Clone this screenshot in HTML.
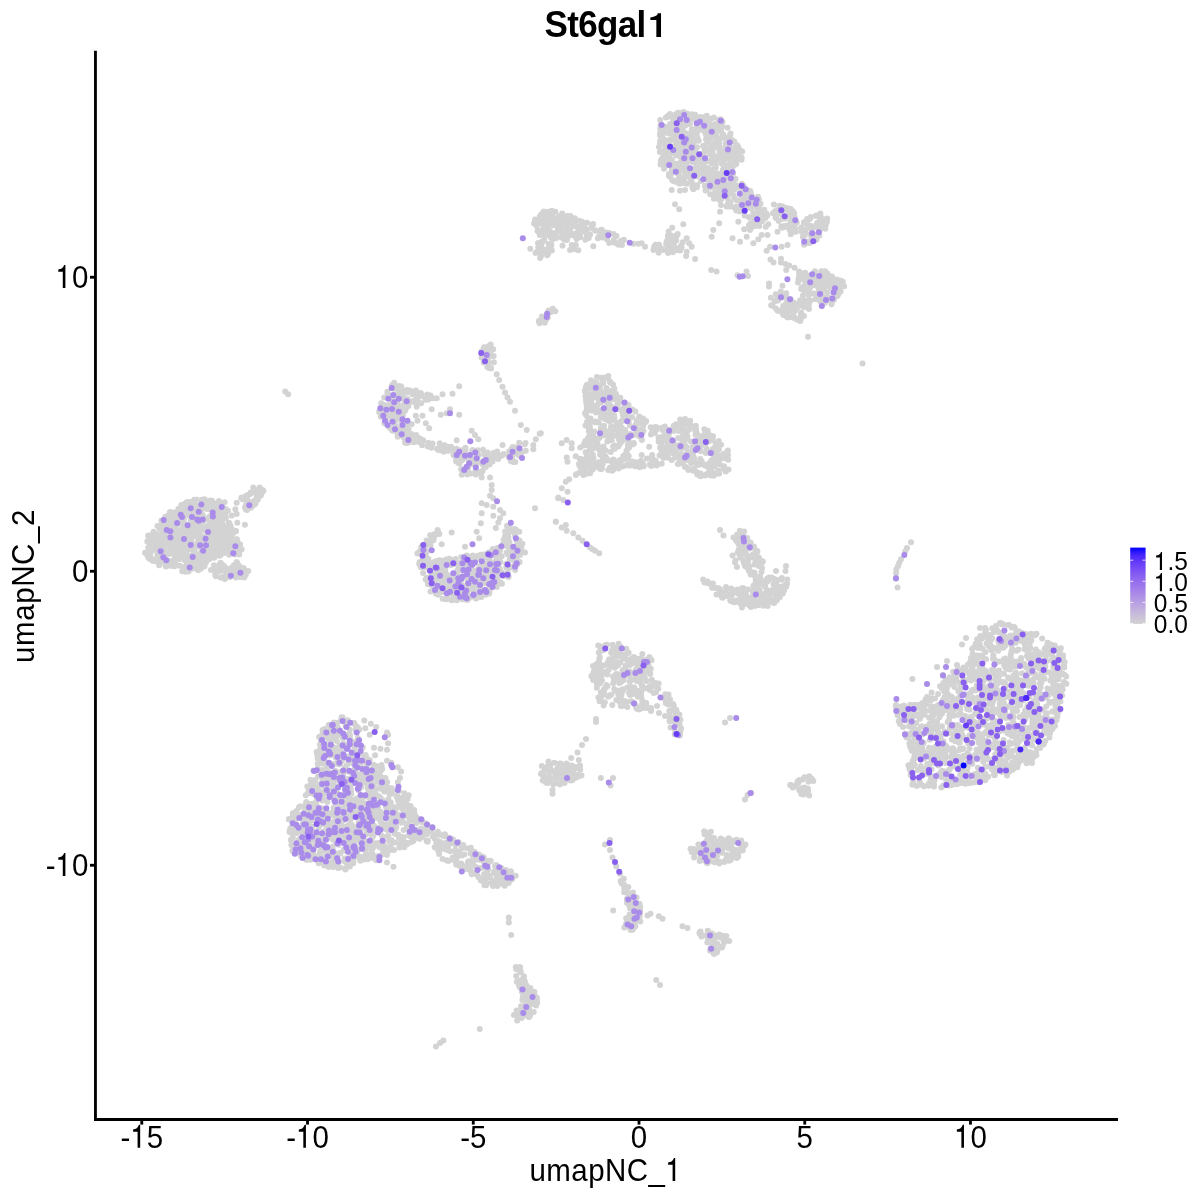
<!DOCTYPE html>
<html><head><meta charset="utf-8"><style>
html,body{margin:0;padding:0;background:#fff;width:1200px;height:1200px;overflow:hidden}
svg{display:block;will-change:transform}
.t{font-family:"Liberation Sans",sans-serif;font-size:29.5px;fill:#000}
.ti{font-family:"Liberation Sans",sans-serif;font-size:35px;font-weight:bold;fill:#000}
.lg{font-family:"Liberation Sans",sans-serif;font-size:24.5px;fill:#000}
</style></head><body>
<svg width="1200" height="1200" viewBox="0 0 1200 1200">
<rect width="1200" height="1200" fill="#fff"/>
<g transform="translate(604.50,37.00) scale(1,1.045)"><text id="t10" text-anchor="middle" class="ti" letter-spacing="-0.65">St6gal </text><path transform="translate(41.12,0) scale(0.017090,-0.017090)" d="M901 0H628V948H277V1097Q420 1120 503 1142Q620 1180 673 1232Q700 1280 708 1336H901Z"/></g>
<g fill="#D3D3D3"><circle cx="563.6" cy="217.4" r="3.0"/><circle cx="582.3" cy="227.6" r="3.0"/><circle cx="540.1" cy="234.3" r="3.0"/><circle cx="538.3" cy="230.8" r="3.0"/><circle cx="541.2" cy="214.6" r="3.0"/><circle cx="545.9" cy="220.9" r="3.0"/><circle cx="586.0" cy="229.0" r="3.0"/><circle cx="547.7" cy="215.9" r="3.0"/><circle cx="551.0" cy="237.8" r="3.0"/><circle cx="591.4" cy="227.9" r="3.0"/><circle cx="540.3" cy="220.0" r="3.0"/><circle cx="595.1" cy="230.5" r="3.0"/><circle cx="562.7" cy="238.0" r="3.0"/><circle cx="575.0" cy="224.5" r="3.0"/><circle cx="556.6" cy="237.4" r="3.0"/><circle cx="548.4" cy="233.4" r="3.0"/><circle cx="602.5" cy="237.4" r="3.0"/><circle cx="586.2" cy="231.9" r="3.0"/><circle cx="540.4" cy="243.4" r="3.0"/><circle cx="549.8" cy="215.9" r="3.0"/><circle cx="540.2" cy="246.6" r="3.0"/><circle cx="546.4" cy="222.0" r="3.0"/><circle cx="542.1" cy="231.5" r="3.0"/><circle cx="559.6" cy="229.9" r="3.0"/><circle cx="550.6" cy="221.3" r="3.0"/><circle cx="555.6" cy="233.2" r="3.0"/><circle cx="587.0" cy="222.7" r="3.0"/><circle cx="567.6" cy="237.0" r="3.0"/><circle cx="619.2" cy="242.9" r="3.0"/><circle cx="569.7" cy="229.2" r="3.0"/><circle cx="544.1" cy="240.3" r="3.0"/><circle cx="553.4" cy="218.0" r="3.0"/><circle cx="544.0" cy="227.5" r="3.0"/><circle cx="537.3" cy="251.6" r="3.0"/><circle cx="557.3" cy="226.7" r="3.0"/><circle cx="567.2" cy="216.1" r="3.0"/><circle cx="576.2" cy="233.2" r="3.0"/><circle cx="542.6" cy="215.2" r="3.0"/><circle cx="565.3" cy="222.8" r="3.0"/><circle cx="558.1" cy="227.6" r="3.0"/><circle cx="549.8" cy="246.7" r="3.0"/><circle cx="564.1" cy="220.9" r="3.0"/><circle cx="555.0" cy="234.7" r="3.0"/><circle cx="537.5" cy="223.5" r="3.0"/><circle cx="554.5" cy="221.0" r="3.0"/><circle cx="552.4" cy="220.0" r="3.0"/><circle cx="609.2" cy="232.9" r="3.0"/><circle cx="542.5" cy="241.5" r="3.0"/><circle cx="601.3" cy="232.9" r="3.0"/><circle cx="550.8" cy="247.6" r="3.0"/><circle cx="546.2" cy="217.5" r="3.0"/><circle cx="547.9" cy="249.3" r="3.0"/><circle cx="621.6" cy="241.3" r="3.0"/><circle cx="566.0" cy="236.2" r="3.0"/><circle cx="620.8" cy="241.0" r="3.0"/><circle cx="557.2" cy="224.2" r="3.0"/><circle cx="556.2" cy="238.0" r="3.0"/><circle cx="557.9" cy="230.1" r="3.0"/><circle cx="546.6" cy="253.3" r="3.0"/><circle cx="566.3" cy="231.9" r="3.0"/><circle cx="579.3" cy="235.4" r="3.0"/><circle cx="573.9" cy="219.0" r="3.0"/><circle cx="550.2" cy="232.7" r="3.0"/><circle cx="599.1" cy="236.6" r="3.0"/><circle cx="563.8" cy="234.8" r="3.0"/><circle cx="544.4" cy="236.8" r="3.0"/><circle cx="557.0" cy="223.4" r="3.0"/><circle cx="603.2" cy="234.3" r="3.0"/><circle cx="589.1" cy="234.2" r="3.0"/><circle cx="575.0" cy="235.5" r="3.0"/><circle cx="545.7" cy="231.2" r="3.0"/><circle cx="541.4" cy="221.7" r="3.0"/><circle cx="541.5" cy="241.9" r="3.0"/><circle cx="548.6" cy="244.1" r="3.0"/><circle cx="570.2" cy="233.3" r="3.0"/><circle cx="549.3" cy="230.7" r="3.0"/><circle cx="580.5" cy="226.3" r="3.0"/><circle cx="552.3" cy="225.4" r="3.0"/><circle cx="583.9" cy="231.1" r="3.0"/><circle cx="536.6" cy="226.0" r="3.0"/><circle cx="590.1" cy="234.5" r="3.0"/><circle cx="540.7" cy="256.8" r="3.0"/><circle cx="544.3" cy="222.9" r="3.0"/><circle cx="538.5" cy="247.1" r="3.0"/><circle cx="558.9" cy="216.4" r="3.0"/><circle cx="548.2" cy="253.7" r="3.0"/><circle cx="542.9" cy="213.0" r="3.0"/><circle cx="595.8" cy="230.4" r="3.0"/><circle cx="541.4" cy="254.6" r="3.0"/><circle cx="542.4" cy="250.7" r="3.0"/><circle cx="540.9" cy="251.0" r="3.0"/><circle cx="575.1" cy="226.3" r="3.0"/><circle cx="558.7" cy="216.4" r="3.0"/><circle cx="581.5" cy="221.6" r="3.0"/><circle cx="544.7" cy="217.9" r="3.0"/><circle cx="539.5" cy="219.9" r="3.0"/><circle cx="562.6" cy="224.7" r="3.0"/><circle cx="599.8" cy="236.3" r="3.0"/><circle cx="551.7" cy="232.7" r="3.0"/><circle cx="569.7" cy="234.2" r="3.0"/><circle cx="570.7" cy="226.7" r="3.0"/><circle cx="539.8" cy="216.5" r="3.0"/><circle cx="541.2" cy="245.3" r="3.0"/><circle cx="557.6" cy="218.0" r="3.0"/><circle cx="542.5" cy="250.0" r="3.0"/><circle cx="559.9" cy="221.8" r="3.0"/><circle cx="560.9" cy="232.0" r="3.0"/><circle cx="548.9" cy="231.4" r="3.0"/><circle cx="562.3" cy="227.2" r="3.0"/><circle cx="576.9" cy="234.0" r="3.0"/><circle cx="552.8" cy="234.1" r="3.0"/><circle cx="535.4" cy="222.8" r="3.0"/><circle cx="542.9" cy="229.2" r="3.0"/><circle cx="561.9" cy="221.3" r="3.0"/><circle cx="586.7" cy="235.3" r="3.0"/><circle cx="569.4" cy="225.7" r="3.0"/><circle cx="538.9" cy="249.7" r="3.0"/><circle cx="613.8" cy="239.9" r="3.0"/><circle cx="547.3" cy="235.0" r="3.0"/><circle cx="555.3" cy="211.8" r="3.0"/><circle cx="546.8" cy="227.3" r="3.0"/><circle cx="544.3" cy="249.8" r="3.0"/><circle cx="579.4" cy="235.6" r="3.0"/><circle cx="541.6" cy="222.9" r="3.0"/><circle cx="578.6" cy="228.4" r="3.0"/><circle cx="548.0" cy="222.3" r="3.0"/><circle cx="540.4" cy="223.0" r="3.0"/><circle cx="580.6" cy="232.2" r="3.0"/><circle cx="574.7" cy="223.0" r="3.0"/><circle cx="553.6" cy="237.8" r="3.0"/><circle cx="547.5" cy="235.1" r="3.0"/><circle cx="607.5" cy="234.3" r="3.0"/><circle cx="574.8" cy="224.6" r="3.0"/><circle cx="547.4" cy="226.6" r="3.0"/><circle cx="567.9" cy="228.9" r="3.0"/><circle cx="566.9" cy="230.5" r="3.0"/><circle cx="544.0" cy="249.7" r="3.0"/><circle cx="557.0" cy="222.9" r="3.0"/><circle cx="599.7" cy="231.6" r="3.0"/><circle cx="576.7" cy="226.5" r="3.0"/><circle cx="592.9" cy="224.5" r="3.0"/><circle cx="584.2" cy="228.9" r="3.0"/><circle cx="549.8" cy="218.0" r="3.0"/><circle cx="578.9" cy="220.7" r="3.0"/><circle cx="552.0" cy="214.6" r="3.0"/><circle cx="556.1" cy="222.5" r="3.0"/><circle cx="601.2" cy="229.8" r="3.0"/><circle cx="571.6" cy="235.1" r="3.0"/><circle cx="568.3" cy="226.3" r="3.0"/><circle cx="540.5" cy="223.4" r="3.0"/><circle cx="558.9" cy="222.1" r="3.0"/><circle cx="570.3" cy="231.4" r="3.0"/><circle cx="544.6" cy="217.6" r="3.0"/><circle cx="618.2" cy="244.4" r="3.0"/><circle cx="575.4" cy="236.3" r="3.0"/><circle cx="538.5" cy="247.2" r="3.0"/><circle cx="592.0" cy="224.7" r="3.0"/><circle cx="546.3" cy="222.2" r="3.0"/><circle cx="544.9" cy="213.7" r="3.0"/><circle cx="569.3" cy="220.9" r="3.0"/><circle cx="535.1" cy="219.5" r="3.0"/><circle cx="540.3" cy="216.2" r="3.0"/><circle cx="543.8" cy="211.4" r="3.0"/><circle cx="548.4" cy="211.8" r="3.0"/><circle cx="551.8" cy="210.8" r="3.0"/><circle cx="562.1" cy="213.6" r="3.0"/><circle cx="570.5" cy="216.0" r="3.0"/><circle cx="574.8" cy="218.2" r="3.0"/><circle cx="584.9" cy="222.9" r="3.0"/><circle cx="593.1" cy="223.9" r="3.0"/><circle cx="601.9" cy="229.9" r="3.0"/><circle cx="606.6" cy="232.5" r="3.0"/><circle cx="613.5" cy="234.0" r="3.0"/><circle cx="616.5" cy="235.9" r="3.0"/><circle cx="623.9" cy="239.7" r="3.0"/><circle cx="622.0" cy="245.0" r="3.0"/><circle cx="618.6" cy="244.5" r="3.0"/><circle cx="614.8" cy="242.8" r="3.0"/><circle cx="607.0" cy="239.6" r="3.0"/><circle cx="597.9" cy="238.3" r="3.0"/><circle cx="588.7" cy="238.1" r="3.0"/><circle cx="585.4" cy="239.8" r="3.0"/><circle cx="580.1" cy="237.2" r="3.0"/><circle cx="576.6" cy="239.0" r="3.0"/><circle cx="566.9" cy="240.0" r="3.0"/><circle cx="564.4" cy="239.8" r="3.0"/><circle cx="561.4" cy="237.2" r="3.0"/><circle cx="552.7" cy="239.2" r="3.0"/><circle cx="551.3" cy="244.7" r="3.0"/><circle cx="551.9" cy="250.6" r="3.0"/><circle cx="547.1" cy="255.2" r="3.0"/><circle cx="540.1" cy="257.9" r="3.0"/><circle cx="535.6" cy="253.0" r="3.0"/><circle cx="538.0" cy="242.9" r="3.0"/><circle cx="539.8" cy="234.9" r="3.0"/><circle cx="537.6" cy="231.1" r="3.0"/><circle cx="534.0" cy="223.5" r="3.0"/><circle cx="540.7" cy="321.0" r="3.0"/><circle cx="543.8" cy="320.7" r="3.0"/><circle cx="550.7" cy="312.2" r="3.0"/><circle cx="547.2" cy="313.5" r="3.0"/><circle cx="546.2" cy="319.6" r="3.0"/><circle cx="544.8" cy="318.2" r="3.0"/><circle cx="539.6" cy="321.6" r="3.0"/><circle cx="542.6" cy="317.3" r="3.0"/><circle cx="538.9" cy="320.9" r="3.0"/><circle cx="541.9" cy="316.4" r="3.0"/><circle cx="548.5" cy="310.6" r="3.0"/><circle cx="552.8" cy="308.7" r="3.0"/><circle cx="555.3" cy="311.3" r="3.0"/><circle cx="547.8" cy="317.5" r="3.0"/><circle cx="544.8" cy="322.7" r="3.0"/><circle cx="539.5" cy="323.2" r="3.0"/><circle cx="538.3" cy="231.3" r="3.0"/><circle cx="530.3" cy="248.7" r="3.0"/><circle cx="562.5" cy="245.8" r="3.0"/><circle cx="571.7" cy="245.0" r="3.0"/><circle cx="574.2" cy="249.2" r="3.0"/><circle cx="578.3" cy="250.3" r="3.0"/><circle cx="570.0" cy="250.0" r="3.0"/><circle cx="575.8" cy="245.0" r="3.0"/><circle cx="593.3" cy="246.3" r="3.0"/><circle cx="609.2" cy="243.0" r="3.0"/><circle cx="633.3" cy="243.7" r="3.0"/><circle cx="638.3" cy="243.7" r="3.0"/><circle cx="707.7" cy="142.6" r="3.0"/><circle cx="726.5" cy="137.7" r="3.0"/><circle cx="698.9" cy="128.9" r="3.0"/><circle cx="680.8" cy="142.0" r="3.0"/><circle cx="724.3" cy="188.0" r="3.0"/><circle cx="680.7" cy="113.8" r="3.0"/><circle cx="678.7" cy="148.7" r="3.0"/><circle cx="718.6" cy="119.8" r="3.0"/><circle cx="669.5" cy="158.3" r="3.0"/><circle cx="718.8" cy="186.5" r="3.0"/><circle cx="668.4" cy="131.5" r="3.0"/><circle cx="734.8" cy="160.0" r="3.0"/><circle cx="689.5" cy="148.1" r="3.0"/><circle cx="720.7" cy="153.9" r="3.0"/><circle cx="680.7" cy="113.2" r="3.0"/><circle cx="676.2" cy="114.2" r="3.0"/><circle cx="719.0" cy="186.7" r="3.0"/><circle cx="726.8" cy="155.5" r="3.0"/><circle cx="713.8" cy="129.4" r="3.0"/><circle cx="689.5" cy="172.9" r="3.0"/><circle cx="682.8" cy="159.4" r="3.0"/><circle cx="751.4" cy="208.5" r="3.0"/><circle cx="678.5" cy="137.8" r="3.0"/><circle cx="702.3" cy="172.5" r="3.0"/><circle cx="700.5" cy="126.8" r="3.0"/><circle cx="720.2" cy="200.2" r="3.0"/><circle cx="718.8" cy="185.1" r="3.0"/><circle cx="692.0" cy="161.2" r="3.0"/><circle cx="722.4" cy="161.8" r="3.0"/><circle cx="730.8" cy="164.3" r="3.0"/><circle cx="726.4" cy="169.2" r="3.0"/><circle cx="678.1" cy="167.3" r="3.0"/><circle cx="670.1" cy="127.4" r="3.0"/><circle cx="705.7" cy="123.1" r="3.0"/><circle cx="706.9" cy="171.6" r="3.0"/><circle cx="763.6" cy="218.6" r="3.0"/><circle cx="674.1" cy="170.7" r="3.0"/><circle cx="687.2" cy="171.1" r="3.0"/><circle cx="693.4" cy="116.8" r="3.0"/><circle cx="678.4" cy="131.2" r="3.0"/><circle cx="716.7" cy="186.2" r="3.0"/><circle cx="719.4" cy="179.7" r="3.0"/><circle cx="721.8" cy="154.2" r="3.0"/><circle cx="731.3" cy="148.7" r="3.0"/><circle cx="705.9" cy="171.9" r="3.0"/><circle cx="697.4" cy="124.8" r="3.0"/><circle cx="697.6" cy="138.5" r="3.0"/><circle cx="722.5" cy="180.7" r="3.0"/><circle cx="710.6" cy="128.1" r="3.0"/><circle cx="674.8" cy="123.6" r="3.0"/><circle cx="687.4" cy="113.8" r="3.0"/><circle cx="729.3" cy="177.6" r="3.0"/><circle cx="696.9" cy="187.3" r="3.0"/><circle cx="716.8" cy="159.5" r="3.0"/><circle cx="684.5" cy="119.3" r="3.0"/><circle cx="674.0" cy="135.6" r="3.0"/><circle cx="725.2" cy="171.2" r="3.0"/><circle cx="677.5" cy="148.3" r="3.0"/><circle cx="691.4" cy="118.1" r="3.0"/><circle cx="756.2" cy="203.2" r="3.0"/><circle cx="751.2" cy="198.8" r="3.0"/><circle cx="708.1" cy="138.7" r="3.0"/><circle cx="669.9" cy="139.4" r="3.0"/><circle cx="662.6" cy="151.4" r="3.0"/><circle cx="740.8" cy="193.0" r="3.0"/><circle cx="751.3" cy="194.9" r="3.0"/><circle cx="687.6" cy="176.6" r="3.0"/><circle cx="715.9" cy="143.2" r="3.0"/><circle cx="660.0" cy="142.7" r="3.0"/><circle cx="694.5" cy="140.2" r="3.0"/><circle cx="734.5" cy="189.6" r="3.0"/><circle cx="750.7" cy="193.3" r="3.0"/><circle cx="692.2" cy="137.1" r="3.0"/><circle cx="661.3" cy="124.9" r="3.0"/><circle cx="673.9" cy="115.8" r="3.0"/><circle cx="728.1" cy="193.2" r="3.0"/><circle cx="723.3" cy="154.6" r="3.0"/><circle cx="748.3" cy="207.4" r="3.0"/><circle cx="753.8" cy="218.4" r="3.0"/><circle cx="681.0" cy="125.5" r="3.0"/><circle cx="689.9" cy="124.1" r="3.0"/><circle cx="680.9" cy="149.5" r="3.0"/><circle cx="686.6" cy="145.2" r="3.0"/><circle cx="737.1" cy="155.1" r="3.0"/><circle cx="703.8" cy="163.1" r="3.0"/><circle cx="712.3" cy="169.4" r="3.0"/><circle cx="712.7" cy="152.7" r="3.0"/><circle cx="713.1" cy="125.2" r="3.0"/><circle cx="745.0" cy="193.3" r="3.0"/><circle cx="697.5" cy="159.0" r="3.0"/><circle cx="661.1" cy="136.4" r="3.0"/><circle cx="713.5" cy="156.4" r="3.0"/><circle cx="709.0" cy="174.1" r="3.0"/><circle cx="741.3" cy="199.7" r="3.0"/><circle cx="729.4" cy="152.9" r="3.0"/><circle cx="694.3" cy="130.5" r="3.0"/><circle cx="722.0" cy="127.1" r="3.0"/><circle cx="684.5" cy="134.7" r="3.0"/><circle cx="675.5" cy="141.2" r="3.0"/><circle cx="694.3" cy="173.0" r="3.0"/><circle cx="676.0" cy="150.5" r="3.0"/><circle cx="745.8" cy="197.4" r="3.0"/><circle cx="706.2" cy="135.2" r="3.0"/><circle cx="681.0" cy="157.5" r="3.0"/><circle cx="662.1" cy="158.7" r="3.0"/><circle cx="745.3" cy="192.8" r="3.0"/><circle cx="713.4" cy="185.8" r="3.0"/><circle cx="709.3" cy="128.9" r="3.0"/><circle cx="724.7" cy="159.4" r="3.0"/><circle cx="705.6" cy="179.0" r="3.0"/><circle cx="755.1" cy="202.2" r="3.0"/><circle cx="733.1" cy="186.8" r="3.0"/><circle cx="708.3" cy="148.8" r="3.0"/><circle cx="736.8" cy="185.4" r="3.0"/><circle cx="685.8" cy="161.6" r="3.0"/><circle cx="708.4" cy="184.5" r="3.0"/><circle cx="730.3" cy="202.6" r="3.0"/><circle cx="701.1" cy="169.2" r="3.0"/><circle cx="718.1" cy="131.1" r="3.0"/><circle cx="715.4" cy="124.2" r="3.0"/><circle cx="721.5" cy="175.2" r="3.0"/><circle cx="715.7" cy="160.0" r="3.0"/><circle cx="733.6" cy="158.0" r="3.0"/><circle cx="664.6" cy="144.3" r="3.0"/><circle cx="704.4" cy="161.2" r="3.0"/><circle cx="735.1" cy="153.3" r="3.0"/><circle cx="687.5" cy="138.5" r="3.0"/><circle cx="716.3" cy="137.9" r="3.0"/><circle cx="681.7" cy="127.5" r="3.0"/><circle cx="743.8" cy="206.3" r="3.0"/><circle cx="728.1" cy="166.8" r="3.0"/><circle cx="720.2" cy="138.7" r="3.0"/><circle cx="690.7" cy="176.0" r="3.0"/><circle cx="687.8" cy="156.1" r="3.0"/><circle cx="686.2" cy="161.9" r="3.0"/><circle cx="685.3" cy="147.5" r="3.0"/><circle cx="711.1" cy="162.1" r="3.0"/><circle cx="728.4" cy="188.9" r="3.0"/><circle cx="749.4" cy="217.4" r="3.0"/><circle cx="685.8" cy="124.3" r="3.0"/><circle cx="674.0" cy="139.6" r="3.0"/><circle cx="744.3" cy="189.9" r="3.0"/><circle cx="756.7" cy="203.8" r="3.0"/><circle cx="687.4" cy="139.6" r="3.0"/><circle cx="673.7" cy="169.6" r="3.0"/><circle cx="664.8" cy="166.6" r="3.0"/><circle cx="674.2" cy="169.4" r="3.0"/><circle cx="713.1" cy="175.0" r="3.0"/><circle cx="720.2" cy="189.6" r="3.0"/><circle cx="725.4" cy="191.6" r="3.0"/><circle cx="727.1" cy="151.7" r="3.0"/><circle cx="710.5" cy="173.4" r="3.0"/><circle cx="706.2" cy="161.4" r="3.0"/><circle cx="702.7" cy="170.9" r="3.0"/><circle cx="688.2" cy="171.2" r="3.0"/><circle cx="693.2" cy="147.2" r="3.0"/><circle cx="722.8" cy="186.0" r="3.0"/><circle cx="725.3" cy="188.7" r="3.0"/><circle cx="725.6" cy="183.9" r="3.0"/><circle cx="727.3" cy="193.2" r="3.0"/><circle cx="723.9" cy="191.4" r="3.0"/><circle cx="669.5" cy="133.5" r="3.0"/><circle cx="686.7" cy="147.5" r="3.0"/><circle cx="704.7" cy="149.4" r="3.0"/><circle cx="705.7" cy="186.8" r="3.0"/><circle cx="700.9" cy="181.1" r="3.0"/><circle cx="710.6" cy="160.3" r="3.0"/><circle cx="681.7" cy="130.1" r="3.0"/><circle cx="678.9" cy="118.3" r="3.0"/><circle cx="743.5" cy="195.2" r="3.0"/><circle cx="752.4" cy="197.0" r="3.0"/><circle cx="667.1" cy="148.5" r="3.0"/><circle cx="664.9" cy="155.1" r="3.0"/><circle cx="721.6" cy="163.3" r="3.0"/><circle cx="729.3" cy="185.4" r="3.0"/><circle cx="704.3" cy="157.2" r="3.0"/><circle cx="690.5" cy="119.5" r="3.0"/><circle cx="692.3" cy="162.1" r="3.0"/><circle cx="756.9" cy="206.0" r="3.0"/><circle cx="687.3" cy="161.4" r="3.0"/><circle cx="750.0" cy="206.5" r="3.0"/><circle cx="747.1" cy="191.8" r="3.0"/><circle cx="684.1" cy="182.8" r="3.0"/><circle cx="732.9" cy="166.4" r="3.0"/><circle cx="681.1" cy="142.0" r="3.0"/><circle cx="741.0" cy="204.2" r="3.0"/><circle cx="708.9" cy="122.7" r="3.0"/><circle cx="747.1" cy="201.9" r="3.0"/><circle cx="683.9" cy="179.6" r="3.0"/><circle cx="757.0" cy="215.0" r="3.0"/><circle cx="715.7" cy="167.7" r="3.0"/><circle cx="723.2" cy="134.4" r="3.0"/><circle cx="679.5" cy="133.4" r="3.0"/><circle cx="735.5" cy="154.5" r="3.0"/><circle cx="720.4" cy="159.1" r="3.0"/><circle cx="715.2" cy="129.8" r="3.0"/><circle cx="699.5" cy="124.8" r="3.0"/><circle cx="727.9" cy="203.7" r="3.0"/><circle cx="675.5" cy="181.7" r="3.0"/><circle cx="696.3" cy="172.7" r="3.0"/><circle cx="711.8" cy="178.2" r="3.0"/><circle cx="742.7" cy="207.3" r="3.0"/><circle cx="662.5" cy="135.8" r="3.0"/><circle cx="678.2" cy="122.2" r="3.0"/><circle cx="762.5" cy="217.9" r="3.0"/><circle cx="702.0" cy="126.4" r="3.0"/><circle cx="720.4" cy="186.7" r="3.0"/><circle cx="701.6" cy="164.4" r="3.0"/><circle cx="662.6" cy="142.1" r="3.0"/><circle cx="757.8" cy="209.5" r="3.0"/><circle cx="736.4" cy="187.4" r="3.0"/><circle cx="691.2" cy="181.0" r="3.0"/><circle cx="694.0" cy="142.3" r="3.0"/><circle cx="672.0" cy="168.3" r="3.0"/><circle cx="676.9" cy="140.1" r="3.0"/><circle cx="679.8" cy="116.7" r="3.0"/><circle cx="761.1" cy="212.9" r="3.0"/><circle cx="707.5" cy="123.7" r="3.0"/><circle cx="760.5" cy="210.1" r="3.0"/><circle cx="727.5" cy="164.9" r="3.0"/><circle cx="710.9" cy="185.3" r="3.0"/><circle cx="674.0" cy="138.2" r="3.0"/><circle cx="719.2" cy="129.3" r="3.0"/><circle cx="703.6" cy="130.5" r="3.0"/><circle cx="695.1" cy="131.9" r="3.0"/><circle cx="712.3" cy="149.3" r="3.0"/><circle cx="681.6" cy="167.8" r="3.0"/><circle cx="689.8" cy="142.4" r="3.0"/><circle cx="680.5" cy="154.7" r="3.0"/><circle cx="695.8" cy="128.7" r="3.0"/><circle cx="716.3" cy="134.0" r="3.0"/><circle cx="682.3" cy="178.7" r="3.0"/><circle cx="673.5" cy="133.4" r="3.0"/><circle cx="743.1" cy="194.9" r="3.0"/><circle cx="680.0" cy="121.7" r="3.0"/><circle cx="712.8" cy="144.2" r="3.0"/><circle cx="681.0" cy="183.4" r="3.0"/><circle cx="736.2" cy="206.5" r="3.0"/><circle cx="722.5" cy="135.9" r="3.0"/><circle cx="687.6" cy="134.1" r="3.0"/><circle cx="676.3" cy="155.5" r="3.0"/><circle cx="715.5" cy="164.1" r="3.0"/><circle cx="715.1" cy="126.5" r="3.0"/><circle cx="736.9" cy="207.1" r="3.0"/><circle cx="736.6" cy="156.7" r="3.0"/><circle cx="754.3" cy="223.0" r="3.0"/><circle cx="712.8" cy="172.0" r="3.0"/><circle cx="716.7" cy="174.7" r="3.0"/><circle cx="682.9" cy="133.6" r="3.0"/><circle cx="669.6" cy="141.5" r="3.0"/><circle cx="679.8" cy="114.5" r="3.0"/><circle cx="724.3" cy="179.3" r="3.0"/><circle cx="715.9" cy="193.9" r="3.0"/><circle cx="671.9" cy="169.7" r="3.0"/><circle cx="713.4" cy="144.9" r="3.0"/><circle cx="671.8" cy="159.5" r="3.0"/><circle cx="673.4" cy="181.1" r="3.0"/><circle cx="721.3" cy="199.0" r="3.0"/><circle cx="716.2" cy="158.3" r="3.0"/><circle cx="695.6" cy="140.3" r="3.0"/><circle cx="695.2" cy="163.0" r="3.0"/><circle cx="758.7" cy="206.9" r="3.0"/><circle cx="704.8" cy="185.8" r="3.0"/><circle cx="698.4" cy="174.0" r="3.0"/><circle cx="666.0" cy="162.7" r="3.0"/><circle cx="728.0" cy="206.2" r="3.0"/><circle cx="755.6" cy="215.0" r="3.0"/><circle cx="688.4" cy="175.3" r="3.0"/><circle cx="685.9" cy="172.8" r="3.0"/><circle cx="690.0" cy="147.9" r="3.0"/><circle cx="714.8" cy="143.6" r="3.0"/><circle cx="709.6" cy="174.3" r="3.0"/><circle cx="674.7" cy="126.9" r="3.0"/><circle cx="672.8" cy="146.5" r="3.0"/><circle cx="703.1" cy="145.9" r="3.0"/><circle cx="685.1" cy="122.7" r="3.0"/><circle cx="725.4" cy="178.5" r="3.0"/><circle cx="729.9" cy="135.8" r="3.0"/><circle cx="718.6" cy="183.5" r="3.0"/><circle cx="709.9" cy="148.5" r="3.0"/><circle cx="685.0" cy="138.2" r="3.0"/><circle cx="714.7" cy="156.9" r="3.0"/><circle cx="684.6" cy="177.0" r="3.0"/><circle cx="712.4" cy="145.5" r="3.0"/><circle cx="706.7" cy="119.7" r="3.0"/><circle cx="701.0" cy="163.5" r="3.0"/><circle cx="695.4" cy="153.3" r="3.0"/><circle cx="751.8" cy="207.6" r="3.0"/><circle cx="715.3" cy="198.1" r="3.0"/><circle cx="740.1" cy="200.5" r="3.0"/><circle cx="722.8" cy="170.2" r="3.0"/><circle cx="700.1" cy="164.9" r="3.0"/><circle cx="690.6" cy="157.8" r="3.0"/><circle cx="719.4" cy="157.0" r="3.0"/><circle cx="707.2" cy="133.8" r="3.0"/><circle cx="691.8" cy="129.3" r="3.0"/><circle cx="721.6" cy="179.9" r="3.0"/><circle cx="750.5" cy="223.6" r="3.0"/><circle cx="680.8" cy="161.9" r="3.0"/><circle cx="715.2" cy="191.9" r="3.0"/><circle cx="701.2" cy="153.9" r="3.0"/><circle cx="723.8" cy="153.2" r="3.0"/><circle cx="716.1" cy="124.0" r="3.0"/><circle cx="699.5" cy="158.9" r="3.0"/><circle cx="720.1" cy="179.0" r="3.0"/><circle cx="755.1" cy="224.2" r="3.0"/><circle cx="711.9" cy="163.5" r="3.0"/><circle cx="696.1" cy="173.9" r="3.0"/><circle cx="734.2" cy="207.5" r="3.0"/><circle cx="767.3" cy="215.4" r="3.0"/><circle cx="704.6" cy="130.6" r="3.0"/><circle cx="690.2" cy="171.8" r="3.0"/><circle cx="713.9" cy="134.3" r="3.0"/><circle cx="724.7" cy="153.4" r="3.0"/><circle cx="663.0" cy="160.2" r="3.0"/><circle cx="722.8" cy="189.9" r="3.0"/><circle cx="680.0" cy="170.2" r="3.0"/><circle cx="719.2" cy="143.3" r="3.0"/><circle cx="729.5" cy="174.1" r="3.0"/><circle cx="703.6" cy="126.6" r="3.0"/><circle cx="670.1" cy="124.1" r="3.0"/><circle cx="677.1" cy="173.0" r="3.0"/><circle cx="697.3" cy="132.1" r="3.0"/><circle cx="687.7" cy="124.0" r="3.0"/><circle cx="696.7" cy="164.6" r="3.0"/><circle cx="700.8" cy="118.8" r="3.0"/><circle cx="726.6" cy="141.4" r="3.0"/><circle cx="757.2" cy="207.0" r="3.0"/><circle cx="691.7" cy="182.3" r="3.0"/><circle cx="682.7" cy="148.3" r="3.0"/><circle cx="677.4" cy="154.0" r="3.0"/><circle cx="690.3" cy="177.5" r="3.0"/><circle cx="671.0" cy="174.3" r="3.0"/><circle cx="700.7" cy="159.2" r="3.0"/><circle cx="665.5" cy="126.8" r="3.0"/><circle cx="685.3" cy="134.6" r="3.0"/><circle cx="689.5" cy="140.0" r="3.0"/><circle cx="695.9" cy="130.6" r="3.0"/><circle cx="672.4" cy="163.8" r="3.0"/><circle cx="750.3" cy="205.7" r="3.0"/><circle cx="675.8" cy="153.4" r="3.0"/><circle cx="737.8" cy="156.2" r="3.0"/><circle cx="683.3" cy="164.9" r="3.0"/><circle cx="723.0" cy="155.1" r="3.0"/><circle cx="685.4" cy="183.0" r="3.0"/><circle cx="671.8" cy="171.9" r="3.0"/><circle cx="718.0" cy="143.8" r="3.0"/><circle cx="730.7" cy="178.3" r="3.0"/><circle cx="692.5" cy="157.7" r="3.0"/><circle cx="667.8" cy="133.0" r="3.0"/><circle cx="720.2" cy="154.4" r="3.0"/><circle cx="713.4" cy="146.9" r="3.0"/><circle cx="665.6" cy="148.6" r="3.0"/><circle cx="683.2" cy="127.1" r="3.0"/><circle cx="737.2" cy="145.2" r="3.0"/><circle cx="688.8" cy="115.9" r="3.0"/><circle cx="733.1" cy="189.4" r="3.0"/><circle cx="697.0" cy="160.3" r="3.0"/><circle cx="730.8" cy="193.5" r="3.0"/><circle cx="697.1" cy="185.3" r="3.0"/><circle cx="678.3" cy="125.8" r="3.0"/><circle cx="662.7" cy="131.3" r="3.0"/><circle cx="680.1" cy="147.6" r="3.0"/><circle cx="700.2" cy="117.0" r="3.0"/><circle cx="692.5" cy="186.4" r="3.0"/><circle cx="721.1" cy="195.5" r="3.0"/><circle cx="686.4" cy="162.9" r="3.0"/><circle cx="733.6" cy="152.9" r="3.0"/><circle cx="685.2" cy="125.4" r="3.0"/><circle cx="758.9" cy="199.3" r="3.0"/><circle cx="734.4" cy="198.1" r="3.0"/><circle cx="708.1" cy="118.8" r="3.0"/><circle cx="735.1" cy="162.1" r="3.0"/><circle cx="728.5" cy="175.5" r="3.0"/><circle cx="685.8" cy="119.4" r="3.0"/><circle cx="697.7" cy="160.2" r="3.0"/><circle cx="680.5" cy="148.5" r="3.0"/><circle cx="732.1" cy="140.1" r="3.0"/><circle cx="684.9" cy="172.2" r="3.0"/><circle cx="697.0" cy="147.2" r="3.0"/><circle cx="720.3" cy="151.1" r="3.0"/><circle cx="731.7" cy="181.8" r="3.0"/><circle cx="690.2" cy="154.3" r="3.0"/><circle cx="681.0" cy="119.5" r="3.0"/><circle cx="689.2" cy="135.3" r="3.0"/><circle cx="735.5" cy="164.4" r="3.0"/><circle cx="670.8" cy="150.1" r="3.0"/><circle cx="709.9" cy="154.5" r="3.0"/><circle cx="676.8" cy="120.8" r="3.0"/><circle cx="720.3" cy="125.1" r="3.0"/><circle cx="712.1" cy="162.8" r="3.0"/><circle cx="679.2" cy="175.4" r="3.0"/><circle cx="729.2" cy="185.2" r="3.0"/><circle cx="686.0" cy="141.0" r="3.0"/><circle cx="673.6" cy="115.7" r="3.0"/><circle cx="743.5" cy="209.8" r="3.0"/><circle cx="690.9" cy="134.0" r="3.0"/><circle cx="744.6" cy="208.7" r="3.0"/><circle cx="740.0" cy="150.3" r="3.0"/><circle cx="693.6" cy="155.2" r="3.0"/><circle cx="719.0" cy="155.3" r="3.0"/><circle cx="713.3" cy="130.7" r="3.0"/><circle cx="691.3" cy="179.8" r="3.0"/><circle cx="676.3" cy="163.8" r="3.0"/><circle cx="662.7" cy="163.4" r="3.0"/><circle cx="752.4" cy="203.7" r="3.0"/><circle cx="705.1" cy="145.3" r="3.0"/><circle cx="731.1" cy="172.1" r="3.0"/><circle cx="704.7" cy="151.7" r="3.0"/><circle cx="706.6" cy="189.7" r="3.0"/><circle cx="749.2" cy="217.2" r="3.0"/><circle cx="676.4" cy="146.8" r="3.0"/><circle cx="707.1" cy="177.8" r="3.0"/><circle cx="696.6" cy="135.1" r="3.0"/><circle cx="667.7" cy="150.0" r="3.0"/><circle cx="758.3" cy="212.7" r="3.0"/><circle cx="726.5" cy="206.5" r="3.0"/><circle cx="725.3" cy="146.9" r="3.0"/><circle cx="711.2" cy="187.5" r="3.0"/><circle cx="691.3" cy="152.3" r="3.0"/><circle cx="707.5" cy="122.4" r="3.0"/><circle cx="731.0" cy="155.6" r="3.0"/><circle cx="722.2" cy="160.7" r="3.0"/><circle cx="716.6" cy="177.9" r="3.0"/><circle cx="701.9" cy="125.7" r="3.0"/><circle cx="718.6" cy="125.5" r="3.0"/><circle cx="668.8" cy="174.0" r="3.0"/><circle cx="686.0" cy="169.2" r="3.0"/><circle cx="719.3" cy="138.7" r="3.0"/><circle cx="721.3" cy="125.6" r="3.0"/><circle cx="714.8" cy="180.7" r="3.0"/><circle cx="667.2" cy="159.8" r="3.0"/><circle cx="666.4" cy="163.4" r="3.0"/><circle cx="736.9" cy="200.2" r="3.0"/><circle cx="664.7" cy="139.9" r="3.0"/><circle cx="723.7" cy="137.2" r="3.0"/><circle cx="740.3" cy="152.0" r="3.0"/><circle cx="742.3" cy="191.3" r="3.0"/><circle cx="669.3" cy="176.1" r="3.0"/><circle cx="686.3" cy="134.9" r="3.0"/><circle cx="722.3" cy="125.7" r="3.0"/><circle cx="660.6" cy="125.3" r="3.0"/><circle cx="719.3" cy="146.1" r="3.0"/><circle cx="733.9" cy="156.6" r="3.0"/><circle cx="717.6" cy="192.4" r="3.0"/><circle cx="674.9" cy="170.6" r="3.0"/><circle cx="754.4" cy="205.2" r="3.0"/><circle cx="662.2" cy="133.6" r="3.0"/><circle cx="748.3" cy="191.2" r="3.0"/><circle cx="701.5" cy="167.6" r="3.0"/><circle cx="694.6" cy="137.6" r="3.0"/><circle cx="663.1" cy="132.2" r="3.0"/><circle cx="698.0" cy="166.7" r="3.0"/><circle cx="721.8" cy="157.4" r="3.0"/><circle cx="722.0" cy="151.2" r="3.0"/><circle cx="688.3" cy="144.2" r="3.0"/><circle cx="713.3" cy="142.9" r="3.0"/><circle cx="720.9" cy="173.7" r="3.0"/><circle cx="743.5" cy="185.8" r="3.0"/><circle cx="728.1" cy="154.5" r="3.0"/><circle cx="754.3" cy="221.2" r="3.0"/><circle cx="733.3" cy="147.7" r="3.0"/><circle cx="742.3" cy="198.2" r="3.0"/><circle cx="714.3" cy="186.1" r="3.0"/><circle cx="696.9" cy="176.3" r="3.0"/><circle cx="703.0" cy="119.5" r="3.0"/><circle cx="695.4" cy="149.9" r="3.0"/><circle cx="698.7" cy="140.7" r="3.0"/><circle cx="684.2" cy="153.0" r="3.0"/><circle cx="707.3" cy="178.4" r="3.0"/><circle cx="691.6" cy="132.1" r="3.0"/><circle cx="665.6" cy="147.4" r="3.0"/><circle cx="722.5" cy="121.8" r="3.0"/><circle cx="678.0" cy="179.7" r="3.0"/><circle cx="688.7" cy="142.3" r="3.0"/><circle cx="660.9" cy="131.6" r="3.0"/><circle cx="682.3" cy="158.8" r="3.0"/><circle cx="680.4" cy="182.3" r="3.0"/><circle cx="673.4" cy="134.3" r="3.0"/><circle cx="681.7" cy="150.3" r="3.0"/><circle cx="740.8" cy="187.7" r="3.0"/><circle cx="695.5" cy="119.2" r="3.0"/><circle cx="703.9" cy="117.8" r="3.0"/><circle cx="727.2" cy="151.2" r="3.0"/><circle cx="712.7" cy="181.8" r="3.0"/><circle cx="686.6" cy="166.2" r="3.0"/><circle cx="738.0" cy="150.6" r="3.0"/><circle cx="668.6" cy="130.6" r="3.0"/><circle cx="704.9" cy="174.9" r="3.0"/><circle cx="723.1" cy="176.8" r="3.0"/><circle cx="730.6" cy="182.2" r="3.0"/><circle cx="742.3" cy="202.4" r="3.0"/><circle cx="688.9" cy="173.1" r="3.0"/><circle cx="730.4" cy="202.2" r="3.0"/><circle cx="668.2" cy="115.7" r="3.0"/><circle cx="673.1" cy="119.5" r="3.0"/><circle cx="713.5" cy="176.8" r="3.0"/><circle cx="698.6" cy="129.8" r="3.0"/><circle cx="713.2" cy="186.2" r="3.0"/><circle cx="708.9" cy="150.0" r="3.0"/><circle cx="729.3" cy="159.0" r="3.0"/><circle cx="720.4" cy="160.0" r="3.0"/><circle cx="759.4" cy="222.0" r="3.0"/><circle cx="727.3" cy="138.5" r="3.0"/><circle cx="686.0" cy="142.9" r="3.0"/><circle cx="706.1" cy="139.3" r="3.0"/><circle cx="729.0" cy="147.1" r="3.0"/><circle cx="721.0" cy="130.7" r="3.0"/><circle cx="753.3" cy="213.2" r="3.0"/><circle cx="694.8" cy="168.7" r="3.0"/><circle cx="708.2" cy="179.6" r="3.0"/><circle cx="744.1" cy="212.5" r="3.0"/><circle cx="661.0" cy="125.4" r="3.0"/><circle cx="668.3" cy="151.8" r="3.0"/><circle cx="755.3" cy="226.0" r="3.0"/><circle cx="662.0" cy="139.7" r="3.0"/><circle cx="745.5" cy="192.4" r="3.0"/><circle cx="683.8" cy="162.4" r="3.0"/><circle cx="669.9" cy="114.8" r="3.0"/><circle cx="711.9" cy="128.2" r="3.0"/><circle cx="705.5" cy="133.2" r="3.0"/><circle cx="670.7" cy="153.5" r="3.0"/><circle cx="696.8" cy="137.4" r="3.0"/><circle cx="764.8" cy="214.8" r="3.0"/><circle cx="677.8" cy="143.2" r="3.0"/><circle cx="665.9" cy="117.5" r="3.0"/><circle cx="714.3" cy="159.8" r="3.0"/><circle cx="719.6" cy="154.5" r="3.0"/><circle cx="730.2" cy="175.5" r="3.0"/><circle cx="718.7" cy="192.5" r="3.0"/><circle cx="766.4" cy="213.7" r="3.0"/><circle cx="737.3" cy="158.8" r="3.0"/><circle cx="693.3" cy="161.1" r="3.0"/><circle cx="700.7" cy="160.0" r="3.0"/><circle cx="725.5" cy="156.2" r="3.0"/><circle cx="684.8" cy="135.5" r="3.0"/><circle cx="718.7" cy="149.1" r="3.0"/><circle cx="714.4" cy="181.1" r="3.0"/><circle cx="727.6" cy="198.6" r="3.0"/><circle cx="701.6" cy="173.5" r="3.0"/><circle cx="725.7" cy="190.9" r="3.0"/><circle cx="693.8" cy="185.3" r="3.0"/><circle cx="718.1" cy="138.4" r="3.0"/><circle cx="725.7" cy="143.2" r="3.0"/><circle cx="710.8" cy="138.1" r="3.0"/><circle cx="716.5" cy="173.2" r="3.0"/><circle cx="684.6" cy="132.5" r="3.0"/><circle cx="756.7" cy="213.0" r="3.0"/><circle cx="663.1" cy="156.7" r="3.0"/><circle cx="749.9" cy="207.2" r="3.0"/><circle cx="671.9" cy="130.3" r="3.0"/><circle cx="686.0" cy="124.4" r="3.0"/><circle cx="715.7" cy="164.9" r="3.0"/><circle cx="668.0" cy="158.3" r="3.0"/><circle cx="707.8" cy="167.9" r="3.0"/><circle cx="746.1" cy="200.4" r="3.0"/><circle cx="698.7" cy="172.8" r="3.0"/><circle cx="684.5" cy="155.4" r="3.0"/><circle cx="695.7" cy="156.6" r="3.0"/><circle cx="660.3" cy="135.8" r="3.0"/><circle cx="688.5" cy="150.0" r="3.0"/><circle cx="726.3" cy="155.5" r="3.0"/><circle cx="663.2" cy="163.8" r="3.0"/><circle cx="690.8" cy="159.8" r="3.0"/><circle cx="729.6" cy="206.4" r="3.0"/><circle cx="697.1" cy="157.1" r="3.0"/><circle cx="736.6" cy="155.6" r="3.0"/><circle cx="731.5" cy="150.7" r="3.0"/><circle cx="700.1" cy="173.4" r="3.0"/><circle cx="723.5" cy="166.1" r="3.0"/><circle cx="704.0" cy="167.4" r="3.0"/><circle cx="712.4" cy="171.8" r="3.0"/><circle cx="739.8" cy="159.0" r="3.0"/><circle cx="682.6" cy="121.4" r="3.0"/><circle cx="733.2" cy="194.9" r="3.0"/><circle cx="711.4" cy="118.8" r="3.0"/><circle cx="660.2" cy="119.9" r="3.0"/><circle cx="667.8" cy="116.7" r="3.0"/><circle cx="670.1" cy="114.1" r="3.0"/><circle cx="677.9" cy="112.8" r="3.0"/><circle cx="683.6" cy="112.1" r="3.0"/><circle cx="691.8" cy="114.3" r="3.0"/><circle cx="695.1" cy="114.7" r="3.0"/><circle cx="704.1" cy="117.1" r="3.0"/><circle cx="706.7" cy="115.7" r="3.0"/><circle cx="713.8" cy="117.6" r="3.0"/><circle cx="720.6" cy="119.2" r="3.0"/><circle cx="727.6" cy="127.7" r="3.0"/><circle cx="730.5" cy="133.5" r="3.0"/><circle cx="734.4" cy="141.7" r="3.0"/><circle cx="738.3" cy="147.2" r="3.0"/><circle cx="742.2" cy="151.5" r="3.0"/><circle cx="741.6" cy="157.5" r="3.0"/><circle cx="741.5" cy="159.7" r="3.0"/><circle cx="736.3" cy="163.7" r="3.0"/><circle cx="733.0" cy="173.8" r="3.0"/><circle cx="735.6" cy="179.1" r="3.0"/><circle cx="734.5" cy="184.4" r="3.0"/><circle cx="741.8" cy="183.8" r="3.0"/><circle cx="747.6" cy="190.7" r="3.0"/><circle cx="750.3" cy="191.0" r="3.0"/><circle cx="758.0" cy="196.8" r="3.0"/><circle cx="760.5" cy="203.7" r="3.0"/><circle cx="764.2" cy="209.8" r="3.0"/><circle cx="765.5" cy="218.1" r="3.0"/><circle cx="762.2" cy="221.2" r="3.0"/><circle cx="759.3" cy="226.1" r="3.0"/><circle cx="751.5" cy="227.6" r="3.0"/><circle cx="748.9" cy="225.5" r="3.0"/><circle cx="744.6" cy="215.4" r="3.0"/><circle cx="739.4" cy="211.2" r="3.0"/><circle cx="736.3" cy="210.4" r="3.0"/><circle cx="729.0" cy="205.7" r="3.0"/><circle cx="721.0" cy="204.9" r="3.0"/><circle cx="718.6" cy="199.2" r="3.0"/><circle cx="713.9" cy="198.7" r="3.0"/><circle cx="710.2" cy="194.2" r="3.0"/><circle cx="705.5" cy="190.5" r="3.0"/><circle cx="695.8" cy="187.0" r="3.0"/><circle cx="692.7" cy="187.3" r="3.0"/><circle cx="686.9" cy="183.8" r="3.0"/><circle cx="679.1" cy="183.5" r="3.0"/><circle cx="672.1" cy="179.9" r="3.0"/><circle cx="669.3" cy="176.3" r="3.0"/><circle cx="664.0" cy="168.8" r="3.0"/><circle cx="660.5" cy="164.4" r="3.0"/><circle cx="660.9" cy="160.5" r="3.0"/><circle cx="659.9" cy="151.9" r="3.0"/><circle cx="659.0" cy="147.0" r="3.0"/><circle cx="660.2" cy="140.9" r="3.0"/><circle cx="659.9" cy="133.9" r="3.0"/><circle cx="660.2" cy="128.8" r="3.0"/><circle cx="793.0" cy="228.3" r="3.0"/><circle cx="784.5" cy="209.0" r="3.0"/><circle cx="776.1" cy="218.2" r="3.0"/><circle cx="785.8" cy="208.1" r="3.0"/><circle cx="784.2" cy="209.4" r="3.0"/><circle cx="785.8" cy="218.5" r="3.0"/><circle cx="781.9" cy="210.3" r="3.0"/><circle cx="782.8" cy="210.4" r="3.0"/><circle cx="776.3" cy="211.4" r="3.0"/><circle cx="793.7" cy="218.4" r="3.0"/><circle cx="791.8" cy="220.2" r="3.0"/><circle cx="789.4" cy="211.1" r="3.0"/><circle cx="790.8" cy="209.1" r="3.0"/><circle cx="779.5" cy="205.8" r="3.0"/><circle cx="782.5" cy="218.8" r="3.0"/><circle cx="778.8" cy="220.9" r="3.0"/><circle cx="791.6" cy="224.0" r="3.0"/><circle cx="774.8" cy="211.6" r="3.0"/><circle cx="789.5" cy="226.7" r="3.0"/><circle cx="781.3" cy="226.6" r="3.0"/><circle cx="782.9" cy="215.9" r="3.0"/><circle cx="775.4" cy="211.5" r="3.0"/><circle cx="790.5" cy="223.1" r="3.0"/><circle cx="776.9" cy="214.2" r="3.0"/><circle cx="776.6" cy="210.3" r="3.0"/><circle cx="778.5" cy="213.8" r="3.0"/><circle cx="791.8" cy="217.8" r="3.0"/><circle cx="784.9" cy="225.8" r="3.0"/><circle cx="794.5" cy="225.0" r="3.0"/><circle cx="788.2" cy="210.3" r="3.0"/><circle cx="787.9" cy="227.6" r="3.0"/><circle cx="790.1" cy="214.3" r="3.0"/><circle cx="789.0" cy="224.9" r="3.0"/><circle cx="790.7" cy="227.2" r="3.0"/><circle cx="792.1" cy="220.7" r="3.0"/><circle cx="783.5" cy="227.0" r="3.0"/><circle cx="791.6" cy="228.2" r="3.0"/><circle cx="791.7" cy="211.7" r="3.0"/><circle cx="792.9" cy="211.2" r="3.0"/><circle cx="773.9" cy="204.5" r="3.0"/><circle cx="782.6" cy="206.5" r="3.0"/><circle cx="788.8" cy="208.5" r="3.0"/><circle cx="794.2" cy="213.3" r="3.0"/><circle cx="794.7" cy="216.9" r="3.0"/><circle cx="796.7" cy="222.5" r="3.0"/><circle cx="795.5" cy="228.9" r="3.0"/><circle cx="790.0" cy="230.5" r="3.0"/><circle cx="782.1" cy="227.7" r="3.0"/><circle cx="775.6" cy="217.6" r="3.0"/><circle cx="773.0" cy="213.3" r="3.0"/><circle cx="817.1" cy="223.2" r="3.0"/><circle cx="803.9" cy="222.5" r="3.0"/><circle cx="819.2" cy="227.8" r="3.0"/><circle cx="804.7" cy="235.2" r="3.0"/><circle cx="806.3" cy="222.5" r="3.0"/><circle cx="825.6" cy="225.3" r="3.0"/><circle cx="807.3" cy="241.6" r="3.0"/><circle cx="811.5" cy="229.6" r="3.0"/><circle cx="826.4" cy="220.0" r="3.0"/><circle cx="822.4" cy="219.2" r="3.0"/><circle cx="806.1" cy="243.3" r="3.0"/><circle cx="813.0" cy="239.1" r="3.0"/><circle cx="807.9" cy="225.0" r="3.0"/><circle cx="804.2" cy="231.2" r="3.0"/><circle cx="803.6" cy="233.4" r="3.0"/><circle cx="810.7" cy="234.6" r="3.0"/><circle cx="817.5" cy="225.8" r="3.0"/><circle cx="814.7" cy="235.0" r="3.0"/><circle cx="818.8" cy="231.4" r="3.0"/><circle cx="812.9" cy="237.3" r="3.0"/><circle cx="820.4" cy="215.2" r="3.0"/><circle cx="809.8" cy="218.4" r="3.0"/><circle cx="805.3" cy="232.3" r="3.0"/><circle cx="816.1" cy="215.6" r="3.0"/><circle cx="811.5" cy="237.2" r="3.0"/><circle cx="817.7" cy="222.8" r="3.0"/><circle cx="820.7" cy="223.1" r="3.0"/><circle cx="815.3" cy="227.1" r="3.0"/><circle cx="808.6" cy="219.2" r="3.0"/><circle cx="821.5" cy="224.9" r="3.0"/><circle cx="805.2" cy="230.1" r="3.0"/><circle cx="823.6" cy="219.2" r="3.0"/><circle cx="820.1" cy="219.4" r="3.0"/><circle cx="809.1" cy="226.0" r="3.0"/><circle cx="806.3" cy="223.7" r="3.0"/><circle cx="825.3" cy="220.3" r="3.0"/><circle cx="809.7" cy="227.7" r="3.0"/><circle cx="804.4" cy="222.2" r="3.0"/><circle cx="811.5" cy="226.1" r="3.0"/><circle cx="825.8" cy="222.4" r="3.0"/><circle cx="806.8" cy="242.2" r="3.0"/><circle cx="812.9" cy="240.0" r="3.0"/><circle cx="809.5" cy="218.9" r="3.0"/><circle cx="820.6" cy="228.7" r="3.0"/><circle cx="815.6" cy="234.8" r="3.0"/><circle cx="820.5" cy="222.7" r="3.0"/><circle cx="804.2" cy="222.8" r="3.0"/><circle cx="807.1" cy="218.9" r="3.0"/><circle cx="810.8" cy="217.0" r="3.0"/><circle cx="816.1" cy="216.1" r="3.0"/><circle cx="820.3" cy="213.5" r="3.0"/><circle cx="827.2" cy="218.5" r="3.0"/><circle cx="826.9" cy="221.8" r="3.0"/><circle cx="825.3" cy="228.8" r="3.0"/><circle cx="819.4" cy="235.6" r="3.0"/><circle cx="816.6" cy="239.6" r="3.0"/><circle cx="809.6" cy="243.0" r="3.0"/><circle cx="804.0" cy="244.7" r="3.0"/><circle cx="802.9" cy="237.0" r="3.0"/><circle cx="801.2" cy="227.5" r="3.0"/><circle cx="667.6" cy="248.7" r="3.0"/><circle cx="672.3" cy="241.6" r="3.0"/><circle cx="661.1" cy="248.5" r="3.0"/><circle cx="675.7" cy="248.3" r="3.0"/><circle cx="674.7" cy="239.6" r="3.0"/><circle cx="678.8" cy="249.9" r="3.0"/><circle cx="674.4" cy="247.9" r="3.0"/><circle cx="671.7" cy="249.4" r="3.0"/><circle cx="673.3" cy="242.5" r="3.0"/><circle cx="670.4" cy="248.0" r="3.0"/><circle cx="672.5" cy="251.8" r="3.0"/><circle cx="676.1" cy="236.0" r="3.0"/><circle cx="677.1" cy="235.1" r="3.0"/><circle cx="669.1" cy="247.5" r="3.0"/><circle cx="654.5" cy="248.0" r="3.0"/><circle cx="671.2" cy="235.5" r="3.0"/><circle cx="659.5" cy="247.2" r="3.0"/><circle cx="659.3" cy="248.4" r="3.0"/><circle cx="676.2" cy="240.5" r="3.0"/><circle cx="654.2" cy="246.8" r="3.0"/><circle cx="671.2" cy="245.4" r="3.0"/><circle cx="669.9" cy="237.0" r="3.0"/><circle cx="667.8" cy="241.9" r="3.0"/><circle cx="659.7" cy="249.1" r="3.0"/><circle cx="681.5" cy="247.4" r="3.0"/><circle cx="666.2" cy="244.3" r="3.0"/><circle cx="673.4" cy="238.4" r="3.0"/><circle cx="658.8" cy="245.7" r="3.0"/><circle cx="668.0" cy="238.0" r="3.0"/><circle cx="658.9" cy="244.8" r="3.0"/><circle cx="669.2" cy="244.8" r="3.0"/><circle cx="680.9" cy="246.0" r="3.0"/><circle cx="680.2" cy="250.4" r="3.0"/><circle cx="673.8" cy="245.3" r="3.0"/><circle cx="673.8" cy="242.9" r="3.0"/><circle cx="663.4" cy="249.9" r="3.0"/><circle cx="655.6" cy="244.7" r="3.0"/><circle cx="658.6" cy="244.7" r="3.0"/><circle cx="666.7" cy="241.5" r="3.0"/><circle cx="668.0" cy="235.5" r="3.0"/><circle cx="668.6" cy="231.5" r="3.0"/><circle cx="672.2" cy="227.8" r="3.0"/><circle cx="677.7" cy="233.9" r="3.0"/><circle cx="682.8" cy="242.2" r="3.0"/><circle cx="681.4" cy="247.6" r="3.0"/><circle cx="677.3" cy="249.9" r="3.0"/><circle cx="672.9" cy="252.2" r="3.0"/><circle cx="668.0" cy="252.9" r="3.0"/><circle cx="658.6" cy="252.8" r="3.0"/><circle cx="653.5" cy="249.9" r="3.0"/><circle cx="671.7" cy="190.0" r="3.0"/><circle cx="680.0" cy="190.8" r="3.0"/><circle cx="685.0" cy="190.0" r="3.0"/><circle cx="693.3" cy="189.2" r="3.0"/><circle cx="675.0" cy="204.2" r="3.0"/><circle cx="679.2" cy="209.2" r="3.0"/><circle cx="720.0" cy="211.7" r="3.0"/><circle cx="683.3" cy="224.2" r="3.0"/><circle cx="719.2" cy="223.3" r="3.0"/><circle cx="713.3" cy="230.0" r="3.0"/><circle cx="711.7" cy="236.7" r="3.0"/><circle cx="732.5" cy="238.3" r="3.0"/><circle cx="740.0" cy="241.7" r="3.0"/><circle cx="744.2" cy="229.2" r="3.0"/><circle cx="750.0" cy="230.0" r="3.0"/><circle cx="738.3" cy="221.7" r="3.0"/><circle cx="746.7" cy="236.7" r="3.0"/><circle cx="753.3" cy="243.3" r="3.0"/><circle cx="758.3" cy="239.2" r="3.0"/><circle cx="761.7" cy="235.0" r="3.0"/><circle cx="767.5" cy="235.0" r="3.0"/><circle cx="765.8" cy="226.7" r="3.0"/><circle cx="768.3" cy="224.2" r="3.0"/><circle cx="777.5" cy="231.7" r="3.0"/><circle cx="781.7" cy="246.7" r="3.0"/><circle cx="787.5" cy="245.0" r="3.0"/><circle cx="770.0" cy="246.7" r="3.0"/><circle cx="766.7" cy="250.8" r="3.0"/><circle cx="795.8" cy="231.7" r="3.0"/><circle cx="790.8" cy="234.2" r="3.0"/><circle cx="801.7" cy="231.7" r="3.0"/><circle cx="811.7" cy="230.0" r="3.0"/><circle cx="641.7" cy="243.3" r="3.0"/><circle cx="645.0" cy="246.7" r="3.0"/><circle cx="686.7" cy="238.3" r="3.0"/><circle cx="689.2" cy="243.3" r="3.0"/><circle cx="691.7" cy="246.7" r="3.0"/><circle cx="686.7" cy="251.7" r="3.0"/><circle cx="806.1" cy="303.1" r="3.0"/><circle cx="837.1" cy="289.8" r="3.0"/><circle cx="778.1" cy="300.6" r="3.0"/><circle cx="804.0" cy="300.3" r="3.0"/><circle cx="802.8" cy="273.5" r="3.0"/><circle cx="823.7" cy="272.8" r="3.0"/><circle cx="805.1" cy="290.7" r="3.0"/><circle cx="788.1" cy="303.6" r="3.0"/><circle cx="821.4" cy="294.4" r="3.0"/><circle cx="814.5" cy="273.2" r="3.0"/><circle cx="786.6" cy="304.8" r="3.0"/><circle cx="838.1" cy="283.6" r="3.0"/><circle cx="826.1" cy="275.4" r="3.0"/><circle cx="784.2" cy="311.8" r="3.0"/><circle cx="782.5" cy="296.5" r="3.0"/><circle cx="778.3" cy="310.7" r="3.0"/><circle cx="807.4" cy="302.1" r="3.0"/><circle cx="810.6" cy="285.1" r="3.0"/><circle cx="825.3" cy="271.2" r="3.0"/><circle cx="804.2" cy="276.3" r="3.0"/><circle cx="818.3" cy="280.7" r="3.0"/><circle cx="802.0" cy="275.7" r="3.0"/><circle cx="826.5" cy="277.6" r="3.0"/><circle cx="821.4" cy="301.0" r="3.0"/><circle cx="808.7" cy="293.6" r="3.0"/><circle cx="800.4" cy="301.6" r="3.0"/><circle cx="823.2" cy="271.6" r="3.0"/><circle cx="802.2" cy="315.4" r="3.0"/><circle cx="803.0" cy="306.6" r="3.0"/><circle cx="825.8" cy="284.2" r="3.0"/><circle cx="794.7" cy="309.9" r="3.0"/><circle cx="828.9" cy="297.5" r="3.0"/><circle cx="793.6" cy="302.4" r="3.0"/><circle cx="800.4" cy="317.3" r="3.0"/><circle cx="791.6" cy="316.9" r="3.0"/><circle cx="772.5" cy="305.8" r="3.0"/><circle cx="778.8" cy="295.5" r="3.0"/><circle cx="790.6" cy="309.8" r="3.0"/><circle cx="821.2" cy="293.0" r="3.0"/><circle cx="824.0" cy="274.9" r="3.0"/><circle cx="839.0" cy="287.7" r="3.0"/><circle cx="831.4" cy="281.7" r="3.0"/><circle cx="819.8" cy="284.4" r="3.0"/><circle cx="819.1" cy="279.3" r="3.0"/><circle cx="818.4" cy="299.5" r="3.0"/><circle cx="797.2" cy="307.4" r="3.0"/><circle cx="780.7" cy="310.8" r="3.0"/><circle cx="808.9" cy="275.8" r="3.0"/><circle cx="788.7" cy="311.2" r="3.0"/><circle cx="826.7" cy="281.6" r="3.0"/><circle cx="817.6" cy="294.4" r="3.0"/><circle cx="802.7" cy="276.0" r="3.0"/><circle cx="804.3" cy="306.8" r="3.0"/><circle cx="805.7" cy="279.0" r="3.0"/><circle cx="825.2" cy="299.1" r="3.0"/><circle cx="834.0" cy="281.0" r="3.0"/><circle cx="838.4" cy="293.9" r="3.0"/><circle cx="824.2" cy="273.9" r="3.0"/><circle cx="803.8" cy="286.4" r="3.0"/><circle cx="785.6" cy="304.3" r="3.0"/><circle cx="818.5" cy="296.6" r="3.0"/><circle cx="824.9" cy="297.8" r="3.0"/><circle cx="781.2" cy="311.6" r="3.0"/><circle cx="833.5" cy="289.0" r="3.0"/><circle cx="836.8" cy="279.4" r="3.0"/><circle cx="787.2" cy="300.9" r="3.0"/><circle cx="802.8" cy="277.3" r="3.0"/><circle cx="784.6" cy="308.8" r="3.0"/><circle cx="800.0" cy="305.1" r="3.0"/><circle cx="816.2" cy="281.2" r="3.0"/><circle cx="831.8" cy="280.4" r="3.0"/><circle cx="795.7" cy="304.6" r="3.0"/><circle cx="782.4" cy="312.8" r="3.0"/><circle cx="808.9" cy="300.1" r="3.0"/><circle cx="813.5" cy="293.4" r="3.0"/><circle cx="800.6" cy="316.0" r="3.0"/><circle cx="840.8" cy="283.9" r="3.0"/><circle cx="839.7" cy="291.1" r="3.0"/><circle cx="818.5" cy="296.5" r="3.0"/><circle cx="812.4" cy="279.4" r="3.0"/><circle cx="821.4" cy="283.2" r="3.0"/><circle cx="775.9" cy="308.4" r="3.0"/><circle cx="816.4" cy="294.4" r="3.0"/><circle cx="818.1" cy="279.3" r="3.0"/><circle cx="840.9" cy="280.7" r="3.0"/><circle cx="800.6" cy="319.8" r="3.0"/><circle cx="836.6" cy="282.0" r="3.0"/><circle cx="824.5" cy="288.6" r="3.0"/><circle cx="776.2" cy="300.1" r="3.0"/><circle cx="796.6" cy="306.5" r="3.0"/><circle cx="802.6" cy="279.1" r="3.0"/><circle cx="820.2" cy="278.3" r="3.0"/><circle cx="797.7" cy="319.8" r="3.0"/><circle cx="784.9" cy="309.6" r="3.0"/><circle cx="830.9" cy="301.1" r="3.0"/><circle cx="813.8" cy="280.3" r="3.0"/><circle cx="823.8" cy="284.1" r="3.0"/><circle cx="783.2" cy="306.0" r="3.0"/><circle cx="790.0" cy="306.8" r="3.0"/><circle cx="805.7" cy="283.4" r="3.0"/><circle cx="789.8" cy="311.0" r="3.0"/><circle cx="824.1" cy="287.7" r="3.0"/><circle cx="806.6" cy="279.7" r="3.0"/><circle cx="821.4" cy="289.9" r="3.0"/><circle cx="823.2" cy="281.9" r="3.0"/><circle cx="777.4" cy="300.3" r="3.0"/><circle cx="784.6" cy="306.6" r="3.0"/><circle cx="819.3" cy="299.2" r="3.0"/><circle cx="813.3" cy="275.6" r="3.0"/><circle cx="817.1" cy="282.5" r="3.0"/><circle cx="819.2" cy="283.5" r="3.0"/><circle cx="828.9" cy="286.0" r="3.0"/><circle cx="793.7" cy="307.3" r="3.0"/><circle cx="774.6" cy="301.5" r="3.0"/><circle cx="808.3" cy="277.8" r="3.0"/><circle cx="804.4" cy="280.2" r="3.0"/><circle cx="779.3" cy="296.2" r="3.0"/><circle cx="808.8" cy="288.8" r="3.0"/><circle cx="823.1" cy="297.4" r="3.0"/><circle cx="827.5" cy="275.5" r="3.0"/><circle cx="806.0" cy="283.1" r="3.0"/><circle cx="819.6" cy="281.5" r="3.0"/><circle cx="816.0" cy="275.4" r="3.0"/><circle cx="804.0" cy="303.0" r="3.0"/><circle cx="780.0" cy="294.1" r="3.0"/><circle cx="816.0" cy="285.5" r="3.0"/><circle cx="827.1" cy="292.6" r="3.0"/><circle cx="826.9" cy="277.0" r="3.0"/><circle cx="782.5" cy="297.5" r="3.0"/><circle cx="831.7" cy="278.7" r="3.0"/><circle cx="783.3" cy="309.6" r="3.0"/><circle cx="801.8" cy="287.5" r="3.0"/><circle cx="789.6" cy="308.3" r="3.0"/><circle cx="814.9" cy="284.9" r="3.0"/><circle cx="804.7" cy="307.1" r="3.0"/><circle cx="824.4" cy="276.7" r="3.0"/><circle cx="833.3" cy="286.6" r="3.0"/><circle cx="783.2" cy="308.5" r="3.0"/><circle cx="801.2" cy="312.5" r="3.0"/><circle cx="833.9" cy="299.7" r="3.0"/><circle cx="840.5" cy="286.9" r="3.0"/><circle cx="787.2" cy="317.1" r="3.0"/><circle cx="800.7" cy="302.9" r="3.0"/><circle cx="788.5" cy="317.6" r="3.0"/><circle cx="830.3" cy="283.1" r="3.0"/><circle cx="818.7" cy="289.7" r="3.0"/><circle cx="832.2" cy="276.9" r="3.0"/><circle cx="810.1" cy="287.4" r="3.0"/><circle cx="830.8" cy="287.9" r="3.0"/><circle cx="810.8" cy="293.6" r="3.0"/><circle cx="795.4" cy="310.5" r="3.0"/><circle cx="829.0" cy="281.8" r="3.0"/><circle cx="825.0" cy="280.3" r="3.0"/><circle cx="804.5" cy="290.8" r="3.0"/><circle cx="793.3" cy="302.7" r="3.0"/><circle cx="836.3" cy="294.3" r="3.0"/><circle cx="793.4" cy="315.2" r="3.0"/><circle cx="812.6" cy="275.5" r="3.0"/><circle cx="808.6" cy="295.0" r="3.0"/><circle cx="801.1" cy="315.6" r="3.0"/><circle cx="770.8" cy="297.7" r="3.0"/><circle cx="775.7" cy="294.2" r="3.0"/><circle cx="780.8" cy="291.6" r="3.0"/><circle cx="786.1" cy="296.9" r="3.0"/><circle cx="790.6" cy="299.2" r="3.0"/><circle cx="800.0" cy="300.5" r="3.0"/><circle cx="802.6" cy="300.1" r="3.0"/><circle cx="802.9" cy="295.4" r="3.0"/><circle cx="801.2" cy="289.0" r="3.0"/><circle cx="798.0" cy="282.4" r="3.0"/><circle cx="798.5" cy="279.0" r="3.0"/><circle cx="801.3" cy="275.2" r="3.0"/><circle cx="805.2" cy="272.8" r="3.0"/><circle cx="814.9" cy="271.2" r="3.0"/><circle cx="821.3" cy="271.2" r="3.0"/><circle cx="827.4" cy="273.6" r="3.0"/><circle cx="831.3" cy="276.2" r="3.0"/><circle cx="839.5" cy="280.4" r="3.0"/><circle cx="842.8" cy="281.8" r="3.0"/><circle cx="844.1" cy="286.2" r="3.0"/><circle cx="840.6" cy="291.4" r="3.0"/><circle cx="837.4" cy="296.1" r="3.0"/><circle cx="833.3" cy="299.7" r="3.0"/><circle cx="831.5" cy="304.2" r="3.0"/><circle cx="824.8" cy="302.8" r="3.0"/><circle cx="820.5" cy="301.5" r="3.0"/><circle cx="815.2" cy="299.0" r="3.0"/><circle cx="810.4" cy="300.7" r="3.0"/><circle cx="808.8" cy="304.8" r="3.0"/><circle cx="809.0" cy="309.0" r="3.0"/><circle cx="803.9" cy="316.0" r="3.0"/><circle cx="800.1" cy="320.9" r="3.0"/><circle cx="794.8" cy="318.6" r="3.0"/><circle cx="786.2" cy="316.1" r="3.0"/><circle cx="783.4" cy="315.0" r="3.0"/><circle cx="777.5" cy="310.4" r="3.0"/><circle cx="771.2" cy="305.3" r="3.0"/><circle cx="711.2" cy="270.0" r="3.0"/><circle cx="716.5" cy="271.5" r="3.0"/><circle cx="737.5" cy="275.2" r="3.0"/><circle cx="746.5" cy="271.5" r="3.0"/><circle cx="748.0" cy="276.0" r="3.0"/><circle cx="769.0" cy="283.5" r="3.0"/><circle cx="769.0" cy="286.5" r="3.0"/><circle cx="782.5" cy="285.7" r="3.0"/><circle cx="786.2" cy="293.2" r="3.0"/><circle cx="786.2" cy="270.0" r="3.0"/><circle cx="794.5" cy="267.7" r="3.0"/><circle cx="808.0" cy="336.7" r="3.0"/><circle cx="770.5" cy="259.5" r="3.0"/><circle cx="773.5" cy="262.5" r="3.0"/><circle cx="781.0" cy="258.7" r="3.0"/><circle cx="781.0" cy="262.5" r="3.0"/><circle cx="785.5" cy="264.0" r="3.0"/><circle cx="789.2" cy="265.5" r="3.0"/><circle cx="799.0" cy="271.5" r="3.0"/><circle cx="799.0" cy="275.2" r="3.0"/><circle cx="686.1" cy="256.0" r="3.0"/><circle cx="695.1" cy="259.0" r="3.0"/><circle cx="403.1" cy="436.9" r="3.0"/><circle cx="396.4" cy="397.5" r="3.0"/><circle cx="427.3" cy="395.9" r="3.0"/><circle cx="461.2" cy="450.3" r="3.0"/><circle cx="428.6" cy="398.7" r="3.0"/><circle cx="454.5" cy="455.0" r="3.0"/><circle cx="468.4" cy="466.6" r="3.0"/><circle cx="398.6" cy="398.6" r="3.0"/><circle cx="400.2" cy="398.5" r="3.0"/><circle cx="397.4" cy="414.4" r="3.0"/><circle cx="444.6" cy="445.2" r="3.0"/><circle cx="485.8" cy="467.1" r="3.0"/><circle cx="400.2" cy="417.4" r="3.0"/><circle cx="478.6" cy="455.0" r="3.0"/><circle cx="477.4" cy="455.2" r="3.0"/><circle cx="391.2" cy="407.5" r="3.0"/><circle cx="440.1" cy="449.0" r="3.0"/><circle cx="405.1" cy="442.7" r="3.0"/><circle cx="446.0" cy="450.8" r="3.0"/><circle cx="484.8" cy="465.0" r="3.0"/><circle cx="437.0" cy="448.7" r="3.0"/><circle cx="393.3" cy="399.0" r="3.0"/><circle cx="492.6" cy="456.9" r="3.0"/><circle cx="463.6" cy="451.2" r="3.0"/><circle cx="481.2" cy="471.5" r="3.0"/><circle cx="429.0" cy="397.3" r="3.0"/><circle cx="395.5" cy="425.6" r="3.0"/><circle cx="403.9" cy="393.2" r="3.0"/><circle cx="413.9" cy="440.4" r="3.0"/><circle cx="404.1" cy="429.0" r="3.0"/><circle cx="403.7" cy="398.4" r="3.0"/><circle cx="396.8" cy="415.7" r="3.0"/><circle cx="396.0" cy="396.4" r="3.0"/><circle cx="385.6" cy="421.1" r="3.0"/><circle cx="408.5" cy="390.3" r="3.0"/><circle cx="397.7" cy="410.2" r="3.0"/><circle cx="399.1" cy="385.9" r="3.0"/><circle cx="432.5" cy="443.4" r="3.0"/><circle cx="397.8" cy="388.2" r="3.0"/><circle cx="396.0" cy="426.8" r="3.0"/><circle cx="467.7" cy="456.4" r="3.0"/><circle cx="392.4" cy="411.7" r="3.0"/><circle cx="469.1" cy="462.4" r="3.0"/><circle cx="392.7" cy="417.2" r="3.0"/><circle cx="383.6" cy="414.7" r="3.0"/><circle cx="476.6" cy="462.4" r="3.0"/><circle cx="406.2" cy="407.6" r="3.0"/><circle cx="430.7" cy="443.7" r="3.0"/><circle cx="401.5" cy="431.3" r="3.0"/><circle cx="466.3" cy="454.6" r="3.0"/><circle cx="472.7" cy="450.1" r="3.0"/><circle cx="404.3" cy="403.5" r="3.0"/><circle cx="385.9" cy="415.3" r="3.0"/><circle cx="499.1" cy="456.7" r="3.0"/><circle cx="439.2" cy="448.1" r="3.0"/><circle cx="490.3" cy="460.9" r="3.0"/><circle cx="398.1" cy="407.9" r="3.0"/><circle cx="415.1" cy="400.4" r="3.0"/><circle cx="485.3" cy="466.5" r="3.0"/><circle cx="407.5" cy="436.4" r="3.0"/><circle cx="382.9" cy="412.0" r="3.0"/><circle cx="404.9" cy="410.7" r="3.0"/><circle cx="456.5" cy="454.3" r="3.0"/><circle cx="391.4" cy="405.9" r="3.0"/><circle cx="389.7" cy="416.1" r="3.0"/><circle cx="399.5" cy="429.3" r="3.0"/><circle cx="420.3" cy="439.0" r="3.0"/><circle cx="403.0" cy="397.8" r="3.0"/><circle cx="410.7" cy="441.8" r="3.0"/><circle cx="399.8" cy="429.2" r="3.0"/><circle cx="395.1" cy="426.8" r="3.0"/><circle cx="393.4" cy="396.6" r="3.0"/><circle cx="406.8" cy="390.2" r="3.0"/><circle cx="471.4" cy="459.2" r="3.0"/><circle cx="472.5" cy="451.2" r="3.0"/><circle cx="412.8" cy="441.0" r="3.0"/><circle cx="462.5" cy="470.6" r="3.0"/><circle cx="402.0" cy="391.1" r="3.0"/><circle cx="397.0" cy="402.3" r="3.0"/><circle cx="396.9" cy="398.7" r="3.0"/><circle cx="406.9" cy="435.1" r="3.0"/><circle cx="397.5" cy="433.1" r="3.0"/><circle cx="483.2" cy="462.9" r="3.0"/><circle cx="384.6" cy="404.9" r="3.0"/><circle cx="388.8" cy="405.2" r="3.0"/><circle cx="389.1" cy="427.3" r="3.0"/><circle cx="392.6" cy="402.5" r="3.0"/><circle cx="379.4" cy="412.4" r="3.0"/><circle cx="475.9" cy="474.6" r="3.0"/><circle cx="474.4" cy="459.2" r="3.0"/><circle cx="429.3" cy="443.4" r="3.0"/><circle cx="388.3" cy="416.1" r="3.0"/><circle cx="457.3" cy="460.4" r="3.0"/><circle cx="400.8" cy="418.5" r="3.0"/><circle cx="393.6" cy="430.5" r="3.0"/><circle cx="418.6" cy="442.0" r="3.0"/><circle cx="392.0" cy="385.6" r="3.0"/><circle cx="403.7" cy="422.8" r="3.0"/><circle cx="397.4" cy="430.1" r="3.0"/><circle cx="451.6" cy="448.0" r="3.0"/><circle cx="392.0" cy="409.8" r="3.0"/><circle cx="397.2" cy="402.4" r="3.0"/><circle cx="402.6" cy="430.0" r="3.0"/><circle cx="451.8" cy="449.0" r="3.0"/><circle cx="401.7" cy="422.5" r="3.0"/><circle cx="413.5" cy="436.3" r="3.0"/><circle cx="406.9" cy="392.4" r="3.0"/><circle cx="459.3" cy="457.2" r="3.0"/><circle cx="410.7" cy="439.2" r="3.0"/><circle cx="402.6" cy="424.8" r="3.0"/><circle cx="475.5" cy="474.3" r="3.0"/><circle cx="467.7" cy="469.3" r="3.0"/><circle cx="482.5" cy="463.7" r="3.0"/><circle cx="483.7" cy="460.5" r="3.0"/><circle cx="397.8" cy="434.7" r="3.0"/><circle cx="391.1" cy="396.1" r="3.0"/><circle cx="406.9" cy="405.3" r="3.0"/><circle cx="467.2" cy="457.2" r="3.0"/><circle cx="428.2" cy="399.5" r="3.0"/><circle cx="461.1" cy="469.1" r="3.0"/><circle cx="455.8" cy="457.2" r="3.0"/><circle cx="395.3" cy="427.7" r="3.0"/><circle cx="400.1" cy="388.8" r="3.0"/><circle cx="484.6" cy="454.4" r="3.0"/><circle cx="385.3" cy="421.1" r="3.0"/><circle cx="411.0" cy="439.6" r="3.0"/><circle cx="469.8" cy="456.4" r="3.0"/><circle cx="493.3" cy="458.8" r="3.0"/><circle cx="447.4" cy="449.5" r="3.0"/><circle cx="445.0" cy="447.5" r="3.0"/><circle cx="475.7" cy="470.5" r="3.0"/><circle cx="386.4" cy="412.4" r="3.0"/><circle cx="397.8" cy="394.2" r="3.0"/><circle cx="495.8" cy="457.3" r="3.0"/><circle cx="486.8" cy="458.8" r="3.0"/><circle cx="485.8" cy="464.7" r="3.0"/><circle cx="475.6" cy="453.2" r="3.0"/><circle cx="398.3" cy="391.6" r="3.0"/><circle cx="398.6" cy="388.5" r="3.0"/><circle cx="391.2" cy="428.5" r="3.0"/><circle cx="483.3" cy="464.9" r="3.0"/><circle cx="457.9" cy="450.8" r="3.0"/><circle cx="458.4" cy="463.1" r="3.0"/><circle cx="391.8" cy="388.1" r="3.0"/><circle cx="430.6" cy="397.7" r="3.0"/><circle cx="398.2" cy="413.9" r="3.0"/><circle cx="476.1" cy="464.7" r="3.0"/><circle cx="493.2" cy="458.2" r="3.0"/><circle cx="407.4" cy="399.0" r="3.0"/><circle cx="416.0" cy="403.3" r="3.0"/><circle cx="417.7" cy="401.1" r="3.0"/><circle cx="461.5" cy="453.0" r="3.0"/><circle cx="404.1" cy="431.6" r="3.0"/><circle cx="453.1" cy="449.7" r="3.0"/><circle cx="403.1" cy="410.7" r="3.0"/><circle cx="390.4" cy="405.2" r="3.0"/><circle cx="403.1" cy="421.8" r="3.0"/><circle cx="412.4" cy="401.5" r="3.0"/><circle cx="392.9" cy="415.9" r="3.0"/><circle cx="393.3" cy="398.4" r="3.0"/><circle cx="409.6" cy="435.6" r="3.0"/><circle cx="493.1" cy="455.5" r="3.0"/><circle cx="419.5" cy="394.2" r="3.0"/><circle cx="412.6" cy="392.7" r="3.0"/><circle cx="396.9" cy="431.0" r="3.0"/><circle cx="403.4" cy="432.6" r="3.0"/><circle cx="484.4" cy="453.9" r="3.0"/><circle cx="394.7" cy="420.2" r="3.0"/><circle cx="393.8" cy="420.7" r="3.0"/><circle cx="465.5" cy="449.8" r="3.0"/><circle cx="478.9" cy="472.9" r="3.0"/><circle cx="393.1" cy="401.3" r="3.0"/><circle cx="394.5" cy="421.4" r="3.0"/><circle cx="478.1" cy="462.3" r="3.0"/><circle cx="396.5" cy="387.3" r="3.0"/><circle cx="393.6" cy="403.0" r="3.0"/><circle cx="419.3" cy="438.2" r="3.0"/><circle cx="392.2" cy="420.0" r="3.0"/><circle cx="399.7" cy="410.2" r="3.0"/><circle cx="402.4" cy="394.0" r="3.0"/><circle cx="412.3" cy="394.3" r="3.0"/><circle cx="400.5" cy="413.1" r="3.0"/><circle cx="410.8" cy="401.4" r="3.0"/><circle cx="392.5" cy="385.8" r="3.0"/><circle cx="398.9" cy="405.8" r="3.0"/><circle cx="415.5" cy="391.1" r="3.0"/><circle cx="401.7" cy="422.4" r="3.0"/><circle cx="392.2" cy="397.9" r="3.0"/><circle cx="408.6" cy="429.6" r="3.0"/><circle cx="469.2" cy="465.1" r="3.0"/><circle cx="418.1" cy="395.0" r="3.0"/><circle cx="453.6" cy="454.6" r="3.0"/><circle cx="394.4" cy="409.1" r="3.0"/><circle cx="418.2" cy="394.2" r="3.0"/><circle cx="398.9" cy="419.2" r="3.0"/><circle cx="394.2" cy="417.6" r="3.0"/><circle cx="389.3" cy="412.4" r="3.0"/><circle cx="493.4" cy="453.1" r="3.0"/><circle cx="410.3" cy="390.8" r="3.0"/><circle cx="477.8" cy="456.0" r="3.0"/><circle cx="421.2" cy="396.0" r="3.0"/><circle cx="471.5" cy="464.1" r="3.0"/><circle cx="489.0" cy="456.4" r="3.0"/><circle cx="458.4" cy="457.0" r="3.0"/><circle cx="464.9" cy="468.5" r="3.0"/><circle cx="397.4" cy="431.3" r="3.0"/><circle cx="498.4" cy="454.7" r="3.0"/><circle cx="396.9" cy="413.2" r="3.0"/><circle cx="467.6" cy="458.5" r="3.0"/><circle cx="393.7" cy="388.8" r="3.0"/><circle cx="469.2" cy="458.8" r="3.0"/><circle cx="387.7" cy="393.2" r="3.0"/><circle cx="482.6" cy="471.1" r="3.0"/><circle cx="406.0" cy="402.4" r="3.0"/><circle cx="381.3" cy="407.2" r="3.0"/><circle cx="488.2" cy="461.3" r="3.0"/><circle cx="400.3" cy="407.0" r="3.0"/><circle cx="470.5" cy="473.6" r="3.0"/><circle cx="416.5" cy="398.1" r="3.0"/><circle cx="446.2" cy="450.1" r="3.0"/><circle cx="391.3" cy="416.5" r="3.0"/><circle cx="411.3" cy="434.0" r="3.0"/><circle cx="421.9" cy="395.1" r="3.0"/><circle cx="477.7" cy="472.2" r="3.0"/><circle cx="462.1" cy="460.3" r="3.0"/><circle cx="394.8" cy="405.5" r="3.0"/><circle cx="392.9" cy="384.6" r="3.0"/><circle cx="394.2" cy="382.7" r="3.0"/><circle cx="401.2" cy="386.5" r="3.0"/><circle cx="406.2" cy="390.2" r="3.0"/><circle cx="415.9" cy="390.6" r="3.0"/><circle cx="420.8" cy="393.1" r="3.0"/><circle cx="427.3" cy="394.4" r="3.0"/><circle cx="430.5" cy="395.4" r="3.0"/><circle cx="432.8" cy="398.2" r="3.0"/><circle cx="425.6" cy="399.7" r="3.0"/><circle cx="421.1" cy="403.2" r="3.0"/><circle cx="416.9" cy="403.8" r="3.0"/><circle cx="408.5" cy="405.9" r="3.0"/><circle cx="405.3" cy="410.2" r="3.0"/><circle cx="403.0" cy="414.9" r="3.0"/><circle cx="401.8" cy="418.9" r="3.0"/><circle cx="406.5" cy="425.7" r="3.0"/><circle cx="407.4" cy="429.5" r="3.0"/><circle cx="416.2" cy="435.0" r="3.0"/><circle cx="423.1" cy="440.2" r="3.0"/><circle cx="428.1" cy="442.9" r="3.0"/><circle cx="432.1" cy="444.5" r="3.0"/><circle cx="439.7" cy="443.3" r="3.0"/><circle cx="447.2" cy="446.7" r="3.0"/><circle cx="451.0" cy="446.8" r="3.0"/><circle cx="456.6" cy="448.8" r="3.0"/><circle cx="465.4" cy="447.8" r="3.0"/><circle cx="472.6" cy="450.6" r="3.0"/><circle cx="477.8" cy="450.2" r="3.0"/><circle cx="483.0" cy="449.8" r="3.0"/><circle cx="487.5" cy="452.6" r="3.0"/><circle cx="497.2" cy="451.6" r="3.0"/><circle cx="503.6" cy="453.9" r="3.0"/><circle cx="498.2" cy="459.0" r="3.0"/><circle cx="492.5" cy="461.5" r="3.0"/><circle cx="489.5" cy="464.5" r="3.0"/><circle cx="484.6" cy="467.3" r="3.0"/><circle cx="481.0" cy="473.4" r="3.0"/><circle cx="467.1" cy="474.6" r="3.0"/><circle cx="461.7" cy="474.7" r="3.0"/><circle cx="459.6" cy="463.2" r="3.0"/><circle cx="456.0" cy="461.2" r="3.0"/><circle cx="453.7" cy="455.3" r="3.0"/><circle cx="448.5" cy="450.7" r="3.0"/><circle cx="443.7" cy="451.7" r="3.0"/><circle cx="440.1" cy="450.2" r="3.0"/><circle cx="431.3" cy="447.7" r="3.0"/><circle cx="427.9" cy="446.4" r="3.0"/><circle cx="422.1" cy="445.2" r="3.0"/><circle cx="413.8" cy="442.3" r="3.0"/><circle cx="407.5" cy="442.9" r="3.0"/><circle cx="405.3" cy="441.1" r="3.0"/><circle cx="397.7" cy="436.8" r="3.0"/><circle cx="392.2" cy="430.5" r="3.0"/><circle cx="384.4" cy="423.3" r="3.0"/><circle cx="380.9" cy="416.8" r="3.0"/><circle cx="379.4" cy="411.2" r="3.0"/><circle cx="381.2" cy="403.3" r="3.0"/><circle cx="384.2" cy="397.6" r="3.0"/><circle cx="387.4" cy="391.8" r="3.0"/><circle cx="512.1" cy="457.3" r="3.0"/><circle cx="512.5" cy="453.9" r="3.0"/><circle cx="515.6" cy="447.5" r="3.0"/><circle cx="511.1" cy="460.4" r="3.0"/><circle cx="513.9" cy="453.4" r="3.0"/><circle cx="518.9" cy="455.5" r="3.0"/><circle cx="512.4" cy="455.9" r="3.0"/><circle cx="513.1" cy="449.9" r="3.0"/><circle cx="514.3" cy="450.6" r="3.0"/><circle cx="514.9" cy="448.7" r="3.0"/><circle cx="521.9" cy="452.3" r="3.0"/><circle cx="512.1" cy="459.4" r="3.0"/><circle cx="524.7" cy="444.3" r="3.0"/><circle cx="517.5" cy="453.8" r="3.0"/><circle cx="519.9" cy="455.1" r="3.0"/><circle cx="509.7" cy="458.3" r="3.0"/><circle cx="511.5" cy="449.2" r="3.0"/><circle cx="512.0" cy="460.3" r="3.0"/><circle cx="515.3" cy="461.9" r="3.0"/><circle cx="509.1" cy="451.6" r="3.0"/><circle cx="512.7" cy="447.0" r="3.0"/><circle cx="519.2" cy="442.8" r="3.0"/><circle cx="525.6" cy="442.9" r="3.0"/><circle cx="525.8" cy="450.7" r="3.0"/><circle cx="519.6" cy="455.1" r="3.0"/><circle cx="513.5" cy="462.1" r="3.0"/><circle cx="510.8" cy="461.2" r="3.0"/><circle cx="508.5" cy="456.7" r="3.0"/><circle cx="489.0" cy="346.1" r="3.0"/><circle cx="491.6" cy="350.0" r="3.0"/><circle cx="488.8" cy="357.0" r="3.0"/><circle cx="485.9" cy="354.4" r="3.0"/><circle cx="488.1" cy="364.5" r="3.0"/><circle cx="488.1" cy="361.5" r="3.0"/><circle cx="489.6" cy="367.3" r="3.0"/><circle cx="483.2" cy="357.9" r="3.0"/><circle cx="486.6" cy="349.8" r="3.0"/><circle cx="491.7" cy="349.5" r="3.0"/><circle cx="490.6" cy="356.0" r="3.0"/><circle cx="486.4" cy="361.2" r="3.0"/><circle cx="490.9" cy="368.1" r="3.0"/><circle cx="484.0" cy="360.3" r="3.0"/><circle cx="487.4" cy="366.9" r="3.0"/><circle cx="486.7" cy="352.8" r="3.0"/><circle cx="488.0" cy="351.6" r="3.0"/><circle cx="486.7" cy="352.6" r="3.0"/><circle cx="487.5" cy="357.0" r="3.0"/><circle cx="485.8" cy="347.4" r="3.0"/><circle cx="485.3" cy="351.9" r="3.0"/><circle cx="481.8" cy="351.0" r="3.0"/><circle cx="484.1" cy="347.2" r="3.0"/><circle cx="490.7" cy="344.4" r="3.0"/><circle cx="493.2" cy="349.3" r="3.0"/><circle cx="493.6" cy="355.9" r="3.0"/><circle cx="493.9" cy="362.3" r="3.0"/><circle cx="491.0" cy="368.5" r="3.0"/><circle cx="488.8" cy="367.9" r="3.0"/><circle cx="483.7" cy="362.5" r="3.0"/><circle cx="481.5" cy="357.4" r="3.0"/><circle cx="459.2" cy="386.3" r="3.0"/><circle cx="452.5" cy="393.7" r="3.0"/><circle cx="442.5" cy="394.2" r="3.0"/><circle cx="436.7" cy="398.3" r="3.0"/><circle cx="431.7" cy="409.2" r="3.0"/><circle cx="440.8" cy="414.7" r="3.0"/><circle cx="450.0" cy="409.2" r="3.0"/><circle cx="459.2" cy="414.7" r="3.0"/><circle cx="446.7" cy="413.3" r="3.0"/><circle cx="416.7" cy="406.7" r="3.0"/><circle cx="422.5" cy="415.8" r="3.0"/><circle cx="415.8" cy="415.8" r="3.0"/><circle cx="417.5" cy="420.8" r="3.0"/><circle cx="411.7" cy="424.2" r="3.0"/><circle cx="425.8" cy="423.3" r="3.0"/><circle cx="429.2" cy="428.3" r="3.0"/><circle cx="456.7" cy="440.3" r="3.0"/><circle cx="471.7" cy="430.8" r="3.0"/><circle cx="475.0" cy="435.0" r="3.0"/><circle cx="478.3" cy="439.2" r="3.0"/><circle cx="496.7" cy="374.2" r="3.0"/><circle cx="499.2" cy="380.0" r="3.0"/><circle cx="502.5" cy="386.7" r="3.0"/><circle cx="505.0" cy="392.5" r="3.0"/><circle cx="507.5" cy="397.5" r="3.0"/><circle cx="510.0" cy="401.7" r="3.0"/><circle cx="515.0" cy="410.8" r="3.0"/><circle cx="520.8" cy="425.0" r="3.0"/><circle cx="526.7" cy="430.0" r="3.0"/><circle cx="535.8" cy="439.2" r="3.0"/><circle cx="539.7" cy="433.7" r="3.0"/><circle cx="533.3" cy="445.0" r="3.0"/><circle cx="533.3" cy="449.2" r="3.0"/><circle cx="502.5" cy="445.0" r="3.0"/><circle cx="501.7" cy="455.8" r="3.0"/><circle cx="438.3" cy="450.0" r="3.0"/><circle cx="468.7" cy="598.6" r="3.0"/><circle cx="430.3" cy="540.8" r="3.0"/><circle cx="461.1" cy="583.7" r="3.0"/><circle cx="492.0" cy="584.5" r="3.0"/><circle cx="455.2" cy="586.1" r="3.0"/><circle cx="467.1" cy="591.9" r="3.0"/><circle cx="433.9" cy="562.2" r="3.0"/><circle cx="508.7" cy="568.0" r="3.0"/><circle cx="507.5" cy="536.3" r="3.0"/><circle cx="468.0" cy="560.1" r="3.0"/><circle cx="429.5" cy="544.8" r="3.0"/><circle cx="470.9" cy="570.7" r="3.0"/><circle cx="508.4" cy="537.4" r="3.0"/><circle cx="471.3" cy="568.7" r="3.0"/><circle cx="465.9" cy="560.3" r="3.0"/><circle cx="432.9" cy="578.9" r="3.0"/><circle cx="425.5" cy="554.1" r="3.0"/><circle cx="432.7" cy="563.0" r="3.0"/><circle cx="465.5" cy="563.8" r="3.0"/><circle cx="447.2" cy="598.9" r="3.0"/><circle cx="428.1" cy="581.3" r="3.0"/><circle cx="462.1" cy="594.4" r="3.0"/><circle cx="441.4" cy="590.8" r="3.0"/><circle cx="458.5" cy="597.9" r="3.0"/><circle cx="455.0" cy="578.8" r="3.0"/><circle cx="421.9" cy="563.7" r="3.0"/><circle cx="478.3" cy="558.5" r="3.0"/><circle cx="452.2" cy="587.3" r="3.0"/><circle cx="445.6" cy="572.7" r="3.0"/><circle cx="507.7" cy="534.3" r="3.0"/><circle cx="500.2" cy="582.2" r="3.0"/><circle cx="467.2" cy="599.7" r="3.0"/><circle cx="481.4" cy="571.8" r="3.0"/><circle cx="507.0" cy="525.8" r="3.0"/><circle cx="507.9" cy="533.4" r="3.0"/><circle cx="476.4" cy="570.6" r="3.0"/><circle cx="481.8" cy="582.8" r="3.0"/><circle cx="441.3" cy="574.0" r="3.0"/><circle cx="444.3" cy="584.7" r="3.0"/><circle cx="443.0" cy="567.4" r="3.0"/><circle cx="506.7" cy="552.6" r="3.0"/><circle cx="463.2" cy="568.3" r="3.0"/><circle cx="437.1" cy="568.7" r="3.0"/><circle cx="451.5" cy="560.5" r="3.0"/><circle cx="480.2" cy="586.6" r="3.0"/><circle cx="466.6" cy="572.2" r="3.0"/><circle cx="471.0" cy="564.9" r="3.0"/><circle cx="441.4" cy="582.4" r="3.0"/><circle cx="444.5" cy="587.8" r="3.0"/><circle cx="506.8" cy="575.9" r="3.0"/><circle cx="456.0" cy="584.0" r="3.0"/><circle cx="488.7" cy="568.9" r="3.0"/><circle cx="429.0" cy="541.3" r="3.0"/><circle cx="484.5" cy="568.0" r="3.0"/><circle cx="513.8" cy="566.6" r="3.0"/><circle cx="513.2" cy="560.2" r="3.0"/><circle cx="466.3" cy="595.3" r="3.0"/><circle cx="482.8" cy="563.2" r="3.0"/><circle cx="467.5" cy="594.5" r="3.0"/><circle cx="480.0" cy="573.9" r="3.0"/><circle cx="465.0" cy="587.7" r="3.0"/><circle cx="507.7" cy="573.4" r="3.0"/><circle cx="466.2" cy="585.8" r="3.0"/><circle cx="475.9" cy="596.5" r="3.0"/><circle cx="482.2" cy="590.7" r="3.0"/><circle cx="429.2" cy="568.2" r="3.0"/><circle cx="485.1" cy="592.9" r="3.0"/><circle cx="508.1" cy="565.7" r="3.0"/><circle cx="515.1" cy="561.9" r="3.0"/><circle cx="426.7" cy="577.8" r="3.0"/><circle cx="474.1" cy="592.7" r="3.0"/><circle cx="486.8" cy="578.2" r="3.0"/><circle cx="461.8" cy="578.6" r="3.0"/><circle cx="468.3" cy="574.3" r="3.0"/><circle cx="425.2" cy="545.4" r="3.0"/><circle cx="518.7" cy="545.0" r="3.0"/><circle cx="498.1" cy="547.9" r="3.0"/><circle cx="427.2" cy="561.5" r="3.0"/><circle cx="482.5" cy="561.2" r="3.0"/><circle cx="487.0" cy="564.1" r="3.0"/><circle cx="437.2" cy="577.2" r="3.0"/><circle cx="506.3" cy="567.6" r="3.0"/><circle cx="471.2" cy="578.2" r="3.0"/><circle cx="506.7" cy="546.2" r="3.0"/><circle cx="501.5" cy="573.8" r="3.0"/><circle cx="480.8" cy="580.6" r="3.0"/><circle cx="446.0" cy="587.6" r="3.0"/><circle cx="474.4" cy="581.8" r="3.0"/><circle cx="505.1" cy="544.1" r="3.0"/><circle cx="489.2" cy="561.7" r="3.0"/><circle cx="474.7" cy="591.0" r="3.0"/><circle cx="425.5" cy="551.8" r="3.0"/><circle cx="489.3" cy="565.1" r="3.0"/><circle cx="441.4" cy="575.3" r="3.0"/><circle cx="453.6" cy="595.3" r="3.0"/><circle cx="446.9" cy="563.6" r="3.0"/><circle cx="426.0" cy="562.6" r="3.0"/><circle cx="514.6" cy="529.0" r="3.0"/><circle cx="485.1" cy="554.2" r="3.0"/><circle cx="462.3" cy="570.6" r="3.0"/><circle cx="472.8" cy="590.1" r="3.0"/><circle cx="510.8" cy="549.5" r="3.0"/><circle cx="485.3" cy="574.1" r="3.0"/><circle cx="511.2" cy="552.3" r="3.0"/><circle cx="467.2" cy="598.0" r="3.0"/><circle cx="438.5" cy="572.6" r="3.0"/><circle cx="424.7" cy="567.1" r="3.0"/><circle cx="474.9" cy="586.8" r="3.0"/><circle cx="501.7" cy="572.2" r="3.0"/><circle cx="516.5" cy="551.9" r="3.0"/><circle cx="458.5" cy="589.1" r="3.0"/><circle cx="473.4" cy="572.3" r="3.0"/><circle cx="463.8" cy="559.5" r="3.0"/><circle cx="517.2" cy="545.8" r="3.0"/><circle cx="472.6" cy="560.9" r="3.0"/><circle cx="432.9" cy="536.0" r="3.0"/><circle cx="470.7" cy="584.9" r="3.0"/><circle cx="515.0" cy="535.3" r="3.0"/><circle cx="509.7" cy="528.4" r="3.0"/><circle cx="496.4" cy="557.6" r="3.0"/><circle cx="516.8" cy="539.3" r="3.0"/><circle cx="432.0" cy="566.1" r="3.0"/><circle cx="454.6" cy="579.1" r="3.0"/><circle cx="456.0" cy="594.5" r="3.0"/><circle cx="451.1" cy="565.0" r="3.0"/><circle cx="447.4" cy="575.2" r="3.0"/><circle cx="460.9" cy="578.1" r="3.0"/><circle cx="475.9" cy="578.9" r="3.0"/><circle cx="485.8" cy="557.2" r="3.0"/><circle cx="433.5" cy="538.8" r="3.0"/><circle cx="437.3" cy="574.6" r="3.0"/><circle cx="453.6" cy="593.1" r="3.0"/><circle cx="488.8" cy="568.4" r="3.0"/><circle cx="444.3" cy="585.8" r="3.0"/><circle cx="488.1" cy="557.2" r="3.0"/><circle cx="481.1" cy="574.2" r="3.0"/><circle cx="456.0" cy="596.0" r="3.0"/><circle cx="456.9" cy="572.9" r="3.0"/><circle cx="507.6" cy="553.0" r="3.0"/><circle cx="456.8" cy="563.5" r="3.0"/><circle cx="431.6" cy="576.5" r="3.0"/><circle cx="471.0" cy="596.7" r="3.0"/><circle cx="482.0" cy="571.5" r="3.0"/><circle cx="463.4" cy="556.9" r="3.0"/><circle cx="433.4" cy="566.1" r="3.0"/><circle cx="508.3" cy="568.1" r="3.0"/><circle cx="508.9" cy="547.0" r="3.0"/><circle cx="504.2" cy="540.7" r="3.0"/><circle cx="485.3" cy="566.6" r="3.0"/><circle cx="468.6" cy="564.2" r="3.0"/><circle cx="426.8" cy="578.1" r="3.0"/><circle cx="467.2" cy="595.5" r="3.0"/><circle cx="458.8" cy="566.8" r="3.0"/><circle cx="461.8" cy="562.9" r="3.0"/><circle cx="457.4" cy="570.2" r="3.0"/><circle cx="435.1" cy="567.4" r="3.0"/><circle cx="435.3" cy="574.0" r="3.0"/><circle cx="486.5" cy="564.2" r="3.0"/><circle cx="468.8" cy="589.3" r="3.0"/><circle cx="489.6" cy="571.3" r="3.0"/><circle cx="448.9" cy="576.2" r="3.0"/><circle cx="459.4" cy="592.1" r="3.0"/><circle cx="516.5" cy="550.4" r="3.0"/><circle cx="503.3" cy="575.9" r="3.0"/><circle cx="500.5" cy="574.1" r="3.0"/><circle cx="474.1" cy="590.5" r="3.0"/><circle cx="505.4" cy="531.6" r="3.0"/><circle cx="509.5" cy="541.9" r="3.0"/><circle cx="432.2" cy="581.5" r="3.0"/><circle cx="488.4" cy="555.8" r="3.0"/><circle cx="479.9" cy="566.5" r="3.0"/><circle cx="516.4" cy="563.1" r="3.0"/><circle cx="474.1" cy="559.7" r="3.0"/><circle cx="460.9" cy="576.8" r="3.0"/><circle cx="429.9" cy="576.9" r="3.0"/><circle cx="474.1" cy="591.0" r="3.0"/><circle cx="507.8" cy="538.8" r="3.0"/><circle cx="495.8" cy="585.5" r="3.0"/><circle cx="467.9" cy="589.4" r="3.0"/><circle cx="471.5" cy="579.5" r="3.0"/><circle cx="507.9" cy="554.4" r="3.0"/><circle cx="468.2" cy="578.0" r="3.0"/><circle cx="455.7" cy="574.7" r="3.0"/><circle cx="517.8" cy="546.6" r="3.0"/><circle cx="474.7" cy="596.9" r="3.0"/><circle cx="506.3" cy="563.8" r="3.0"/><circle cx="422.7" cy="545.4" r="3.0"/><circle cx="450.0" cy="592.8" r="3.0"/><circle cx="472.1" cy="573.6" r="3.0"/><circle cx="427.5" cy="566.1" r="3.0"/><circle cx="450.3" cy="580.9" r="3.0"/><circle cx="482.0" cy="593.2" r="3.0"/><circle cx="437.5" cy="577.8" r="3.0"/><circle cx="466.6" cy="590.4" r="3.0"/><circle cx="476.2" cy="580.8" r="3.0"/><circle cx="467.3" cy="564.8" r="3.0"/><circle cx="505.0" cy="537.1" r="3.0"/><circle cx="450.7" cy="588.7" r="3.0"/><circle cx="520.1" cy="552.5" r="3.0"/><circle cx="517.0" cy="540.1" r="3.0"/><circle cx="435.0" cy="581.4" r="3.0"/><circle cx="494.7" cy="562.0" r="3.0"/><circle cx="436.0" cy="593.8" r="3.0"/><circle cx="510.8" cy="567.4" r="3.0"/><circle cx="438.6" cy="571.1" r="3.0"/><circle cx="451.9" cy="582.6" r="3.0"/><circle cx="477.6" cy="587.0" r="3.0"/><circle cx="470.8" cy="572.4" r="3.0"/><circle cx="443.0" cy="577.2" r="3.0"/><circle cx="460.3" cy="579.1" r="3.0"/><circle cx="449.4" cy="581.4" r="3.0"/><circle cx="474.7" cy="578.6" r="3.0"/><circle cx="452.3" cy="560.8" r="3.0"/><circle cx="467.6" cy="581.2" r="3.0"/><circle cx="425.9" cy="563.3" r="3.0"/><circle cx="445.2" cy="569.2" r="3.0"/><circle cx="442.3" cy="592.1" r="3.0"/><circle cx="455.9" cy="591.0" r="3.0"/><circle cx="430.0" cy="563.9" r="3.0"/><circle cx="469.5" cy="575.3" r="3.0"/><circle cx="448.2" cy="593.2" r="3.0"/><circle cx="449.8" cy="578.4" r="3.0"/><circle cx="444.0" cy="585.1" r="3.0"/><circle cx="489.3" cy="559.9" r="3.0"/><circle cx="477.6" cy="580.1" r="3.0"/><circle cx="487.6" cy="555.0" r="3.0"/><circle cx="469.9" cy="563.1" r="3.0"/><circle cx="490.4" cy="576.6" r="3.0"/><circle cx="471.0" cy="568.0" r="3.0"/><circle cx="464.2" cy="597.7" r="3.0"/><circle cx="426.3" cy="544.1" r="3.0"/><circle cx="508.0" cy="544.3" r="3.0"/><circle cx="514.6" cy="552.9" r="3.0"/><circle cx="464.9" cy="596.3" r="3.0"/><circle cx="474.6" cy="576.1" r="3.0"/><circle cx="503.5" cy="543.7" r="3.0"/><circle cx="438.2" cy="578.3" r="3.0"/><circle cx="451.2" cy="564.5" r="3.0"/><circle cx="499.7" cy="568.6" r="3.0"/><circle cx="494.8" cy="567.2" r="3.0"/><circle cx="423.0" cy="558.7" r="3.0"/><circle cx="431.6" cy="581.2" r="3.0"/><circle cx="500.4" cy="548.7" r="3.0"/><circle cx="519.2" cy="544.5" r="3.0"/><circle cx="517.1" cy="548.2" r="3.0"/><circle cx="485.7" cy="591.2" r="3.0"/><circle cx="470.6" cy="588.7" r="3.0"/><circle cx="429.4" cy="569.9" r="3.0"/><circle cx="499.5" cy="583.2" r="3.0"/><circle cx="481.2" cy="554.8" r="3.0"/><circle cx="465.4" cy="565.3" r="3.0"/><circle cx="479.1" cy="591.8" r="3.0"/><circle cx="437.4" cy="533.4" r="3.0"/><circle cx="444.1" cy="562.7" r="3.0"/><circle cx="467.2" cy="576.1" r="3.0"/><circle cx="434.3" cy="534.2" r="3.0"/><circle cx="505.5" cy="573.8" r="3.0"/><circle cx="449.3" cy="586.5" r="3.0"/><circle cx="517.0" cy="541.6" r="3.0"/><circle cx="487.2" cy="575.4" r="3.0"/><circle cx="442.3" cy="560.7" r="3.0"/><circle cx="440.2" cy="590.3" r="3.0"/><circle cx="483.5" cy="576.8" r="3.0"/><circle cx="471.5" cy="569.3" r="3.0"/><circle cx="469.2" cy="581.7" r="3.0"/><circle cx="439.9" cy="563.1" r="3.0"/><circle cx="478.6" cy="568.5" r="3.0"/><circle cx="465.9" cy="563.2" r="3.0"/><circle cx="489.5" cy="591.1" r="3.0"/><circle cx="471.6" cy="583.8" r="3.0"/><circle cx="454.9" cy="561.8" r="3.0"/><circle cx="494.2" cy="552.8" r="3.0"/><circle cx="434.8" cy="572.2" r="3.0"/><circle cx="517.4" cy="553.2" r="3.0"/><circle cx="501.7" cy="556.2" r="3.0"/><circle cx="454.5" cy="559.8" r="3.0"/><circle cx="485.8" cy="555.8" r="3.0"/><circle cx="443.9" cy="576.4" r="3.0"/><circle cx="509.1" cy="547.0" r="3.0"/><circle cx="445.6" cy="577.2" r="3.0"/><circle cx="485.8" cy="566.1" r="3.0"/><circle cx="423.7" cy="546.2" r="3.0"/><circle cx="462.1" cy="598.5" r="3.0"/><circle cx="433.3" cy="569.4" r="3.0"/><circle cx="495.5" cy="585.9" r="3.0"/><circle cx="447.9" cy="597.8" r="3.0"/><circle cx="434.8" cy="535.5" r="3.0"/><circle cx="457.7" cy="585.4" r="3.0"/><circle cx="428.5" cy="584.2" r="3.0"/><circle cx="474.6" cy="584.9" r="3.0"/><circle cx="428.6" cy="579.2" r="3.0"/><circle cx="470.7" cy="582.3" r="3.0"/><circle cx="440.2" cy="588.8" r="3.0"/><circle cx="497.3" cy="578.9" r="3.0"/><circle cx="455.7" cy="563.9" r="3.0"/><circle cx="485.6" cy="594.4" r="3.0"/><circle cx="485.5" cy="563.7" r="3.0"/><circle cx="497.8" cy="561.7" r="3.0"/><circle cx="421.7" cy="566.0" r="3.0"/><circle cx="450.6" cy="581.0" r="3.0"/><circle cx="509.8" cy="559.2" r="3.0"/><circle cx="505.7" cy="534.4" r="3.0"/><circle cx="471.6" cy="580.8" r="3.0"/><circle cx="499.0" cy="554.0" r="3.0"/><circle cx="481.3" cy="574.0" r="3.0"/><circle cx="496.4" cy="567.7" r="3.0"/><circle cx="427.7" cy="577.9" r="3.0"/><circle cx="493.4" cy="575.0" r="3.0"/><circle cx="444.7" cy="561.5" r="3.0"/><circle cx="497.7" cy="573.0" r="3.0"/><circle cx="512.3" cy="531.7" r="3.0"/><circle cx="482.9" cy="565.1" r="3.0"/><circle cx="426.0" cy="556.4" r="3.0"/><circle cx="487.4" cy="590.1" r="3.0"/><circle cx="426.3" cy="563.2" r="3.0"/><circle cx="461.6" cy="578.0" r="3.0"/><circle cx="515.1" cy="566.9" r="3.0"/><circle cx="516.8" cy="557.0" r="3.0"/><circle cx="432.0" cy="585.7" r="3.0"/><circle cx="472.7" cy="564.4" r="3.0"/><circle cx="488.3" cy="555.4" r="3.0"/><circle cx="427.9" cy="560.9" r="3.0"/><circle cx="456.8" cy="600.0" r="3.0"/><circle cx="426.1" cy="566.3" r="3.0"/><circle cx="429.9" cy="565.5" r="3.0"/><circle cx="455.3" cy="598.3" r="3.0"/><circle cx="491.4" cy="570.3" r="3.0"/><circle cx="461.8" cy="599.0" r="3.0"/><circle cx="459.6" cy="562.9" r="3.0"/><circle cx="496.2" cy="585.9" r="3.0"/><circle cx="494.4" cy="553.6" r="3.0"/><circle cx="454.7" cy="580.4" r="3.0"/><circle cx="464.6" cy="589.2" r="3.0"/><circle cx="485.3" cy="583.2" r="3.0"/><circle cx="472.4" cy="570.5" r="3.0"/><circle cx="477.0" cy="597.7" r="3.0"/><circle cx="444.5" cy="586.5" r="3.0"/><circle cx="426.0" cy="546.0" r="3.0"/><circle cx="436.3" cy="592.5" r="3.0"/><circle cx="455.8" cy="590.7" r="3.0"/><circle cx="476.5" cy="592.3" r="3.0"/><circle cx="461.7" cy="565.7" r="3.0"/><circle cx="455.2" cy="596.8" r="3.0"/><circle cx="517.1" cy="564.5" r="3.0"/><circle cx="499.9" cy="561.4" r="3.0"/><circle cx="482.8" cy="577.1" r="3.0"/><circle cx="440.8" cy="572.8" r="3.0"/><circle cx="492.2" cy="568.7" r="3.0"/><circle cx="468.6" cy="556.6" r="3.0"/><circle cx="419.5" cy="551.4" r="3.0"/><circle cx="521.1" cy="550.5" r="3.0"/><circle cx="500.4" cy="561.9" r="3.0"/><circle cx="469.9" cy="588.3" r="3.0"/><circle cx="430.5" cy="541.9" r="3.0"/><circle cx="419.7" cy="561.9" r="3.0"/><circle cx="465.2" cy="596.7" r="3.0"/><circle cx="514.5" cy="555.4" r="3.0"/><circle cx="496.2" cy="563.9" r="3.0"/><circle cx="435.7" cy="590.8" r="3.0"/><circle cx="467.6" cy="599.8" r="3.0"/><circle cx="500.1" cy="550.2" r="3.0"/><circle cx="506.0" cy="532.7" r="3.0"/><circle cx="488.0" cy="591.5" r="3.0"/><circle cx="423.6" cy="561.2" r="3.0"/><circle cx="443.5" cy="580.1" r="3.0"/><circle cx="467.1" cy="597.1" r="3.0"/><circle cx="519.4" cy="540.5" r="3.0"/><circle cx="483.2" cy="569.6" r="3.0"/><circle cx="471.9" cy="583.0" r="3.0"/><circle cx="423.5" cy="561.5" r="3.0"/><circle cx="432.8" cy="581.0" r="3.0"/><circle cx="462.9" cy="587.9" r="3.0"/><circle cx="421.1" cy="547.4" r="3.0"/><circle cx="426.5" cy="540.4" r="3.0"/><circle cx="430.2" cy="535.2" r="3.0"/><circle cx="437.8" cy="531.1" r="3.0"/><circle cx="439.4" cy="534.1" r="3.0"/><circle cx="433.4" cy="540.2" r="3.0"/><circle cx="430.5" cy="545.1" r="3.0"/><circle cx="426.8" cy="551.5" r="3.0"/><circle cx="428.4" cy="559.1" r="3.0"/><circle cx="436.0" cy="561.2" r="3.0"/><circle cx="439.3" cy="560.3" r="3.0"/><circle cx="446.2" cy="559.5" r="3.0"/><circle cx="449.4" cy="558.8" r="3.0"/><circle cx="455.7" cy="559.0" r="3.0"/><circle cx="461.3" cy="557.1" r="3.0"/><circle cx="466.7" cy="555.6" r="3.0"/><circle cx="472.9" cy="555.5" r="3.0"/><circle cx="477.7" cy="555.7" r="3.0"/><circle cx="481.3" cy="554.7" r="3.0"/><circle cx="488.9" cy="552.2" r="3.0"/><circle cx="492.7" cy="548.9" r="3.0"/><circle cx="496.9" cy="548.3" r="3.0"/><circle cx="503.5" cy="539.9" r="3.0"/><circle cx="505.3" cy="537.5" r="3.0"/><circle cx="505.4" cy="531.5" r="3.0"/><circle cx="509.3" cy="525.8" r="3.0"/><circle cx="516.1" cy="530.0" r="3.0"/><circle cx="519.3" cy="531.7" r="3.0"/><circle cx="522.4" cy="543.8" r="3.0"/><circle cx="521.4" cy="548.1" r="3.0"/><circle cx="520.0" cy="555.0" r="3.0"/><circle cx="519.6" cy="562.0" r="3.0"/><circle cx="515.2" cy="570.1" r="3.0"/><circle cx="508.7" cy="577.0" r="3.0"/><circle cx="502.0" cy="583.8" r="3.0"/><circle cx="496.9" cy="587.1" r="3.0"/><circle cx="489.2" cy="593.6" r="3.0"/><circle cx="486.0" cy="594.6" r="3.0"/><circle cx="481.3" cy="596.9" r="3.0"/><circle cx="475.9" cy="598.6" r="3.0"/><circle cx="466.1" cy="599.4" r="3.0"/><circle cx="462.8" cy="599.2" r="3.0"/><circle cx="456.6" cy="600.2" r="3.0"/><circle cx="451.7" cy="600.3" r="3.0"/><circle cx="445.8" cy="599.3" r="3.0"/><circle cx="442.7" cy="598.8" r="3.0"/><circle cx="438.3" cy="594.7" r="3.0"/><circle cx="430.5" cy="591.4" r="3.0"/><circle cx="427.9" cy="583.9" r="3.0"/><circle cx="425.7" cy="579.5" r="3.0"/><circle cx="423.1" cy="572.9" r="3.0"/><circle cx="420.8" cy="567.2" r="3.0"/><circle cx="419.2" cy="564.1" r="3.0"/><circle cx="417.4" cy="553.6" r="3.0"/><circle cx="481.7" cy="477.5" r="3.0"/><circle cx="490.0" cy="477.5" r="3.0"/><circle cx="491.7" cy="485.0" r="3.0"/><circle cx="491.7" cy="490.0" r="3.0"/><circle cx="490.0" cy="495.8" r="3.0"/><circle cx="493.3" cy="498.3" r="3.0"/><circle cx="481.7" cy="503.3" r="3.0"/><circle cx="486.7" cy="505.0" r="3.0"/><circle cx="493.3" cy="506.7" r="3.0"/><circle cx="500.0" cy="510.0" r="3.0"/><circle cx="503.3" cy="513.3" r="3.0"/><circle cx="493.3" cy="515.8" r="3.0"/><circle cx="500.0" cy="518.3" r="3.0"/><circle cx="498.3" cy="522.5" r="3.0"/><circle cx="481.7" cy="513.3" r="3.0"/><circle cx="480.8" cy="523.3" r="3.0"/><circle cx="495.8" cy="528.0" r="3.0"/><circle cx="476.7" cy="531.7" r="3.0"/><circle cx="479.2" cy="538.3" r="3.0"/><circle cx="465.0" cy="546.7" r="3.0"/><circle cx="441.7" cy="544.2" r="3.0"/><circle cx="451.7" cy="532.5" r="3.0"/><circle cx="437.5" cy="530.0" r="3.0"/><circle cx="525.0" cy="552.5" r="3.0"/><circle cx="535.0" cy="508.3" r="3.0"/><circle cx="555.8" cy="521.7" r="3.0"/><circle cx="558.3" cy="497.5" r="3.0"/><circle cx="181.8" cy="529.7" r="3.0"/><circle cx="182.2" cy="524.0" r="3.0"/><circle cx="186.6" cy="561.4" r="3.0"/><circle cx="224.0" cy="540.1" r="3.0"/><circle cx="209.4" cy="520.8" r="3.0"/><circle cx="183.7" cy="535.6" r="3.0"/><circle cx="167.6" cy="517.2" r="3.0"/><circle cx="230.1" cy="546.2" r="3.0"/><circle cx="190.1" cy="546.0" r="3.0"/><circle cx="181.2" cy="541.2" r="3.0"/><circle cx="164.2" cy="538.8" r="3.0"/><circle cx="178.1" cy="518.1" r="3.0"/><circle cx="219.0" cy="525.4" r="3.0"/><circle cx="219.2" cy="554.1" r="3.0"/><circle cx="229.2" cy="539.5" r="3.0"/><circle cx="203.2" cy="549.4" r="3.0"/><circle cx="200.1" cy="565.8" r="3.0"/><circle cx="206.8" cy="528.8" r="3.0"/><circle cx="204.8" cy="499.4" r="3.0"/><circle cx="207.5" cy="529.2" r="3.0"/><circle cx="202.6" cy="560.1" r="3.0"/><circle cx="159.0" cy="561.2" r="3.0"/><circle cx="176.6" cy="517.3" r="3.0"/><circle cx="172.4" cy="537.8" r="3.0"/><circle cx="174.5" cy="526.3" r="3.0"/><circle cx="209.1" cy="524.8" r="3.0"/><circle cx="212.1" cy="509.8" r="3.0"/><circle cx="150.3" cy="541.6" r="3.0"/><circle cx="217.4" cy="508.6" r="3.0"/><circle cx="150.7" cy="548.2" r="3.0"/><circle cx="214.1" cy="510.5" r="3.0"/><circle cx="186.4" cy="502.8" r="3.0"/><circle cx="220.3" cy="545.8" r="3.0"/><circle cx="203.6" cy="536.5" r="3.0"/><circle cx="210.7" cy="535.4" r="3.0"/><circle cx="185.2" cy="560.6" r="3.0"/><circle cx="175.7" cy="528.7" r="3.0"/><circle cx="180.0" cy="530.7" r="3.0"/><circle cx="185.7" cy="514.2" r="3.0"/><circle cx="181.0" cy="557.1" r="3.0"/><circle cx="164.5" cy="534.0" r="3.0"/><circle cx="174.0" cy="541.5" r="3.0"/><circle cx="222.3" cy="507.2" r="3.0"/><circle cx="194.0" cy="512.5" r="3.0"/><circle cx="209.8" cy="548.8" r="3.0"/><circle cx="167.8" cy="515.7" r="3.0"/><circle cx="175.9" cy="523.0" r="3.0"/><circle cx="224.1" cy="527.8" r="3.0"/><circle cx="191.1" cy="513.6" r="3.0"/><circle cx="191.4" cy="569.0" r="3.0"/><circle cx="165.3" cy="561.2" r="3.0"/><circle cx="175.7" cy="534.7" r="3.0"/><circle cx="151.1" cy="549.8" r="3.0"/><circle cx="196.7" cy="557.9" r="3.0"/><circle cx="217.2" cy="553.7" r="3.0"/><circle cx="171.9" cy="517.2" r="3.0"/><circle cx="205.0" cy="502.3" r="3.0"/><circle cx="238.4" cy="552.0" r="3.0"/><circle cx="194.7" cy="525.4" r="3.0"/><circle cx="153.6" cy="539.7" r="3.0"/><circle cx="222.3" cy="507.4" r="3.0"/><circle cx="155.8" cy="549.4" r="3.0"/><circle cx="192.4" cy="557.2" r="3.0"/><circle cx="198.9" cy="542.1" r="3.0"/><circle cx="190.4" cy="559.2" r="3.0"/><circle cx="171.0" cy="536.0" r="3.0"/><circle cx="199.6" cy="541.8" r="3.0"/><circle cx="190.2" cy="510.4" r="3.0"/><circle cx="230.4" cy="539.8" r="3.0"/><circle cx="219.0" cy="553.4" r="3.0"/><circle cx="162.2" cy="545.7" r="3.0"/><circle cx="199.3" cy="532.4" r="3.0"/><circle cx="198.1" cy="517.4" r="3.0"/><circle cx="160.9" cy="528.3" r="3.0"/><circle cx="162.5" cy="533.0" r="3.0"/><circle cx="162.1" cy="553.1" r="3.0"/><circle cx="154.3" cy="546.8" r="3.0"/><circle cx="220.6" cy="534.4" r="3.0"/><circle cx="189.1" cy="536.5" r="3.0"/><circle cx="229.7" cy="526.8" r="3.0"/><circle cx="214.2" cy="530.8" r="3.0"/><circle cx="187.5" cy="570.7" r="3.0"/><circle cx="223.8" cy="542.7" r="3.0"/><circle cx="174.0" cy="560.4" r="3.0"/><circle cx="201.1" cy="568.5" r="3.0"/><circle cx="214.2" cy="552.5" r="3.0"/><circle cx="210.6" cy="500.4" r="3.0"/><circle cx="213.9" cy="555.0" r="3.0"/><circle cx="152.7" cy="538.9" r="3.0"/><circle cx="156.5" cy="561.4" r="3.0"/><circle cx="218.4" cy="530.4" r="3.0"/><circle cx="164.0" cy="530.2" r="3.0"/><circle cx="205.9" cy="562.4" r="3.0"/><circle cx="148.3" cy="547.9" r="3.0"/><circle cx="213.8" cy="546.6" r="3.0"/><circle cx="207.7" cy="559.5" r="3.0"/><circle cx="211.8" cy="505.7" r="3.0"/><circle cx="162.6" cy="546.1" r="3.0"/><circle cx="173.5" cy="534.6" r="3.0"/><circle cx="195.7" cy="568.2" r="3.0"/><circle cx="176.0" cy="564.7" r="3.0"/><circle cx="217.4" cy="540.8" r="3.0"/><circle cx="219.9" cy="539.0" r="3.0"/><circle cx="210.2" cy="507.3" r="3.0"/><circle cx="209.5" cy="524.3" r="3.0"/><circle cx="184.2" cy="559.6" r="3.0"/><circle cx="229.0" cy="554.0" r="3.0"/><circle cx="190.1" cy="538.3" r="3.0"/><circle cx="206.0" cy="504.5" r="3.0"/><circle cx="157.6" cy="547.4" r="3.0"/><circle cx="165.4" cy="554.4" r="3.0"/><circle cx="213.7" cy="510.9" r="3.0"/><circle cx="225.0" cy="533.7" r="3.0"/><circle cx="214.7" cy="504.9" r="3.0"/><circle cx="182.8" cy="550.8" r="3.0"/><circle cx="182.1" cy="511.0" r="3.0"/><circle cx="191.0" cy="509.1" r="3.0"/><circle cx="192.8" cy="506.0" r="3.0"/><circle cx="217.7" cy="514.4" r="3.0"/><circle cx="208.3" cy="546.3" r="3.0"/><circle cx="165.6" cy="545.1" r="3.0"/><circle cx="200.2" cy="544.2" r="3.0"/><circle cx="164.3" cy="534.0" r="3.0"/><circle cx="228.5" cy="544.4" r="3.0"/><circle cx="170.0" cy="523.4" r="3.0"/><circle cx="193.2" cy="536.7" r="3.0"/><circle cx="156.5" cy="561.0" r="3.0"/><circle cx="190.9" cy="520.3" r="3.0"/><circle cx="190.6" cy="502.5" r="3.0"/><circle cx="154.0" cy="560.0" r="3.0"/><circle cx="221.0" cy="513.2" r="3.0"/><circle cx="177.4" cy="537.2" r="3.0"/><circle cx="220.3" cy="536.1" r="3.0"/><circle cx="202.0" cy="501.9" r="3.0"/><circle cx="159.3" cy="548.4" r="3.0"/><circle cx="200.8" cy="542.8" r="3.0"/><circle cx="182.4" cy="553.3" r="3.0"/><circle cx="223.2" cy="550.1" r="3.0"/><circle cx="163.8" cy="532.8" r="3.0"/><circle cx="180.4" cy="544.2" r="3.0"/><circle cx="214.2" cy="532.8" r="3.0"/><circle cx="198.2" cy="560.9" r="3.0"/><circle cx="155.5" cy="542.9" r="3.0"/><circle cx="177.3" cy="554.6" r="3.0"/><circle cx="216.5" cy="529.4" r="3.0"/><circle cx="161.0" cy="555.3" r="3.0"/><circle cx="215.1" cy="540.4" r="3.0"/><circle cx="170.1" cy="549.7" r="3.0"/><circle cx="225.6" cy="518.3" r="3.0"/><circle cx="223.1" cy="526.1" r="3.0"/><circle cx="191.2" cy="542.1" r="3.0"/><circle cx="225.4" cy="529.5" r="3.0"/><circle cx="197.4" cy="509.4" r="3.0"/><circle cx="162.9" cy="520.2" r="3.0"/><circle cx="150.7" cy="540.8" r="3.0"/><circle cx="207.2" cy="527.9" r="3.0"/><circle cx="224.7" cy="539.1" r="3.0"/><circle cx="213.4" cy="505.0" r="3.0"/><circle cx="161.8" cy="561.6" r="3.0"/><circle cx="159.4" cy="542.8" r="3.0"/><circle cx="183.3" cy="548.4" r="3.0"/><circle cx="185.3" cy="571.8" r="3.0"/><circle cx="221.2" cy="519.2" r="3.0"/><circle cx="178.4" cy="537.4" r="3.0"/><circle cx="233.9" cy="548.3" r="3.0"/><circle cx="204.5" cy="528.8" r="3.0"/><circle cx="183.6" cy="528.7" r="3.0"/><circle cx="216.6" cy="531.4" r="3.0"/><circle cx="226.3" cy="528.6" r="3.0"/><circle cx="188.3" cy="543.1" r="3.0"/><circle cx="174.4" cy="563.9" r="3.0"/><circle cx="220.0" cy="517.6" r="3.0"/><circle cx="185.8" cy="529.5" r="3.0"/><circle cx="215.9" cy="519.8" r="3.0"/><circle cx="181.0" cy="535.9" r="3.0"/><circle cx="169.4" cy="530.4" r="3.0"/><circle cx="219.8" cy="536.0" r="3.0"/><circle cx="202.3" cy="515.8" r="3.0"/><circle cx="184.2" cy="540.1" r="3.0"/><circle cx="182.0" cy="512.2" r="3.0"/><circle cx="200.7" cy="539.0" r="3.0"/><circle cx="186.4" cy="545.0" r="3.0"/><circle cx="232.7" cy="543.0" r="3.0"/><circle cx="220.4" cy="527.5" r="3.0"/><circle cx="178.0" cy="549.7" r="3.0"/><circle cx="202.0" cy="566.2" r="3.0"/><circle cx="161.9" cy="524.1" r="3.0"/><circle cx="192.0" cy="556.9" r="3.0"/><circle cx="156.8" cy="546.0" r="3.0"/><circle cx="178.5" cy="550.0" r="3.0"/><circle cx="175.3" cy="512.5" r="3.0"/><circle cx="172.6" cy="552.2" r="3.0"/><circle cx="186.8" cy="503.5" r="3.0"/><circle cx="225.8" cy="517.6" r="3.0"/><circle cx="216.8" cy="534.9" r="3.0"/><circle cx="168.4" cy="554.0" r="3.0"/><circle cx="191.4" cy="563.9" r="3.0"/><circle cx="225.6" cy="538.2" r="3.0"/><circle cx="185.6" cy="538.2" r="3.0"/><circle cx="160.8" cy="541.6" r="3.0"/><circle cx="172.7" cy="526.9" r="3.0"/><circle cx="191.9" cy="520.1" r="3.0"/><circle cx="162.9" cy="548.0" r="3.0"/><circle cx="207.8" cy="504.6" r="3.0"/><circle cx="168.0" cy="519.5" r="3.0"/><circle cx="182.0" cy="534.9" r="3.0"/><circle cx="202.7" cy="544.9" r="3.0"/><circle cx="171.4" cy="525.0" r="3.0"/><circle cx="189.9" cy="564.3" r="3.0"/><circle cx="222.6" cy="534.2" r="3.0"/><circle cx="226.6" cy="530.8" r="3.0"/><circle cx="184.6" cy="545.9" r="3.0"/><circle cx="150.0" cy="546.6" r="3.0"/><circle cx="213.6" cy="507.0" r="3.0"/><circle cx="187.2" cy="562.0" r="3.0"/><circle cx="171.9" cy="537.9" r="3.0"/><circle cx="180.1" cy="539.6" r="3.0"/><circle cx="184.6" cy="524.1" r="3.0"/><circle cx="237.2" cy="549.9" r="3.0"/><circle cx="192.0" cy="525.7" r="3.0"/><circle cx="213.1" cy="511.8" r="3.0"/><circle cx="199.5" cy="518.6" r="3.0"/><circle cx="179.7" cy="539.4" r="3.0"/><circle cx="237.8" cy="550.0" r="3.0"/><circle cx="227.3" cy="540.6" r="3.0"/><circle cx="207.0" cy="509.0" r="3.0"/><circle cx="228.1" cy="546.0" r="3.0"/><circle cx="210.0" cy="521.2" r="3.0"/><circle cx="221.3" cy="537.7" r="3.0"/><circle cx="222.2" cy="548.9" r="3.0"/><circle cx="228.9" cy="550.2" r="3.0"/><circle cx="184.0" cy="569.4" r="3.0"/><circle cx="235.4" cy="548.3" r="3.0"/><circle cx="188.9" cy="535.7" r="3.0"/><circle cx="228.0" cy="542.7" r="3.0"/><circle cx="192.0" cy="558.1" r="3.0"/><circle cx="170.7" cy="543.7" r="3.0"/><circle cx="180.9" cy="543.6" r="3.0"/><circle cx="228.4" cy="533.3" r="3.0"/><circle cx="177.7" cy="533.7" r="3.0"/><circle cx="202.6" cy="515.1" r="3.0"/><circle cx="209.7" cy="546.0" r="3.0"/><circle cx="174.6" cy="514.4" r="3.0"/><circle cx="173.2" cy="553.8" r="3.0"/><circle cx="148.5" cy="542.1" r="3.0"/><circle cx="230.0" cy="545.5" r="3.0"/><circle cx="205.6" cy="530.2" r="3.0"/><circle cx="227.2" cy="538.2" r="3.0"/><circle cx="180.7" cy="535.4" r="3.0"/><circle cx="192.5" cy="512.5" r="3.0"/><circle cx="186.0" cy="555.4" r="3.0"/><circle cx="158.9" cy="536.1" r="3.0"/><circle cx="213.4" cy="538.2" r="3.0"/><circle cx="215.5" cy="511.0" r="3.0"/><circle cx="205.3" cy="537.5" r="3.0"/><circle cx="217.3" cy="507.0" r="3.0"/><circle cx="217.1" cy="526.7" r="3.0"/><circle cx="215.1" cy="550.3" r="3.0"/><circle cx="186.3" cy="568.8" r="3.0"/><circle cx="189.2" cy="533.2" r="3.0"/><circle cx="216.6" cy="509.9" r="3.0"/><circle cx="158.2" cy="542.4" r="3.0"/><circle cx="169.7" cy="531.2" r="3.0"/><circle cx="165.8" cy="552.3" r="3.0"/><circle cx="218.8" cy="549.4" r="3.0"/><circle cx="203.5" cy="504.7" r="3.0"/><circle cx="216.7" cy="539.2" r="3.0"/><circle cx="196.1" cy="520.2" r="3.0"/><circle cx="152.0" cy="550.7" r="3.0"/><circle cx="211.7" cy="545.5" r="3.0"/><circle cx="196.5" cy="532.3" r="3.0"/><circle cx="161.3" cy="535.1" r="3.0"/><circle cx="194.4" cy="527.3" r="3.0"/><circle cx="223.6" cy="517.2" r="3.0"/><circle cx="174.0" cy="560.1" r="3.0"/><circle cx="169.1" cy="552.3" r="3.0"/><circle cx="173.0" cy="528.9" r="3.0"/><circle cx="192.3" cy="516.9" r="3.0"/><circle cx="219.0" cy="539.2" r="3.0"/><circle cx="213.4" cy="518.0" r="3.0"/><circle cx="185.6" cy="503.5" r="3.0"/><circle cx="184.9" cy="554.3" r="3.0"/><circle cx="177.2" cy="512.4" r="3.0"/><circle cx="199.2" cy="565.0" r="3.0"/><circle cx="209.7" cy="506.8" r="3.0"/><circle cx="188.6" cy="515.6" r="3.0"/><circle cx="226.1" cy="529.6" r="3.0"/><circle cx="189.8" cy="563.6" r="3.0"/><circle cx="175.3" cy="531.9" r="3.0"/><circle cx="199.2" cy="546.6" r="3.0"/><circle cx="179.0" cy="545.2" r="3.0"/><circle cx="187.6" cy="560.2" r="3.0"/><circle cx="200.9" cy="552.4" r="3.0"/><circle cx="202.6" cy="550.3" r="3.0"/><circle cx="184.5" cy="509.6" r="3.0"/><circle cx="181.9" cy="522.8" r="3.0"/><circle cx="147.4" cy="555.6" r="3.0"/><circle cx="197.8" cy="534.2" r="3.0"/><circle cx="215.5" cy="503.6" r="3.0"/><circle cx="158.4" cy="551.7" r="3.0"/><circle cx="230.8" cy="528.9" r="3.0"/><circle cx="179.9" cy="530.8" r="3.0"/><circle cx="221.9" cy="532.8" r="3.0"/><circle cx="219.9" cy="536.7" r="3.0"/><circle cx="219.2" cy="535.2" r="3.0"/><circle cx="203.3" cy="529.8" r="3.0"/><circle cx="202.0" cy="540.0" r="3.0"/><circle cx="156.2" cy="540.5" r="3.0"/><circle cx="222.4" cy="517.5" r="3.0"/><circle cx="216.4" cy="519.5" r="3.0"/><circle cx="204.8" cy="556.0" r="3.0"/><circle cx="197.7" cy="516.7" r="3.0"/><circle cx="176.3" cy="539.7" r="3.0"/><circle cx="219.1" cy="511.8" r="3.0"/><circle cx="208.6" cy="528.5" r="3.0"/><circle cx="221.3" cy="552.5" r="3.0"/><circle cx="182.3" cy="542.3" r="3.0"/><circle cx="160.4" cy="543.8" r="3.0"/><circle cx="209.9" cy="516.2" r="3.0"/><circle cx="211.8" cy="508.9" r="3.0"/><circle cx="237.0" cy="548.1" r="3.0"/><circle cx="167.2" cy="552.9" r="3.0"/><circle cx="206.6" cy="526.7" r="3.0"/><circle cx="214.4" cy="554.9" r="3.0"/><circle cx="213.1" cy="514.8" r="3.0"/><circle cx="188.8" cy="567.2" r="3.0"/><circle cx="194.3" cy="509.4" r="3.0"/><circle cx="169.4" cy="552.8" r="3.0"/><circle cx="186.2" cy="551.2" r="3.0"/><circle cx="171.5" cy="534.1" r="3.0"/><circle cx="182.5" cy="538.7" r="3.0"/><circle cx="159.9" cy="529.1" r="3.0"/><circle cx="158.8" cy="546.8" r="3.0"/><circle cx="199.8" cy="526.0" r="3.0"/><circle cx="216.3" cy="514.9" r="3.0"/><circle cx="206.0" cy="529.5" r="3.0"/><circle cx="159.8" cy="556.1" r="3.0"/><circle cx="164.2" cy="557.9" r="3.0"/><circle cx="221.1" cy="531.0" r="3.0"/><circle cx="190.7" cy="513.8" r="3.0"/><circle cx="159.8" cy="550.2" r="3.0"/><circle cx="182.6" cy="540.3" r="3.0"/><circle cx="182.3" cy="518.4" r="3.0"/><circle cx="162.1" cy="555.1" r="3.0"/><circle cx="188.7" cy="510.0" r="3.0"/><circle cx="201.2" cy="556.2" r="3.0"/><circle cx="187.6" cy="531.0" r="3.0"/><circle cx="187.7" cy="560.4" r="3.0"/><circle cx="176.7" cy="516.8" r="3.0"/><circle cx="200.3" cy="514.3" r="3.0"/><circle cx="171.6" cy="545.5" r="3.0"/><circle cx="163.0" cy="556.8" r="3.0"/><circle cx="232.1" cy="529.8" r="3.0"/><circle cx="158.9" cy="540.9" r="3.0"/><circle cx="216.0" cy="540.1" r="3.0"/><circle cx="172.8" cy="517.0" r="3.0"/><circle cx="180.7" cy="542.0" r="3.0"/><circle cx="167.8" cy="533.1" r="3.0"/><circle cx="203.3" cy="521.2" r="3.0"/><circle cx="205.7" cy="538.8" r="3.0"/><circle cx="186.9" cy="509.6" r="3.0"/><circle cx="199.9" cy="542.6" r="3.0"/><circle cx="206.0" cy="555.8" r="3.0"/><circle cx="237.7" cy="542.4" r="3.0"/><circle cx="227.7" cy="539.4" r="3.0"/><circle cx="188.9" cy="510.5" r="3.0"/><circle cx="193.4" cy="551.5" r="3.0"/><circle cx="197.1" cy="568.6" r="3.0"/><circle cx="188.0" cy="538.7" r="3.0"/><circle cx="222.3" cy="515.9" r="3.0"/><circle cx="148.5" cy="552.1" r="3.0"/><circle cx="164.9" cy="561.7" r="3.0"/><circle cx="201.8" cy="508.7" r="3.0"/><circle cx="197.4" cy="555.8" r="3.0"/><circle cx="204.7" cy="548.7" r="3.0"/><circle cx="199.0" cy="524.7" r="3.0"/><circle cx="185.1" cy="527.9" r="3.0"/><circle cx="214.3" cy="540.7" r="3.0"/><circle cx="174.0" cy="566.2" r="3.0"/><circle cx="171.2" cy="520.9" r="3.0"/><circle cx="165.0" cy="550.5" r="3.0"/><circle cx="214.4" cy="525.7" r="3.0"/><circle cx="157.6" cy="542.7" r="3.0"/><circle cx="179.3" cy="539.4" r="3.0"/><circle cx="150.5" cy="559.3" r="3.0"/><circle cx="168.0" cy="530.2" r="3.0"/><circle cx="167.1" cy="527.6" r="3.0"/><circle cx="222.0" cy="541.1" r="3.0"/><circle cx="190.2" cy="511.1" r="3.0"/><circle cx="173.1" cy="563.4" r="3.0"/><circle cx="171.8" cy="565.0" r="3.0"/><circle cx="225.2" cy="540.9" r="3.0"/><circle cx="157.6" cy="559.9" r="3.0"/><circle cx="189.4" cy="525.9" r="3.0"/><circle cx="213.0" cy="519.8" r="3.0"/><circle cx="172.0" cy="512.9" r="3.0"/><circle cx="202.3" cy="521.9" r="3.0"/><circle cx="167.3" cy="563.6" r="3.0"/><circle cx="148.9" cy="539.9" r="3.0"/><circle cx="207.1" cy="538.6" r="3.0"/><circle cx="167.3" cy="560.7" r="3.0"/><circle cx="182.3" cy="538.9" r="3.0"/><circle cx="186.8" cy="556.9" r="3.0"/><circle cx="190.5" cy="538.9" r="3.0"/><circle cx="197.2" cy="543.0" r="3.0"/><circle cx="228.8" cy="522.9" r="3.0"/><circle cx="179.4" cy="546.8" r="3.0"/><circle cx="218.1" cy="549.0" r="3.0"/><circle cx="212.6" cy="527.1" r="3.0"/><circle cx="216.7" cy="524.7" r="3.0"/><circle cx="200.6" cy="511.3" r="3.0"/><circle cx="173.8" cy="520.7" r="3.0"/><circle cx="182.7" cy="529.5" r="3.0"/><circle cx="200.2" cy="528.3" r="3.0"/><circle cx="200.0" cy="558.9" r="3.0"/><circle cx="197.6" cy="536.6" r="3.0"/><circle cx="180.6" cy="512.4" r="3.0"/><circle cx="187.0" cy="541.1" r="3.0"/><circle cx="157.3" cy="554.6" r="3.0"/><circle cx="190.6" cy="544.8" r="3.0"/><circle cx="188.4" cy="557.5" r="3.0"/><circle cx="213.1" cy="507.6" r="3.0"/><circle cx="200.2" cy="518.3" r="3.0"/><circle cx="219.7" cy="526.1" r="3.0"/><circle cx="188.7" cy="549.0" r="3.0"/><circle cx="172.5" cy="544.6" r="3.0"/><circle cx="172.4" cy="564.5" r="3.0"/><circle cx="203.9" cy="528.2" r="3.0"/><circle cx="167.4" cy="544.3" r="3.0"/><circle cx="151.7" cy="535.9" r="3.0"/><circle cx="174.4" cy="529.3" r="3.0"/><circle cx="206.2" cy="553.1" r="3.0"/><circle cx="213.0" cy="530.8" r="3.0"/><circle cx="179.4" cy="545.0" r="3.0"/><circle cx="191.4" cy="567.4" r="3.0"/><circle cx="198.2" cy="542.0" r="3.0"/><circle cx="211.7" cy="534.4" r="3.0"/><circle cx="194.6" cy="547.8" r="3.0"/><circle cx="176.1" cy="535.3" r="3.0"/><circle cx="200.7" cy="521.2" r="3.0"/><circle cx="163.6" cy="529.4" r="3.0"/><circle cx="188.1" cy="530.7" r="3.0"/><circle cx="171.3" cy="534.2" r="3.0"/><circle cx="202.6" cy="506.2" r="3.0"/><circle cx="211.0" cy="551.2" r="3.0"/><circle cx="165.3" cy="517.1" r="3.0"/><circle cx="212.6" cy="529.1" r="3.0"/><circle cx="204.1" cy="543.4" r="3.0"/><circle cx="196.0" cy="567.1" r="3.0"/><circle cx="215.7" cy="531.6" r="3.0"/><circle cx="209.8" cy="555.2" r="3.0"/><circle cx="184.8" cy="505.0" r="3.0"/><circle cx="173.3" cy="551.0" r="3.0"/><circle cx="222.1" cy="528.3" r="3.0"/><circle cx="233.8" cy="550.9" r="3.0"/><circle cx="185.0" cy="534.3" r="3.0"/><circle cx="198.4" cy="518.2" r="3.0"/><circle cx="149.1" cy="540.9" r="3.0"/><circle cx="238.0" cy="551.8" r="3.0"/><circle cx="211.6" cy="502.9" r="3.0"/><circle cx="176.7" cy="541.7" r="3.0"/><circle cx="187.1" cy="514.7" r="3.0"/><circle cx="211.8" cy="520.8" r="3.0"/><circle cx="192.4" cy="563.2" r="3.0"/><circle cx="160.2" cy="545.2" r="3.0"/><circle cx="169.0" cy="565.6" r="3.0"/><circle cx="183.8" cy="536.2" r="3.0"/><circle cx="177.7" cy="524.7" r="3.0"/><circle cx="194.3" cy="547.5" r="3.0"/><circle cx="174.0" cy="525.3" r="3.0"/><circle cx="214.1" cy="510.8" r="3.0"/><circle cx="171.3" cy="513.0" r="3.0"/><circle cx="195.7" cy="553.9" r="3.0"/><circle cx="213.8" cy="531.3" r="3.0"/><circle cx="197.3" cy="508.1" r="3.0"/><circle cx="169.9" cy="524.1" r="3.0"/><circle cx="181.2" cy="547.4" r="3.0"/><circle cx="169.8" cy="516.3" r="3.0"/><circle cx="165.2" cy="534.8" r="3.0"/><circle cx="168.5" cy="534.4" r="3.0"/><circle cx="204.1" cy="499.5" r="3.0"/><circle cx="170.0" cy="553.5" r="3.0"/><circle cx="211.8" cy="531.8" r="3.0"/><circle cx="202.3" cy="537.7" r="3.0"/><circle cx="219.2" cy="555.8" r="3.0"/><circle cx="188.9" cy="555.6" r="3.0"/><circle cx="227.6" cy="549.8" r="3.0"/><circle cx="190.6" cy="556.2" r="3.0"/><circle cx="218.7" cy="506.0" r="3.0"/><circle cx="203.9" cy="505.3" r="3.0"/><circle cx="218.2" cy="523.7" r="3.0"/><circle cx="183.1" cy="518.9" r="3.0"/><circle cx="225.9" cy="546.1" r="3.0"/><circle cx="175.5" cy="553.5" r="3.0"/><circle cx="164.3" cy="558.0" r="3.0"/><circle cx="205.6" cy="555.3" r="3.0"/><circle cx="214.6" cy="533.0" r="3.0"/><circle cx="204.3" cy="540.6" r="3.0"/><circle cx="174.2" cy="521.3" r="3.0"/><circle cx="241.2" cy="549.5" r="3.0"/><circle cx="195.8" cy="527.9" r="3.0"/><circle cx="215.6" cy="546.7" r="3.0"/><circle cx="239.1" cy="554.0" r="3.0"/><circle cx="183.9" cy="519.3" r="3.0"/><circle cx="150.4" cy="556.4" r="3.0"/><circle cx="188.2" cy="527.8" r="3.0"/><circle cx="151.2" cy="535.3" r="3.0"/><circle cx="219.3" cy="554.8" r="3.0"/><circle cx="211.1" cy="542.8" r="3.0"/><circle cx="170.6" cy="548.6" r="3.0"/><circle cx="196.8" cy="524.9" r="3.0"/><circle cx="235.4" cy="544.9" r="3.0"/><circle cx="179.7" cy="546.8" r="3.0"/><circle cx="233.2" cy="533.0" r="3.0"/><circle cx="225.1" cy="514.6" r="3.0"/><circle cx="192.4" cy="516.2" r="3.0"/><circle cx="225.2" cy="542.9" r="3.0"/><circle cx="184.8" cy="527.1" r="3.0"/><circle cx="214.1" cy="521.8" r="3.0"/><circle cx="184.0" cy="528.5" r="3.0"/><circle cx="191.3" cy="528.1" r="3.0"/><circle cx="192.6" cy="546.1" r="3.0"/><circle cx="156.4" cy="533.9" r="3.0"/><circle cx="163.1" cy="543.2" r="3.0"/><circle cx="180.0" cy="547.9" r="3.0"/><circle cx="223.2" cy="528.6" r="3.0"/><circle cx="183.8" cy="504.5" r="3.0"/><circle cx="166.9" cy="544.7" r="3.0"/><circle cx="225.6" cy="508.9" r="3.0"/><circle cx="182.1" cy="538.6" r="3.0"/><circle cx="212.4" cy="523.0" r="3.0"/><circle cx="182.1" cy="552.1" r="3.0"/><circle cx="193.8" cy="531.0" r="3.0"/><circle cx="201.5" cy="507.3" r="3.0"/><circle cx="192.4" cy="520.5" r="3.0"/><circle cx="162.5" cy="537.5" r="3.0"/><circle cx="215.3" cy="537.6" r="3.0"/><circle cx="195.2" cy="548.2" r="3.0"/><circle cx="202.1" cy="550.1" r="3.0"/><circle cx="183.7" cy="528.2" r="3.0"/><circle cx="179.8" cy="516.7" r="3.0"/><circle cx="173.5" cy="540.4" r="3.0"/><circle cx="191.4" cy="508.4" r="3.0"/><circle cx="218.4" cy="538.0" r="3.0"/><circle cx="156.8" cy="558.6" r="3.0"/><circle cx="156.7" cy="549.5" r="3.0"/><circle cx="163.3" cy="550.8" r="3.0"/><circle cx="231.6" cy="536.8" r="3.0"/><circle cx="223.4" cy="515.4" r="3.0"/><circle cx="215.7" cy="527.2" r="3.0"/><circle cx="191.8" cy="521.8" r="3.0"/><circle cx="168.4" cy="521.1" r="3.0"/><circle cx="172.9" cy="512.6" r="3.0"/><circle cx="201.3" cy="558.7" r="3.0"/><circle cx="212.9" cy="510.3" r="3.0"/><circle cx="228.8" cy="523.1" r="3.0"/><circle cx="227.9" cy="546.2" r="3.0"/><circle cx="214.9" cy="538.9" r="3.0"/><circle cx="179.8" cy="565.8" r="3.0"/><circle cx="154.7" cy="535.6" r="3.0"/><circle cx="189.5" cy="504.0" r="3.0"/><circle cx="208.8" cy="556.9" r="3.0"/><circle cx="168.1" cy="516.8" r="3.0"/><circle cx="222.1" cy="537.8" r="3.0"/><circle cx="174.5" cy="532.0" r="3.0"/><circle cx="184.0" cy="548.0" r="3.0"/><circle cx="182.7" cy="545.6" r="3.0"/><circle cx="203.1" cy="547.2" r="3.0"/><circle cx="174.2" cy="536.8" r="3.0"/><circle cx="178.8" cy="541.6" r="3.0"/><circle cx="156.8" cy="544.9" r="3.0"/><circle cx="166.6" cy="539.7" r="3.0"/><circle cx="164.6" cy="531.6" r="3.0"/><circle cx="172.1" cy="546.1" r="3.0"/><circle cx="200.2" cy="524.7" r="3.0"/><circle cx="174.4" cy="536.3" r="3.0"/><circle cx="219.7" cy="522.6" r="3.0"/><circle cx="205.0" cy="518.3" r="3.0"/><circle cx="216.9" cy="535.4" r="3.0"/><circle cx="176.6" cy="531.8" r="3.0"/><circle cx="185.2" cy="548.2" r="3.0"/><circle cx="188.8" cy="542.0" r="3.0"/><circle cx="205.6" cy="505.3" r="3.0"/><circle cx="195.9" cy="554.1" r="3.0"/><circle cx="223.9" cy="553.0" r="3.0"/><circle cx="213.1" cy="508.1" r="3.0"/><circle cx="186.4" cy="536.3" r="3.0"/><circle cx="150.0" cy="555.3" r="3.0"/><circle cx="156.1" cy="540.4" r="3.0"/><circle cx="240.0" cy="544.6" r="3.0"/><circle cx="218.3" cy="543.5" r="3.0"/><circle cx="201.7" cy="563.2" r="3.0"/><circle cx="167.6" cy="542.8" r="3.0"/><circle cx="184.9" cy="566.8" r="3.0"/><circle cx="169.0" cy="518.6" r="3.0"/><circle cx="236.5" cy="552.0" r="3.0"/><circle cx="188.3" cy="526.3" r="3.0"/><circle cx="218.4" cy="509.7" r="3.0"/><circle cx="217.2" cy="515.4" r="3.0"/><circle cx="174.8" cy="557.9" r="3.0"/><circle cx="203.2" cy="516.9" r="3.0"/><circle cx="213.9" cy="529.4" r="3.0"/><circle cx="160.0" cy="561.7" r="3.0"/><circle cx="216.8" cy="516.7" r="3.0"/><circle cx="188.1" cy="549.2" r="3.0"/><circle cx="182.6" cy="517.7" r="3.0"/><circle cx="197.9" cy="569.0" r="3.0"/><circle cx="209.3" cy="508.9" r="3.0"/><circle cx="234.6" cy="549.7" r="3.0"/><circle cx="196.6" cy="536.8" r="3.0"/><circle cx="164.0" cy="534.8" r="3.0"/><circle cx="220.9" cy="539.8" r="3.0"/><circle cx="218.7" cy="543.0" r="3.0"/><circle cx="191.7" cy="558.8" r="3.0"/><circle cx="171.2" cy="526.2" r="3.0"/><circle cx="229.5" cy="546.7" r="3.0"/><circle cx="194.3" cy="499.8" r="3.0"/><circle cx="221.4" cy="529.4" r="3.0"/><circle cx="169.5" cy="527.2" r="3.0"/><circle cx="159.6" cy="560.9" r="3.0"/><circle cx="212.5" cy="510.6" r="3.0"/><circle cx="173.1" cy="544.5" r="3.0"/><circle cx="188.4" cy="511.5" r="3.0"/><circle cx="156.0" cy="537.5" r="3.0"/><circle cx="180.5" cy="535.7" r="3.0"/><circle cx="195.9" cy="504.9" r="3.0"/><circle cx="195.5" cy="560.9" r="3.0"/><circle cx="204.2" cy="508.2" r="3.0"/><circle cx="208.3" cy="504.8" r="3.0"/><circle cx="198.3" cy="511.8" r="3.0"/><circle cx="190.3" cy="541.8" r="3.0"/><circle cx="178.9" cy="559.2" r="3.0"/><circle cx="213.6" cy="504.4" r="3.0"/><circle cx="215.4" cy="509.1" r="3.0"/><circle cx="193.5" cy="512.2" r="3.0"/><circle cx="193.8" cy="547.2" r="3.0"/><circle cx="218.4" cy="522.7" r="3.0"/><circle cx="236.2" cy="539.5" r="3.0"/><circle cx="207.1" cy="555.3" r="3.0"/><circle cx="225.6" cy="509.2" r="3.0"/><circle cx="172.1" cy="551.3" r="3.0"/><circle cx="203.3" cy="562.5" r="3.0"/><circle cx="222.4" cy="523.2" r="3.0"/><circle cx="162.9" cy="547.3" r="3.0"/><circle cx="156.9" cy="535.3" r="3.0"/><circle cx="173.2" cy="528.4" r="3.0"/><circle cx="210.5" cy="545.6" r="3.0"/><circle cx="206.9" cy="503.1" r="3.0"/><circle cx="234.2" cy="550.8" r="3.0"/><circle cx="235.5" cy="544.0" r="3.0"/><circle cx="219.6" cy="545.6" r="3.0"/><circle cx="184.1" cy="514.3" r="3.0"/><circle cx="189.5" cy="560.9" r="3.0"/><circle cx="220.5" cy="508.3" r="3.0"/><circle cx="219.5" cy="517.2" r="3.0"/><circle cx="165.0" cy="529.4" r="3.0"/><circle cx="159.8" cy="563.7" r="3.0"/><circle cx="230.8" cy="529.8" r="3.0"/><circle cx="230.6" cy="552.4" r="3.0"/><circle cx="202.0" cy="536.5" r="3.0"/><circle cx="216.7" cy="543.2" r="3.0"/><circle cx="234.6" cy="554.5" r="3.0"/><circle cx="189.7" cy="561.4" r="3.0"/><circle cx="174.2" cy="527.6" r="3.0"/><circle cx="169.9" cy="561.4" r="3.0"/><circle cx="175.6" cy="547.8" r="3.0"/><circle cx="208.6" cy="539.6" r="3.0"/><circle cx="165.0" cy="537.0" r="3.0"/><circle cx="169.6" cy="561.0" r="3.0"/><circle cx="164.0" cy="555.3" r="3.0"/><circle cx="165.4" cy="523.8" r="3.0"/><circle cx="203.4" cy="519.0" r="3.0"/><circle cx="220.6" cy="503.6" r="3.0"/><circle cx="212.8" cy="517.7" r="3.0"/><circle cx="212.0" cy="500.8" r="3.0"/><circle cx="238.7" cy="545.6" r="3.0"/><circle cx="236.2" cy="553.7" r="3.0"/><circle cx="147.9" cy="552.2" r="3.0"/><circle cx="148.8" cy="547.2" r="3.0"/><circle cx="147.3" cy="541.4" r="3.0"/><circle cx="148.2" cy="535.5" r="3.0"/><circle cx="153.6" cy="531.8" r="3.0"/><circle cx="157.5" cy="526.1" r="3.0"/><circle cx="161.4" cy="520.8" r="3.0"/><circle cx="165.1" cy="518.7" r="3.0"/><circle cx="170.0" cy="511.9" r="3.0"/><circle cx="178.3" cy="509.1" r="3.0"/><circle cx="181.3" cy="505.1" r="3.0"/><circle cx="187.4" cy="502.0" r="3.0"/><circle cx="191.0" cy="501.7" r="3.0"/><circle cx="196.9" cy="499.8" r="3.0"/><circle cx="202.1" cy="499.8" r="3.0"/><circle cx="209.8" cy="500.8" r="3.0"/><circle cx="219.0" cy="501.1" r="3.0"/><circle cx="224.6" cy="502.3" r="3.0"/><circle cx="227.9" cy="510.7" r="3.0"/><circle cx="231.7" cy="515.6" r="3.0"/><circle cx="229.6" cy="523.6" r="3.0"/><circle cx="230.7" cy="526.5" r="3.0"/><circle cx="235.5" cy="530.7" r="3.0"/><circle cx="236.9" cy="539.3" r="3.0"/><circle cx="239.9" cy="544.4" r="3.0"/><circle cx="241.6" cy="549.3" r="3.0"/><circle cx="239.1" cy="554.6" r="3.0"/><circle cx="229.2" cy="554.7" r="3.0"/><circle cx="220.5" cy="555.3" r="3.0"/><circle cx="214.1" cy="557.8" r="3.0"/><circle cx="209.3" cy="559.3" r="3.0"/><circle cx="204.5" cy="566.2" r="3.0"/><circle cx="198.2" cy="570.3" r="3.0"/><circle cx="188.5" cy="571.6" r="3.0"/><circle cx="182.2" cy="571.3" r="3.0"/><circle cx="176.5" cy="565.4" r="3.0"/><circle cx="171.0" cy="565.7" r="3.0"/><circle cx="165.8" cy="566.4" r="3.0"/><circle cx="159.2" cy="565.3" r="3.0"/><circle cx="153.1" cy="561.1" r="3.0"/><circle cx="148.6" cy="558.1" r="3.0"/><circle cx="145.0" cy="552.7" r="3.0"/><circle cx="240.4" cy="577.0" r="3.0"/><circle cx="224.8" cy="568.0" r="3.0"/><circle cx="236.6" cy="571.2" r="3.0"/><circle cx="215.5" cy="574.3" r="3.0"/><circle cx="219.4" cy="571.1" r="3.0"/><circle cx="220.9" cy="570.5" r="3.0"/><circle cx="215.6" cy="569.3" r="3.0"/><circle cx="230.7" cy="576.1" r="3.0"/><circle cx="231.9" cy="568.0" r="3.0"/><circle cx="244.8" cy="575.5" r="3.0"/><circle cx="241.6" cy="572.7" r="3.0"/><circle cx="231.1" cy="570.9" r="3.0"/><circle cx="243.4" cy="568.1" r="3.0"/><circle cx="246.5" cy="571.6" r="3.0"/><circle cx="240.1" cy="569.9" r="3.0"/><circle cx="243.4" cy="569.3" r="3.0"/><circle cx="225.9" cy="574.9" r="3.0"/><circle cx="241.1" cy="569.4" r="3.0"/><circle cx="218.6" cy="570.3" r="3.0"/><circle cx="222.3" cy="566.5" r="3.0"/><circle cx="239.1" cy="568.1" r="3.0"/><circle cx="233.8" cy="567.2" r="3.0"/><circle cx="215.4" cy="575.5" r="3.0"/><circle cx="239.2" cy="574.2" r="3.0"/><circle cx="229.4" cy="576.4" r="3.0"/><circle cx="239.6" cy="572.2" r="3.0"/><circle cx="234.1" cy="565.0" r="3.0"/><circle cx="225.7" cy="574.1" r="3.0"/><circle cx="236.4" cy="577.0" r="3.0"/><circle cx="220.3" cy="564.1" r="3.0"/><circle cx="245.9" cy="572.0" r="3.0"/><circle cx="239.0" cy="565.5" r="3.0"/><circle cx="221.1" cy="564.4" r="3.0"/><circle cx="231.9" cy="574.4" r="3.0"/><circle cx="219.5" cy="564.3" r="3.0"/><circle cx="229.9" cy="568.9" r="3.0"/><circle cx="237.5" cy="573.0" r="3.0"/><circle cx="236.1" cy="573.1" r="3.0"/><circle cx="244.2" cy="571.2" r="3.0"/><circle cx="224.9" cy="579.0" r="3.0"/><circle cx="226.0" cy="575.9" r="3.0"/><circle cx="215.8" cy="572.4" r="3.0"/><circle cx="221.1" cy="566.1" r="3.0"/><circle cx="222.3" cy="568.9" r="3.0"/><circle cx="234.5" cy="569.1" r="3.0"/><circle cx="242.1" cy="569.6" r="3.0"/><circle cx="239.9" cy="568.8" r="3.0"/><circle cx="220.6" cy="577.5" r="3.0"/><circle cx="234.3" cy="574.5" r="3.0"/><circle cx="230.1" cy="574.3" r="3.0"/><circle cx="245.8" cy="574.8" r="3.0"/><circle cx="222.1" cy="577.3" r="3.0"/><circle cx="227.0" cy="569.2" r="3.0"/><circle cx="222.2" cy="569.2" r="3.0"/><circle cx="225.1" cy="570.0" r="3.0"/><circle cx="211.0" cy="570.0" r="3.0"/><circle cx="216.1" cy="567.5" r="3.0"/><circle cx="223.0" cy="565.3" r="3.0"/><circle cx="224.5" cy="566.4" r="3.0"/><circle cx="230.6" cy="568.4" r="3.0"/><circle cx="233.6" cy="565.8" r="3.0"/><circle cx="237.0" cy="563.2" r="3.0"/><circle cx="244.0" cy="569.0" r="3.0"/><circle cx="248.1" cy="571.1" r="3.0"/><circle cx="244.1" cy="577.5" r="3.0"/><circle cx="236.0" cy="577.4" r="3.0"/><circle cx="229.6" cy="577.0" r="3.0"/><circle cx="221.7" cy="577.6" r="3.0"/><circle cx="216.0" cy="576.3" r="3.0"/><circle cx="256.1" cy="493.1" r="3.0"/><circle cx="262.4" cy="492.0" r="3.0"/><circle cx="245.9" cy="496.0" r="3.0"/><circle cx="241.8" cy="497.5" r="3.0"/><circle cx="247.8" cy="495.7" r="3.0"/><circle cx="250.6" cy="493.7" r="3.0"/><circle cx="255.0" cy="490.8" r="3.0"/><circle cx="252.6" cy="502.6" r="3.0"/><circle cx="252.3" cy="503.8" r="3.0"/><circle cx="258.9" cy="496.7" r="3.0"/><circle cx="256.8" cy="494.8" r="3.0"/><circle cx="244.9" cy="507.4" r="3.0"/><circle cx="251.7" cy="506.3" r="3.0"/><circle cx="260.4" cy="492.0" r="3.0"/><circle cx="245.9" cy="507.3" r="3.0"/><circle cx="246.2" cy="500.4" r="3.0"/><circle cx="257.2" cy="491.4" r="3.0"/><circle cx="246.2" cy="509.3" r="3.0"/><circle cx="247.0" cy="509.9" r="3.0"/><circle cx="251.9" cy="505.8" r="3.0"/><circle cx="245.2" cy="498.2" r="3.0"/><circle cx="251.0" cy="502.5" r="3.0"/><circle cx="256.8" cy="496.5" r="3.0"/><circle cx="252.8" cy="505.4" r="3.0"/><circle cx="246.3" cy="497.2" r="3.0"/><circle cx="254.5" cy="504.6" r="3.0"/><circle cx="254.3" cy="500.7" r="3.0"/><circle cx="250.7" cy="492.5" r="3.0"/><circle cx="259.6" cy="495.2" r="3.0"/><circle cx="262.1" cy="489.7" r="3.0"/><circle cx="254.5" cy="489.5" r="3.0"/><circle cx="247.2" cy="499.8" r="3.0"/><circle cx="247.1" cy="507.5" r="3.0"/><circle cx="255.4" cy="500.4" r="3.0"/><circle cx="241.3" cy="498.0" r="3.0"/><circle cx="247.7" cy="495.1" r="3.0"/><circle cx="253.3" cy="487.6" r="3.0"/><circle cx="259.6" cy="487.4" r="3.0"/><circle cx="263.4" cy="490.8" r="3.0"/><circle cx="261.0" cy="495.3" r="3.0"/><circle cx="257.7" cy="499.7" r="3.0"/><circle cx="255.5" cy="503.6" r="3.0"/><circle cx="250.9" cy="507.6" r="3.0"/><circle cx="246.0" cy="509.5" r="3.0"/><circle cx="246.0" cy="505.1" r="3.0"/><circle cx="247.4" cy="502.0" r="3.0"/><circle cx="242.5" cy="499.2" r="3.0"/><circle cx="236.7" cy="502.7" r="3.0"/><circle cx="235.3" cy="509.3" r="3.0"/><circle cx="236.7" cy="514.0" r="3.0"/><circle cx="237.3" cy="522.7" r="3.0"/><circle cx="244.9" cy="524.7" r="3.0"/><circle cx="228.0" cy="528.7" r="3.0"/><circle cx="236.0" cy="531.3" r="3.0"/><circle cx="214.0" cy="565.3" r="3.0"/><circle cx="220.7" cy="562.7" r="3.0"/><circle cx="236.7" cy="562.0" r="3.0"/><circle cx="599.0" cy="400.4" r="3.0"/><circle cx="636.6" cy="420.6" r="3.0"/><circle cx="636.0" cy="424.6" r="3.0"/><circle cx="601.7" cy="410.0" r="3.0"/><circle cx="606.7" cy="458.7" r="3.0"/><circle cx="589.7" cy="384.9" r="3.0"/><circle cx="628.0" cy="446.7" r="3.0"/><circle cx="625.4" cy="454.7" r="3.0"/><circle cx="587.8" cy="384.4" r="3.0"/><circle cx="606.3" cy="391.4" r="3.0"/><circle cx="613.9" cy="460.0" r="3.0"/><circle cx="586.8" cy="409.2" r="3.0"/><circle cx="622.9" cy="436.2" r="3.0"/><circle cx="589.4" cy="444.0" r="3.0"/><circle cx="589.4" cy="441.1" r="3.0"/><circle cx="589.1" cy="425.9" r="3.0"/><circle cx="589.7" cy="426.5" r="3.0"/><circle cx="605.7" cy="396.5" r="3.0"/><circle cx="642.9" cy="422.9" r="3.0"/><circle cx="615.0" cy="445.4" r="3.0"/><circle cx="598.9" cy="394.1" r="3.0"/><circle cx="640.7" cy="436.2" r="3.0"/><circle cx="600.9" cy="417.5" r="3.0"/><circle cx="605.8" cy="433.6" r="3.0"/><circle cx="604.4" cy="414.3" r="3.0"/><circle cx="593.3" cy="447.8" r="3.0"/><circle cx="632.3" cy="444.1" r="3.0"/><circle cx="606.6" cy="417.1" r="3.0"/><circle cx="588.6" cy="400.5" r="3.0"/><circle cx="604.0" cy="429.3" r="3.0"/><circle cx="610.3" cy="405.6" r="3.0"/><circle cx="604.9" cy="419.0" r="3.0"/><circle cx="595.7" cy="421.5" r="3.0"/><circle cx="590.9" cy="470.4" r="3.0"/><circle cx="608.0" cy="378.1" r="3.0"/><circle cx="609.0" cy="406.5" r="3.0"/><circle cx="599.9" cy="386.9" r="3.0"/><circle cx="618.0" cy="398.3" r="3.0"/><circle cx="613.1" cy="446.5" r="3.0"/><circle cx="620.7" cy="464.6" r="3.0"/><circle cx="624.5" cy="459.0" r="3.0"/><circle cx="609.9" cy="467.7" r="3.0"/><circle cx="600.6" cy="430.0" r="3.0"/><circle cx="590.7" cy="418.6" r="3.0"/><circle cx="583.6" cy="468.3" r="3.0"/><circle cx="611.3" cy="460.8" r="3.0"/><circle cx="594.5" cy="422.2" r="3.0"/><circle cx="592.7" cy="434.7" r="3.0"/><circle cx="625.7" cy="433.1" r="3.0"/><circle cx="616.9" cy="407.2" r="3.0"/><circle cx="586.9" cy="442.3" r="3.0"/><circle cx="592.7" cy="469.4" r="3.0"/><circle cx="607.7" cy="432.8" r="3.0"/><circle cx="621.4" cy="437.4" r="3.0"/><circle cx="597.6" cy="464.4" r="3.0"/><circle cx="597.6" cy="443.9" r="3.0"/><circle cx="622.7" cy="414.8" r="3.0"/><circle cx="628.5" cy="440.4" r="3.0"/><circle cx="583.3" cy="475.0" r="3.0"/><circle cx="642.0" cy="433.1" r="3.0"/><circle cx="619.3" cy="402.6" r="3.0"/><circle cx="610.5" cy="415.1" r="3.0"/><circle cx="589.8" cy="428.1" r="3.0"/><circle cx="624.2" cy="407.6" r="3.0"/><circle cx="589.8" cy="389.0" r="3.0"/><circle cx="601.1" cy="414.0" r="3.0"/><circle cx="599.4" cy="449.9" r="3.0"/><circle cx="597.6" cy="404.5" r="3.0"/><circle cx="608.0" cy="397.3" r="3.0"/><circle cx="631.4" cy="463.7" r="3.0"/><circle cx="626.0" cy="415.9" r="3.0"/><circle cx="588.2" cy="442.4" r="3.0"/><circle cx="632.0" cy="417.0" r="3.0"/><circle cx="636.1" cy="433.4" r="3.0"/><circle cx="594.1" cy="397.5" r="3.0"/><circle cx="615.0" cy="426.7" r="3.0"/><circle cx="608.4" cy="420.7" r="3.0"/><circle cx="602.0" cy="395.0" r="3.0"/><circle cx="602.5" cy="430.1" r="3.0"/><circle cx="588.9" cy="408.2" r="3.0"/><circle cx="612.8" cy="469.1" r="3.0"/><circle cx="609.6" cy="410.7" r="3.0"/><circle cx="599.7" cy="388.1" r="3.0"/><circle cx="609.0" cy="437.2" r="3.0"/><circle cx="600.2" cy="449.0" r="3.0"/><circle cx="618.4" cy="431.4" r="3.0"/><circle cx="591.4" cy="410.5" r="3.0"/><circle cx="626.4" cy="415.7" r="3.0"/><circle cx="612.9" cy="399.1" r="3.0"/><circle cx="620.1" cy="423.8" r="3.0"/><circle cx="608.5" cy="402.8" r="3.0"/><circle cx="625.4" cy="417.9" r="3.0"/><circle cx="598.1" cy="388.2" r="3.0"/><circle cx="618.4" cy="446.5" r="3.0"/><circle cx="589.7" cy="439.3" r="3.0"/><circle cx="584.3" cy="463.8" r="3.0"/><circle cx="593.7" cy="432.0" r="3.0"/><circle cx="629.9" cy="410.6" r="3.0"/><circle cx="621.5" cy="435.8" r="3.0"/><circle cx="623.0" cy="430.3" r="3.0"/><circle cx="638.8" cy="435.9" r="3.0"/><circle cx="624.4" cy="407.2" r="3.0"/><circle cx="590.9" cy="464.7" r="3.0"/><circle cx="598.9" cy="395.5" r="3.0"/><circle cx="616.4" cy="408.4" r="3.0"/><circle cx="612.8" cy="407.7" r="3.0"/><circle cx="623.2" cy="420.4" r="3.0"/><circle cx="633.8" cy="443.4" r="3.0"/><circle cx="593.5" cy="458.3" r="3.0"/><circle cx="613.4" cy="459.4" r="3.0"/><circle cx="625.2" cy="454.7" r="3.0"/><circle cx="602.6" cy="464.2" r="3.0"/><circle cx="629.9" cy="425.6" r="3.0"/><circle cx="595.1" cy="392.3" r="3.0"/><circle cx="612.6" cy="395.1" r="3.0"/><circle cx="613.0" cy="384.5" r="3.0"/><circle cx="596.6" cy="442.5" r="3.0"/><circle cx="584.6" cy="463.4" r="3.0"/><circle cx="590.1" cy="468.3" r="3.0"/><circle cx="595.2" cy="443.7" r="3.0"/><circle cx="580.0" cy="472.3" r="3.0"/><circle cx="599.9" cy="468.8" r="3.0"/><circle cx="614.0" cy="414.9" r="3.0"/><circle cx="580.4" cy="467.1" r="3.0"/><circle cx="620.9" cy="437.7" r="3.0"/><circle cx="639.3" cy="431.6" r="3.0"/><circle cx="620.7" cy="421.9" r="3.0"/><circle cx="600.7" cy="377.8" r="3.0"/><circle cx="590.7" cy="395.0" r="3.0"/><circle cx="625.0" cy="458.3" r="3.0"/><circle cx="590.0" cy="460.2" r="3.0"/><circle cx="602.3" cy="460.7" r="3.0"/><circle cx="592.0" cy="406.1" r="3.0"/><circle cx="612.7" cy="398.7" r="3.0"/><circle cx="593.5" cy="448.1" r="3.0"/><circle cx="621.9" cy="411.1" r="3.0"/><circle cx="608.6" cy="434.3" r="3.0"/><circle cx="617.5" cy="466.9" r="3.0"/><circle cx="609.2" cy="420.5" r="3.0"/><circle cx="606.5" cy="388.1" r="3.0"/><circle cx="594.2" cy="463.6" r="3.0"/><circle cx="617.1" cy="424.5" r="3.0"/><circle cx="613.3" cy="418.5" r="3.0"/><circle cx="618.9" cy="436.8" r="3.0"/><circle cx="619.2" cy="427.9" r="3.0"/><circle cx="628.7" cy="421.3" r="3.0"/><circle cx="625.7" cy="413.3" r="3.0"/><circle cx="614.8" cy="448.8" r="3.0"/><circle cx="616.9" cy="436.0" r="3.0"/><circle cx="602.5" cy="411.1" r="3.0"/><circle cx="622.0" cy="420.5" r="3.0"/><circle cx="606.6" cy="413.9" r="3.0"/><circle cx="595.8" cy="438.2" r="3.0"/><circle cx="621.6" cy="428.9" r="3.0"/><circle cx="620.7" cy="441.9" r="3.0"/><circle cx="603.7" cy="377.7" r="3.0"/><circle cx="601.0" cy="427.9" r="3.0"/><circle cx="622.1" cy="440.9" r="3.0"/><circle cx="600.1" cy="454.8" r="3.0"/><circle cx="584.3" cy="463.7" r="3.0"/><circle cx="610.1" cy="421.3" r="3.0"/><circle cx="624.6" cy="430.0" r="3.0"/><circle cx="591.2" cy="399.0" r="3.0"/><circle cx="596.0" cy="412.5" r="3.0"/><circle cx="591.2" cy="401.5" r="3.0"/><circle cx="584.7" cy="472.7" r="3.0"/><circle cx="627.7" cy="412.0" r="3.0"/><circle cx="582.8" cy="472.6" r="3.0"/><circle cx="637.3" cy="430.9" r="3.0"/><circle cx="606.2" cy="377.5" r="3.0"/><circle cx="616.3" cy="400.1" r="3.0"/><circle cx="641.9" cy="433.2" r="3.0"/><circle cx="600.8" cy="402.5" r="3.0"/><circle cx="591.8" cy="386.8" r="3.0"/><circle cx="596.4" cy="407.8" r="3.0"/><circle cx="611.0" cy="426.6" r="3.0"/><circle cx="586.3" cy="444.9" r="3.0"/><circle cx="589.9" cy="449.7" r="3.0"/><circle cx="587.1" cy="463.1" r="3.0"/><circle cx="597.4" cy="385.9" r="3.0"/><circle cx="585.8" cy="396.7" r="3.0"/><circle cx="603.2" cy="450.7" r="3.0"/><circle cx="587.5" cy="394.7" r="3.0"/><circle cx="603.6" cy="446.6" r="3.0"/><circle cx="608.1" cy="396.7" r="3.0"/><circle cx="597.6" cy="410.0" r="3.0"/><circle cx="592.9" cy="454.7" r="3.0"/><circle cx="589.6" cy="459.6" r="3.0"/><circle cx="581.8" cy="459.3" r="3.0"/><circle cx="602.1" cy="392.9" r="3.0"/><circle cx="596.5" cy="466.3" r="3.0"/><circle cx="611.7" cy="440.3" r="3.0"/><circle cx="598.8" cy="422.8" r="3.0"/><circle cx="614.3" cy="418.1" r="3.0"/><circle cx="606.9" cy="460.4" r="3.0"/><circle cx="610.8" cy="451.9" r="3.0"/><circle cx="598.6" cy="462.2" r="3.0"/><circle cx="639.9" cy="429.6" r="3.0"/><circle cx="612.3" cy="420.1" r="3.0"/><circle cx="585.7" cy="452.3" r="3.0"/><circle cx="614.4" cy="408.3" r="3.0"/><circle cx="588.9" cy="431.0" r="3.0"/><circle cx="609.8" cy="409.7" r="3.0"/><circle cx="643.2" cy="425.7" r="3.0"/><circle cx="610.8" cy="382.7" r="3.0"/><circle cx="605.6" cy="433.9" r="3.0"/><circle cx="624.7" cy="439.0" r="3.0"/><circle cx="589.7" cy="422.1" r="3.0"/><circle cx="605.3" cy="394.2" r="3.0"/><circle cx="603.4" cy="382.9" r="3.0"/><circle cx="613.8" cy="416.0" r="3.0"/><circle cx="611.9" cy="390.8" r="3.0"/><circle cx="628.0" cy="444.6" r="3.0"/><circle cx="583.8" cy="445.6" r="3.0"/><circle cx="579.6" cy="458.8" r="3.0"/><circle cx="588.8" cy="428.7" r="3.0"/><circle cx="626.3" cy="419.0" r="3.0"/><circle cx="587.0" cy="422.1" r="3.0"/><circle cx="625.1" cy="430.0" r="3.0"/><circle cx="638.2" cy="423.4" r="3.0"/><circle cx="592.9" cy="460.4" r="3.0"/><circle cx="596.0" cy="382.0" r="3.0"/><circle cx="587.0" cy="460.3" r="3.0"/><circle cx="586.3" cy="467.0" r="3.0"/><circle cx="585.6" cy="467.9" r="3.0"/><circle cx="613.3" cy="435.3" r="3.0"/><circle cx="608.8" cy="398.0" r="3.0"/><circle cx="638.0" cy="431.8" r="3.0"/><circle cx="628.7" cy="447.7" r="3.0"/><circle cx="587.0" cy="458.3" r="3.0"/><circle cx="590.7" cy="451.8" r="3.0"/><circle cx="630.0" cy="445.0" r="3.0"/><circle cx="601.4" cy="468.9" r="3.0"/><circle cx="585.9" cy="399.0" r="3.0"/><circle cx="606.6" cy="402.3" r="3.0"/><circle cx="627.7" cy="458.7" r="3.0"/><circle cx="628.3" cy="408.5" r="3.0"/><circle cx="616.6" cy="407.6" r="3.0"/><circle cx="614.3" cy="428.9" r="3.0"/><circle cx="585.9" cy="459.8" r="3.0"/><circle cx="628.7" cy="456.1" r="3.0"/><circle cx="605.5" cy="399.0" r="3.0"/><circle cx="609.0" cy="406.3" r="3.0"/><circle cx="602.3" cy="453.6" r="3.0"/><circle cx="598.2" cy="446.8" r="3.0"/><circle cx="611.6" cy="461.9" r="3.0"/><circle cx="621.4" cy="460.4" r="3.0"/><circle cx="589.2" cy="451.1" r="3.0"/><circle cx="596.1" cy="442.0" r="3.0"/><circle cx="619.0" cy="409.0" r="3.0"/><circle cx="593.1" cy="440.1" r="3.0"/><circle cx="620.3" cy="397.7" r="3.0"/><circle cx="579.0" cy="463.9" r="3.0"/><circle cx="615.8" cy="428.7" r="3.0"/><circle cx="613.3" cy="469.4" r="3.0"/><circle cx="589.5" cy="429.5" r="3.0"/><circle cx="605.3" cy="456.2" r="3.0"/><circle cx="641.1" cy="437.6" r="3.0"/><circle cx="633.7" cy="442.9" r="3.0"/><circle cx="608.5" cy="392.2" r="3.0"/><circle cx="610.0" cy="381.8" r="3.0"/><circle cx="623.5" cy="416.1" r="3.0"/><circle cx="603.5" cy="413.9" r="3.0"/><circle cx="594.7" cy="390.5" r="3.0"/><circle cx="621.6" cy="427.6" r="3.0"/><circle cx="605.9" cy="450.5" r="3.0"/><circle cx="611.0" cy="392.6" r="3.0"/><circle cx="594.2" cy="431.6" r="3.0"/><circle cx="622.8" cy="439.0" r="3.0"/><circle cx="628.5" cy="411.8" r="3.0"/><circle cx="630.0" cy="434.0" r="3.0"/><circle cx="593.2" cy="389.0" r="3.0"/><circle cx="619.9" cy="460.0" r="3.0"/><circle cx="634.0" cy="434.7" r="3.0"/><circle cx="592.6" cy="405.8" r="3.0"/><circle cx="609.7" cy="430.7" r="3.0"/><circle cx="589.3" cy="454.9" r="3.0"/><circle cx="586.6" cy="473.7" r="3.0"/><circle cx="586.9" cy="455.3" r="3.0"/><circle cx="617.0" cy="462.4" r="3.0"/><circle cx="596.0" cy="422.3" r="3.0"/><circle cx="612.6" cy="431.3" r="3.0"/><circle cx="636.2" cy="428.1" r="3.0"/><circle cx="588.6" cy="419.1" r="3.0"/><circle cx="626.5" cy="450.8" r="3.0"/><circle cx="586.6" cy="405.0" r="3.0"/><circle cx="592.8" cy="384.0" r="3.0"/><circle cx="585.1" cy="443.4" r="3.0"/><circle cx="604.2" cy="408.3" r="3.0"/><circle cx="588.8" cy="456.9" r="3.0"/><circle cx="585.3" cy="441.0" r="3.0"/><circle cx="607.3" cy="441.6" r="3.0"/><circle cx="624.0" cy="434.1" r="3.0"/><circle cx="602.6" cy="457.3" r="3.0"/><circle cx="614.0" cy="466.9" r="3.0"/><circle cx="602.5" cy="435.3" r="3.0"/><circle cx="602.2" cy="382.8" r="3.0"/><circle cx="646.1" cy="421.3" r="3.0"/><circle cx="585.0" cy="391.7" r="3.0"/><circle cx="617.4" cy="404.7" r="3.0"/><circle cx="623.3" cy="456.0" r="3.0"/><circle cx="589.8" cy="399.1" r="3.0"/><circle cx="604.5" cy="435.5" r="3.0"/><circle cx="638.8" cy="434.8" r="3.0"/><circle cx="594.1" cy="448.0" r="3.0"/><circle cx="585.8" cy="387.2" r="3.0"/><circle cx="616.4" cy="422.4" r="3.0"/><circle cx="614.7" cy="395.1" r="3.0"/><circle cx="590.1" cy="434.2" r="3.0"/><circle cx="603.9" cy="425.8" r="3.0"/><circle cx="640.5" cy="422.6" r="3.0"/><circle cx="610.2" cy="382.0" r="3.0"/><circle cx="589.2" cy="395.2" r="3.0"/><circle cx="602.5" cy="392.3" r="3.0"/><circle cx="596.8" cy="383.7" r="3.0"/><circle cx="601.5" cy="453.8" r="3.0"/><circle cx="614.1" cy="464.5" r="3.0"/><circle cx="619.2" cy="440.0" r="3.0"/><circle cx="605.6" cy="458.8" r="3.0"/><circle cx="607.2" cy="390.4" r="3.0"/><circle cx="591.1" cy="455.1" r="3.0"/><circle cx="619.9" cy="443.8" r="3.0"/><circle cx="608.4" cy="440.8" r="3.0"/><circle cx="605.1" cy="434.7" r="3.0"/><circle cx="599.4" cy="438.0" r="3.0"/><circle cx="645.0" cy="422.5" r="3.0"/><circle cx="586.8" cy="385.1" r="3.0"/><circle cx="591.0" cy="380.3" r="3.0"/><circle cx="596.9" cy="377.1" r="3.0"/><circle cx="604.7" cy="377.8" r="3.0"/><circle cx="608.4" cy="376.1" r="3.0"/><circle cx="614.3" cy="388.5" r="3.0"/><circle cx="616.0" cy="393.8" r="3.0"/><circle cx="619.6" cy="398.3" r="3.0"/><circle cx="624.7" cy="402.7" r="3.0"/><circle cx="628.5" cy="405.1" r="3.0"/><circle cx="632.2" cy="409.4" r="3.0"/><circle cx="635.4" cy="411.6" r="3.0"/><circle cx="639.2" cy="416.6" r="3.0"/><circle cx="643.1" cy="418.5" r="3.0"/><circle cx="645.8" cy="421.3" r="3.0"/><circle cx="643.5" cy="430.9" r="3.0"/><circle cx="641.9" cy="439.9" r="3.0"/><circle cx="633.1" cy="444.2" r="3.0"/><circle cx="629.1" cy="447.3" r="3.0"/><circle cx="626.7" cy="453.3" r="3.0"/><circle cx="631.9" cy="461.6" r="3.0"/><circle cx="630.3" cy="465.6" r="3.0"/><circle cx="626.6" cy="465.0" r="3.0"/><circle cx="622.8" cy="466.4" r="3.0"/><circle cx="618.5" cy="468.6" r="3.0"/><circle cx="612.2" cy="470.7" r="3.0"/><circle cx="608.2" cy="470.0" r="3.0"/><circle cx="601.9" cy="468.5" r="3.0"/><circle cx="594.8" cy="467.3" r="3.0"/><circle cx="590.1" cy="473.3" r="3.0"/><circle cx="583.4" cy="474.6" r="3.0"/><circle cx="576.6" cy="473.9" r="3.0"/><circle cx="579.7" cy="465.5" r="3.0"/><circle cx="575.7" cy="456.2" r="3.0"/><circle cx="580.3" cy="447.4" r="3.0"/><circle cx="584.3" cy="443.6" r="3.0"/><circle cx="588.0" cy="437.9" r="3.0"/><circle cx="589.7" cy="433.2" r="3.0"/><circle cx="585.5" cy="425.6" r="3.0"/><circle cx="586.4" cy="415.5" r="3.0"/><circle cx="586.2" cy="412.5" r="3.0"/><circle cx="587.3" cy="406.8" r="3.0"/><circle cx="586.2" cy="402.2" r="3.0"/><circle cx="585.5" cy="395.9" r="3.0"/><circle cx="584.9" cy="390.5" r="3.0"/><circle cx="655.5" cy="460.7" r="3.0"/><circle cx="652.6" cy="462.3" r="3.0"/><circle cx="649.7" cy="464.5" r="3.0"/><circle cx="636.0" cy="462.3" r="3.0"/><circle cx="654.3" cy="460.2" r="3.0"/><circle cx="652.1" cy="459.2" r="3.0"/><circle cx="641.8" cy="462.2" r="3.0"/><circle cx="639.4" cy="466.7" r="3.0"/><circle cx="652.0" cy="459.7" r="3.0"/><circle cx="656.7" cy="463.3" r="3.0"/><circle cx="642.8" cy="463.3" r="3.0"/><circle cx="651.6" cy="459.1" r="3.0"/><circle cx="633.8" cy="463.2" r="3.0"/><circle cx="654.2" cy="464.2" r="3.0"/><circle cx="656.4" cy="464.7" r="3.0"/><circle cx="628.1" cy="464.6" r="3.0"/><circle cx="650.1" cy="458.3" r="3.0"/><circle cx="637.8" cy="465.0" r="3.0"/><circle cx="637.5" cy="465.7" r="3.0"/><circle cx="627.5" cy="465.5" r="3.0"/><circle cx="633.9" cy="462.6" r="3.0"/><circle cx="641.0" cy="460.7" r="3.0"/><circle cx="646.9" cy="458.4" r="3.0"/><circle cx="652.2" cy="455.0" r="3.0"/><circle cx="659.5" cy="455.4" r="3.0"/><circle cx="663.5" cy="458.0" r="3.0"/><circle cx="661.7" cy="463.8" r="3.0"/><circle cx="656.8" cy="465.6" r="3.0"/><circle cx="651.3" cy="466.0" r="3.0"/><circle cx="643.7" cy="466.3" r="3.0"/><circle cx="639.8" cy="467.2" r="3.0"/><circle cx="635.0" cy="466.3" r="3.0"/><circle cx="670.0" cy="452.5" r="3.0"/><circle cx="714.1" cy="461.0" r="3.0"/><circle cx="679.7" cy="428.1" r="3.0"/><circle cx="709.4" cy="469.0" r="3.0"/><circle cx="693.4" cy="458.8" r="3.0"/><circle cx="698.2" cy="464.9" r="3.0"/><circle cx="725.1" cy="458.2" r="3.0"/><circle cx="703.1" cy="435.7" r="3.0"/><circle cx="671.6" cy="440.1" r="3.0"/><circle cx="714.2" cy="453.1" r="3.0"/><circle cx="701.7" cy="461.2" r="3.0"/><circle cx="688.0" cy="457.6" r="3.0"/><circle cx="681.9" cy="448.8" r="3.0"/><circle cx="664.0" cy="439.8" r="3.0"/><circle cx="682.7" cy="461.7" r="3.0"/><circle cx="662.5" cy="429.9" r="3.0"/><circle cx="701.0" cy="446.0" r="3.0"/><circle cx="685.0" cy="466.8" r="3.0"/><circle cx="709.8" cy="438.9" r="3.0"/><circle cx="690.9" cy="441.5" r="3.0"/><circle cx="665.2" cy="435.0" r="3.0"/><circle cx="694.2" cy="459.0" r="3.0"/><circle cx="701.3" cy="436.4" r="3.0"/><circle cx="712.9" cy="440.3" r="3.0"/><circle cx="673.1" cy="430.4" r="3.0"/><circle cx="689.1" cy="427.1" r="3.0"/><circle cx="675.8" cy="424.5" r="3.0"/><circle cx="665.1" cy="449.1" r="3.0"/><circle cx="676.0" cy="424.6" r="3.0"/><circle cx="682.7" cy="435.4" r="3.0"/><circle cx="684.9" cy="458.5" r="3.0"/><circle cx="670.5" cy="440.5" r="3.0"/><circle cx="721.3" cy="455.4" r="3.0"/><circle cx="685.3" cy="430.7" r="3.0"/><circle cx="712.2" cy="472.6" r="3.0"/><circle cx="679.6" cy="446.3" r="3.0"/><circle cx="652.0" cy="432.5" r="3.0"/><circle cx="669.1" cy="430.2" r="3.0"/><circle cx="715.4" cy="473.8" r="3.0"/><circle cx="673.9" cy="452.2" r="3.0"/><circle cx="690.8" cy="452.8" r="3.0"/><circle cx="712.9" cy="448.9" r="3.0"/><circle cx="688.8" cy="459.8" r="3.0"/><circle cx="687.5" cy="452.0" r="3.0"/><circle cx="673.7" cy="427.2" r="3.0"/><circle cx="664.8" cy="452.4" r="3.0"/><circle cx="713.8" cy="475.7" r="3.0"/><circle cx="709.1" cy="473.9" r="3.0"/><circle cx="680.2" cy="455.0" r="3.0"/><circle cx="704.2" cy="464.8" r="3.0"/><circle cx="706.7" cy="466.2" r="3.0"/><circle cx="697.3" cy="474.4" r="3.0"/><circle cx="675.6" cy="454.5" r="3.0"/><circle cx="718.2" cy="462.7" r="3.0"/><circle cx="662.3" cy="436.9" r="3.0"/><circle cx="665.3" cy="434.5" r="3.0"/><circle cx="693.4" cy="460.2" r="3.0"/><circle cx="696.7" cy="471.9" r="3.0"/><circle cx="678.7" cy="431.1" r="3.0"/><circle cx="685.6" cy="435.0" r="3.0"/><circle cx="718.2" cy="470.6" r="3.0"/><circle cx="719.2" cy="473.5" r="3.0"/><circle cx="708.2" cy="439.5" r="3.0"/><circle cx="699.8" cy="463.1" r="3.0"/><circle cx="676.9" cy="446.1" r="3.0"/><circle cx="657.1" cy="427.4" r="3.0"/><circle cx="713.0" cy="436.3" r="3.0"/><circle cx="705.6" cy="443.4" r="3.0"/><circle cx="706.3" cy="435.0" r="3.0"/><circle cx="670.3" cy="430.3" r="3.0"/><circle cx="686.7" cy="447.3" r="3.0"/><circle cx="720.5" cy="459.0" r="3.0"/><circle cx="684.5" cy="444.0" r="3.0"/><circle cx="673.6" cy="453.6" r="3.0"/><circle cx="724.4" cy="453.4" r="3.0"/><circle cx="715.4" cy="460.2" r="3.0"/><circle cx="711.5" cy="451.3" r="3.0"/><circle cx="691.1" cy="463.5" r="3.0"/><circle cx="661.1" cy="443.8" r="3.0"/><circle cx="692.8" cy="427.1" r="3.0"/><circle cx="666.0" cy="453.9" r="3.0"/><circle cx="695.4" cy="442.3" r="3.0"/><circle cx="652.4" cy="433.0" r="3.0"/><circle cx="687.4" cy="436.6" r="3.0"/><circle cx="675.3" cy="452.3" r="3.0"/><circle cx="717.5" cy="443.6" r="3.0"/><circle cx="654.8" cy="432.9" r="3.0"/><circle cx="668.0" cy="438.8" r="3.0"/><circle cx="675.2" cy="457.5" r="3.0"/><circle cx="719.3" cy="464.3" r="3.0"/><circle cx="716.8" cy="445.6" r="3.0"/><circle cx="707.4" cy="473.4" r="3.0"/><circle cx="720.7" cy="456.1" r="3.0"/><circle cx="698.8" cy="439.2" r="3.0"/><circle cx="686.3" cy="423.3" r="3.0"/><circle cx="683.7" cy="430.4" r="3.0"/><circle cx="692.7" cy="446.9" r="3.0"/><circle cx="710.0" cy="470.4" r="3.0"/><circle cx="664.1" cy="427.4" r="3.0"/><circle cx="686.8" cy="439.0" r="3.0"/><circle cx="707.1" cy="474.2" r="3.0"/><circle cx="673.5" cy="441.9" r="3.0"/><circle cx="708.7" cy="436.1" r="3.0"/><circle cx="667.6" cy="445.8" r="3.0"/><circle cx="661.6" cy="450.9" r="3.0"/><circle cx="714.2" cy="466.4" r="3.0"/><circle cx="680.3" cy="457.1" r="3.0"/><circle cx="663.7" cy="447.2" r="3.0"/><circle cx="682.1" cy="454.5" r="3.0"/><circle cx="697.0" cy="433.6" r="3.0"/><circle cx="719.7" cy="444.6" r="3.0"/><circle cx="711.4" cy="460.5" r="3.0"/><circle cx="696.6" cy="463.4" r="3.0"/><circle cx="714.4" cy="458.8" r="3.0"/><circle cx="709.4" cy="465.0" r="3.0"/><circle cx="700.7" cy="473.4" r="3.0"/><circle cx="694.0" cy="468.8" r="3.0"/><circle cx="654.5" cy="428.0" r="3.0"/><circle cx="693.8" cy="457.3" r="3.0"/><circle cx="680.6" cy="422.5" r="3.0"/><circle cx="705.9" cy="452.9" r="3.0"/><circle cx="668.7" cy="437.5" r="3.0"/><circle cx="669.1" cy="449.4" r="3.0"/><circle cx="672.0" cy="450.1" r="3.0"/><circle cx="705.2" cy="433.6" r="3.0"/><circle cx="708.1" cy="437.7" r="3.0"/><circle cx="693.0" cy="454.8" r="3.0"/><circle cx="672.7" cy="442.5" r="3.0"/><circle cx="682.4" cy="439.5" r="3.0"/><circle cx="665.0" cy="450.1" r="3.0"/><circle cx="687.6" cy="431.0" r="3.0"/><circle cx="703.3" cy="442.0" r="3.0"/><circle cx="696.0" cy="442.1" r="3.0"/><circle cx="690.2" cy="423.4" r="3.0"/><circle cx="683.6" cy="425.1" r="3.0"/><circle cx="695.5" cy="434.7" r="3.0"/><circle cx="713.9" cy="457.4" r="3.0"/><circle cx="674.0" cy="425.9" r="3.0"/><circle cx="696.0" cy="429.5" r="3.0"/><circle cx="709.8" cy="453.0" r="3.0"/><circle cx="662.9" cy="440.7" r="3.0"/><circle cx="667.6" cy="443.7" r="3.0"/><circle cx="723.5" cy="468.8" r="3.0"/><circle cx="724.1" cy="466.4" r="3.0"/><circle cx="693.3" cy="459.2" r="3.0"/><circle cx="678.1" cy="437.9" r="3.0"/><circle cx="714.2" cy="462.9" r="3.0"/><circle cx="675.2" cy="448.9" r="3.0"/><circle cx="675.9" cy="425.7" r="3.0"/><circle cx="686.0" cy="423.4" r="3.0"/><circle cx="662.1" cy="448.8" r="3.0"/><circle cx="695.5" cy="430.8" r="3.0"/><circle cx="664.2" cy="448.8" r="3.0"/><circle cx="685.3" cy="446.4" r="3.0"/><circle cx="712.9" cy="459.3" r="3.0"/><circle cx="662.1" cy="437.6" r="3.0"/><circle cx="682.6" cy="460.0" r="3.0"/><circle cx="667.8" cy="455.8" r="3.0"/><circle cx="715.1" cy="457.1" r="3.0"/><circle cx="681.6" cy="426.8" r="3.0"/><circle cx="698.4" cy="447.8" r="3.0"/><circle cx="686.8" cy="454.8" r="3.0"/><circle cx="682.1" cy="445.9" r="3.0"/><circle cx="700.2" cy="459.0" r="3.0"/><circle cx="706.0" cy="442.5" r="3.0"/><circle cx="653.2" cy="430.3" r="3.0"/><circle cx="665.1" cy="453.0" r="3.0"/><circle cx="690.7" cy="451.9" r="3.0"/><circle cx="707.6" cy="434.1" r="3.0"/><circle cx="680.5" cy="425.6" r="3.0"/><circle cx="716.7" cy="454.4" r="3.0"/><circle cx="714.3" cy="448.4" r="3.0"/><circle cx="658.7" cy="441.7" r="3.0"/><circle cx="680.8" cy="420.8" r="3.0"/><circle cx="703.1" cy="464.7" r="3.0"/><circle cx="679.6" cy="458.7" r="3.0"/><circle cx="682.5" cy="440.5" r="3.0"/><circle cx="674.9" cy="426.8" r="3.0"/><circle cx="710.9" cy="469.1" r="3.0"/><circle cx="668.1" cy="429.8" r="3.0"/><circle cx="680.4" cy="444.7" r="3.0"/><circle cx="709.4" cy="435.1" r="3.0"/><circle cx="667.9" cy="434.9" r="3.0"/><circle cx="681.3" cy="456.5" r="3.0"/><circle cx="711.4" cy="473.7" r="3.0"/><circle cx="656.4" cy="429.7" r="3.0"/><circle cx="686.2" cy="460.3" r="3.0"/><circle cx="715.6" cy="445.2" r="3.0"/><circle cx="679.9" cy="463.6" r="3.0"/><circle cx="700.7" cy="476.3" r="3.0"/><circle cx="688.5" cy="469.0" r="3.0"/><circle cx="700.8" cy="451.2" r="3.0"/><circle cx="672.2" cy="446.8" r="3.0"/><circle cx="677.7" cy="445.4" r="3.0"/><circle cx="706.6" cy="448.8" r="3.0"/><circle cx="717.2" cy="458.7" r="3.0"/><circle cx="680.4" cy="448.7" r="3.0"/><circle cx="674.0" cy="428.9" r="3.0"/><circle cx="669.4" cy="432.9" r="3.0"/><circle cx="714.1" cy="458.4" r="3.0"/><circle cx="669.4" cy="442.8" r="3.0"/><circle cx="723.2" cy="466.2" r="3.0"/><circle cx="695.3" cy="427.4" r="3.0"/><circle cx="677.2" cy="454.1" r="3.0"/><circle cx="674.0" cy="430.8" r="3.0"/><circle cx="700.1" cy="442.0" r="3.0"/><circle cx="709.0" cy="463.5" r="3.0"/><circle cx="718.8" cy="449.8" r="3.0"/><circle cx="695.1" cy="443.9" r="3.0"/><circle cx="708.5" cy="441.6" r="3.0"/><circle cx="705.1" cy="439.4" r="3.0"/><circle cx="706.5" cy="433.6" r="3.0"/><circle cx="689.6" cy="429.3" r="3.0"/><circle cx="650.7" cy="427.2" r="3.0"/><circle cx="655.4" cy="427.0" r="3.0"/><circle cx="662.2" cy="427.7" r="3.0"/><circle cx="664.9" cy="426.6" r="3.0"/><circle cx="673.6" cy="426.0" r="3.0"/><circle cx="680.2" cy="419.4" r="3.0"/><circle cx="685.0" cy="419.1" r="3.0"/><circle cx="690.1" cy="420.8" r="3.0"/><circle cx="695.8" cy="425.7" r="3.0"/><circle cx="704.4" cy="429.3" r="3.0"/><circle cx="707.7" cy="430.7" r="3.0"/><circle cx="711.6" cy="435.9" r="3.0"/><circle cx="718.8" cy="440.9" r="3.0"/><circle cx="721.0" cy="444.8" r="3.0"/><circle cx="727.9" cy="450.6" r="3.0"/><circle cx="728.0" cy="455.0" r="3.0"/><circle cx="728.2" cy="459.7" r="3.0"/><circle cx="728.5" cy="469.5" r="3.0"/><circle cx="725.8" cy="471.4" r="3.0"/><circle cx="718.4" cy="473.5" r="3.0"/><circle cx="710.7" cy="475.4" r="3.0"/><circle cx="705.2" cy="475.6" r="3.0"/><circle cx="699.9" cy="475.8" r="3.0"/><circle cx="693.1" cy="470.8" r="3.0"/><circle cx="688.2" cy="468.7" r="3.0"/><circle cx="684.9" cy="466.5" r="3.0"/><circle cx="677.8" cy="464.0" r="3.0"/><circle cx="671.6" cy="460.1" r="3.0"/><circle cx="667.4" cy="457.5" r="3.0"/><circle cx="662.9" cy="454.8" r="3.0"/><circle cx="660.1" cy="447.8" r="3.0"/><circle cx="658.8" cy="441.3" r="3.0"/><circle cx="658.6" cy="437.4" r="3.0"/><circle cx="650.9" cy="434.6" r="3.0"/><circle cx="540.8" cy="433.3" r="3.0"/><circle cx="561.7" cy="443.3" r="3.0"/><circle cx="566.7" cy="440.0" r="3.0"/><circle cx="571.7" cy="443.3" r="3.0"/><circle cx="571.7" cy="448.3" r="3.0"/><circle cx="566.7" cy="457.5" r="3.0"/><circle cx="567.5" cy="461.7" r="3.0"/><circle cx="575.8" cy="475.0" r="3.0"/><circle cx="569.2" cy="479.2" r="3.0"/><circle cx="565.8" cy="481.7" r="3.0"/><circle cx="561.7" cy="488.3" r="3.0"/><circle cx="567.5" cy="491.7" r="3.0"/><circle cx="558.3" cy="498.3" r="3.0"/><circle cx="563.3" cy="500.0" r="3.0"/><circle cx="649.2" cy="446.7" r="3.0"/><circle cx="641.7" cy="455.0" r="3.0"/><circle cx="688.3" cy="470.0" r="3.0"/><circle cx="585.0" cy="413.3" r="3.0"/><circle cx="555.8" cy="521.7" r="3.0"/><circle cx="561.7" cy="527.5" r="3.0"/><circle cx="565.8" cy="525.0" r="3.0"/><circle cx="566.7" cy="530.8" r="3.0"/><circle cx="573.3" cy="533.3" r="3.0"/><circle cx="578.3" cy="537.5" r="3.0"/><circle cx="582.5" cy="540.8" r="3.0"/><circle cx="590.0" cy="547.5" r="3.0"/><circle cx="595.0" cy="550.8" r="3.0"/><circle cx="599.2" cy="553.3" r="3.0"/><circle cx="592.5" cy="549.2" r="3.0"/><circle cx="738.9" cy="537.5" r="3.0"/><circle cx="749.1" cy="571.1" r="3.0"/><circle cx="755.2" cy="552.2" r="3.0"/><circle cx="740.8" cy="534.6" r="3.0"/><circle cx="756.5" cy="556.8" r="3.0"/><circle cx="756.6" cy="551.3" r="3.0"/><circle cx="748.4" cy="557.9" r="3.0"/><circle cx="744.2" cy="547.2" r="3.0"/><circle cx="740.0" cy="545.6" r="3.0"/><circle cx="744.2" cy="547.1" r="3.0"/><circle cx="759.7" cy="562.5" r="3.0"/><circle cx="749.4" cy="566.2" r="3.0"/><circle cx="749.5" cy="546.0" r="3.0"/><circle cx="748.9" cy="544.5" r="3.0"/><circle cx="743.2" cy="535.1" r="3.0"/><circle cx="742.4" cy="542.0" r="3.0"/><circle cx="740.3" cy="552.0" r="3.0"/><circle cx="748.1" cy="561.0" r="3.0"/><circle cx="752.6" cy="554.8" r="3.0"/><circle cx="743.5" cy="552.0" r="3.0"/><circle cx="760.2" cy="578.3" r="3.0"/><circle cx="755.8" cy="556.1" r="3.0"/><circle cx="744.8" cy="554.0" r="3.0"/><circle cx="742.8" cy="536.4" r="3.0"/><circle cx="740.1" cy="554.1" r="3.0"/><circle cx="747.3" cy="545.1" r="3.0"/><circle cx="742.8" cy="547.0" r="3.0"/><circle cx="747.6" cy="567.1" r="3.0"/><circle cx="751.5" cy="572.0" r="3.0"/><circle cx="745.3" cy="538.7" r="3.0"/><circle cx="745.8" cy="553.2" r="3.0"/><circle cx="753.1" cy="557.1" r="3.0"/><circle cx="762.1" cy="562.4" r="3.0"/><circle cx="747.5" cy="556.1" r="3.0"/><circle cx="754.8" cy="575.7" r="3.0"/><circle cx="743.5" cy="539.0" r="3.0"/><circle cx="759.0" cy="558.9" r="3.0"/><circle cx="762.0" cy="561.2" r="3.0"/><circle cx="743.0" cy="537.1" r="3.0"/><circle cx="740.5" cy="557.7" r="3.0"/><circle cx="755.4" cy="560.0" r="3.0"/><circle cx="754.2" cy="547.4" r="3.0"/><circle cx="742.5" cy="546.3" r="3.0"/><circle cx="745.1" cy="548.4" r="3.0"/><circle cx="736.8" cy="541.2" r="3.0"/><circle cx="750.0" cy="557.6" r="3.0"/><circle cx="749.7" cy="548.6" r="3.0"/><circle cx="758.8" cy="577.7" r="3.0"/><circle cx="756.4" cy="556.6" r="3.0"/><circle cx="746.9" cy="567.3" r="3.0"/><circle cx="740.2" cy="555.0" r="3.0"/><circle cx="757.2" cy="551.0" r="3.0"/><circle cx="757.2" cy="558.4" r="3.0"/><circle cx="756.8" cy="563.8" r="3.0"/><circle cx="743.4" cy="548.8" r="3.0"/><circle cx="739.9" cy="530.7" r="3.0"/><circle cx="744.1" cy="531.6" r="3.0"/><circle cx="747.3" cy="537.9" r="3.0"/><circle cx="750.5" cy="542.6" r="3.0"/><circle cx="753.9" cy="546.5" r="3.0"/><circle cx="757.4" cy="551.4" r="3.0"/><circle cx="758.5" cy="557.2" r="3.0"/><circle cx="759.4" cy="559.3" r="3.0"/><circle cx="762.8" cy="561.4" r="3.0"/><circle cx="758.8" cy="566.0" r="3.0"/><circle cx="754.4" cy="564.4" r="3.0"/><circle cx="749.4" cy="566.5" r="3.0"/><circle cx="748.7" cy="567.6" r="3.0"/><circle cx="754.5" cy="572.8" r="3.0"/><circle cx="760.1" cy="576.5" r="3.0"/><circle cx="758.3" cy="579.2" r="3.0"/><circle cx="755.7" cy="579.5" r="3.0"/><circle cx="750.6" cy="574.4" r="3.0"/><circle cx="748.8" cy="569.9" r="3.0"/><circle cx="745.0" cy="565.9" r="3.0"/><circle cx="743.7" cy="562.7" r="3.0"/><circle cx="743.5" cy="560.2" r="3.0"/><circle cx="740.0" cy="555.9" r="3.0"/><circle cx="737.6" cy="552.7" r="3.0"/><circle cx="738.7" cy="549.7" r="3.0"/><circle cx="738.7" cy="544.2" r="3.0"/><circle cx="736.1" cy="540.2" r="3.0"/><circle cx="737.2" cy="534.5" r="3.0"/><circle cx="776.5" cy="599.8" r="3.0"/><circle cx="754.8" cy="605.9" r="3.0"/><circle cx="742.4" cy="593.6" r="3.0"/><circle cx="773.9" cy="579.1" r="3.0"/><circle cx="769.4" cy="578.3" r="3.0"/><circle cx="753.2" cy="593.9" r="3.0"/><circle cx="765.0" cy="585.4" r="3.0"/><circle cx="753.9" cy="598.5" r="3.0"/><circle cx="762.5" cy="602.9" r="3.0"/><circle cx="767.6" cy="578.5" r="3.0"/><circle cx="768.5" cy="591.1" r="3.0"/><circle cx="766.5" cy="579.5" r="3.0"/><circle cx="727.9" cy="594.4" r="3.0"/><circle cx="776.5" cy="596.1" r="3.0"/><circle cx="710.3" cy="583.8" r="3.0"/><circle cx="776.2" cy="583.7" r="3.0"/><circle cx="768.4" cy="580.8" r="3.0"/><circle cx="745.6" cy="594.2" r="3.0"/><circle cx="750.5" cy="602.9" r="3.0"/><circle cx="775.5" cy="592.7" r="3.0"/><circle cx="768.7" cy="599.9" r="3.0"/><circle cx="773.1" cy="591.8" r="3.0"/><circle cx="769.0" cy="577.6" r="3.0"/><circle cx="761.7" cy="583.7" r="3.0"/><circle cx="746.9" cy="602.5" r="3.0"/><circle cx="775.8" cy="582.4" r="3.0"/><circle cx="781.7" cy="591.1" r="3.0"/><circle cx="773.6" cy="584.6" r="3.0"/><circle cx="754.1" cy="599.4" r="3.0"/><circle cx="763.3" cy="583.4" r="3.0"/><circle cx="731.1" cy="600.9" r="3.0"/><circle cx="756.5" cy="593.6" r="3.0"/><circle cx="779.9" cy="597.1" r="3.0"/><circle cx="758.1" cy="605.1" r="3.0"/><circle cx="742.9" cy="603.3" r="3.0"/><circle cx="785.6" cy="584.6" r="3.0"/><circle cx="719.9" cy="594.2" r="3.0"/><circle cx="761.4" cy="599.8" r="3.0"/><circle cx="773.8" cy="593.4" r="3.0"/><circle cx="767.1" cy="600.9" r="3.0"/><circle cx="764.9" cy="586.5" r="3.0"/><circle cx="751.9" cy="601.7" r="3.0"/><circle cx="778.5" cy="586.9" r="3.0"/><circle cx="752.9" cy="591.5" r="3.0"/><circle cx="758.2" cy="601.3" r="3.0"/><circle cx="719.2" cy="593.2" r="3.0"/><circle cx="782.3" cy="590.0" r="3.0"/><circle cx="778.1" cy="592.8" r="3.0"/><circle cx="744.7" cy="595.8" r="3.0"/><circle cx="718.1" cy="588.1" r="3.0"/><circle cx="729.0" cy="594.2" r="3.0"/><circle cx="754.3" cy="585.0" r="3.0"/><circle cx="782.6" cy="586.6" r="3.0"/><circle cx="768.5" cy="602.6" r="3.0"/><circle cx="740.3" cy="594.2" r="3.0"/><circle cx="722.3" cy="592.2" r="3.0"/><circle cx="749.4" cy="601.1" r="3.0"/><circle cx="723.3" cy="595.9" r="3.0"/><circle cx="764.6" cy="593.8" r="3.0"/><circle cx="733.4" cy="592.3" r="3.0"/><circle cx="759.7" cy="590.1" r="3.0"/><circle cx="765.6" cy="599.5" r="3.0"/><circle cx="766.9" cy="590.0" r="3.0"/><circle cx="728.2" cy="593.9" r="3.0"/><circle cx="766.5" cy="602.0" r="3.0"/><circle cx="777.7" cy="593.9" r="3.0"/><circle cx="758.2" cy="583.9" r="3.0"/><circle cx="736.0" cy="600.4" r="3.0"/><circle cx="732.1" cy="595.0" r="3.0"/><circle cx="759.0" cy="590.2" r="3.0"/><circle cx="787.0" cy="583.8" r="3.0"/><circle cx="762.0" cy="602.1" r="3.0"/><circle cx="757.9" cy="587.3" r="3.0"/><circle cx="771.4" cy="578.3" r="3.0"/><circle cx="707.5" cy="581.5" r="3.0"/><circle cx="770.2" cy="594.6" r="3.0"/><circle cx="738.4" cy="593.7" r="3.0"/><circle cx="745.5" cy="594.1" r="3.0"/><circle cx="752.7" cy="600.3" r="3.0"/><circle cx="749.2" cy="597.7" r="3.0"/><circle cx="737.8" cy="589.6" r="3.0"/><circle cx="747.1" cy="599.8" r="3.0"/><circle cx="779.2" cy="595.4" r="3.0"/><circle cx="726.8" cy="596.1" r="3.0"/><circle cx="740.4" cy="598.1" r="3.0"/><circle cx="735.3" cy="590.4" r="3.0"/><circle cx="772.7" cy="590.1" r="3.0"/><circle cx="749.2" cy="599.8" r="3.0"/><circle cx="776.9" cy="594.5" r="3.0"/><circle cx="768.7" cy="597.1" r="3.0"/><circle cx="748.1" cy="589.5" r="3.0"/><circle cx="754.1" cy="589.0" r="3.0"/><circle cx="736.4" cy="601.7" r="3.0"/><circle cx="771.4" cy="590.6" r="3.0"/><circle cx="770.8" cy="599.7" r="3.0"/><circle cx="778.9" cy="587.8" r="3.0"/><circle cx="756.0" cy="588.8" r="3.0"/><circle cx="762.9" cy="582.6" r="3.0"/><circle cx="743.9" cy="600.1" r="3.0"/><circle cx="760.5" cy="597.6" r="3.0"/><circle cx="754.7" cy="604.2" r="3.0"/><circle cx="734.6" cy="592.3" r="3.0"/><circle cx="741.4" cy="602.7" r="3.0"/><circle cx="734.3" cy="601.7" r="3.0"/><circle cx="766.1" cy="582.6" r="3.0"/><circle cx="731.6" cy="600.7" r="3.0"/><circle cx="761.9" cy="595.5" r="3.0"/><circle cx="776.8" cy="586.9" r="3.0"/><circle cx="773.0" cy="602.6" r="3.0"/><circle cx="775.8" cy="599.0" r="3.0"/><circle cx="764.7" cy="601.6" r="3.0"/><circle cx="777.8" cy="586.6" r="3.0"/><circle cx="781.3" cy="579.7" r="3.0"/><circle cx="749.5" cy="605.6" r="3.0"/><circle cx="703.1" cy="579.5" r="3.0"/><circle cx="712.9" cy="583.6" r="3.0"/><circle cx="715.5" cy="588.0" r="3.0"/><circle cx="720.0" cy="589.3" r="3.0"/><circle cx="726.2" cy="591.0" r="3.0"/><circle cx="731.2" cy="588.6" r="3.0"/><circle cx="737.2" cy="590.0" r="3.0"/><circle cx="742.4" cy="588.1" r="3.0"/><circle cx="743.6" cy="588.4" r="3.0"/><circle cx="746.9" cy="589.7" r="3.0"/><circle cx="753.4" cy="586.1" r="3.0"/><circle cx="755.9" cy="582.2" r="3.0"/><circle cx="760.1" cy="581.2" r="3.0"/><circle cx="766.4" cy="580.3" r="3.0"/><circle cx="771.6" cy="577.4" r="3.0"/><circle cx="774.3" cy="578.9" r="3.0"/><circle cx="777.2" cy="580.1" r="3.0"/><circle cx="781.9" cy="577.9" r="3.0"/><circle cx="787.2" cy="579.5" r="3.0"/><circle cx="786.1" cy="586.7" r="3.0"/><circle cx="784.0" cy="590.4" r="3.0"/><circle cx="782.8" cy="593.6" r="3.0"/><circle cx="776.9" cy="600.2" r="3.0"/><circle cx="774.3" cy="602.9" r="3.0"/><circle cx="767.6" cy="606.0" r="3.0"/><circle cx="763.4" cy="605.8" r="3.0"/><circle cx="759.3" cy="604.8" r="3.0"/><circle cx="750.9" cy="607.1" r="3.0"/><circle cx="744.9" cy="603.9" r="3.0"/><circle cx="740.4" cy="603.5" r="3.0"/><circle cx="734.0" cy="602.3" r="3.0"/><circle cx="730.3" cy="600.6" r="3.0"/><circle cx="722.6" cy="597.8" r="3.0"/><circle cx="721.8" cy="597.0" r="3.0"/><circle cx="716.5" cy="594.6" r="3.0"/><circle cx="712.1" cy="587.8" r="3.0"/><circle cx="707.9" cy="583.3" r="3.0"/><circle cx="704.5" cy="582.5" r="3.0"/><circle cx="720.0" cy="530.0" r="3.0"/><circle cx="723.5" cy="535.5" r="3.0"/><circle cx="733.5" cy="537.5" r="3.0"/><circle cx="732.5" cy="555.5" r="3.0"/><circle cx="735.5" cy="560.5" r="3.0"/><circle cx="735.0" cy="562.5" r="3.0"/><circle cx="737.0" cy="567.0" r="3.0"/><circle cx="762.0" cy="568.0" r="3.0"/><circle cx="761.5" cy="572.0" r="3.0"/><circle cx="776.0" cy="571.0" r="3.0"/><circle cx="786.0" cy="566.0" r="3.0"/><circle cx="785.5" cy="571.0" r="3.0"/><circle cx="726.0" cy="587.0" r="3.0"/><circle cx="742.0" cy="607.5" r="3.0"/><circle cx="911.0" cy="542.3" r="3.0"/><circle cx="907.0" cy="548.0" r="3.0"/><circle cx="905.3" cy="551.3" r="3.0"/><circle cx="901.0" cy="559.3" r="3.0"/><circle cx="899.3" cy="562.7" r="3.0"/><circle cx="898.0" cy="566.0" r="3.0"/><circle cx="896.3" cy="569.3" r="3.0"/><circle cx="896.0" cy="573.3" r="3.0"/><circle cx="895.7" cy="578.7" r="3.0"/><circle cx="897.5" cy="587.5" r="3.0"/><circle cx="285.2" cy="391.5" r="3.0"/><circle cx="288.1" cy="394.2" r="3.0"/><circle cx="862.5" cy="363.5" r="3.0"/><circle cx="435.9" cy="1046.4" r="3.0"/><circle cx="440.0" cy="1043.0" r="3.0"/><circle cx="443.4" cy="1040.4" r="3.0"/><circle cx="479.8" cy="1029.1" r="3.0"/><circle cx="963.3" cy="770.2" r="3.0"/><circle cx="1027.9" cy="736.5" r="3.0"/><circle cx="921.6" cy="752.6" r="3.0"/><circle cx="953.2" cy="757.3" r="3.0"/><circle cx="938.1" cy="775.8" r="3.0"/><circle cx="945.7" cy="757.6" r="3.0"/><circle cx="1025.2" cy="710.2" r="3.0"/><circle cx="986.0" cy="670.9" r="3.0"/><circle cx="994.6" cy="630.7" r="3.0"/><circle cx="972.0" cy="699.1" r="3.0"/><circle cx="994.2" cy="685.2" r="3.0"/><circle cx="1053.6" cy="658.1" r="3.0"/><circle cx="977.3" cy="736.4" r="3.0"/><circle cx="1022.1" cy="673.3" r="3.0"/><circle cx="914.1" cy="736.1" r="3.0"/><circle cx="914.7" cy="758.2" r="3.0"/><circle cx="1034.0" cy="706.0" r="3.0"/><circle cx="1009.3" cy="665.5" r="3.0"/><circle cx="909.6" cy="733.7" r="3.0"/><circle cx="959.2" cy="682.6" r="3.0"/><circle cx="1058.2" cy="690.8" r="3.0"/><circle cx="1031.1" cy="657.1" r="3.0"/><circle cx="986.7" cy="746.4" r="3.0"/><circle cx="1017.6" cy="737.0" r="3.0"/><circle cx="990.8" cy="725.0" r="3.0"/><circle cx="931.4" cy="752.4" r="3.0"/><circle cx="1024.5" cy="663.9" r="3.0"/><circle cx="1053.9" cy="691.2" r="3.0"/><circle cx="1041.8" cy="661.1" r="3.0"/><circle cx="919.5" cy="707.8" r="3.0"/><circle cx="1051.6" cy="727.1" r="3.0"/><circle cx="982.6" cy="667.9" r="3.0"/><circle cx="965.2" cy="772.3" r="3.0"/><circle cx="966.3" cy="705.5" r="3.0"/><circle cx="1052.6" cy="688.5" r="3.0"/><circle cx="1015.6" cy="642.8" r="3.0"/><circle cx="1030.2" cy="704.8" r="3.0"/><circle cx="912.3" cy="708.3" r="3.0"/><circle cx="1001.1" cy="623.7" r="3.0"/><circle cx="1025.4" cy="676.3" r="3.0"/><circle cx="932.5" cy="714.3" r="3.0"/><circle cx="940.3" cy="772.7" r="3.0"/><circle cx="1001.0" cy="696.4" r="3.0"/><circle cx="941.6" cy="754.0" r="3.0"/><circle cx="934.5" cy="727.9" r="3.0"/><circle cx="1009.7" cy="691.4" r="3.0"/><circle cx="900.8" cy="710.7" r="3.0"/><circle cx="1053.0" cy="651.8" r="3.0"/><circle cx="1058.7" cy="649.1" r="3.0"/><circle cx="952.0" cy="726.9" r="3.0"/><circle cx="945.6" cy="699.8" r="3.0"/><circle cx="1005.8" cy="668.1" r="3.0"/><circle cx="916.2" cy="730.2" r="3.0"/><circle cx="967.9" cy="761.8" r="3.0"/><circle cx="995.7" cy="733.7" r="3.0"/><circle cx="1061.9" cy="656.3" r="3.0"/><circle cx="1048.4" cy="719.1" r="3.0"/><circle cx="1044.2" cy="730.8" r="3.0"/><circle cx="951.8" cy="739.4" r="3.0"/><circle cx="939.8" cy="705.7" r="3.0"/><circle cx="1001.5" cy="750.3" r="3.0"/><circle cx="935.5" cy="746.7" r="3.0"/><circle cx="987.0" cy="725.9" r="3.0"/><circle cx="909.5" cy="709.3" r="3.0"/><circle cx="909.0" cy="726.3" r="3.0"/><circle cx="1030.1" cy="685.9" r="3.0"/><circle cx="968.0" cy="725.4" r="3.0"/><circle cx="1038.7" cy="735.4" r="3.0"/><circle cx="1010.2" cy="659.7" r="3.0"/><circle cx="1014.8" cy="730.0" r="3.0"/><circle cx="976.4" cy="678.8" r="3.0"/><circle cx="1037.1" cy="697.7" r="3.0"/><circle cx="988.2" cy="642.3" r="3.0"/><circle cx="989.2" cy="726.9" r="3.0"/><circle cx="939.1" cy="713.6" r="3.0"/><circle cx="960.3" cy="774.8" r="3.0"/><circle cx="1048.6" cy="695.1" r="3.0"/><circle cx="957.8" cy="725.1" r="3.0"/><circle cx="1051.1" cy="728.5" r="3.0"/><circle cx="979.2" cy="698.4" r="3.0"/><circle cx="1030.6" cy="744.3" r="3.0"/><circle cx="1008.2" cy="677.6" r="3.0"/><circle cx="1046.3" cy="697.6" r="3.0"/><circle cx="987.5" cy="675.3" r="3.0"/><circle cx="922.4" cy="734.6" r="3.0"/><circle cx="1021.1" cy="658.0" r="3.0"/><circle cx="967.2" cy="772.2" r="3.0"/><circle cx="1026.8" cy="751.8" r="3.0"/><circle cx="993.3" cy="655.3" r="3.0"/><circle cx="1005.7" cy="717.9" r="3.0"/><circle cx="984.0" cy="773.4" r="3.0"/><circle cx="949.8" cy="727.6" r="3.0"/><circle cx="911.0" cy="767.0" r="3.0"/><circle cx="1046.5" cy="672.3" r="3.0"/><circle cx="1017.3" cy="744.3" r="3.0"/><circle cx="967.6" cy="767.4" r="3.0"/><circle cx="1020.7" cy="660.6" r="3.0"/><circle cx="1007.1" cy="706.9" r="3.0"/><circle cx="991.2" cy="691.3" r="3.0"/><circle cx="991.0" cy="714.9" r="3.0"/><circle cx="948.2" cy="683.2" r="3.0"/><circle cx="921.2" cy="726.5" r="3.0"/><circle cx="1034.9" cy="660.5" r="3.0"/><circle cx="994.8" cy="687.0" r="3.0"/><circle cx="981.2" cy="655.4" r="3.0"/><circle cx="993.5" cy="700.7" r="3.0"/><circle cx="931.6" cy="734.3" r="3.0"/><circle cx="951.1" cy="750.3" r="3.0"/><circle cx="1000.9" cy="716.7" r="3.0"/><circle cx="912.2" cy="714.9" r="3.0"/><circle cx="934.3" cy="709.3" r="3.0"/><circle cx="972.0" cy="668.6" r="3.0"/><circle cx="1056.4" cy="698.5" r="3.0"/><circle cx="915.0" cy="744.7" r="3.0"/><circle cx="921.4" cy="745.0" r="3.0"/><circle cx="982.7" cy="745.5" r="3.0"/><circle cx="1029.9" cy="756.7" r="3.0"/><circle cx="997.7" cy="769.6" r="3.0"/><circle cx="1021.9" cy="685.7" r="3.0"/><circle cx="956.8" cy="760.7" r="3.0"/><circle cx="1053.4" cy="684.9" r="3.0"/><circle cx="1013.4" cy="678.5" r="3.0"/><circle cx="1011.7" cy="698.9" r="3.0"/><circle cx="1033.1" cy="654.3" r="3.0"/><circle cx="922.6" cy="710.1" r="3.0"/><circle cx="928.2" cy="763.9" r="3.0"/><circle cx="988.9" cy="704.0" r="3.0"/><circle cx="1029.0" cy="761.9" r="3.0"/><circle cx="1046.2" cy="647.1" r="3.0"/><circle cx="1004.4" cy="767.0" r="3.0"/><circle cx="938.1" cy="693.9" r="3.0"/><circle cx="972.5" cy="674.7" r="3.0"/><circle cx="942.9" cy="703.2" r="3.0"/><circle cx="991.8" cy="689.5" r="3.0"/><circle cx="995.7" cy="690.9" r="3.0"/><circle cx="979.1" cy="702.7" r="3.0"/><circle cx="994.2" cy="747.4" r="3.0"/><circle cx="1004.1" cy="658.9" r="3.0"/><circle cx="915.6" cy="749.5" r="3.0"/><circle cx="992.3" cy="646.9" r="3.0"/><circle cx="1056.2" cy="649.2" r="3.0"/><circle cx="953.0" cy="711.1" r="3.0"/><circle cx="1003.4" cy="647.8" r="3.0"/><circle cx="940.0" cy="749.7" r="3.0"/><circle cx="1060.2" cy="701.0" r="3.0"/><circle cx="1048.9" cy="654.0" r="3.0"/><circle cx="959.5" cy="731.8" r="3.0"/><circle cx="913.8" cy="734.1" r="3.0"/><circle cx="902.0" cy="706.8" r="3.0"/><circle cx="914.8" cy="731.2" r="3.0"/><circle cx="963.6" cy="755.8" r="3.0"/><circle cx="949.0" cy="785.4" r="3.0"/><circle cx="979.5" cy="705.4" r="3.0"/><circle cx="968.1" cy="757.7" r="3.0"/><circle cx="1007.8" cy="661.9" r="3.0"/><circle cx="960.1" cy="748.8" r="3.0"/><circle cx="989.2" cy="640.7" r="3.0"/><circle cx="971.8" cy="661.0" r="3.0"/><circle cx="967.1" cy="694.4" r="3.0"/><circle cx="987.8" cy="759.5" r="3.0"/><circle cx="931.9" cy="748.5" r="3.0"/><circle cx="956.0" cy="780.0" r="3.0"/><circle cx="1058.3" cy="651.6" r="3.0"/><circle cx="1032.4" cy="719.9" r="3.0"/><circle cx="960.0" cy="707.9" r="3.0"/><circle cx="1049.6" cy="701.9" r="3.0"/><circle cx="990.6" cy="704.1" r="3.0"/><circle cx="911.1" cy="770.6" r="3.0"/><circle cx="937.2" cy="735.3" r="3.0"/><circle cx="1001.2" cy="745.5" r="3.0"/><circle cx="976.8" cy="775.2" r="3.0"/><circle cx="983.7" cy="674.7" r="3.0"/><circle cx="971.8" cy="761.2" r="3.0"/><circle cx="913.3" cy="761.7" r="3.0"/><circle cx="970.3" cy="722.3" r="3.0"/><circle cx="960.1" cy="738.5" r="3.0"/><circle cx="933.9" cy="784.4" r="3.0"/><circle cx="949.9" cy="707.3" r="3.0"/><circle cx="974.4" cy="679.3" r="3.0"/><circle cx="999.2" cy="644.9" r="3.0"/><circle cx="1037.9" cy="714.6" r="3.0"/><circle cx="1018.9" cy="757.0" r="3.0"/><circle cx="957.3" cy="756.6" r="3.0"/><circle cx="910.2" cy="741.4" r="3.0"/><circle cx="1012.8" cy="715.8" r="3.0"/><circle cx="999.4" cy="699.1" r="3.0"/><circle cx="967.3" cy="700.9" r="3.0"/><circle cx="998.2" cy="761.8" r="3.0"/><circle cx="951.1" cy="714.4" r="3.0"/><circle cx="922.3" cy="745.2" r="3.0"/><circle cx="968.1" cy="672.1" r="3.0"/><circle cx="977.5" cy="775.7" r="3.0"/><circle cx="1004.8" cy="682.2" r="3.0"/><circle cx="1057.1" cy="663.0" r="3.0"/><circle cx="909.4" cy="743.4" r="3.0"/><circle cx="1031.9" cy="753.5" r="3.0"/><circle cx="961.7" cy="734.8" r="3.0"/><circle cx="1056.5" cy="713.5" r="3.0"/><circle cx="1015.9" cy="682.4" r="3.0"/><circle cx="961.7" cy="775.1" r="3.0"/><circle cx="938.7" cy="740.1" r="3.0"/><circle cx="1009.0" cy="733.8" r="3.0"/><circle cx="1007.8" cy="729.3" r="3.0"/><circle cx="1024.6" cy="638.1" r="3.0"/><circle cx="929.0" cy="747.7" r="3.0"/><circle cx="1050.7" cy="648.6" r="3.0"/><circle cx="1055.5" cy="706.6" r="3.0"/><circle cx="914.6" cy="712.6" r="3.0"/><circle cx="933.0" cy="729.2" r="3.0"/><circle cx="1001.7" cy="759.9" r="3.0"/><circle cx="1009.7" cy="742.6" r="3.0"/><circle cx="978.8" cy="777.3" r="3.0"/><circle cx="1059.3" cy="655.3" r="3.0"/><circle cx="929.6" cy="723.7" r="3.0"/><circle cx="987.4" cy="692.3" r="3.0"/><circle cx="979.2" cy="657.1" r="3.0"/><circle cx="965.2" cy="720.3" r="3.0"/><circle cx="1023.2" cy="738.8" r="3.0"/><circle cx="976.5" cy="749.7" r="3.0"/><circle cx="940.8" cy="744.1" r="3.0"/><circle cx="1040.1" cy="655.2" r="3.0"/><circle cx="1038.5" cy="713.3" r="3.0"/><circle cx="986.6" cy="643.5" r="3.0"/><circle cx="957.5" cy="702.6" r="3.0"/><circle cx="974.9" cy="774.1" r="3.0"/><circle cx="959.9" cy="770.0" r="3.0"/><circle cx="943.6" cy="745.3" r="3.0"/><circle cx="919.9" cy="718.7" r="3.0"/><circle cx="1022.2" cy="758.7" r="3.0"/><circle cx="919.7" cy="781.4" r="3.0"/><circle cx="945.7" cy="763.0" r="3.0"/><circle cx="921.5" cy="784.8" r="3.0"/><circle cx="986.0" cy="659.2" r="3.0"/><circle cx="1018.2" cy="693.2" r="3.0"/><circle cx="933.0" cy="727.3" r="3.0"/><circle cx="1039.8" cy="743.9" r="3.0"/><circle cx="1016.0" cy="633.2" r="3.0"/><circle cx="973.0" cy="670.7" r="3.0"/><circle cx="985.4" cy="732.6" r="3.0"/><circle cx="965.9" cy="669.7" r="3.0"/><circle cx="977.9" cy="767.7" r="3.0"/><circle cx="930.5" cy="780.6" r="3.0"/><circle cx="1007.8" cy="770.0" r="3.0"/><circle cx="1051.4" cy="654.8" r="3.0"/><circle cx="1002.2" cy="682.1" r="3.0"/><circle cx="1004.8" cy="644.9" r="3.0"/><circle cx="919.3" cy="717.7" r="3.0"/><circle cx="969.2" cy="742.4" r="3.0"/><circle cx="995.0" cy="743.1" r="3.0"/><circle cx="1028.9" cy="640.8" r="3.0"/><circle cx="1027.3" cy="685.4" r="3.0"/><circle cx="1053.6" cy="726.7" r="3.0"/><circle cx="976.9" cy="685.2" r="3.0"/><circle cx="968.5" cy="679.6" r="3.0"/><circle cx="1039.9" cy="683.6" r="3.0"/><circle cx="1037.7" cy="707.8" r="3.0"/><circle cx="953.6" cy="766.6" r="3.0"/><circle cx="912.4" cy="766.3" r="3.0"/><circle cx="1016.1" cy="675.7" r="3.0"/><circle cx="1005.3" cy="762.0" r="3.0"/><circle cx="972.5" cy="729.1" r="3.0"/><circle cx="969.6" cy="709.7" r="3.0"/><circle cx="972.0" cy="690.2" r="3.0"/><circle cx="992.2" cy="687.8" r="3.0"/><circle cx="944.2" cy="691.2" r="3.0"/><circle cx="1028.1" cy="648.4" r="3.0"/><circle cx="974.8" cy="661.1" r="3.0"/><circle cx="953.2" cy="781.1" r="3.0"/><circle cx="1016.0" cy="661.7" r="3.0"/><circle cx="1020.2" cy="705.3" r="3.0"/><circle cx="963.9" cy="782.2" r="3.0"/><circle cx="1046.8" cy="713.3" r="3.0"/><circle cx="1008.4" cy="724.8" r="3.0"/><circle cx="1033.6" cy="683.8" r="3.0"/><circle cx="1005.3" cy="658.6" r="3.0"/><circle cx="962.9" cy="671.6" r="3.0"/><circle cx="996.5" cy="629.6" r="3.0"/><circle cx="947.7" cy="722.2" r="3.0"/><circle cx="1030.5" cy="752.2" r="3.0"/><circle cx="967.5" cy="725.3" r="3.0"/><circle cx="1008.2" cy="753.0" r="3.0"/><circle cx="944.7" cy="761.2" r="3.0"/><circle cx="1024.5" cy="649.0" r="3.0"/><circle cx="1060.6" cy="656.7" r="3.0"/><circle cx="916.1" cy="715.0" r="3.0"/><circle cx="968.8" cy="779.5" r="3.0"/><circle cx="1016.4" cy="675.1" r="3.0"/><circle cx="919.2" cy="738.8" r="3.0"/><circle cx="988.3" cy="728.8" r="3.0"/><circle cx="1002.3" cy="751.8" r="3.0"/><circle cx="1056.5" cy="679.2" r="3.0"/><circle cx="1057.2" cy="664.2" r="3.0"/><circle cx="912.6" cy="729.8" r="3.0"/><circle cx="937.6" cy="709.8" r="3.0"/><circle cx="1035.4" cy="655.2" r="3.0"/><circle cx="953.8" cy="677.7" r="3.0"/><circle cx="1004.1" cy="703.6" r="3.0"/><circle cx="998.8" cy="676.4" r="3.0"/><circle cx="989.0" cy="685.9" r="3.0"/><circle cx="1040.5" cy="694.5" r="3.0"/><circle cx="965.2" cy="716.1" r="3.0"/><circle cx="1029.8" cy="643.0" r="3.0"/><circle cx="929.6" cy="732.1" r="3.0"/><circle cx="987.0" cy="689.5" r="3.0"/><circle cx="1014.9" cy="757.5" r="3.0"/><circle cx="989.7" cy="747.9" r="3.0"/><circle cx="1002.3" cy="624.4" r="3.0"/><circle cx="1011.7" cy="682.7" r="3.0"/><circle cx="1060.7" cy="668.5" r="3.0"/><circle cx="1013.5" cy="693.6" r="3.0"/><circle cx="914.0" cy="765.3" r="3.0"/><circle cx="927.8" cy="753.0" r="3.0"/><circle cx="1013.2" cy="642.6" r="3.0"/><circle cx="1030.0" cy="728.2" r="3.0"/><circle cx="953.5" cy="715.8" r="3.0"/><circle cx="979.5" cy="665.9" r="3.0"/><circle cx="995.7" cy="735.2" r="3.0"/><circle cx="1026.7" cy="677.0" r="3.0"/><circle cx="1023.1" cy="682.0" r="3.0"/><circle cx="1027.7" cy="706.2" r="3.0"/><circle cx="992.2" cy="769.6" r="3.0"/><circle cx="923.6" cy="704.7" r="3.0"/><circle cx="1027.8" cy="655.2" r="3.0"/><circle cx="1027.7" cy="738.5" r="3.0"/><circle cx="949.8" cy="703.1" r="3.0"/><circle cx="954.7" cy="703.9" r="3.0"/><circle cx="1058.7" cy="675.5" r="3.0"/><circle cx="1014.2" cy="724.6" r="3.0"/><circle cx="973.5" cy="724.8" r="3.0"/><circle cx="1013.4" cy="717.4" r="3.0"/><circle cx="1029.0" cy="672.3" r="3.0"/><circle cx="932.7" cy="698.4" r="3.0"/><circle cx="1029.3" cy="704.6" r="3.0"/><circle cx="1047.8" cy="650.4" r="3.0"/><circle cx="992.0" cy="669.7" r="3.0"/><circle cx="986.8" cy="748.2" r="3.0"/><circle cx="930.7" cy="700.5" r="3.0"/><circle cx="1029.0" cy="715.1" r="3.0"/><circle cx="994.7" cy="659.7" r="3.0"/><circle cx="985.1" cy="745.8" r="3.0"/><circle cx="945.2" cy="692.3" r="3.0"/><circle cx="974.3" cy="656.4" r="3.0"/><circle cx="983.9" cy="779.1" r="3.0"/><circle cx="975.7" cy="776.0" r="3.0"/><circle cx="945.5" cy="746.0" r="3.0"/><circle cx="1010.5" cy="637.1" r="3.0"/><circle cx="972.9" cy="701.9" r="3.0"/><circle cx="946.9" cy="688.5" r="3.0"/><circle cx="1057.9" cy="676.7" r="3.0"/><circle cx="973.9" cy="647.6" r="3.0"/><circle cx="1013.3" cy="722.5" r="3.0"/><circle cx="942.8" cy="742.3" r="3.0"/><circle cx="1014.8" cy="764.9" r="3.0"/><circle cx="1012.4" cy="637.7" r="3.0"/><circle cx="1044.8" cy="730.8" r="3.0"/><circle cx="914.8" cy="765.1" r="3.0"/><circle cx="978.4" cy="742.5" r="3.0"/><circle cx="1053.2" cy="657.9" r="3.0"/><circle cx="972.2" cy="763.7" r="3.0"/><circle cx="999.3" cy="708.6" r="3.0"/><circle cx="938.3" cy="765.4" r="3.0"/><circle cx="1051.1" cy="702.1" r="3.0"/><circle cx="1057.5" cy="658.3" r="3.0"/><circle cx="932.9" cy="738.3" r="3.0"/><circle cx="912.7" cy="706.0" r="3.0"/><circle cx="1042.1" cy="671.7" r="3.0"/><circle cx="1045.4" cy="666.5" r="3.0"/><circle cx="974.2" cy="731.6" r="3.0"/><circle cx="954.6" cy="687.1" r="3.0"/><circle cx="1024.4" cy="753.6" r="3.0"/><circle cx="1029.6" cy="666.9" r="3.0"/><circle cx="995.5" cy="677.9" r="3.0"/><circle cx="1018.3" cy="634.3" r="3.0"/><circle cx="1021.0" cy="691.6" r="3.0"/><circle cx="1024.7" cy="719.4" r="3.0"/><circle cx="954.9" cy="675.0" r="3.0"/><circle cx="980.0" cy="645.2" r="3.0"/><circle cx="937.8" cy="727.6" r="3.0"/><circle cx="926.8" cy="773.7" r="3.0"/><circle cx="984.4" cy="675.6" r="3.0"/><circle cx="946.4" cy="781.0" r="3.0"/><circle cx="969.5" cy="735.3" r="3.0"/><circle cx="989.2" cy="766.3" r="3.0"/><circle cx="954.1" cy="758.4" r="3.0"/><circle cx="1036.1" cy="753.1" r="3.0"/><circle cx="1003.0" cy="700.2" r="3.0"/><circle cx="938.4" cy="761.1" r="3.0"/><circle cx="1008.1" cy="732.9" r="3.0"/><circle cx="1042.7" cy="665.9" r="3.0"/><circle cx="985.4" cy="775.5" r="3.0"/><circle cx="926.4" cy="704.1" r="3.0"/><circle cx="1041.9" cy="694.6" r="3.0"/><circle cx="1030.2" cy="647.7" r="3.0"/><circle cx="1032.6" cy="755.6" r="3.0"/><circle cx="944.6" cy="731.6" r="3.0"/><circle cx="1037.1" cy="703.7" r="3.0"/><circle cx="1011.8" cy="697.7" r="3.0"/><circle cx="993.8" cy="669.7" r="3.0"/><circle cx="927.8" cy="765.8" r="3.0"/><circle cx="988.8" cy="675.7" r="3.0"/><circle cx="982.6" cy="648.8" r="3.0"/><circle cx="971.0" cy="680.5" r="3.0"/><circle cx="959.9" cy="683.0" r="3.0"/><circle cx="945.4" cy="745.6" r="3.0"/><circle cx="1056.5" cy="685.4" r="3.0"/><circle cx="953.3" cy="734.0" r="3.0"/><circle cx="1056.1" cy="710.4" r="3.0"/><circle cx="1004.8" cy="640.7" r="3.0"/><circle cx="947.1" cy="697.5" r="3.0"/><circle cx="1006.0" cy="685.6" r="3.0"/><circle cx="1020.7" cy="760.4" r="3.0"/><circle cx="935.9" cy="709.4" r="3.0"/><circle cx="993.0" cy="758.9" r="3.0"/><circle cx="926.3" cy="754.3" r="3.0"/><circle cx="1007.3" cy="757.9" r="3.0"/><circle cx="904.4" cy="707.8" r="3.0"/><circle cx="918.0" cy="750.0" r="3.0"/><circle cx="1010.3" cy="660.8" r="3.0"/><circle cx="1026.9" cy="678.6" r="3.0"/><circle cx="1042.0" cy="668.6" r="3.0"/><circle cx="1040.6" cy="680.9" r="3.0"/><circle cx="994.9" cy="674.6" r="3.0"/><circle cx="1000.3" cy="632.7" r="3.0"/><circle cx="955.8" cy="681.0" r="3.0"/><circle cx="995.2" cy="754.5" r="3.0"/><circle cx="978.4" cy="779.1" r="3.0"/><circle cx="919.8" cy="743.2" r="3.0"/><circle cx="950.9" cy="684.4" r="3.0"/><circle cx="977.3" cy="703.3" r="3.0"/><circle cx="1030.0" cy="753.0" r="3.0"/><circle cx="962.2" cy="749.1" r="3.0"/><circle cx="996.3" cy="628.6" r="3.0"/><circle cx="1003.7" cy="706.0" r="3.0"/><circle cx="993.7" cy="632.0" r="3.0"/><circle cx="982.3" cy="656.3" r="3.0"/><circle cx="973.8" cy="721.7" r="3.0"/><circle cx="978.6" cy="734.6" r="3.0"/><circle cx="983.8" cy="756.8" r="3.0"/><circle cx="951.1" cy="696.6" r="3.0"/><circle cx="993.0" cy="658.8" r="3.0"/><circle cx="1059.8" cy="686.3" r="3.0"/><circle cx="979.8" cy="708.4" r="3.0"/><circle cx="981.2" cy="690.2" r="3.0"/><circle cx="1045.2" cy="728.8" r="3.0"/><circle cx="978.9" cy="675.8" r="3.0"/><circle cx="1010.4" cy="679.1" r="3.0"/><circle cx="933.5" cy="707.8" r="3.0"/><circle cx="955.9" cy="784.3" r="3.0"/><circle cx="931.6" cy="777.5" r="3.0"/><circle cx="1000.3" cy="743.3" r="3.0"/><circle cx="977.7" cy="738.6" r="3.0"/><circle cx="967.2" cy="709.1" r="3.0"/><circle cx="1005.6" cy="753.2" r="3.0"/><circle cx="1035.8" cy="649.5" r="3.0"/><circle cx="928.2" cy="772.7" r="3.0"/><circle cx="935.0" cy="712.4" r="3.0"/><circle cx="945.4" cy="771.5" r="3.0"/><circle cx="1058.3" cy="689.5" r="3.0"/><circle cx="1032.4" cy="724.2" r="3.0"/><circle cx="932.0" cy="708.3" r="3.0"/><circle cx="1046.2" cy="706.5" r="3.0"/><circle cx="1042.7" cy="698.4" r="3.0"/><circle cx="946.3" cy="703.2" r="3.0"/><circle cx="955.5" cy="782.9" r="3.0"/><circle cx="931.0" cy="706.3" r="3.0"/><circle cx="998.6" cy="767.7" r="3.0"/><circle cx="987.5" cy="678.5" r="3.0"/><circle cx="979.4" cy="663.4" r="3.0"/><circle cx="959.2" cy="750.3" r="3.0"/><circle cx="963.8" cy="766.3" r="3.0"/><circle cx="923.5" cy="752.2" r="3.0"/><circle cx="921.8" cy="715.3" r="3.0"/><circle cx="980.4" cy="743.4" r="3.0"/><circle cx="983.9" cy="670.3" r="3.0"/><circle cx="1057.1" cy="702.3" r="3.0"/><circle cx="921.3" cy="712.3" r="3.0"/><circle cx="981.9" cy="638.7" r="3.0"/><circle cx="1017.0" cy="682.0" r="3.0"/><circle cx="1004.3" cy="665.5" r="3.0"/><circle cx="1018.7" cy="753.4" r="3.0"/><circle cx="985.3" cy="773.8" r="3.0"/><circle cx="963.7" cy="685.0" r="3.0"/><circle cx="1025.2" cy="749.6" r="3.0"/><circle cx="967.4" cy="695.9" r="3.0"/><circle cx="998.0" cy="632.0" r="3.0"/><circle cx="983.3" cy="761.9" r="3.0"/><circle cx="978.9" cy="723.1" r="3.0"/><circle cx="958.4" cy="691.3" r="3.0"/><circle cx="1050.0" cy="724.1" r="3.0"/><circle cx="989.3" cy="637.3" r="3.0"/><circle cx="1043.6" cy="733.7" r="3.0"/><circle cx="969.8" cy="662.8" r="3.0"/><circle cx="1058.4" cy="679.2" r="3.0"/><circle cx="1020.7" cy="728.0" r="3.0"/><circle cx="960.1" cy="782.7" r="3.0"/><circle cx="971.0" cy="775.6" r="3.0"/><circle cx="1019.2" cy="679.9" r="3.0"/><circle cx="945.3" cy="754.8" r="3.0"/><circle cx="1035.2" cy="674.2" r="3.0"/><circle cx="1033.5" cy="701.3" r="3.0"/><circle cx="1009.7" cy="734.1" r="3.0"/><circle cx="1031.3" cy="711.8" r="3.0"/><circle cx="934.8" cy="763.2" r="3.0"/><circle cx="994.0" cy="735.8" r="3.0"/><circle cx="1011.8" cy="762.7" r="3.0"/><circle cx="1035.8" cy="664.7" r="3.0"/><circle cx="1022.0" cy="680.7" r="3.0"/><circle cx="1023.3" cy="714.4" r="3.0"/><circle cx="992.3" cy="638.3" r="3.0"/><circle cx="910.0" cy="765.3" r="3.0"/><circle cx="1050.4" cy="680.4" r="3.0"/><circle cx="971.7" cy="717.1" r="3.0"/><circle cx="1013.3" cy="637.0" r="3.0"/><circle cx="912.7" cy="741.5" r="3.0"/><circle cx="949.9" cy="727.8" r="3.0"/><circle cx="989.7" cy="701.8" r="3.0"/><circle cx="982.6" cy="756.6" r="3.0"/><circle cx="963.1" cy="748.5" r="3.0"/><circle cx="994.9" cy="768.1" r="3.0"/><circle cx="987.0" cy="697.8" r="3.0"/><circle cx="927.7" cy="769.1" r="3.0"/><circle cx="990.1" cy="691.4" r="3.0"/><circle cx="991.4" cy="694.1" r="3.0"/><circle cx="1036.6" cy="720.2" r="3.0"/><circle cx="1017.7" cy="704.8" r="3.0"/><circle cx="915.4" cy="733.6" r="3.0"/><circle cx="988.4" cy="688.0" r="3.0"/><circle cx="1027.6" cy="705.7" r="3.0"/><circle cx="956.5" cy="739.6" r="3.0"/><circle cx="948.1" cy="772.9" r="3.0"/><circle cx="931.2" cy="779.4" r="3.0"/><circle cx="1046.0" cy="656.1" r="3.0"/><circle cx="1013.8" cy="698.2" r="3.0"/><circle cx="932.3" cy="720.7" r="3.0"/><circle cx="931.8" cy="709.3" r="3.0"/><circle cx="1021.9" cy="692.1" r="3.0"/><circle cx="937.6" cy="774.9" r="3.0"/><circle cx="1030.8" cy="681.3" r="3.0"/><circle cx="985.8" cy="636.9" r="3.0"/><circle cx="1054.5" cy="662.4" r="3.0"/><circle cx="1005.5" cy="662.3" r="3.0"/><circle cx="981.2" cy="778.0" r="3.0"/><circle cx="983.4" cy="635.9" r="3.0"/><circle cx="1059.2" cy="691.6" r="3.0"/><circle cx="947.4" cy="747.5" r="3.0"/><circle cx="1027.7" cy="732.6" r="3.0"/><circle cx="983.4" cy="680.9" r="3.0"/><circle cx="962.3" cy="674.5" r="3.0"/><circle cx="1008.3" cy="669.1" r="3.0"/><circle cx="972.5" cy="671.6" r="3.0"/><circle cx="1006.1" cy="768.8" r="3.0"/><circle cx="1034.3" cy="657.6" r="3.0"/><circle cx="1056.0" cy="668.8" r="3.0"/><circle cx="961.0" cy="748.7" r="3.0"/><circle cx="943.4" cy="741.4" r="3.0"/><circle cx="942.5" cy="756.4" r="3.0"/><circle cx="1023.7" cy="641.2" r="3.0"/><circle cx="944.9" cy="753.2" r="3.0"/><circle cx="1011.4" cy="691.9" r="3.0"/><circle cx="953.3" cy="703.7" r="3.0"/><circle cx="1006.0" cy="765.5" r="3.0"/><circle cx="1012.6" cy="714.1" r="3.0"/><circle cx="984.4" cy="723.5" r="3.0"/><circle cx="987.1" cy="693.6" r="3.0"/><circle cx="1042.8" cy="661.1" r="3.0"/><circle cx="1006.1" cy="754.6" r="3.0"/><circle cx="1010.7" cy="744.1" r="3.0"/><circle cx="1026.1" cy="650.0" r="3.0"/><circle cx="1017.7" cy="696.9" r="3.0"/><circle cx="1046.4" cy="655.1" r="3.0"/><circle cx="998.2" cy="650.8" r="3.0"/><circle cx="953.0" cy="683.4" r="3.0"/><circle cx="1045.5" cy="651.3" r="3.0"/><circle cx="964.6" cy="683.5" r="3.0"/><circle cx="985.0" cy="742.4" r="3.0"/><circle cx="1005.0" cy="751.9" r="3.0"/><circle cx="1018.5" cy="649.6" r="3.0"/><circle cx="926.6" cy="726.4" r="3.0"/><circle cx="1004.6" cy="687.0" r="3.0"/><circle cx="1010.8" cy="697.1" r="3.0"/><circle cx="1016.5" cy="650.7" r="3.0"/><circle cx="1033.7" cy="757.1" r="3.0"/><circle cx="925.1" cy="755.1" r="3.0"/><circle cx="940.6" cy="734.2" r="3.0"/><circle cx="1062.9" cy="657.9" r="3.0"/><circle cx="979.3" cy="670.1" r="3.0"/><circle cx="1049.8" cy="672.2" r="3.0"/><circle cx="923.8" cy="758.5" r="3.0"/><circle cx="1019.1" cy="752.3" r="3.0"/><circle cx="1045.0" cy="697.4" r="3.0"/><circle cx="967.4" cy="753.0" r="3.0"/><circle cx="978.5" cy="663.0" r="3.0"/><circle cx="999.2" cy="694.8" r="3.0"/><circle cx="1030.1" cy="634.3" r="3.0"/><circle cx="988.6" cy="696.3" r="3.0"/><circle cx="1042.8" cy="667.1" r="3.0"/><circle cx="1011.7" cy="731.8" r="3.0"/><circle cx="1002.6" cy="635.6" r="3.0"/><circle cx="930.4" cy="758.1" r="3.0"/><circle cx="960.4" cy="672.4" r="3.0"/><circle cx="1016.0" cy="749.8" r="3.0"/><circle cx="1060.2" cy="674.8" r="3.0"/><circle cx="1041.8" cy="698.7" r="3.0"/><circle cx="1058.3" cy="712.0" r="3.0"/><circle cx="990.6" cy="717.4" r="3.0"/><circle cx="980.1" cy="752.0" r="3.0"/><circle cx="990.0" cy="679.7" r="3.0"/><circle cx="962.3" cy="758.0" r="3.0"/><circle cx="933.0" cy="754.2" r="3.0"/><circle cx="906.1" cy="720.4" r="3.0"/><circle cx="1032.3" cy="666.6" r="3.0"/><circle cx="1053.9" cy="693.4" r="3.0"/><circle cx="910.3" cy="742.6" r="3.0"/><circle cx="1020.8" cy="732.9" r="3.0"/><circle cx="977.8" cy="773.0" r="3.0"/><circle cx="953.7" cy="725.6" r="3.0"/><circle cx="971.2" cy="675.3" r="3.0"/><circle cx="976.7" cy="712.2" r="3.0"/><circle cx="956.5" cy="735.2" r="3.0"/><circle cx="933.4" cy="779.2" r="3.0"/><circle cx="1018.6" cy="730.2" r="3.0"/><circle cx="1016.6" cy="684.7" r="3.0"/><circle cx="919.2" cy="733.5" r="3.0"/><circle cx="933.3" cy="715.7" r="3.0"/><circle cx="1047.9" cy="727.1" r="3.0"/><circle cx="1044.6" cy="678.7" r="3.0"/><circle cx="942.2" cy="711.9" r="3.0"/><circle cx="955.3" cy="708.9" r="3.0"/><circle cx="998.3" cy="641.4" r="3.0"/><circle cx="1012.3" cy="648.9" r="3.0"/><circle cx="940.4" cy="763.5" r="3.0"/><circle cx="983.2" cy="699.6" r="3.0"/><circle cx="949.8" cy="707.7" r="3.0"/><circle cx="1027.4" cy="682.1" r="3.0"/><circle cx="1014.2" cy="701.4" r="3.0"/><circle cx="1053.9" cy="659.2" r="3.0"/><circle cx="1016.5" cy="686.9" r="3.0"/><circle cx="941.8" cy="740.6" r="3.0"/><circle cx="970.7" cy="692.8" r="3.0"/><circle cx="962.0" cy="682.5" r="3.0"/><circle cx="987.9" cy="729.0" r="3.0"/><circle cx="1040.1" cy="665.9" r="3.0"/><circle cx="1032.1" cy="745.6" r="3.0"/><circle cx="927.9" cy="765.8" r="3.0"/><circle cx="1022.2" cy="633.3" r="3.0"/><circle cx="1001.6" cy="693.4" r="3.0"/><circle cx="979.8" cy="689.5" r="3.0"/><circle cx="1030.5" cy="654.6" r="3.0"/><circle cx="1043.0" cy="719.6" r="3.0"/><circle cx="961.1" cy="781.6" r="3.0"/><circle cx="953.3" cy="749.5" r="3.0"/><circle cx="1027.0" cy="759.8" r="3.0"/><circle cx="944.5" cy="697.3" r="3.0"/><circle cx="945.8" cy="749.9" r="3.0"/><circle cx="992.2" cy="673.3" r="3.0"/><circle cx="999.2" cy="731.6" r="3.0"/><circle cx="900.8" cy="712.2" r="3.0"/><circle cx="979.3" cy="684.7" r="3.0"/><circle cx="1011.5" cy="645.0" r="3.0"/><circle cx="982.3" cy="692.2" r="3.0"/><circle cx="926.8" cy="772.1" r="3.0"/><circle cx="1032.4" cy="713.7" r="3.0"/><circle cx="995.4" cy="739.6" r="3.0"/><circle cx="983.2" cy="757.4" r="3.0"/><circle cx="989.3" cy="744.1" r="3.0"/><circle cx="1049.4" cy="702.9" r="3.0"/><circle cx="1012.7" cy="710.1" r="3.0"/><circle cx="935.6" cy="722.3" r="3.0"/><circle cx="1015.7" cy="664.9" r="3.0"/><circle cx="1036.1" cy="697.1" r="3.0"/><circle cx="979.0" cy="682.9" r="3.0"/><circle cx="1062.3" cy="673.8" r="3.0"/><circle cx="909.0" cy="765.6" r="3.0"/><circle cx="962.1" cy="729.3" r="3.0"/><circle cx="930.9" cy="748.8" r="3.0"/><circle cx="986.4" cy="731.8" r="3.0"/><circle cx="1019.3" cy="716.9" r="3.0"/><circle cx="1010.7" cy="654.7" r="3.0"/><circle cx="1038.5" cy="659.7" r="3.0"/><circle cx="1027.7" cy="758.6" r="3.0"/><circle cx="1020.2" cy="640.8" r="3.0"/><circle cx="915.3" cy="755.6" r="3.0"/><circle cx="994.0" cy="737.3" r="3.0"/><circle cx="1035.4" cy="740.1" r="3.0"/><circle cx="996.3" cy="682.1" r="3.0"/><circle cx="1053.3" cy="666.9" r="3.0"/><circle cx="992.6" cy="735.6" r="3.0"/><circle cx="982.3" cy="684.4" r="3.0"/><circle cx="999.9" cy="764.4" r="3.0"/><circle cx="1007.3" cy="747.8" r="3.0"/><circle cx="941.7" cy="777.3" r="3.0"/><circle cx="994.4" cy="712.9" r="3.0"/><circle cx="959.4" cy="761.3" r="3.0"/><circle cx="1002.4" cy="713.8" r="3.0"/><circle cx="999.0" cy="751.8" r="3.0"/><circle cx="1059.3" cy="669.5" r="3.0"/><circle cx="968.2" cy="743.4" r="3.0"/><circle cx="1033.6" cy="679.1" r="3.0"/><circle cx="946.2" cy="710.0" r="3.0"/><circle cx="976.0" cy="688.9" r="3.0"/><circle cx="1054.3" cy="680.3" r="3.0"/><circle cx="1051.2" cy="725.8" r="3.0"/><circle cx="911.1" cy="748.6" r="3.0"/><circle cx="978.1" cy="648.0" r="3.0"/><circle cx="982.2" cy="734.6" r="3.0"/><circle cx="1037.7" cy="694.4" r="3.0"/><circle cx="995.0" cy="709.5" r="3.0"/><circle cx="902.3" cy="709.9" r="3.0"/><circle cx="1013.2" cy="661.5" r="3.0"/><circle cx="1039.1" cy="717.3" r="3.0"/><circle cx="1036.8" cy="749.0" r="3.0"/><circle cx="947.6" cy="679.4" r="3.0"/><circle cx="1054.0" cy="666.3" r="3.0"/><circle cx="945.6" cy="751.6" r="3.0"/><circle cx="947.9" cy="783.6" r="3.0"/><circle cx="1013.5" cy="679.6" r="3.0"/><circle cx="972.0" cy="763.5" r="3.0"/><circle cx="999.7" cy="661.5" r="3.0"/><circle cx="971.2" cy="658.8" r="3.0"/><circle cx="1002.9" cy="730.3" r="3.0"/><circle cx="1055.2" cy="672.3" r="3.0"/><circle cx="1029.1" cy="673.6" r="3.0"/><circle cx="1015.2" cy="690.3" r="3.0"/><circle cx="995.9" cy="760.3" r="3.0"/><circle cx="1005.4" cy="690.5" r="3.0"/><circle cx="977.4" cy="662.6" r="3.0"/><circle cx="960.5" cy="780.4" r="3.0"/><circle cx="1052.3" cy="723.5" r="3.0"/><circle cx="1015.3" cy="676.1" r="3.0"/><circle cx="1004.4" cy="770.9" r="3.0"/><circle cx="1020.9" cy="662.6" r="3.0"/><circle cx="917.1" cy="751.0" r="3.0"/><circle cx="929.7" cy="739.8" r="3.0"/><circle cx="953.4" cy="735.9" r="3.0"/><circle cx="966.1" cy="782.4" r="3.0"/><circle cx="952.0" cy="755.0" r="3.0"/><circle cx="1033.8" cy="718.5" r="3.0"/><circle cx="969.9" cy="755.5" r="3.0"/><circle cx="976.5" cy="676.2" r="3.0"/><circle cx="923.4" cy="768.7" r="3.0"/><circle cx="1053.6" cy="683.4" r="3.0"/><circle cx="911.0" cy="771.4" r="3.0"/><circle cx="967.3" cy="783.2" r="3.0"/><circle cx="997.4" cy="683.7" r="3.0"/><circle cx="1015.8" cy="666.4" r="3.0"/><circle cx="986.0" cy="676.4" r="3.0"/><circle cx="1029.0" cy="639.9" r="3.0"/><circle cx="945.5" cy="703.9" r="3.0"/><circle cx="1041.3" cy="719.1" r="3.0"/><circle cx="972.8" cy="725.7" r="3.0"/><circle cx="1054.3" cy="684.4" r="3.0"/><circle cx="925.3" cy="711.3" r="3.0"/><circle cx="1007.0" cy="696.8" r="3.0"/><circle cx="1003.0" cy="714.6" r="3.0"/><circle cx="975.7" cy="781.9" r="3.0"/><circle cx="1005.1" cy="730.8" r="3.0"/><circle cx="1053.2" cy="660.9" r="3.0"/><circle cx="978.5" cy="716.2" r="3.0"/><circle cx="949.1" cy="719.8" r="3.0"/><circle cx="993.9" cy="774.5" r="3.0"/><circle cx="973.0" cy="689.8" r="3.0"/><circle cx="1023.9" cy="665.6" r="3.0"/><circle cx="999.3" cy="647.7" r="3.0"/><circle cx="986.2" cy="709.2" r="3.0"/><circle cx="1010.2" cy="642.9" r="3.0"/><circle cx="1053.4" cy="719.6" r="3.0"/><circle cx="1018.7" cy="757.1" r="3.0"/><circle cx="949.5" cy="769.4" r="3.0"/><circle cx="1014.0" cy="641.3" r="3.0"/><circle cx="997.9" cy="671.9" r="3.0"/><circle cx="1031.3" cy="640.3" r="3.0"/><circle cx="1018.0" cy="688.7" r="3.0"/><circle cx="1045.7" cy="725.8" r="3.0"/><circle cx="1017.0" cy="710.9" r="3.0"/><circle cx="930.4" cy="710.7" r="3.0"/><circle cx="1039.5" cy="743.3" r="3.0"/><circle cx="976.8" cy="779.6" r="3.0"/><circle cx="1049.3" cy="728.1" r="3.0"/><circle cx="988.6" cy="711.2" r="3.0"/><circle cx="1059.5" cy="650.7" r="3.0"/><circle cx="928.7" cy="784.1" r="3.0"/><circle cx="960.9" cy="714.3" r="3.0"/><circle cx="1006.8" cy="765.3" r="3.0"/><circle cx="1031.6" cy="659.0" r="3.0"/><circle cx="998.5" cy="758.2" r="3.0"/><circle cx="914.0" cy="711.9" r="3.0"/><circle cx="1054.1" cy="690.1" r="3.0"/><circle cx="1003.7" cy="748.7" r="3.0"/><circle cx="1013.0" cy="626.7" r="3.0"/><circle cx="1053.5" cy="702.0" r="3.0"/><circle cx="988.8" cy="646.3" r="3.0"/><circle cx="985.8" cy="695.1" r="3.0"/><circle cx="1005.9" cy="638.2" r="3.0"/><circle cx="942.7" cy="711.8" r="3.0"/><circle cx="1026.7" cy="731.5" r="3.0"/><circle cx="961.4" cy="727.4" r="3.0"/><circle cx="980.9" cy="705.0" r="3.0"/><circle cx="916.2" cy="723.1" r="3.0"/><circle cx="1038.7" cy="652.3" r="3.0"/><circle cx="999.7" cy="711.2" r="3.0"/><circle cx="929.8" cy="763.5" r="3.0"/><circle cx="916.8" cy="751.0" r="3.0"/><circle cx="940.1" cy="737.2" r="3.0"/><circle cx="1007.9" cy="733.5" r="3.0"/><circle cx="1026.4" cy="667.5" r="3.0"/><circle cx="969.2" cy="720.1" r="3.0"/><circle cx="1016.2" cy="690.1" r="3.0"/><circle cx="954.3" cy="725.5" r="3.0"/><circle cx="909.0" cy="711.6" r="3.0"/><circle cx="962.3" cy="735.1" r="3.0"/><circle cx="1013.5" cy="675.5" r="3.0"/><circle cx="1057.3" cy="705.5" r="3.0"/><circle cx="989.6" cy="694.2" r="3.0"/><circle cx="901.0" cy="712.0" r="3.0"/><circle cx="980.9" cy="718.2" r="3.0"/><circle cx="1000.9" cy="623.3" r="3.0"/><circle cx="981.1" cy="686.9" r="3.0"/><circle cx="1042.8" cy="709.8" r="3.0"/><circle cx="1034.9" cy="660.8" r="3.0"/><circle cx="996.0" cy="680.6" r="3.0"/><circle cx="945.8" cy="683.2" r="3.0"/><circle cx="1000.2" cy="682.1" r="3.0"/><circle cx="951.0" cy="681.9" r="3.0"/><circle cx="1024.7" cy="747.8" r="3.0"/><circle cx="958.8" cy="742.5" r="3.0"/><circle cx="981.6" cy="739.0" r="3.0"/><circle cx="947.9" cy="782.5" r="3.0"/><circle cx="927.2" cy="728.3" r="3.0"/><circle cx="959.8" cy="742.8" r="3.0"/><circle cx="917.8" cy="705.0" r="3.0"/><circle cx="916.4" cy="750.3" r="3.0"/><circle cx="994.6" cy="694.9" r="3.0"/><circle cx="1010.6" cy="704.7" r="3.0"/><circle cx="1016.7" cy="710.3" r="3.0"/><circle cx="1038.1" cy="677.3" r="3.0"/><circle cx="941.5" cy="751.8" r="3.0"/><circle cx="1046.0" cy="714.6" r="3.0"/><circle cx="984.4" cy="723.8" r="3.0"/><circle cx="960.3" cy="692.7" r="3.0"/><circle cx="905.0" cy="719.4" r="3.0"/><circle cx="1032.2" cy="680.8" r="3.0"/><circle cx="1014.4" cy="743.0" r="3.0"/><circle cx="1011.9" cy="651.5" r="3.0"/><circle cx="970.1" cy="721.8" r="3.0"/><circle cx="1030.1" cy="648.7" r="3.0"/><circle cx="985.6" cy="672.6" r="3.0"/><circle cx="1013.0" cy="693.0" r="3.0"/><circle cx="940.2" cy="710.1" r="3.0"/><circle cx="985.5" cy="740.4" r="3.0"/><circle cx="999.8" cy="749.3" r="3.0"/><circle cx="912.6" cy="716.7" r="3.0"/><circle cx="938.3" cy="704.9" r="3.0"/><circle cx="982.4" cy="756.5" r="3.0"/><circle cx="1000.6" cy="755.8" r="3.0"/><circle cx="946.2" cy="733.9" r="3.0"/><circle cx="990.4" cy="641.5" r="3.0"/><circle cx="930.5" cy="735.6" r="3.0"/><circle cx="1055.7" cy="696.0" r="3.0"/><circle cx="982.7" cy="769.9" r="3.0"/><circle cx="1021.1" cy="733.4" r="3.0"/><circle cx="986.9" cy="757.0" r="3.0"/><circle cx="1033.2" cy="734.4" r="3.0"/><circle cx="973.1" cy="698.0" r="3.0"/><circle cx="1032.6" cy="738.9" r="3.0"/><circle cx="991.6" cy="709.9" r="3.0"/><circle cx="954.6" cy="752.3" r="3.0"/><circle cx="938.9" cy="749.7" r="3.0"/><circle cx="1012.3" cy="751.3" r="3.0"/><circle cx="991.1" cy="650.0" r="3.0"/><circle cx="979.4" cy="748.8" r="3.0"/><circle cx="1022.3" cy="682.6" r="3.0"/><circle cx="909.3" cy="735.7" r="3.0"/><circle cx="974.3" cy="723.6" r="3.0"/><circle cx="980.5" cy="663.9" r="3.0"/><circle cx="1018.4" cy="763.6" r="3.0"/><circle cx="1010.2" cy="669.6" r="3.0"/><circle cx="962.2" cy="783.1" r="3.0"/><circle cx="913.9" cy="723.9" r="3.0"/><circle cx="1041.4" cy="673.8" r="3.0"/><circle cx="962.3" cy="758.5" r="3.0"/><circle cx="977.6" cy="759.3" r="3.0"/><circle cx="972.7" cy="690.4" r="3.0"/><circle cx="1037.3" cy="732.0" r="3.0"/><circle cx="990.1" cy="634.9" r="3.0"/><circle cx="947.4" cy="779.0" r="3.0"/><circle cx="955.3" cy="729.5" r="3.0"/><circle cx="936.3" cy="728.4" r="3.0"/><circle cx="985.2" cy="719.3" r="3.0"/><circle cx="941.9" cy="708.0" r="3.0"/><circle cx="946.8" cy="684.5" r="3.0"/><circle cx="978.9" cy="715.4" r="3.0"/><circle cx="955.0" cy="679.8" r="3.0"/><circle cx="992.0" cy="725.5" r="3.0"/><circle cx="1021.1" cy="726.2" r="3.0"/><circle cx="1003.6" cy="739.9" r="3.0"/><circle cx="996.5" cy="723.2" r="3.0"/><circle cx="939.5" cy="717.3" r="3.0"/><circle cx="956.3" cy="677.7" r="3.0"/><circle cx="931.3" cy="779.8" r="3.0"/><circle cx="1060.4" cy="673.2" r="3.0"/><circle cx="1036.3" cy="666.9" r="3.0"/><circle cx="1040.3" cy="661.3" r="3.0"/><circle cx="981.8" cy="736.2" r="3.0"/><circle cx="996.1" cy="771.7" r="3.0"/><circle cx="1020.0" cy="701.6" r="3.0"/><circle cx="960.6" cy="688.0" r="3.0"/><circle cx="971.6" cy="758.5" r="3.0"/><circle cx="1013.9" cy="640.9" r="3.0"/><circle cx="1031.3" cy="680.9" r="3.0"/><circle cx="1045.9" cy="661.9" r="3.0"/><circle cx="949.4" cy="715.6" r="3.0"/><circle cx="992.2" cy="769.6" r="3.0"/><circle cx="928.5" cy="697.8" r="3.0"/><circle cx="999.3" cy="723.2" r="3.0"/><circle cx="910.7" cy="717.3" r="3.0"/><circle cx="1052.2" cy="711.6" r="3.0"/><circle cx="1050.3" cy="691.8" r="3.0"/><circle cx="992.0" cy="650.0" r="3.0"/><circle cx="978.0" cy="702.3" r="3.0"/><circle cx="1007.9" cy="668.5" r="3.0"/><circle cx="925.6" cy="699.3" r="3.0"/><circle cx="924.5" cy="714.8" r="3.0"/><circle cx="961.1" cy="762.6" r="3.0"/><circle cx="925.0" cy="709.8" r="3.0"/><circle cx="916.4" cy="714.7" r="3.0"/><circle cx="982.8" cy="724.4" r="3.0"/><circle cx="1010.6" cy="635.4" r="3.0"/><circle cx="1030.4" cy="636.8" r="3.0"/><circle cx="1003.9" cy="673.7" r="3.0"/><circle cx="977.9" cy="643.7" r="3.0"/><circle cx="915.2" cy="740.5" r="3.0"/><circle cx="1029.2" cy="648.5" r="3.0"/><circle cx="937.0" cy="720.9" r="3.0"/><circle cx="1005.2" cy="644.7" r="3.0"/><circle cx="1054.3" cy="722.3" r="3.0"/><circle cx="1016.8" cy="748.8" r="3.0"/><circle cx="974.8" cy="723.2" r="3.0"/><circle cx="979.6" cy="664.0" r="3.0"/><circle cx="947.5" cy="733.5" r="3.0"/><circle cx="1044.1" cy="653.3" r="3.0"/><circle cx="982.7" cy="657.2" r="3.0"/><circle cx="912.5" cy="723.4" r="3.0"/><circle cx="1048.6" cy="690.4" r="3.0"/><circle cx="1051.6" cy="676.3" r="3.0"/><circle cx="1010.4" cy="765.5" r="3.0"/><circle cx="923.7" cy="742.8" r="3.0"/><circle cx="941.7" cy="688.0" r="3.0"/><circle cx="917.8" cy="770.1" r="3.0"/><circle cx="943.0" cy="688.5" r="3.0"/><circle cx="1039.4" cy="689.8" r="3.0"/><circle cx="992.8" cy="719.4" r="3.0"/><circle cx="1029.4" cy="696.6" r="3.0"/><circle cx="1046.0" cy="660.5" r="3.0"/><circle cx="1033.8" cy="708.0" r="3.0"/><circle cx="1044.6" cy="649.1" r="3.0"/><circle cx="964.6" cy="668.4" r="3.0"/><circle cx="1039.4" cy="721.2" r="3.0"/><circle cx="929.1" cy="717.7" r="3.0"/><circle cx="996.7" cy="631.0" r="3.0"/><circle cx="983.5" cy="721.0" r="3.0"/><circle cx="925.3" cy="770.2" r="3.0"/><circle cx="957.9" cy="714.9" r="3.0"/><circle cx="947.8" cy="693.9" r="3.0"/><circle cx="1062.5" cy="685.6" r="3.0"/><circle cx="973.8" cy="665.0" r="3.0"/><circle cx="963.4" cy="669.7" r="3.0"/><circle cx="918.0" cy="749.4" r="3.0"/><circle cx="1047.6" cy="732.8" r="3.0"/><circle cx="1055.6" cy="667.5" r="3.0"/><circle cx="1010.8" cy="698.8" r="3.0"/><circle cx="1003.2" cy="633.7" r="3.0"/><circle cx="1014.6" cy="641.9" r="3.0"/><circle cx="920.9" cy="765.9" r="3.0"/><circle cx="1014.1" cy="693.9" r="3.0"/><circle cx="941.8" cy="713.7" r="3.0"/><circle cx="905.2" cy="715.3" r="3.0"/><circle cx="979.3" cy="673.0" r="3.0"/><circle cx="1040.3" cy="744.2" r="3.0"/><circle cx="1015.8" cy="672.5" r="3.0"/><circle cx="922.6" cy="749.3" r="3.0"/><circle cx="992.0" cy="705.1" r="3.0"/><circle cx="1033.9" cy="727.7" r="3.0"/><circle cx="1059.6" cy="660.0" r="3.0"/><circle cx="945.5" cy="680.7" r="3.0"/><circle cx="979.6" cy="686.7" r="3.0"/><circle cx="943.5" cy="750.5" r="3.0"/><circle cx="987.1" cy="718.5" r="3.0"/><circle cx="949.9" cy="762.9" r="3.0"/><circle cx="980.7" cy="749.0" r="3.0"/><circle cx="1028.6" cy="670.7" r="3.0"/><circle cx="995.7" cy="697.2" r="3.0"/><circle cx="1058.0" cy="678.4" r="3.0"/><circle cx="915.6" cy="735.6" r="3.0"/><circle cx="974.8" cy="723.1" r="3.0"/><circle cx="915.1" cy="708.9" r="3.0"/><circle cx="970.6" cy="716.9" r="3.0"/><circle cx="975.1" cy="713.7" r="3.0"/><circle cx="1022.5" cy="760.0" r="3.0"/><circle cx="960.2" cy="709.5" r="3.0"/><circle cx="1014.9" cy="734.9" r="3.0"/><circle cx="1030.7" cy="737.6" r="3.0"/><circle cx="1030.8" cy="738.2" r="3.0"/><circle cx="997.4" cy="690.0" r="3.0"/><circle cx="1025.4" cy="719.1" r="3.0"/><circle cx="919.4" cy="744.6" r="3.0"/><circle cx="1002.5" cy="713.2" r="3.0"/><circle cx="914.0" cy="704.9" r="3.0"/><circle cx="1039.2" cy="741.2" r="3.0"/><circle cx="977.8" cy="697.6" r="3.0"/><circle cx="961.0" cy="683.3" r="3.0"/><circle cx="954.3" cy="700.2" r="3.0"/><circle cx="995.2" cy="648.3" r="3.0"/><circle cx="922.3" cy="726.5" r="3.0"/><circle cx="992.3" cy="703.4" r="3.0"/><circle cx="983.0" cy="681.1" r="3.0"/><circle cx="985.0" cy="672.0" r="3.0"/><circle cx="997.1" cy="673.0" r="3.0"/><circle cx="951.8" cy="697.4" r="3.0"/><circle cx="999.6" cy="749.6" r="3.0"/><circle cx="935.0" cy="698.6" r="3.0"/><circle cx="979.6" cy="724.3" r="3.0"/><circle cx="916.3" cy="741.6" r="3.0"/><circle cx="938.9" cy="713.9" r="3.0"/><circle cx="933.1" cy="707.0" r="3.0"/><circle cx="961.5" cy="767.1" r="3.0"/><circle cx="983.5" cy="748.7" r="3.0"/><circle cx="937.5" cy="705.7" r="3.0"/><circle cx="984.3" cy="674.0" r="3.0"/><circle cx="1010.7" cy="718.3" r="3.0"/><circle cx="1016.4" cy="637.9" r="3.0"/><circle cx="930.7" cy="775.2" r="3.0"/><circle cx="989.2" cy="698.6" r="3.0"/><circle cx="993.9" cy="696.8" r="3.0"/><circle cx="1025.1" cy="733.0" r="3.0"/><circle cx="922.8" cy="770.1" r="3.0"/><circle cx="1014.3" cy="736.3" r="3.0"/><circle cx="1028.0" cy="709.8" r="3.0"/><circle cx="1004.8" cy="747.8" r="3.0"/><circle cx="952.9" cy="748.3" r="3.0"/><circle cx="958.5" cy="697.9" r="3.0"/><circle cx="1011.8" cy="735.9" r="3.0"/><circle cx="1005.0" cy="645.7" r="3.0"/><circle cx="1012.2" cy="751.0" r="3.0"/><circle cx="1023.0" cy="726.4" r="3.0"/><circle cx="995.6" cy="663.0" r="3.0"/><circle cx="937.8" cy="730.7" r="3.0"/><circle cx="1023.2" cy="700.5" r="3.0"/><circle cx="920.0" cy="754.7" r="3.0"/><circle cx="929.8" cy="784.1" r="3.0"/><circle cx="1005.3" cy="713.1" r="3.0"/><circle cx="979.0" cy="643.0" r="3.0"/><circle cx="1002.5" cy="661.6" r="3.0"/><circle cx="1052.4" cy="729.1" r="3.0"/><circle cx="1010.9" cy="658.4" r="3.0"/><circle cx="957.7" cy="733.7" r="3.0"/><circle cx="1047.5" cy="688.5" r="3.0"/><circle cx="1035.0" cy="635.2" r="3.0"/><circle cx="1016.4" cy="762.8" r="3.0"/><circle cx="953.1" cy="762.3" r="3.0"/><circle cx="953.6" cy="759.8" r="3.0"/><circle cx="950.1" cy="714.0" r="3.0"/><circle cx="1000.7" cy="642.7" r="3.0"/><circle cx="967.7" cy="727.8" r="3.0"/><circle cx="914.9" cy="739.2" r="3.0"/><circle cx="910.3" cy="769.8" r="3.0"/><circle cx="1015.7" cy="708.2" r="3.0"/><circle cx="992.9" cy="725.6" r="3.0"/><circle cx="1015.9" cy="634.9" r="3.0"/><circle cx="985.5" cy="652.1" r="3.0"/><circle cx="966.9" cy="782.5" r="3.0"/><circle cx="946.0" cy="682.9" r="3.0"/><circle cx="972.5" cy="736.4" r="3.0"/><circle cx="1035.0" cy="730.2" r="3.0"/><circle cx="998.9" cy="745.4" r="3.0"/><circle cx="905.5" cy="710.8" r="3.0"/><circle cx="1034.5" cy="733.1" r="3.0"/><circle cx="958.9" cy="757.1" r="3.0"/><circle cx="1051.3" cy="660.5" r="3.0"/><circle cx="936.2" cy="757.7" r="3.0"/><circle cx="1023.6" cy="693.5" r="3.0"/><circle cx="995.9" cy="685.4" r="3.0"/><circle cx="960.9" cy="693.9" r="3.0"/><circle cx="1025.1" cy="735.0" r="3.0"/><circle cx="1011.3" cy="667.3" r="3.0"/><circle cx="912.1" cy="741.9" r="3.0"/><circle cx="969.6" cy="675.0" r="3.0"/><circle cx="1028.2" cy="728.0" r="3.0"/><circle cx="1034.3" cy="722.3" r="3.0"/><circle cx="935.7" cy="737.7" r="3.0"/><circle cx="1015.2" cy="677.3" r="3.0"/><circle cx="1039.5" cy="668.8" r="3.0"/><circle cx="916.2" cy="742.4" r="3.0"/><circle cx="980.1" cy="777.6" r="3.0"/><circle cx="941.8" cy="757.3" r="3.0"/><circle cx="949.5" cy="680.0" r="3.0"/><circle cx="1043.7" cy="722.8" r="3.0"/><circle cx="961.6" cy="765.9" r="3.0"/><circle cx="999.8" cy="703.9" r="3.0"/><circle cx="1011.4" cy="756.5" r="3.0"/><circle cx="1011.4" cy="651.7" r="3.0"/><circle cx="1018.1" cy="661.6" r="3.0"/><circle cx="959.5" cy="705.7" r="3.0"/><circle cx="913.3" cy="726.9" r="3.0"/><circle cx="976.0" cy="759.3" r="3.0"/><circle cx="1032.7" cy="722.3" r="3.0"/><circle cx="1007.8" cy="637.1" r="3.0"/><circle cx="909.9" cy="719.1" r="3.0"/><circle cx="1043.9" cy="678.0" r="3.0"/><circle cx="992.3" cy="764.6" r="3.0"/><circle cx="936.8" cy="723.2" r="3.0"/><circle cx="1063.7" cy="665.7" r="3.0"/><circle cx="982.6" cy="752.6" r="3.0"/><circle cx="975.8" cy="643.6" r="3.0"/><circle cx="978.3" cy="676.1" r="3.0"/><circle cx="918.4" cy="729.5" r="3.0"/><circle cx="979.7" cy="781.7" r="3.0"/><circle cx="985.6" cy="717.9" r="3.0"/><circle cx="986.6" cy="733.4" r="3.0"/><circle cx="977.9" cy="732.5" r="3.0"/><circle cx="1030.4" cy="667.8" r="3.0"/><circle cx="926.9" cy="753.1" r="3.0"/><circle cx="1015.8" cy="737.7" r="3.0"/><circle cx="1027.0" cy="656.0" r="3.0"/><circle cx="938.9" cy="755.0" r="3.0"/><circle cx="1024.5" cy="644.0" r="3.0"/><circle cx="951.0" cy="781.5" r="3.0"/><circle cx="995.3" cy="712.2" r="3.0"/><circle cx="942.1" cy="770.7" r="3.0"/><circle cx="999.1" cy="670.5" r="3.0"/><circle cx="949.8" cy="776.7" r="3.0"/><circle cx="992.9" cy="725.8" r="3.0"/><circle cx="1021.7" cy="633.3" r="3.0"/><circle cx="997.4" cy="751.4" r="3.0"/><circle cx="1061.5" cy="690.0" r="3.0"/><circle cx="977.9" cy="672.0" r="3.0"/><circle cx="1016.1" cy="682.5" r="3.0"/><circle cx="975.7" cy="690.4" r="3.0"/><circle cx="1027.5" cy="711.9" r="3.0"/><circle cx="959.8" cy="765.9" r="3.0"/><circle cx="1013.5" cy="768.7" r="3.0"/><circle cx="1019.1" cy="741.2" r="3.0"/><circle cx="989.0" cy="735.6" r="3.0"/><circle cx="1043.8" cy="717.9" r="3.0"/><circle cx="950.7" cy="757.0" r="3.0"/><circle cx="1041.4" cy="682.4" r="3.0"/><circle cx="933.6" cy="783.5" r="3.0"/><circle cx="963.5" cy="737.5" r="3.0"/><circle cx="969.5" cy="748.5" r="3.0"/><circle cx="926.3" cy="730.3" r="3.0"/><circle cx="1032.6" cy="717.3" r="3.0"/><circle cx="1036.4" cy="699.7" r="3.0"/><circle cx="1054.6" cy="674.5" r="3.0"/><circle cx="1004.1" cy="762.4" r="3.0"/><circle cx="963.4" cy="679.6" r="3.0"/><circle cx="1025.1" cy="754.9" r="3.0"/><circle cx="1050.5" cy="689.3" r="3.0"/><circle cx="951.6" cy="705.7" r="3.0"/><circle cx="995.9" cy="733.3" r="3.0"/><circle cx="1036.4" cy="726.3" r="3.0"/><circle cx="936.6" cy="749.9" r="3.0"/><circle cx="1027.2" cy="760.2" r="3.0"/><circle cx="1040.5" cy="687.2" r="3.0"/><circle cx="1014.9" cy="627.9" r="3.0"/><circle cx="952.8" cy="698.3" r="3.0"/><circle cx="1020.2" cy="634.8" r="3.0"/><circle cx="949.1" cy="732.5" r="3.0"/><circle cx="1000.2" cy="715.3" r="3.0"/><circle cx="1054.5" cy="702.1" r="3.0"/><circle cx="942.9" cy="700.2" r="3.0"/><circle cx="913.0" cy="716.7" r="3.0"/><circle cx="941.1" cy="710.3" r="3.0"/><circle cx="942.0" cy="726.3" r="3.0"/><circle cx="975.8" cy="754.3" r="3.0"/><circle cx="934.6" cy="779.7" r="3.0"/><circle cx="1019.6" cy="725.6" r="3.0"/><circle cx="991.0" cy="729.8" r="3.0"/><circle cx="977.4" cy="655.5" r="3.0"/><circle cx="955.1" cy="741.3" r="3.0"/><circle cx="1028.7" cy="658.5" r="3.0"/><circle cx="982.9" cy="696.7" r="3.0"/><circle cx="974.1" cy="737.0" r="3.0"/><circle cx="986.8" cy="687.7" r="3.0"/><circle cx="1020.9" cy="663.2" r="3.0"/><circle cx="1014.3" cy="691.8" r="3.0"/><circle cx="931.5" cy="769.3" r="3.0"/><circle cx="969.9" cy="678.9" r="3.0"/><circle cx="960.1" cy="735.2" r="3.0"/><circle cx="1043.2" cy="670.4" r="3.0"/><circle cx="900.6" cy="720.0" r="3.0"/><circle cx="956.5" cy="783.9" r="3.0"/><circle cx="941.8" cy="734.3" r="3.0"/><circle cx="1019.0" cy="701.6" r="3.0"/><circle cx="1026.7" cy="760.8" r="3.0"/><circle cx="914.4" cy="756.8" r="3.0"/><circle cx="995.4" cy="721.1" r="3.0"/><circle cx="909.9" cy="715.0" r="3.0"/><circle cx="1054.0" cy="665.4" r="3.0"/><circle cx="927.3" cy="763.8" r="3.0"/><circle cx="985.6" cy="766.8" r="3.0"/><circle cx="923.1" cy="770.9" r="3.0"/><circle cx="975.6" cy="645.2" r="3.0"/><circle cx="977.2" cy="639.2" r="3.0"/><circle cx="980.4" cy="636.1" r="3.0"/><circle cx="985.2" cy="632.3" r="3.0"/><circle cx="992.2" cy="628.2" r="3.0"/><circle cx="996.0" cy="625.9" r="3.0"/><circle cx="1002.7" cy="624.1" r="3.0"/><circle cx="1007.7" cy="624.9" r="3.0"/><circle cx="1011.7" cy="627.5" r="3.0"/><circle cx="1019.1" cy="631.5" r="3.0"/><circle cx="1025.0" cy="633.7" r="3.0"/><circle cx="1031.3" cy="633.7" r="3.0"/><circle cx="1036.5" cy="633.8" r="3.0"/><circle cx="1042.1" cy="638.6" r="3.0"/><circle cx="1047.5" cy="642.8" r="3.0"/><circle cx="1051.2" cy="644.4" r="3.0"/><circle cx="1054.7" cy="645.6" r="3.0"/><circle cx="1060.8" cy="648.3" r="3.0"/><circle cx="1063.0" cy="655.2" r="3.0"/><circle cx="1064.7" cy="662.0" r="3.0"/><circle cx="1064.3" cy="667.6" r="3.0"/><circle cx="1064.1" cy="674.4" r="3.0"/><circle cx="1066.2" cy="676.5" r="3.0"/><circle cx="1066.4" cy="683.8" r="3.0"/><circle cx="1062.6" cy="689.4" r="3.0"/><circle cx="1062.1" cy="695.4" r="3.0"/><circle cx="1060.3" cy="701.4" r="3.0"/><circle cx="1059.2" cy="709.2" r="3.0"/><circle cx="1057.4" cy="716.2" r="3.0"/><circle cx="1056.6" cy="720.1" r="3.0"/><circle cx="1055.0" cy="725.8" r="3.0"/><circle cx="1050.1" cy="732.9" r="3.0"/><circle cx="1049.4" cy="737.5" r="3.0"/><circle cx="1045.2" cy="741.1" r="3.0"/><circle cx="1043.5" cy="744.4" r="3.0"/><circle cx="1040.0" cy="748.0" r="3.0"/><circle cx="1036.4" cy="755.3" r="3.0"/><circle cx="1031.6" cy="760.2" r="3.0"/><circle cx="1026.6" cy="763.3" r="3.0"/><circle cx="1017.3" cy="767.2" r="3.0"/><circle cx="1012.2" cy="770.0" r="3.0"/><circle cx="1009.0" cy="771.7" r="3.0"/><circle cx="1001.9" cy="771.9" r="3.0"/><circle cx="994.6" cy="775.2" r="3.0"/><circle cx="988.1" cy="776.8" r="3.0"/><circle cx="985.2" cy="780.3" r="3.0"/><circle cx="978.6" cy="782.2" r="3.0"/><circle cx="973.5" cy="782.6" r="3.0"/><circle cx="970.0" cy="783.1" r="3.0"/><circle cx="965.4" cy="783.7" r="3.0"/><circle cx="957.9" cy="783.8" r="3.0"/><circle cx="951.7" cy="785.1" r="3.0"/><circle cx="943.1" cy="785.6" r="3.0"/><circle cx="941.3" cy="787.4" r="3.0"/><circle cx="934.0" cy="786.6" r="3.0"/><circle cx="928.8" cy="785.7" r="3.0"/><circle cx="924.0" cy="786.2" r="3.0"/><circle cx="916.9" cy="786.0" r="3.0"/><circle cx="912.4" cy="784.8" r="3.0"/><circle cx="913.1" cy="782.1" r="3.0"/><circle cx="910.7" cy="774.9" r="3.0"/><circle cx="909.5" cy="769.0" r="3.0"/><circle cx="908.4" cy="765.2" r="3.0"/><circle cx="912.6" cy="761.1" r="3.0"/><circle cx="914.4" cy="758.2" r="3.0"/><circle cx="911.8" cy="750.8" r="3.0"/><circle cx="910.1" cy="746.6" r="3.0"/><circle cx="906.3" cy="737.2" r="3.0"/><circle cx="905.1" cy="733.7" r="3.0"/><circle cx="903.0" cy="727.1" r="3.0"/><circle cx="898.8" cy="721.3" r="3.0"/><circle cx="897.6" cy="715.2" r="3.0"/><circle cx="896.3" cy="710.5" r="3.0"/><circle cx="895.8" cy="706.3" r="3.0"/><circle cx="900.6" cy="706.7" r="3.0"/><circle cx="903.9" cy="705.4" r="3.0"/><circle cx="910.3" cy="704.8" r="3.0"/><circle cx="915.5" cy="704.9" r="3.0"/><circle cx="922.0" cy="703.2" r="3.0"/><circle cx="925.4" cy="701.1" r="3.0"/><circle cx="927.1" cy="697.0" r="3.0"/><circle cx="931.6" cy="692.4" r="3.0"/><circle cx="940.0" cy="686.3" r="3.0"/><circle cx="943.3" cy="682.9" r="3.0"/><circle cx="949.7" cy="677.2" r="3.0"/><circle cx="953.2" cy="671.7" r="3.0"/><circle cx="957.9" cy="668.8" r="3.0"/><circle cx="963.5" cy="667.4" r="3.0"/><circle cx="967.8" cy="664.7" r="3.0"/><circle cx="971.6" cy="659.9" r="3.0"/><circle cx="972.6" cy="653.7" r="3.0"/><circle cx="972.1" cy="649.1" r="3.0"/><circle cx="962.0" cy="644.4" r="3.0"/><circle cx="971.0" cy="658.0" r="3.0"/><circle cx="947.0" cy="661.0" r="3.0"/><circle cx="937.0" cy="667.0" r="3.0"/><circle cx="957.0" cy="665.0" r="3.0"/><circle cx="943.0" cy="675.0" r="3.0"/><circle cx="912.4" cy="679.0" r="3.0"/><circle cx="966.0" cy="638.0" r="3.0"/><circle cx="980.0" cy="628.0" r="3.0"/><circle cx="985.0" cy="628.0" r="3.0"/><circle cx="1000.0" cy="623.0" r="3.0"/><circle cx="1009.0" cy="625.0" r="3.0"/><circle cx="1014.0" cy="627.0" r="3.0"/><circle cx="1036.0" cy="634.0" r="3.0"/><circle cx="1048.0" cy="643.0" r="3.0"/><circle cx="1060.0" cy="650.0" r="3.0"/><circle cx="1064.0" cy="664.0" r="3.0"/><circle cx="1064.0" cy="682.0" r="3.0"/><circle cx="1032.0" cy="763.0" r="3.0"/><circle cx="1007.0" cy="775.6" r="3.0"/><circle cx="986.0" cy="630.0" r="3.0"/><circle cx="1050.0" cy="732.0" r="3.0"/><circle cx="1044.0" cy="743.0" r="3.0"/><circle cx="1034.0" cy="754.0" r="3.0"/><circle cx="896.0" cy="705.0" r="3.0"/><circle cx="900.0" cy="724.0" r="3.0"/><circle cx="914.0" cy="752.0" r="3.0"/><circle cx="617.1" cy="678.7" r="3.0"/><circle cx="620.2" cy="662.5" r="3.0"/><circle cx="613.2" cy="683.3" r="3.0"/><circle cx="638.7" cy="690.7" r="3.0"/><circle cx="596.5" cy="681.7" r="3.0"/><circle cx="625.5" cy="657.9" r="3.0"/><circle cx="624.1" cy="658.7" r="3.0"/><circle cx="620.7" cy="655.4" r="3.0"/><circle cx="643.6" cy="703.8" r="3.0"/><circle cx="619.7" cy="654.2" r="3.0"/><circle cx="621.8" cy="656.4" r="3.0"/><circle cx="627.2" cy="659.9" r="3.0"/><circle cx="635.5" cy="693.4" r="3.0"/><circle cx="635.6" cy="705.2" r="3.0"/><circle cx="615.0" cy="667.6" r="3.0"/><circle cx="629.0" cy="692.7" r="3.0"/><circle cx="601.9" cy="680.3" r="3.0"/><circle cx="636.8" cy="707.8" r="3.0"/><circle cx="604.5" cy="665.3" r="3.0"/><circle cx="616.7" cy="653.9" r="3.0"/><circle cx="597.9" cy="669.7" r="3.0"/><circle cx="597.1" cy="684.2" r="3.0"/><circle cx="593.1" cy="676.2" r="3.0"/><circle cx="613.2" cy="664.2" r="3.0"/><circle cx="622.1" cy="690.2" r="3.0"/><circle cx="595.6" cy="668.3" r="3.0"/><circle cx="615.2" cy="677.8" r="3.0"/><circle cx="619.0" cy="690.6" r="3.0"/><circle cx="616.1" cy="674.1" r="3.0"/><circle cx="600.4" cy="669.7" r="3.0"/><circle cx="603.4" cy="671.4" r="3.0"/><circle cx="627.9" cy="674.7" r="3.0"/><circle cx="603.2" cy="692.6" r="3.0"/><circle cx="600.4" cy="679.9" r="3.0"/><circle cx="592.2" cy="676.7" r="3.0"/><circle cx="618.4" cy="695.0" r="3.0"/><circle cx="600.9" cy="692.5" r="3.0"/><circle cx="594.5" cy="677.2" r="3.0"/><circle cx="614.4" cy="667.6" r="3.0"/><circle cx="618.0" cy="665.2" r="3.0"/><circle cx="630.9" cy="687.1" r="3.0"/><circle cx="607.4" cy="686.3" r="3.0"/><circle cx="638.2" cy="694.5" r="3.0"/><circle cx="642.2" cy="704.1" r="3.0"/><circle cx="631.2" cy="701.2" r="3.0"/><circle cx="597.1" cy="675.6" r="3.0"/><circle cx="599.0" cy="662.5" r="3.0"/><circle cx="600.5" cy="698.6" r="3.0"/><circle cx="624.1" cy="701.1" r="3.0"/><circle cx="611.9" cy="662.6" r="3.0"/><circle cx="601.1" cy="696.9" r="3.0"/><circle cx="608.6" cy="669.9" r="3.0"/><circle cx="595.6" cy="676.0" r="3.0"/><circle cx="604.2" cy="694.4" r="3.0"/><circle cx="622.9" cy="672.9" r="3.0"/><circle cx="634.0" cy="702.7" r="3.0"/><circle cx="614.2" cy="689.0" r="3.0"/><circle cx="612.5" cy="649.6" r="3.0"/><circle cx="597.5" cy="669.3" r="3.0"/><circle cx="598.6" cy="677.6" r="3.0"/><circle cx="622.9" cy="670.0" r="3.0"/><circle cx="629.4" cy="663.5" r="3.0"/><circle cx="606.4" cy="685.0" r="3.0"/><circle cx="619.6" cy="700.6" r="3.0"/><circle cx="615.3" cy="648.7" r="3.0"/><circle cx="611.5" cy="651.7" r="3.0"/><circle cx="620.7" cy="647.0" r="3.0"/><circle cx="617.7" cy="647.9" r="3.0"/><circle cx="597.8" cy="674.9" r="3.0"/><circle cx="607.3" cy="674.4" r="3.0"/><circle cx="604.1" cy="689.2" r="3.0"/><circle cx="617.9" cy="656.6" r="3.0"/><circle cx="637.0" cy="707.0" r="3.0"/><circle cx="629.5" cy="671.6" r="3.0"/><circle cx="616.4" cy="700.1" r="3.0"/><circle cx="621.3" cy="695.6" r="3.0"/><circle cx="600.9" cy="680.1" r="3.0"/><circle cx="614.2" cy="680.5" r="3.0"/><circle cx="646.8" cy="706.7" r="3.0"/><circle cx="600.3" cy="646.5" r="3.0"/><circle cx="613.4" cy="658.3" r="3.0"/><circle cx="610.1" cy="665.7" r="3.0"/><circle cx="599.7" cy="682.3" r="3.0"/><circle cx="618.2" cy="647.9" r="3.0"/><circle cx="617.2" cy="662.3" r="3.0"/><circle cx="604.8" cy="702.3" r="3.0"/><circle cx="607.7" cy="663.8" r="3.0"/><circle cx="642.2" cy="700.3" r="3.0"/><circle cx="643.9" cy="704.0" r="3.0"/><circle cx="629.7" cy="681.8" r="3.0"/><circle cx="609.4" cy="659.2" r="3.0"/><circle cx="632.2" cy="694.2" r="3.0"/><circle cx="598.5" cy="664.6" r="3.0"/><circle cx="608.8" cy="661.5" r="3.0"/><circle cx="609.5" cy="695.4" r="3.0"/><circle cx="594.1" cy="671.5" r="3.0"/><circle cx="630.8" cy="694.6" r="3.0"/><circle cx="626.1" cy="670.1" r="3.0"/><circle cx="619.9" cy="702.2" r="3.0"/><circle cx="613.0" cy="676.8" r="3.0"/><circle cx="597.6" cy="683.6" r="3.0"/><circle cx="642.7" cy="707.9" r="3.0"/><circle cx="617.1" cy="674.3" r="3.0"/><circle cx="624.4" cy="654.6" r="3.0"/><circle cx="629.1" cy="676.0" r="3.0"/><circle cx="612.3" cy="664.5" r="3.0"/><circle cx="613.6" cy="676.5" r="3.0"/><circle cx="601.9" cy="674.9" r="3.0"/><circle cx="623.8" cy="680.1" r="3.0"/><circle cx="627.3" cy="687.4" r="3.0"/><circle cx="608.4" cy="660.9" r="3.0"/><circle cx="626.7" cy="701.7" r="3.0"/><circle cx="611.2" cy="694.7" r="3.0"/><circle cx="621.4" cy="702.2" r="3.0"/><circle cx="632.4" cy="701.9" r="3.0"/><circle cx="623.5" cy="656.4" r="3.0"/><circle cx="596.4" cy="664.2" r="3.0"/><circle cx="630.7" cy="688.7" r="3.0"/><circle cx="599.2" cy="666.1" r="3.0"/><circle cx="637.4" cy="709.0" r="3.0"/><circle cx="637.8" cy="696.8" r="3.0"/><circle cx="608.2" cy="696.4" r="3.0"/><circle cx="630.2" cy="665.1" r="3.0"/><circle cx="630.0" cy="695.0" r="3.0"/><circle cx="619.6" cy="678.5" r="3.0"/><circle cx="601.7" cy="647.9" r="3.0"/><circle cx="621.4" cy="681.8" r="3.0"/><circle cx="631.8" cy="658.3" r="3.0"/><circle cx="625.4" cy="665.7" r="3.0"/><circle cx="623.0" cy="705.8" r="3.0"/><circle cx="599.8" cy="657.3" r="3.0"/><circle cx="630.6" cy="689.8" r="3.0"/><circle cx="618.5" cy="692.7" r="3.0"/><circle cx="620.8" cy="656.6" r="3.0"/><circle cx="607.9" cy="663.7" r="3.0"/><circle cx="611.3" cy="653.1" r="3.0"/><circle cx="601.2" cy="650.8" r="3.0"/><circle cx="617.6" cy="647.6" r="3.0"/><circle cx="615.7" cy="652.3" r="3.0"/><circle cx="617.6" cy="651.7" r="3.0"/><circle cx="592.7" cy="676.5" r="3.0"/><circle cx="637.6" cy="693.3" r="3.0"/><circle cx="598.3" cy="663.2" r="3.0"/><circle cx="622.7" cy="691.3" r="3.0"/><circle cx="623.2" cy="700.7" r="3.0"/><circle cx="604.8" cy="688.8" r="3.0"/><circle cx="601.2" cy="675.3" r="3.0"/><circle cx="603.2" cy="650.0" r="3.0"/><circle cx="627.8" cy="652.8" r="3.0"/><circle cx="595.8" cy="674.4" r="3.0"/><circle cx="635.4" cy="693.1" r="3.0"/><circle cx="608.3" cy="664.4" r="3.0"/><circle cx="621.5" cy="678.7" r="3.0"/><circle cx="636.6" cy="691.7" r="3.0"/><circle cx="594.9" cy="679.6" r="3.0"/><circle cx="600.5" cy="649.7" r="3.0"/><circle cx="619.8" cy="675.6" r="3.0"/><circle cx="615.7" cy="691.1" r="3.0"/><circle cx="622.5" cy="670.8" r="3.0"/><circle cx="620.5" cy="647.5" r="3.0"/><circle cx="622.9" cy="689.3" r="3.0"/><circle cx="619.2" cy="683.1" r="3.0"/><circle cx="601.3" cy="665.4" r="3.0"/><circle cx="600.0" cy="683.5" r="3.0"/><circle cx="605.4" cy="645.2" r="3.0"/><circle cx="632.4" cy="693.6" r="3.0"/><circle cx="603.9" cy="691.0" r="3.0"/><circle cx="598.2" cy="645.6" r="3.0"/><circle cx="607.0" cy="644.7" r="3.0"/><circle cx="612.7" cy="644.8" r="3.0"/><circle cx="618.7" cy="643.8" r="3.0"/><circle cx="626.3" cy="648.8" r="3.0"/><circle cx="628.7" cy="652.7" r="3.0"/><circle cx="633.9" cy="657.0" r="3.0"/><circle cx="633.4" cy="661.7" r="3.0"/><circle cx="631.1" cy="672.5" r="3.0"/><circle cx="631.5" cy="680.1" r="3.0"/><circle cx="634.4" cy="687.5" r="3.0"/><circle cx="641.2" cy="692.2" r="3.0"/><circle cx="641.2" cy="696.1" r="3.0"/><circle cx="646.2" cy="703.0" r="3.0"/><circle cx="646.8" cy="708.0" r="3.0"/><circle cx="639.2" cy="709.6" r="3.0"/><circle cx="636.2" cy="707.7" r="3.0"/><circle cx="627.4" cy="707.1" r="3.0"/><circle cx="620.8" cy="706.1" r="3.0"/><circle cx="612.3" cy="705.0" r="3.0"/><circle cx="603.6" cy="705.4" r="3.0"/><circle cx="599.6" cy="701.3" r="3.0"/><circle cx="598.5" cy="697.4" r="3.0"/><circle cx="601.6" cy="692.6" r="3.0"/><circle cx="596.8" cy="687.7" r="3.0"/><circle cx="593.1" cy="680.0" r="3.0"/><circle cx="591.4" cy="676.1" r="3.0"/><circle cx="593.5" cy="672.3" r="3.0"/><circle cx="593.0" cy="665.9" r="3.0"/><circle cx="599.2" cy="659.4" r="3.0"/><circle cx="598.8" cy="652.7" r="3.0"/><circle cx="640.9" cy="658.7" r="3.0"/><circle cx="646.9" cy="665.8" r="3.0"/><circle cx="640.6" cy="680.6" r="3.0"/><circle cx="647.2" cy="671.6" r="3.0"/><circle cx="648.4" cy="667.9" r="3.0"/><circle cx="637.9" cy="666.4" r="3.0"/><circle cx="636.0" cy="677.7" r="3.0"/><circle cx="637.7" cy="660.2" r="3.0"/><circle cx="641.7" cy="667.3" r="3.0"/><circle cx="656.0" cy="692.3" r="3.0"/><circle cx="644.8" cy="659.7" r="3.0"/><circle cx="639.2" cy="668.6" r="3.0"/><circle cx="646.5" cy="668.8" r="3.0"/><circle cx="649.9" cy="672.7" r="3.0"/><circle cx="641.6" cy="670.0" r="3.0"/><circle cx="645.0" cy="666.9" r="3.0"/><circle cx="642.9" cy="673.2" r="3.0"/><circle cx="656.2" cy="686.5" r="3.0"/><circle cx="641.9" cy="678.7" r="3.0"/><circle cx="650.8" cy="668.8" r="3.0"/><circle cx="642.0" cy="686.0" r="3.0"/><circle cx="641.1" cy="675.5" r="3.0"/><circle cx="641.5" cy="667.8" r="3.0"/><circle cx="648.2" cy="688.1" r="3.0"/><circle cx="636.9" cy="662.2" r="3.0"/><circle cx="639.8" cy="671.6" r="3.0"/><circle cx="647.2" cy="659.8" r="3.0"/><circle cx="641.6" cy="662.1" r="3.0"/><circle cx="640.6" cy="660.9" r="3.0"/><circle cx="651.1" cy="685.3" r="3.0"/><circle cx="650.0" cy="659.8" r="3.0"/><circle cx="655.3" cy="682.9" r="3.0"/><circle cx="648.5" cy="665.5" r="3.0"/><circle cx="649.4" cy="657.2" r="3.0"/><circle cx="644.7" cy="677.0" r="3.0"/><circle cx="638.8" cy="681.5" r="3.0"/><circle cx="646.6" cy="681.1" r="3.0"/><circle cx="641.6" cy="684.7" r="3.0"/><circle cx="638.7" cy="668.5" r="3.0"/><circle cx="649.2" cy="687.1" r="3.0"/><circle cx="652.9" cy="686.6" r="3.0"/><circle cx="636.4" cy="658.5" r="3.0"/><circle cx="642.3" cy="654.0" r="3.0"/><circle cx="649.5" cy="657.6" r="3.0"/><circle cx="651.6" cy="660.2" r="3.0"/><circle cx="649.5" cy="668.2" r="3.0"/><circle cx="650.2" cy="674.0" r="3.0"/><circle cx="651.8" cy="679.8" r="3.0"/><circle cx="658.6" cy="683.5" r="3.0"/><circle cx="658.3" cy="688.7" r="3.0"/><circle cx="653.6" cy="692.9" r="3.0"/><circle cx="649.7" cy="689.9" r="3.0"/><circle cx="644.7" cy="688.2" r="3.0"/><circle cx="636.8" cy="681.0" r="3.0"/><circle cx="633.9" cy="673.9" r="3.0"/><circle cx="636.0" cy="669.4" r="3.0"/><circle cx="635.2" cy="663.2" r="3.0"/><circle cx="675.1" cy="719.3" r="3.0"/><circle cx="671.9" cy="710.7" r="3.0"/><circle cx="679.3" cy="714.4" r="3.0"/><circle cx="669.6" cy="710.8" r="3.0"/><circle cx="672.4" cy="719.8" r="3.0"/><circle cx="676.8" cy="723.9" r="3.0"/><circle cx="679.6" cy="724.6" r="3.0"/><circle cx="673.7" cy="705.5" r="3.0"/><circle cx="673.9" cy="719.2" r="3.0"/><circle cx="671.6" cy="704.7" r="3.0"/><circle cx="672.0" cy="719.9" r="3.0"/><circle cx="675.2" cy="731.4" r="3.0"/><circle cx="669.8" cy="719.9" r="3.0"/><circle cx="667.8" cy="695.7" r="3.0"/><circle cx="673.7" cy="721.1" r="3.0"/><circle cx="671.9" cy="720.4" r="3.0"/><circle cx="673.4" cy="720.0" r="3.0"/><circle cx="674.9" cy="709.8" r="3.0"/><circle cx="674.1" cy="710.4" r="3.0"/><circle cx="676.6" cy="715.6" r="3.0"/><circle cx="676.5" cy="711.5" r="3.0"/><circle cx="671.0" cy="704.6" r="3.0"/><circle cx="675.6" cy="715.3" r="3.0"/><circle cx="668.3" cy="704.4" r="3.0"/><circle cx="665.3" cy="694.2" r="3.0"/><circle cx="668.5" cy="694.5" r="3.0"/><circle cx="670.0" cy="699.2" r="3.0"/><circle cx="673.1" cy="704.1" r="3.0"/><circle cx="676.3" cy="709.7" r="3.0"/><circle cx="679.0" cy="715.6" r="3.0"/><circle cx="680.4" cy="719.7" r="3.0"/><circle cx="681.1" cy="728.5" r="3.0"/><circle cx="680.2" cy="732.0" r="3.0"/><circle cx="679.9" cy="735.4" r="3.0"/><circle cx="674.8" cy="734.5" r="3.0"/><circle cx="670.6" cy="727.5" r="3.0"/><circle cx="669.7" cy="721.2" r="3.0"/><circle cx="669.9" cy="716.5" r="3.0"/><circle cx="669.3" cy="711.4" r="3.0"/><circle cx="665.9" cy="703.3" r="3.0"/><circle cx="664.8" cy="698.9" r="3.0"/><circle cx="651.0" cy="708.0" r="3.0"/><circle cx="651.0" cy="711.0" r="3.0"/><circle cx="657.0" cy="706.0" r="3.0"/><circle cx="659.0" cy="713.0" r="3.0"/><circle cx="665.0" cy="716.0" r="3.0"/><circle cx="596.0" cy="719.0" r="3.0"/><circle cx="596.0" cy="722.0" r="3.0"/><circle cx="586.0" cy="739.0" r="3.0"/><circle cx="582.0" cy="745.0" r="3.0"/><circle cx="382.5" cy="849.2" r="3.0"/><circle cx="334.9" cy="827.0" r="3.0"/><circle cx="427.6" cy="832.2" r="3.0"/><circle cx="411.2" cy="820.0" r="3.0"/><circle cx="461.8" cy="847.9" r="3.0"/><circle cx="440.9" cy="849.1" r="3.0"/><circle cx="395.3" cy="811.0" r="3.0"/><circle cx="468.0" cy="862.3" r="3.0"/><circle cx="457.0" cy="857.1" r="3.0"/><circle cx="310.8" cy="793.2" r="3.0"/><circle cx="363.6" cy="835.8" r="3.0"/><circle cx="337.2" cy="747.9" r="3.0"/><circle cx="358.5" cy="783.1" r="3.0"/><circle cx="334.6" cy="800.6" r="3.0"/><circle cx="320.4" cy="795.6" r="3.0"/><circle cx="353.3" cy="854.9" r="3.0"/><circle cx="316.9" cy="799.8" r="3.0"/><circle cx="380.2" cy="855.6" r="3.0"/><circle cx="373.4" cy="785.4" r="3.0"/><circle cx="335.1" cy="736.0" r="3.0"/><circle cx="399.2" cy="820.8" r="3.0"/><circle cx="350.6" cy="756.4" r="3.0"/><circle cx="323.3" cy="817.5" r="3.0"/><circle cx="355.0" cy="754.2" r="3.0"/><circle cx="368.0" cy="789.1" r="3.0"/><circle cx="479.8" cy="859.7" r="3.0"/><circle cx="351.7" cy="825.0" r="3.0"/><circle cx="300.7" cy="855.5" r="3.0"/><circle cx="331.1" cy="726.7" r="3.0"/><circle cx="355.5" cy="831.6" r="3.0"/><circle cx="329.1" cy="733.7" r="3.0"/><circle cx="305.3" cy="847.3" r="3.0"/><circle cx="333.3" cy="784.4" r="3.0"/><circle cx="346.5" cy="842.6" r="3.0"/><circle cx="365.9" cy="780.0" r="3.0"/><circle cx="396.3" cy="827.1" r="3.0"/><circle cx="402.0" cy="821.3" r="3.0"/><circle cx="337.0" cy="786.4" r="3.0"/><circle cx="315.8" cy="802.5" r="3.0"/><circle cx="309.1" cy="845.7" r="3.0"/><circle cx="357.9" cy="727.4" r="3.0"/><circle cx="310.7" cy="840.9" r="3.0"/><circle cx="379.6" cy="817.6" r="3.0"/><circle cx="354.5" cy="741.9" r="3.0"/><circle cx="363.4" cy="816.5" r="3.0"/><circle cx="401.8" cy="843.5" r="3.0"/><circle cx="320.6" cy="744.7" r="3.0"/><circle cx="357.0" cy="834.9" r="3.0"/><circle cx="383.9" cy="786.8" r="3.0"/><circle cx="323.2" cy="848.5" r="3.0"/><circle cx="410.8" cy="813.1" r="3.0"/><circle cx="308.6" cy="829.3" r="3.0"/><circle cx="351.9" cy="855.7" r="3.0"/><circle cx="347.6" cy="806.7" r="3.0"/><circle cx="358.1" cy="780.8" r="3.0"/><circle cx="386.0" cy="818.3" r="3.0"/><circle cx="475.8" cy="859.4" r="3.0"/><circle cx="336.7" cy="736.1" r="3.0"/><circle cx="388.6" cy="826.4" r="3.0"/><circle cx="331.2" cy="829.9" r="3.0"/><circle cx="360.6" cy="783.4" r="3.0"/><circle cx="301.4" cy="842.6" r="3.0"/><circle cx="313.5" cy="783.2" r="3.0"/><circle cx="324.5" cy="728.9" r="3.0"/><circle cx="374.2" cy="787.4" r="3.0"/><circle cx="403.6" cy="830.0" r="3.0"/><circle cx="317.4" cy="791.9" r="3.0"/><circle cx="330.5" cy="793.4" r="3.0"/><circle cx="333.9" cy="840.1" r="3.0"/><circle cx="367.2" cy="816.1" r="3.0"/><circle cx="338.1" cy="735.3" r="3.0"/><circle cx="373.1" cy="835.9" r="3.0"/><circle cx="411.3" cy="829.8" r="3.0"/><circle cx="357.1" cy="764.0" r="3.0"/><circle cx="403.5" cy="837.3" r="3.0"/><circle cx="310.8" cy="811.8" r="3.0"/><circle cx="328.4" cy="733.2" r="3.0"/><circle cx="321.5" cy="750.8" r="3.0"/><circle cx="362.6" cy="849.0" r="3.0"/><circle cx="455.4" cy="849.8" r="3.0"/><circle cx="451.6" cy="843.0" r="3.0"/><circle cx="366.2" cy="829.8" r="3.0"/><circle cx="355.2" cy="765.0" r="3.0"/><circle cx="367.5" cy="787.5" r="3.0"/><circle cx="326.8" cy="792.7" r="3.0"/><circle cx="340.0" cy="755.4" r="3.0"/><circle cx="410.9" cy="842.2" r="3.0"/><circle cx="353.4" cy="850.9" r="3.0"/><circle cx="307.4" cy="855.4" r="3.0"/><circle cx="323.8" cy="831.6" r="3.0"/><circle cx="338.9" cy="786.0" r="3.0"/><circle cx="372.4" cy="854.1" r="3.0"/><circle cx="360.4" cy="842.3" r="3.0"/><circle cx="467.0" cy="866.0" r="3.0"/><circle cx="318.2" cy="764.0" r="3.0"/><circle cx="296.0" cy="815.3" r="3.0"/><circle cx="455.9" cy="853.1" r="3.0"/><circle cx="331.4" cy="837.1" r="3.0"/><circle cx="318.8" cy="818.5" r="3.0"/><circle cx="315.3" cy="808.9" r="3.0"/><circle cx="360.9" cy="843.3" r="3.0"/><circle cx="366.5" cy="803.5" r="3.0"/><circle cx="501.6" cy="868.2" r="3.0"/><circle cx="323.3" cy="785.7" r="3.0"/><circle cx="314.8" cy="857.0" r="3.0"/><circle cx="494.0" cy="871.8" r="3.0"/><circle cx="363.3" cy="776.0" r="3.0"/><circle cx="352.4" cy="850.7" r="3.0"/><circle cx="356.3" cy="814.9" r="3.0"/><circle cx="381.8" cy="815.2" r="3.0"/><circle cx="335.0" cy="770.8" r="3.0"/><circle cx="320.1" cy="824.1" r="3.0"/><circle cx="348.6" cy="735.7" r="3.0"/><circle cx="321.9" cy="857.1" r="3.0"/><circle cx="378.2" cy="807.6" r="3.0"/><circle cx="501.6" cy="883.0" r="3.0"/><circle cx="322.9" cy="794.1" r="3.0"/><circle cx="346.2" cy="784.1" r="3.0"/><circle cx="308.5" cy="810.4" r="3.0"/><circle cx="337.4" cy="787.4" r="3.0"/><circle cx="366.2" cy="782.8" r="3.0"/><circle cx="330.4" cy="729.1" r="3.0"/><circle cx="372.9" cy="809.4" r="3.0"/><circle cx="340.6" cy="758.1" r="3.0"/><circle cx="501.1" cy="883.1" r="3.0"/><circle cx="380.5" cy="814.5" r="3.0"/><circle cx="383.1" cy="848.6" r="3.0"/><circle cx="364.9" cy="820.4" r="3.0"/><circle cx="464.4" cy="854.6" r="3.0"/><circle cx="398.6" cy="835.0" r="3.0"/><circle cx="352.4" cy="801.9" r="3.0"/><circle cx="414.0" cy="820.5" r="3.0"/><circle cx="296.2" cy="848.5" r="3.0"/><circle cx="453.9" cy="843.5" r="3.0"/><circle cx="306.8" cy="826.5" r="3.0"/><circle cx="363.4" cy="773.0" r="3.0"/><circle cx="333.0" cy="852.9" r="3.0"/><circle cx="371.2" cy="782.4" r="3.0"/><circle cx="363.3" cy="839.3" r="3.0"/><circle cx="365.5" cy="776.3" r="3.0"/><circle cx="506.7" cy="871.0" r="3.0"/><circle cx="414.7" cy="835.5" r="3.0"/><circle cx="326.8" cy="766.7" r="3.0"/><circle cx="374.8" cy="771.2" r="3.0"/><circle cx="411.6" cy="820.2" r="3.0"/><circle cx="364.8" cy="795.8" r="3.0"/><circle cx="331.6" cy="727.3" r="3.0"/><circle cx="445.2" cy="849.1" r="3.0"/><circle cx="391.6" cy="826.5" r="3.0"/><circle cx="428.7" cy="831.6" r="3.0"/><circle cx="333.6" cy="807.8" r="3.0"/><circle cx="334.4" cy="790.9" r="3.0"/><circle cx="372.4" cy="790.2" r="3.0"/><circle cx="355.3" cy="846.8" r="3.0"/><circle cx="308.2" cy="820.3" r="3.0"/><circle cx="395.7" cy="819.8" r="3.0"/><circle cx="422.3" cy="820.9" r="3.0"/><circle cx="343.5" cy="783.2" r="3.0"/><circle cx="450.2" cy="851.3" r="3.0"/><circle cx="376.5" cy="778.2" r="3.0"/><circle cx="363.4" cy="803.2" r="3.0"/><circle cx="357.5" cy="765.4" r="3.0"/><circle cx="388.9" cy="827.7" r="3.0"/><circle cx="296.5" cy="832.9" r="3.0"/><circle cx="318.9" cy="855.2" r="3.0"/><circle cx="324.1" cy="824.6" r="3.0"/><circle cx="357.6" cy="798.8" r="3.0"/><circle cx="350.6" cy="788.6" r="3.0"/><circle cx="360.8" cy="827.9" r="3.0"/><circle cx="481.3" cy="856.2" r="3.0"/><circle cx="484.2" cy="877.4" r="3.0"/><circle cx="355.8" cy="742.6" r="3.0"/><circle cx="339.0" cy="835.7" r="3.0"/><circle cx="344.2" cy="849.6" r="3.0"/><circle cx="319.0" cy="785.7" r="3.0"/><circle cx="412.2" cy="816.3" r="3.0"/><circle cx="410.6" cy="834.3" r="3.0"/><circle cx="505.2" cy="872.9" r="3.0"/><circle cx="332.6" cy="795.3" r="3.0"/><circle cx="488.4" cy="862.7" r="3.0"/><circle cx="337.4" cy="727.8" r="3.0"/><circle cx="410.0" cy="836.2" r="3.0"/><circle cx="370.8" cy="856.3" r="3.0"/><circle cx="486.9" cy="883.6" r="3.0"/><circle cx="379.3" cy="773.5" r="3.0"/><circle cx="364.8" cy="840.5" r="3.0"/><circle cx="351.2" cy="840.6" r="3.0"/><circle cx="379.2" cy="847.0" r="3.0"/><circle cx="321.6" cy="792.4" r="3.0"/><circle cx="293.4" cy="821.1" r="3.0"/><circle cx="321.6" cy="838.1" r="3.0"/><circle cx="392.4" cy="807.1" r="3.0"/><circle cx="375.3" cy="804.2" r="3.0"/><circle cx="452.9" cy="839.3" r="3.0"/><circle cx="426.6" cy="841.1" r="3.0"/><circle cx="348.8" cy="844.0" r="3.0"/><circle cx="405.0" cy="799.4" r="3.0"/><circle cx="366.5" cy="763.6" r="3.0"/><circle cx="343.1" cy="774.8" r="3.0"/><circle cx="340.7" cy="749.9" r="3.0"/><circle cx="357.2" cy="812.9" r="3.0"/><circle cx="314.9" cy="809.2" r="3.0"/><circle cx="345.2" cy="745.0" r="3.0"/><circle cx="340.2" cy="853.4" r="3.0"/><circle cx="329.3" cy="746.0" r="3.0"/><circle cx="319.5" cy="784.3" r="3.0"/><circle cx="393.7" cy="818.2" r="3.0"/><circle cx="333.6" cy="723.5" r="3.0"/><circle cx="350.1" cy="856.8" r="3.0"/><circle cx="399.5" cy="821.0" r="3.0"/><circle cx="391.0" cy="818.6" r="3.0"/><circle cx="291.9" cy="833.1" r="3.0"/><circle cx="365.7" cy="804.7" r="3.0"/><circle cx="319.0" cy="752.8" r="3.0"/><circle cx="501.5" cy="883.8" r="3.0"/><circle cx="333.4" cy="724.6" r="3.0"/><circle cx="307.3" cy="807.5" r="3.0"/><circle cx="499.2" cy="871.5" r="3.0"/><circle cx="401.1" cy="822.8" r="3.0"/><circle cx="486.1" cy="885.2" r="3.0"/><circle cx="440.4" cy="841.9" r="3.0"/><circle cx="380.8" cy="821.9" r="3.0"/><circle cx="408.9" cy="809.6" r="3.0"/><circle cx="340.1" cy="748.5" r="3.0"/><circle cx="371.8" cy="838.0" r="3.0"/><circle cx="424.4" cy="830.5" r="3.0"/><circle cx="336.0" cy="816.3" r="3.0"/><circle cx="295.8" cy="832.4" r="3.0"/><circle cx="487.9" cy="860.9" r="3.0"/><circle cx="445.0" cy="843.4" r="3.0"/><circle cx="464.3" cy="847.8" r="3.0"/><circle cx="512.6" cy="875.2" r="3.0"/><circle cx="381.1" cy="777.0" r="3.0"/><circle cx="367.5" cy="854.5" r="3.0"/><circle cx="368.0" cy="773.0" r="3.0"/><circle cx="342.4" cy="755.3" r="3.0"/><circle cx="349.1" cy="824.8" r="3.0"/><circle cx="350.6" cy="819.4" r="3.0"/><circle cx="351.3" cy="855.9" r="3.0"/><circle cx="372.2" cy="786.4" r="3.0"/><circle cx="473.2" cy="865.1" r="3.0"/><circle cx="372.5" cy="817.7" r="3.0"/><circle cx="487.5" cy="870.0" r="3.0"/><circle cx="371.9" cy="813.7" r="3.0"/><circle cx="349.4" cy="762.7" r="3.0"/><circle cx="485.1" cy="866.7" r="3.0"/><circle cx="352.3" cy="814.8" r="3.0"/><circle cx="371.9" cy="857.9" r="3.0"/><circle cx="501.2" cy="870.5" r="3.0"/><circle cx="345.8" cy="724.0" r="3.0"/><circle cx="333.9" cy="809.3" r="3.0"/><circle cx="368.5" cy="827.8" r="3.0"/><circle cx="364.3" cy="757.2" r="3.0"/><circle cx="402.0" cy="837.0" r="3.0"/><circle cx="324.8" cy="862.1" r="3.0"/><circle cx="326.6" cy="787.0" r="3.0"/><circle cx="349.9" cy="738.5" r="3.0"/><circle cx="315.7" cy="835.7" r="3.0"/><circle cx="354.6" cy="760.4" r="3.0"/><circle cx="373.8" cy="811.0" r="3.0"/><circle cx="320.7" cy="808.6" r="3.0"/><circle cx="398.3" cy="797.3" r="3.0"/><circle cx="386.9" cy="810.1" r="3.0"/><circle cx="321.0" cy="738.0" r="3.0"/><circle cx="322.2" cy="862.3" r="3.0"/><circle cx="338.6" cy="861.7" r="3.0"/><circle cx="488.1" cy="869.2" r="3.0"/><circle cx="290.8" cy="828.0" r="3.0"/><circle cx="344.5" cy="858.4" r="3.0"/><circle cx="317.5" cy="809.2" r="3.0"/><circle cx="382.0" cy="835.9" r="3.0"/><circle cx="332.7" cy="846.5" r="3.0"/><circle cx="316.7" cy="815.1" r="3.0"/><circle cx="340.2" cy="853.5" r="3.0"/><circle cx="370.8" cy="781.2" r="3.0"/><circle cx="373.4" cy="773.2" r="3.0"/><circle cx="296.5" cy="851.5" r="3.0"/><circle cx="461.8" cy="855.4" r="3.0"/><circle cx="373.5" cy="774.2" r="3.0"/><circle cx="389.3" cy="793.4" r="3.0"/><circle cx="317.6" cy="815.9" r="3.0"/><circle cx="304.5" cy="849.6" r="3.0"/><circle cx="436.3" cy="843.3" r="3.0"/><circle cx="487.2" cy="864.5" r="3.0"/><circle cx="339.4" cy="820.4" r="3.0"/><circle cx="307.8" cy="826.7" r="3.0"/><circle cx="365.4" cy="824.9" r="3.0"/><circle cx="299.5" cy="849.8" r="3.0"/><circle cx="322.7" cy="763.6" r="3.0"/><circle cx="468.9" cy="866.3" r="3.0"/><circle cx="358.7" cy="857.0" r="3.0"/><circle cx="399.0" cy="838.0" r="3.0"/><circle cx="324.0" cy="823.1" r="3.0"/><circle cx="334.3" cy="798.0" r="3.0"/><circle cx="349.8" cy="809.4" r="3.0"/><circle cx="358.7" cy="790.7" r="3.0"/><circle cx="349.7" cy="736.4" r="3.0"/><circle cx="297.8" cy="831.6" r="3.0"/><circle cx="463.9" cy="867.1" r="3.0"/><circle cx="381.0" cy="842.3" r="3.0"/><circle cx="386.4" cy="829.4" r="3.0"/><circle cx="351.3" cy="794.0" r="3.0"/><circle cx="407.5" cy="829.0" r="3.0"/><circle cx="367.4" cy="763.4" r="3.0"/><circle cx="347.8" cy="825.7" r="3.0"/><circle cx="369.4" cy="776.1" r="3.0"/><circle cx="328.4" cy="825.9" r="3.0"/><circle cx="374.0" cy="825.4" r="3.0"/><circle cx="322.1" cy="838.2" r="3.0"/><circle cx="416.1" cy="823.3" r="3.0"/><circle cx="346.4" cy="860.4" r="3.0"/><circle cx="376.4" cy="806.9" r="3.0"/><circle cx="481.8" cy="868.0" r="3.0"/><circle cx="378.6" cy="796.2" r="3.0"/><circle cx="373.4" cy="847.0" r="3.0"/><circle cx="475.2" cy="872.8" r="3.0"/><circle cx="372.7" cy="809.5" r="3.0"/><circle cx="478.9" cy="868.1" r="3.0"/><circle cx="354.3" cy="769.6" r="3.0"/><circle cx="367.6" cy="796.6" r="3.0"/><circle cx="321.8" cy="793.6" r="3.0"/><circle cx="377.1" cy="766.2" r="3.0"/><circle cx="345.7" cy="843.3" r="3.0"/><circle cx="346.3" cy="843.1" r="3.0"/><circle cx="322.7" cy="839.7" r="3.0"/><circle cx="342.3" cy="759.9" r="3.0"/><circle cx="359.3" cy="810.7" r="3.0"/><circle cx="405.9" cy="842.8" r="3.0"/><circle cx="380.5" cy="788.8" r="3.0"/><circle cx="461.5" cy="845.9" r="3.0"/><circle cx="383.3" cy="816.1" r="3.0"/><circle cx="343.2" cy="820.6" r="3.0"/><circle cx="354.7" cy="848.2" r="3.0"/><circle cx="347.6" cy="864.8" r="3.0"/><circle cx="330.8" cy="852.0" r="3.0"/><circle cx="337.3" cy="861.9" r="3.0"/><circle cx="318.9" cy="810.1" r="3.0"/><circle cx="319.1" cy="809.0" r="3.0"/><circle cx="431.7" cy="830.7" r="3.0"/><circle cx="357.0" cy="798.3" r="3.0"/><circle cx="353.9" cy="836.1" r="3.0"/><circle cx="468.4" cy="869.1" r="3.0"/><circle cx="315.2" cy="780.1" r="3.0"/><circle cx="348.0" cy="780.9" r="3.0"/><circle cx="372.6" cy="769.0" r="3.0"/><circle cx="360.2" cy="753.3" r="3.0"/><circle cx="338.2" cy="749.9" r="3.0"/><circle cx="330.1" cy="813.8" r="3.0"/><circle cx="301.5" cy="815.9" r="3.0"/><circle cx="427.9" cy="828.1" r="3.0"/><circle cx="293.3" cy="833.8" r="3.0"/><circle cx="353.2" cy="863.3" r="3.0"/><circle cx="372.8" cy="855.3" r="3.0"/><circle cx="345.7" cy="769.8" r="3.0"/><circle cx="309.0" cy="856.7" r="3.0"/><circle cx="370.0" cy="796.7" r="3.0"/><circle cx="312.0" cy="803.8" r="3.0"/><circle cx="386.4" cy="803.9" r="3.0"/><circle cx="364.9" cy="821.8" r="3.0"/><circle cx="324.7" cy="773.3" r="3.0"/><circle cx="370.7" cy="826.1" r="3.0"/><circle cx="292.3" cy="817.6" r="3.0"/><circle cx="395.4" cy="816.4" r="3.0"/><circle cx="332.1" cy="785.1" r="3.0"/><circle cx="341.6" cy="826.5" r="3.0"/><circle cx="382.3" cy="823.5" r="3.0"/><circle cx="421.0" cy="828.5" r="3.0"/><circle cx="403.2" cy="814.2" r="3.0"/><circle cx="334.7" cy="778.3" r="3.0"/><circle cx="372.0" cy="848.7" r="3.0"/><circle cx="478.7" cy="858.0" r="3.0"/><circle cx="357.4" cy="774.7" r="3.0"/><circle cx="323.3" cy="834.0" r="3.0"/><circle cx="329.8" cy="823.8" r="3.0"/><circle cx="325.1" cy="744.4" r="3.0"/><circle cx="357.7" cy="742.4" r="3.0"/><circle cx="317.7" cy="821.5" r="3.0"/><circle cx="347.0" cy="748.0" r="3.0"/><circle cx="335.0" cy="729.0" r="3.0"/><circle cx="353.5" cy="800.1" r="3.0"/><circle cx="365.8" cy="845.9" r="3.0"/><circle cx="471.5" cy="853.3" r="3.0"/><circle cx="407.7" cy="824.9" r="3.0"/><circle cx="323.3" cy="776.0" r="3.0"/><circle cx="335.5" cy="757.2" r="3.0"/><circle cx="346.1" cy="858.5" r="3.0"/><circle cx="375.0" cy="843.2" r="3.0"/><circle cx="313.0" cy="781.6" r="3.0"/><circle cx="304.2" cy="828.7" r="3.0"/><circle cx="372.4" cy="786.7" r="3.0"/><circle cx="349.7" cy="798.9" r="3.0"/><circle cx="360.6" cy="859.7" r="3.0"/><circle cx="344.6" cy="809.2" r="3.0"/><circle cx="320.3" cy="851.0" r="3.0"/><circle cx="330.7" cy="813.4" r="3.0"/><circle cx="359.2" cy="817.2" r="3.0"/><circle cx="499.5" cy="872.9" r="3.0"/><circle cx="334.1" cy="835.5" r="3.0"/><circle cx="300.7" cy="815.2" r="3.0"/><circle cx="300.1" cy="838.4" r="3.0"/><circle cx="495.8" cy="867.6" r="3.0"/><circle cx="352.9" cy="803.8" r="3.0"/><circle cx="365.5" cy="850.5" r="3.0"/><circle cx="326.2" cy="734.6" r="3.0"/><circle cx="461.2" cy="863.5" r="3.0"/><circle cx="332.5" cy="763.8" r="3.0"/><circle cx="335.3" cy="802.3" r="3.0"/><circle cx="470.7" cy="853.4" r="3.0"/><circle cx="309.9" cy="832.3" r="3.0"/><circle cx="406.2" cy="803.5" r="3.0"/><circle cx="337.3" cy="763.2" r="3.0"/><circle cx="438.4" cy="844.8" r="3.0"/><circle cx="399.5" cy="844.4" r="3.0"/><circle cx="322.4" cy="770.1" r="3.0"/><circle cx="325.8" cy="761.9" r="3.0"/><circle cx="338.1" cy="866.4" r="3.0"/><circle cx="341.6" cy="717.3" r="3.0"/><circle cx="360.3" cy="766.2" r="3.0"/><circle cx="401.1" cy="802.1" r="3.0"/><circle cx="374.2" cy="831.2" r="3.0"/><circle cx="379.8" cy="802.3" r="3.0"/><circle cx="378.1" cy="827.8" r="3.0"/><circle cx="325.9" cy="856.7" r="3.0"/><circle cx="483.6" cy="861.0" r="3.0"/><circle cx="303.4" cy="819.8" r="3.0"/><circle cx="337.6" cy="793.2" r="3.0"/><circle cx="387.1" cy="812.1" r="3.0"/><circle cx="351.0" cy="783.3" r="3.0"/><circle cx="335.5" cy="853.2" r="3.0"/><circle cx="372.5" cy="776.1" r="3.0"/><circle cx="366.7" cy="765.8" r="3.0"/><circle cx="396.7" cy="796.8" r="3.0"/><circle cx="347.9" cy="834.4" r="3.0"/><circle cx="361.9" cy="780.6" r="3.0"/><circle cx="333.1" cy="746.9" r="3.0"/><circle cx="338.6" cy="747.6" r="3.0"/><circle cx="320.5" cy="797.1" r="3.0"/><circle cx="316.2" cy="793.1" r="3.0"/><circle cx="367.2" cy="763.5" r="3.0"/><circle cx="376.3" cy="803.5" r="3.0"/><circle cx="475.4" cy="866.7" r="3.0"/><circle cx="313.7" cy="786.2" r="3.0"/><circle cx="333.8" cy="821.6" r="3.0"/><circle cx="401.3" cy="804.0" r="3.0"/><circle cx="307.8" cy="835.7" r="3.0"/><circle cx="418.9" cy="829.7" r="3.0"/><circle cx="340.7" cy="720.5" r="3.0"/><circle cx="420.4" cy="831.3" r="3.0"/><circle cx="333.4" cy="727.2" r="3.0"/><circle cx="510.1" cy="880.0" r="3.0"/><circle cx="512.2" cy="878.9" r="3.0"/><circle cx="357.3" cy="852.4" r="3.0"/><circle cx="330.0" cy="746.7" r="3.0"/><circle cx="345.1" cy="767.5" r="3.0"/><circle cx="362.0" cy="859.8" r="3.0"/><circle cx="380.3" cy="784.9" r="3.0"/><circle cx="332.9" cy="815.3" r="3.0"/><circle cx="339.4" cy="745.6" r="3.0"/><circle cx="292.8" cy="838.1" r="3.0"/><circle cx="328.8" cy="831.9" r="3.0"/><circle cx="336.7" cy="839.2" r="3.0"/><circle cx="361.2" cy="811.8" r="3.0"/><circle cx="340.2" cy="832.8" r="3.0"/><circle cx="355.8" cy="772.8" r="3.0"/><circle cx="340.4" cy="852.8" r="3.0"/><circle cx="327.1" cy="745.7" r="3.0"/><circle cx="297.8" cy="847.3" r="3.0"/><circle cx="355.5" cy="765.9" r="3.0"/><circle cx="324.7" cy="819.3" r="3.0"/><circle cx="312.7" cy="789.1" r="3.0"/><circle cx="295.9" cy="851.2" r="3.0"/><circle cx="387.1" cy="836.3" r="3.0"/><circle cx="346.7" cy="782.1" r="3.0"/><circle cx="486.8" cy="872.4" r="3.0"/><circle cx="339.5" cy="758.3" r="3.0"/><circle cx="348.5" cy="758.6" r="3.0"/><circle cx="409.3" cy="817.9" r="3.0"/><circle cx="365.9" cy="818.9" r="3.0"/><circle cx="311.3" cy="855.2" r="3.0"/><circle cx="331.0" cy="754.7" r="3.0"/><circle cx="361.9" cy="839.8" r="3.0"/><circle cx="306.3" cy="806.9" r="3.0"/><circle cx="353.4" cy="861.6" r="3.0"/><circle cx="445.8" cy="836.6" r="3.0"/><circle cx="497.3" cy="868.1" r="3.0"/><circle cx="388.4" cy="835.9" r="3.0"/><circle cx="339.5" cy="753.9" r="3.0"/><circle cx="379.6" cy="843.2" r="3.0"/><circle cx="373.4" cy="794.4" r="3.0"/><circle cx="377.6" cy="843.3" r="3.0"/><circle cx="395.2" cy="829.0" r="3.0"/><circle cx="352.1" cy="831.1" r="3.0"/><circle cx="339.6" cy="764.6" r="3.0"/><circle cx="337.1" cy="825.6" r="3.0"/><circle cx="364.9" cy="823.7" r="3.0"/><circle cx="315.8" cy="845.8" r="3.0"/><circle cx="392.2" cy="792.3" r="3.0"/><circle cx="366.3" cy="842.0" r="3.0"/><circle cx="344.9" cy="811.2" r="3.0"/><circle cx="417.2" cy="835.1" r="3.0"/><circle cx="498.4" cy="877.3" r="3.0"/><circle cx="323.7" cy="838.5" r="3.0"/><circle cx="373.1" cy="785.1" r="3.0"/><circle cx="333.3" cy="854.0" r="3.0"/><circle cx="407.8" cy="823.2" r="3.0"/><circle cx="368.3" cy="785.1" r="3.0"/><circle cx="325.6" cy="864.2" r="3.0"/><circle cx="296.6" cy="811.0" r="3.0"/><circle cx="382.3" cy="800.3" r="3.0"/><circle cx="510.6" cy="877.4" r="3.0"/><circle cx="342.5" cy="820.8" r="3.0"/><circle cx="469.1" cy="865.1" r="3.0"/><circle cx="364.8" cy="779.0" r="3.0"/><circle cx="326.5" cy="779.9" r="3.0"/><circle cx="384.5" cy="845.8" r="3.0"/><circle cx="347.1" cy="833.2" r="3.0"/><circle cx="352.8" cy="763.5" r="3.0"/><circle cx="442.7" cy="835.4" r="3.0"/><circle cx="473.2" cy="857.0" r="3.0"/><circle cx="310.8" cy="784.0" r="3.0"/><circle cx="489.3" cy="875.5" r="3.0"/><circle cx="341.0" cy="810.1" r="3.0"/><circle cx="364.0" cy="810.0" r="3.0"/><circle cx="369.3" cy="854.5" r="3.0"/><circle cx="322.6" cy="842.9" r="3.0"/><circle cx="322.1" cy="745.0" r="3.0"/><circle cx="351.0" cy="790.9" r="3.0"/><circle cx="334.2" cy="773.2" r="3.0"/><circle cx="368.4" cy="816.0" r="3.0"/><circle cx="369.3" cy="777.1" r="3.0"/><circle cx="383.9" cy="786.4" r="3.0"/><circle cx="394.4" cy="833.2" r="3.0"/><circle cx="453.3" cy="859.7" r="3.0"/><circle cx="434.4" cy="835.2" r="3.0"/><circle cx="362.4" cy="812.2" r="3.0"/><circle cx="373.3" cy="827.6" r="3.0"/><circle cx="414.5" cy="815.4" r="3.0"/><circle cx="348.2" cy="837.2" r="3.0"/><circle cx="307.7" cy="808.1" r="3.0"/><circle cx="370.9" cy="781.5" r="3.0"/><circle cx="393.4" cy="829.3" r="3.0"/><circle cx="348.2" cy="815.9" r="3.0"/><circle cx="389.0" cy="840.9" r="3.0"/><circle cx="407.2" cy="812.1" r="3.0"/><circle cx="310.0" cy="828.9" r="3.0"/><circle cx="388.4" cy="799.0" r="3.0"/><circle cx="345.3" cy="790.7" r="3.0"/><circle cx="387.1" cy="813.0" r="3.0"/><circle cx="413.3" cy="833.9" r="3.0"/><circle cx="334.0" cy="864.0" r="3.0"/><circle cx="424.1" cy="831.8" r="3.0"/><circle cx="366.2" cy="775.0" r="3.0"/><circle cx="496.3" cy="874.9" r="3.0"/><circle cx="360.5" cy="774.4" r="3.0"/><circle cx="434.9" cy="838.8" r="3.0"/><circle cx="350.7" cy="785.3" r="3.0"/><circle cx="441.1" cy="845.1" r="3.0"/><circle cx="351.4" cy="839.8" r="3.0"/><circle cx="375.2" cy="815.3" r="3.0"/><circle cx="371.0" cy="795.5" r="3.0"/><circle cx="332.9" cy="839.5" r="3.0"/><circle cx="388.0" cy="830.0" r="3.0"/><circle cx="288.8" cy="819.6" r="3.0"/><circle cx="349.8" cy="729.8" r="3.0"/><circle cx="491.6" cy="882.8" r="3.0"/><circle cx="289.7" cy="831.7" r="3.0"/><circle cx="459.4" cy="851.8" r="3.0"/><circle cx="366.1" cy="780.7" r="3.0"/><circle cx="358.8" cy="837.9" r="3.0"/><circle cx="307.8" cy="849.7" r="3.0"/><circle cx="387.1" cy="781.9" r="3.0"/><circle cx="368.5" cy="796.9" r="3.0"/><circle cx="386.7" cy="814.7" r="3.0"/><circle cx="387.5" cy="848.1" r="3.0"/><circle cx="336.9" cy="748.1" r="3.0"/><circle cx="342.7" cy="798.8" r="3.0"/><circle cx="422.1" cy="831.3" r="3.0"/><circle cx="424.0" cy="830.3" r="3.0"/><circle cx="333.5" cy="796.5" r="3.0"/><circle cx="328.9" cy="826.2" r="3.0"/><circle cx="391.4" cy="793.2" r="3.0"/><circle cx="413.7" cy="820.8" r="3.0"/><circle cx="307.5" cy="844.3" r="3.0"/><circle cx="331.3" cy="862.9" r="3.0"/><circle cx="351.9" cy="852.3" r="3.0"/><circle cx="390.3" cy="826.4" r="3.0"/><circle cx="313.8" cy="847.0" r="3.0"/><circle cx="346.6" cy="850.8" r="3.0"/><circle cx="313.0" cy="847.6" r="3.0"/><circle cx="377.4" cy="806.1" r="3.0"/><circle cx="308.0" cy="803.8" r="3.0"/><circle cx="333.7" cy="786.6" r="3.0"/><circle cx="356.6" cy="839.7" r="3.0"/><circle cx="332.0" cy="736.4" r="3.0"/><circle cx="344.4" cy="817.6" r="3.0"/><circle cx="367.0" cy="761.0" r="3.0"/><circle cx="332.1" cy="779.0" r="3.0"/><circle cx="413.5" cy="839.7" r="3.0"/><circle cx="320.5" cy="758.9" r="3.0"/><circle cx="377.7" cy="815.8" r="3.0"/><circle cx="368.7" cy="819.3" r="3.0"/><circle cx="424.5" cy="834.5" r="3.0"/><circle cx="467.6" cy="863.7" r="3.0"/><circle cx="298.7" cy="840.1" r="3.0"/><circle cx="347.6" cy="864.6" r="3.0"/><circle cx="322.5" cy="779.0" r="3.0"/><circle cx="322.6" cy="754.5" r="3.0"/><circle cx="336.9" cy="758.2" r="3.0"/><circle cx="353.2" cy="827.5" r="3.0"/><circle cx="344.1" cy="833.6" r="3.0"/><circle cx="294.1" cy="852.2" r="3.0"/><circle cx="324.4" cy="862.7" r="3.0"/><circle cx="383.1" cy="779.9" r="3.0"/><circle cx="502.5" cy="877.4" r="3.0"/><circle cx="315.4" cy="789.6" r="3.0"/><circle cx="377.4" cy="781.8" r="3.0"/><circle cx="360.8" cy="856.9" r="3.0"/><circle cx="332.6" cy="732.2" r="3.0"/><circle cx="318.4" cy="807.4" r="3.0"/><circle cx="395.7" cy="807.2" r="3.0"/><circle cx="313.8" cy="810.5" r="3.0"/><circle cx="293.9" cy="825.1" r="3.0"/><circle cx="476.7" cy="859.6" r="3.0"/><circle cx="297.7" cy="844.2" r="3.0"/><circle cx="292.3" cy="838.1" r="3.0"/><circle cx="364.8" cy="759.3" r="3.0"/><circle cx="384.2" cy="791.4" r="3.0"/><circle cx="353.6" cy="843.2" r="3.0"/><circle cx="310.8" cy="834.1" r="3.0"/><circle cx="372.5" cy="846.2" r="3.0"/><circle cx="320.3" cy="852.3" r="3.0"/><circle cx="387.3" cy="823.9" r="3.0"/><circle cx="426.6" cy="834.2" r="3.0"/><circle cx="373.0" cy="788.3" r="3.0"/><circle cx="386.4" cy="825.3" r="3.0"/><circle cx="362.7" cy="798.1" r="3.0"/><circle cx="313.0" cy="803.9" r="3.0"/><circle cx="346.9" cy="757.0" r="3.0"/><circle cx="328.2" cy="748.7" r="3.0"/><circle cx="345.9" cy="770.8" r="3.0"/><circle cx="357.6" cy="804.3" r="3.0"/><circle cx="358.6" cy="761.3" r="3.0"/><circle cx="344.7" cy="786.3" r="3.0"/><circle cx="496.9" cy="883.6" r="3.0"/><circle cx="446.1" cy="842.8" r="3.0"/><circle cx="353.6" cy="858.2" r="3.0"/><circle cx="331.6" cy="790.6" r="3.0"/><circle cx="402.2" cy="808.9" r="3.0"/><circle cx="293.1" cy="816.8" r="3.0"/><circle cx="370.0" cy="794.9" r="3.0"/><circle cx="329.0" cy="851.4" r="3.0"/><circle cx="360.3" cy="858.0" r="3.0"/><circle cx="338.4" cy="729.6" r="3.0"/><circle cx="320.2" cy="819.3" r="3.0"/><circle cx="339.2" cy="810.8" r="3.0"/><circle cx="395.5" cy="834.1" r="3.0"/><circle cx="381.7" cy="778.0" r="3.0"/><circle cx="363.8" cy="780.5" r="3.0"/><circle cx="345.7" cy="837.4" r="3.0"/><circle cx="364.3" cy="819.1" r="3.0"/><circle cx="344.4" cy="781.3" r="3.0"/><circle cx="366.3" cy="757.8" r="3.0"/><circle cx="317.6" cy="839.5" r="3.0"/><circle cx="308.1" cy="850.3" r="3.0"/><circle cx="293.4" cy="821.8" r="3.0"/><circle cx="357.1" cy="813.0" r="3.0"/><circle cx="368.0" cy="776.5" r="3.0"/><circle cx="480.7" cy="857.9" r="3.0"/><circle cx="301.0" cy="843.9" r="3.0"/><circle cx="314.7" cy="794.8" r="3.0"/><circle cx="367.8" cy="786.2" r="3.0"/><circle cx="494.5" cy="873.1" r="3.0"/><circle cx="353.2" cy="805.5" r="3.0"/><circle cx="299.9" cy="816.3" r="3.0"/><circle cx="323.5" cy="850.1" r="3.0"/><circle cx="322.4" cy="808.5" r="3.0"/><circle cx="353.5" cy="827.6" r="3.0"/><circle cx="368.2" cy="803.9" r="3.0"/><circle cx="401.9" cy="802.5" r="3.0"/><circle cx="319.7" cy="835.1" r="3.0"/><circle cx="327.7" cy="827.1" r="3.0"/><circle cx="380.5" cy="797.8" r="3.0"/><circle cx="472.5" cy="851.2" r="3.0"/><circle cx="407.3" cy="816.0" r="3.0"/><circle cx="354.6" cy="745.8" r="3.0"/><circle cx="356.4" cy="729.3" r="3.0"/><circle cx="390.8" cy="802.4" r="3.0"/><circle cx="376.6" cy="813.8" r="3.0"/><circle cx="328.1" cy="813.8" r="3.0"/><circle cx="350.4" cy="756.3" r="3.0"/><circle cx="319.4" cy="762.5" r="3.0"/><circle cx="361.0" cy="787.2" r="3.0"/><circle cx="327.2" cy="829.2" r="3.0"/><circle cx="335.6" cy="772.2" r="3.0"/><circle cx="331.9" cy="728.0" r="3.0"/><circle cx="486.1" cy="879.1" r="3.0"/><circle cx="337.2" cy="726.3" r="3.0"/><circle cx="347.2" cy="863.0" r="3.0"/><circle cx="332.5" cy="812.9" r="3.0"/><circle cx="375.5" cy="775.1" r="3.0"/><circle cx="302.2" cy="842.2" r="3.0"/><circle cx="358.7" cy="822.6" r="3.0"/><circle cx="400.6" cy="798.8" r="3.0"/><circle cx="370.5" cy="800.1" r="3.0"/><circle cx="358.5" cy="849.3" r="3.0"/><circle cx="371.2" cy="792.4" r="3.0"/><circle cx="344.7" cy="837.6" r="3.0"/><circle cx="316.1" cy="844.0" r="3.0"/><circle cx="336.9" cy="722.9" r="3.0"/><circle cx="353.4" cy="811.5" r="3.0"/><circle cx="340.0" cy="867.5" r="3.0"/><circle cx="305.0" cy="806.2" r="3.0"/><circle cx="326.7" cy="846.2" r="3.0"/><circle cx="370.5" cy="774.9" r="3.0"/><circle cx="329.7" cy="777.3" r="3.0"/><circle cx="380.6" cy="778.9" r="3.0"/><circle cx="366.9" cy="846.1" r="3.0"/><circle cx="420.6" cy="836.8" r="3.0"/><circle cx="348.2" cy="797.9" r="3.0"/><circle cx="386.5" cy="790.7" r="3.0"/><circle cx="345.6" cy="850.8" r="3.0"/><circle cx="315.1" cy="809.1" r="3.0"/><circle cx="361.6" cy="760.4" r="3.0"/><circle cx="325.8" cy="851.6" r="3.0"/><circle cx="373.1" cy="827.5" r="3.0"/><circle cx="408.6" cy="809.1" r="3.0"/><circle cx="386.9" cy="828.1" r="3.0"/><circle cx="356.1" cy="725.9" r="3.0"/><circle cx="343.5" cy="815.2" r="3.0"/><circle cx="339.5" cy="818.3" r="3.0"/><circle cx="400.2" cy="803.1" r="3.0"/><circle cx="318.7" cy="813.5" r="3.0"/><circle cx="315.6" cy="809.8" r="3.0"/><circle cx="332.8" cy="861.4" r="3.0"/><circle cx="368.7" cy="788.6" r="3.0"/><circle cx="329.0" cy="774.0" r="3.0"/><circle cx="345.1" cy="868.5" r="3.0"/><circle cx="333.7" cy="854.6" r="3.0"/><circle cx="343.8" cy="849.9" r="3.0"/><circle cx="391.6" cy="807.3" r="3.0"/><circle cx="495.0" cy="865.9" r="3.0"/><circle cx="346.9" cy="804.5" r="3.0"/><circle cx="439.3" cy="834.8" r="3.0"/><circle cx="411.5" cy="834.2" r="3.0"/><circle cx="355.5" cy="839.9" r="3.0"/><circle cx="339.4" cy="800.0" r="3.0"/><circle cx="320.1" cy="785.6" r="3.0"/><circle cx="313.2" cy="852.5" r="3.0"/><circle cx="353.6" cy="751.5" r="3.0"/><circle cx="426.0" cy="828.1" r="3.0"/><circle cx="355.9" cy="778.5" r="3.0"/><circle cx="502.7" cy="881.6" r="3.0"/><circle cx="317.2" cy="859.9" r="3.0"/><circle cx="391.5" cy="840.2" r="3.0"/><circle cx="380.4" cy="819.4" r="3.0"/><circle cx="498.9" cy="881.4" r="3.0"/><circle cx="335.1" cy="737.8" r="3.0"/><circle cx="394.7" cy="842.5" r="3.0"/><circle cx="356.4" cy="828.5" r="3.0"/><circle cx="324.3" cy="791.0" r="3.0"/><circle cx="373.1" cy="812.2" r="3.0"/><circle cx="337.8" cy="821.3" r="3.0"/><circle cx="335.3" cy="858.2" r="3.0"/><circle cx="334.7" cy="752.4" r="3.0"/><circle cx="334.3" cy="837.2" r="3.0"/><circle cx="324.0" cy="737.2" r="3.0"/><circle cx="336.7" cy="763.9" r="3.0"/><circle cx="354.9" cy="856.5" r="3.0"/><circle cx="295.9" cy="829.5" r="3.0"/><circle cx="448.0" cy="847.1" r="3.0"/><circle cx="391.1" cy="812.0" r="3.0"/><circle cx="391.7" cy="821.8" r="3.0"/><circle cx="372.7" cy="848.2" r="3.0"/><circle cx="400.2" cy="842.8" r="3.0"/><circle cx="447.3" cy="850.1" r="3.0"/><circle cx="422.1" cy="831.6" r="3.0"/><circle cx="369.2" cy="833.0" r="3.0"/><circle cx="321.2" cy="850.3" r="3.0"/><circle cx="305.6" cy="807.4" r="3.0"/><circle cx="356.2" cy="806.6" r="3.0"/><circle cx="493.8" cy="880.8" r="3.0"/><circle cx="337.2" cy="779.5" r="3.0"/><circle cx="342.0" cy="839.1" r="3.0"/><circle cx="382.1" cy="827.6" r="3.0"/><circle cx="368.7" cy="790.9" r="3.0"/><circle cx="431.1" cy="829.1" r="3.0"/><circle cx="468.6" cy="861.3" r="3.0"/><circle cx="323.9" cy="812.0" r="3.0"/><circle cx="334.6" cy="730.1" r="3.0"/><circle cx="510.2" cy="880.2" r="3.0"/><circle cx="369.6" cy="815.6" r="3.0"/><circle cx="375.4" cy="804.0" r="3.0"/><circle cx="388.9" cy="816.2" r="3.0"/><circle cx="315.5" cy="840.1" r="3.0"/><circle cx="362.1" cy="825.9" r="3.0"/><circle cx="335.5" cy="824.3" r="3.0"/><circle cx="345.7" cy="725.8" r="3.0"/><circle cx="326.9" cy="814.2" r="3.0"/><circle cx="347.9" cy="779.1" r="3.0"/><circle cx="343.1" cy="742.9" r="3.0"/><circle cx="347.8" cy="734.4" r="3.0"/><circle cx="366.4" cy="847.9" r="3.0"/><circle cx="398.2" cy="800.9" r="3.0"/><circle cx="342.2" cy="780.1" r="3.0"/><circle cx="335.0" cy="810.3" r="3.0"/><circle cx="308.5" cy="793.2" r="3.0"/><circle cx="353.7" cy="813.9" r="3.0"/><circle cx="358.8" cy="806.5" r="3.0"/><circle cx="312.0" cy="826.8" r="3.0"/><circle cx="334.4" cy="726.1" r="3.0"/><circle cx="369.4" cy="821.2" r="3.0"/><circle cx="336.7" cy="816.3" r="3.0"/><circle cx="361.6" cy="839.4" r="3.0"/><circle cx="416.6" cy="817.5" r="3.0"/><circle cx="390.9" cy="794.0" r="3.0"/><circle cx="390.7" cy="845.9" r="3.0"/><circle cx="472.9" cy="861.1" r="3.0"/><circle cx="340.9" cy="824.5" r="3.0"/><circle cx="402.2" cy="838.5" r="3.0"/><circle cx="328.4" cy="771.4" r="3.0"/><circle cx="403.4" cy="807.1" r="3.0"/><circle cx="349.3" cy="736.8" r="3.0"/><circle cx="476.8" cy="874.4" r="3.0"/><circle cx="365.3" cy="825.2" r="3.0"/><circle cx="322.3" cy="782.6" r="3.0"/><circle cx="485.5" cy="860.8" r="3.0"/><circle cx="380.9" cy="812.0" r="3.0"/><circle cx="365.1" cy="855.5" r="3.0"/><circle cx="409.3" cy="806.1" r="3.0"/><circle cx="361.9" cy="778.1" r="3.0"/><circle cx="336.8" cy="741.1" r="3.0"/><circle cx="311.1" cy="816.4" r="3.0"/><circle cx="416.5" cy="837.9" r="3.0"/><circle cx="427.1" cy="825.8" r="3.0"/><circle cx="304.5" cy="850.9" r="3.0"/><circle cx="345.0" cy="828.1" r="3.0"/><circle cx="350.9" cy="851.2" r="3.0"/><circle cx="509.5" cy="874.2" r="3.0"/><circle cx="342.7" cy="737.7" r="3.0"/><circle cx="347.7" cy="724.1" r="3.0"/><circle cx="340.1" cy="829.6" r="3.0"/><circle cx="368.1" cy="841.7" r="3.0"/><circle cx="392.5" cy="828.0" r="3.0"/><circle cx="432.7" cy="836.6" r="3.0"/><circle cx="380.9" cy="770.6" r="3.0"/><circle cx="343.4" cy="812.9" r="3.0"/><circle cx="344.2" cy="806.9" r="3.0"/><circle cx="356.9" cy="826.9" r="3.0"/><circle cx="352.9" cy="742.5" r="3.0"/><circle cx="323.8" cy="816.4" r="3.0"/><circle cx="310.2" cy="804.0" r="3.0"/><circle cx="408.1" cy="807.5" r="3.0"/><circle cx="327.5" cy="802.1" r="3.0"/><circle cx="460.0" cy="866.3" r="3.0"/><circle cx="398.6" cy="818.0" r="3.0"/><circle cx="385.7" cy="783.8" r="3.0"/><circle cx="357.3" cy="835.4" r="3.0"/><circle cx="318.6" cy="814.8" r="3.0"/><circle cx="330.6" cy="749.7" r="3.0"/><circle cx="381.0" cy="768.1" r="3.0"/><circle cx="505.9" cy="877.0" r="3.0"/><circle cx="348.3" cy="804.0" r="3.0"/><circle cx="470.5" cy="870.8" r="3.0"/><circle cx="354.1" cy="722.8" r="3.0"/><circle cx="348.1" cy="793.3" r="3.0"/><circle cx="503.0" cy="880.2" r="3.0"/><circle cx="334.2" cy="725.3" r="3.0"/><circle cx="312.1" cy="820.3" r="3.0"/><circle cx="302.8" cy="823.5" r="3.0"/><circle cx="338.7" cy="729.3" r="3.0"/><circle cx="330.2" cy="837.2" r="3.0"/><circle cx="361.6" cy="801.9" r="3.0"/><circle cx="389.9" cy="847.5" r="3.0"/><circle cx="322.2" cy="800.6" r="3.0"/><circle cx="338.3" cy="812.5" r="3.0"/><circle cx="342.8" cy="826.5" r="3.0"/><circle cx="328.9" cy="739.3" r="3.0"/><circle cx="324.7" cy="799.3" r="3.0"/><circle cx="422.1" cy="820.9" r="3.0"/><circle cx="302.9" cy="834.5" r="3.0"/><circle cx="367.2" cy="794.8" r="3.0"/><circle cx="377.1" cy="773.0" r="3.0"/><circle cx="292.8" cy="814.1" r="3.0"/><circle cx="409.8" cy="807.7" r="3.0"/><circle cx="295.0" cy="848.1" r="3.0"/><circle cx="397.6" cy="798.2" r="3.0"/><circle cx="338.4" cy="803.6" r="3.0"/><circle cx="304.8" cy="844.7" r="3.0"/><circle cx="399.5" cy="803.8" r="3.0"/><circle cx="407.1" cy="843.0" r="3.0"/><circle cx="304.4" cy="822.3" r="3.0"/><circle cx="362.3" cy="808.4" r="3.0"/><circle cx="456.3" cy="859.2" r="3.0"/><circle cx="294.9" cy="821.1" r="3.0"/><circle cx="506.6" cy="874.8" r="3.0"/><circle cx="326.3" cy="788.3" r="3.0"/><circle cx="427.7" cy="840.6" r="3.0"/><circle cx="304.9" cy="817.3" r="3.0"/><circle cx="311.7" cy="829.8" r="3.0"/><circle cx="329.7" cy="778.7" r="3.0"/><circle cx="308.6" cy="827.2" r="3.0"/><circle cx="348.7" cy="771.7" r="3.0"/><circle cx="390.2" cy="850.0" r="3.0"/><circle cx="343.3" cy="816.0" r="3.0"/><circle cx="316.1" cy="793.2" r="3.0"/><circle cx="353.2" cy="760.3" r="3.0"/><circle cx="412.9" cy="838.5" r="3.0"/><circle cx="327.5" cy="751.9" r="3.0"/><circle cx="305.4" cy="821.4" r="3.0"/><circle cx="359.7" cy="803.1" r="3.0"/><circle cx="327.3" cy="862.2" r="3.0"/><circle cx="340.6" cy="837.8" r="3.0"/><circle cx="376.5" cy="795.0" r="3.0"/><circle cx="380.0" cy="811.7" r="3.0"/><circle cx="351.7" cy="805.8" r="3.0"/><circle cx="378.3" cy="818.2" r="3.0"/><circle cx="347.8" cy="847.9" r="3.0"/><circle cx="388.2" cy="787.5" r="3.0"/><circle cx="341.0" cy="761.8" r="3.0"/><circle cx="316.1" cy="803.4" r="3.0"/><circle cx="382.6" cy="800.7" r="3.0"/><circle cx="373.6" cy="818.3" r="3.0"/><circle cx="355.8" cy="745.9" r="3.0"/><circle cx="294.9" cy="813.6" r="3.0"/><circle cx="325.4" cy="864.2" r="3.0"/><circle cx="330.2" cy="856.6" r="3.0"/><circle cx="370.1" cy="831.0" r="3.0"/><circle cx="324.7" cy="799.9" r="3.0"/><circle cx="353.1" cy="830.1" r="3.0"/><circle cx="331.0" cy="741.3" r="3.0"/><circle cx="414.6" cy="813.7" r="3.0"/><circle cx="317.4" cy="834.0" r="3.0"/><circle cx="338.7" cy="844.8" r="3.0"/><circle cx="410.5" cy="807.1" r="3.0"/><circle cx="408.7" cy="835.1" r="3.0"/><circle cx="315.4" cy="834.7" r="3.0"/><circle cx="468.2" cy="848.4" r="3.0"/><circle cx="402.7" cy="821.0" r="3.0"/><circle cx="346.7" cy="765.2" r="3.0"/><circle cx="360.9" cy="801.9" r="3.0"/><circle cx="329.2" cy="848.8" r="3.0"/><circle cx="389.5" cy="792.1" r="3.0"/><circle cx="374.5" cy="812.2" r="3.0"/><circle cx="336.5" cy="862.5" r="3.0"/><circle cx="300.6" cy="850.4" r="3.0"/><circle cx="358.5" cy="833.6" r="3.0"/><circle cx="387.9" cy="810.5" r="3.0"/><circle cx="397.7" cy="807.0" r="3.0"/><circle cx="308.7" cy="822.3" r="3.0"/><circle cx="339.4" cy="811.2" r="3.0"/><circle cx="318.2" cy="790.7" r="3.0"/><circle cx="318.8" cy="752.6" r="3.0"/><circle cx="303.0" cy="832.0" r="3.0"/><circle cx="436.2" cy="847.8" r="3.0"/><circle cx="437.7" cy="842.1" r="3.0"/><circle cx="455.7" cy="844.4" r="3.0"/><circle cx="354.4" cy="749.5" r="3.0"/><circle cx="489.8" cy="877.2" r="3.0"/><circle cx="384.0" cy="782.7" r="3.0"/><circle cx="342.9" cy="771.5" r="3.0"/><circle cx="345.8" cy="803.0" r="3.0"/><circle cx="385.3" cy="851.3" r="3.0"/><circle cx="422.5" cy="836.9" r="3.0"/><circle cx="329.6" cy="777.6" r="3.0"/><circle cx="348.0" cy="757.3" r="3.0"/><circle cx="321.0" cy="740.9" r="3.0"/><circle cx="322.2" cy="734.3" r="3.0"/><circle cx="309.1" cy="825.3" r="3.0"/><circle cx="348.6" cy="762.1" r="3.0"/><circle cx="341.3" cy="808.8" r="3.0"/><circle cx="497.4" cy="868.0" r="3.0"/><circle cx="344.7" cy="756.1" r="3.0"/><circle cx="368.9" cy="807.2" r="3.0"/><circle cx="352.2" cy="842.4" r="3.0"/><circle cx="293.8" cy="818.8" r="3.0"/><circle cx="364.5" cy="782.2" r="3.0"/><circle cx="338.5" cy="772.2" r="3.0"/><circle cx="477.5" cy="857.5" r="3.0"/><circle cx="403.2" cy="841.0" r="3.0"/><circle cx="325.5" cy="787.4" r="3.0"/><circle cx="389.9" cy="793.2" r="3.0"/><circle cx="494.6" cy="885.1" r="3.0"/><circle cx="306.2" cy="803.4" r="3.0"/><circle cx="313.1" cy="834.7" r="3.0"/><circle cx="438.0" cy="841.1" r="3.0"/><circle cx="326.9" cy="812.3" r="3.0"/><circle cx="445.9" cy="848.8" r="3.0"/><circle cx="365.5" cy="807.4" r="3.0"/><circle cx="329.6" cy="755.6" r="3.0"/><circle cx="320.5" cy="862.2" r="3.0"/><circle cx="370.2" cy="780.3" r="3.0"/><circle cx="353.6" cy="806.0" r="3.0"/><circle cx="326.8" cy="839.3" r="3.0"/><circle cx="310.7" cy="817.4" r="3.0"/><circle cx="306.3" cy="820.9" r="3.0"/><circle cx="304.8" cy="810.5" r="3.0"/><circle cx="341.5" cy="796.9" r="3.0"/><circle cx="350.5" cy="778.2" r="3.0"/><circle cx="366.3" cy="834.3" r="3.0"/><circle cx="438.2" cy="850.5" r="3.0"/><circle cx="346.0" cy="780.8" r="3.0"/><circle cx="484.0" cy="874.3" r="3.0"/><circle cx="341.3" cy="800.9" r="3.0"/><circle cx="398.4" cy="814.9" r="3.0"/><circle cx="333.7" cy="781.3" r="3.0"/><circle cx="482.8" cy="880.9" r="3.0"/><circle cx="347.8" cy="737.1" r="3.0"/><circle cx="419.7" cy="836.8" r="3.0"/><circle cx="292.8" cy="845.7" r="3.0"/><circle cx="320.5" cy="748.7" r="3.0"/><circle cx="375.9" cy="789.2" r="3.0"/><circle cx="339.6" cy="760.2" r="3.0"/><circle cx="349.9" cy="734.7" r="3.0"/><circle cx="328.2" cy="834.6" r="3.0"/><circle cx="417.1" cy="835.4" r="3.0"/><circle cx="369.2" cy="770.8" r="3.0"/><circle cx="294.0" cy="830.9" r="3.0"/><circle cx="323.0" cy="755.7" r="3.0"/><circle cx="371.6" cy="812.4" r="3.0"/><circle cx="474.1" cy="858.3" r="3.0"/><circle cx="377.2" cy="856.2" r="3.0"/><circle cx="357.2" cy="815.5" r="3.0"/><circle cx="443.3" cy="835.7" r="3.0"/><circle cx="344.8" cy="861.6" r="3.0"/><circle cx="455.9" cy="858.5" r="3.0"/><circle cx="350.6" cy="783.2" r="3.0"/><circle cx="364.5" cy="859.2" r="3.0"/><circle cx="406.4" cy="824.4" r="3.0"/><circle cx="358.1" cy="803.0" r="3.0"/><circle cx="332.7" cy="830.3" r="3.0"/><circle cx="303.3" cy="829.4" r="3.0"/><circle cx="319.6" cy="858.2" r="3.0"/><circle cx="497.0" cy="876.3" r="3.0"/><circle cx="354.2" cy="773.5" r="3.0"/><circle cx="452.7" cy="857.6" r="3.0"/><circle cx="355.8" cy="729.8" r="3.0"/><circle cx="457.7" cy="863.5" r="3.0"/><circle cx="318.8" cy="827.2" r="3.0"/><circle cx="355.6" cy="758.3" r="3.0"/><circle cx="372.2" cy="790.3" r="3.0"/><circle cx="342.0" cy="758.5" r="3.0"/><circle cx="457.7" cy="843.4" r="3.0"/><circle cx="375.8" cy="844.3" r="3.0"/><circle cx="326.8" cy="811.9" r="3.0"/><circle cx="484.1" cy="862.8" r="3.0"/><circle cx="358.7" cy="840.3" r="3.0"/><circle cx="379.1" cy="819.0" r="3.0"/><circle cx="427.4" cy="825.9" r="3.0"/><circle cx="386.0" cy="806.9" r="3.0"/><circle cx="332.7" cy="849.0" r="3.0"/><circle cx="322.6" cy="730.0" r="3.0"/><circle cx="328.6" cy="725.0" r="3.0"/><circle cx="334.0" cy="722.6" r="3.0"/><circle cx="342.6" cy="717.5" r="3.0"/><circle cx="347.7" cy="720.3" r="3.0"/><circle cx="354.3" cy="724.0" r="3.0"/><circle cx="359.3" cy="729.7" r="3.0"/><circle cx="357.9" cy="738.0" r="3.0"/><circle cx="362.7" cy="747.4" r="3.0"/><circle cx="365.7" cy="755.1" r="3.0"/><circle cx="369.7" cy="760.0" r="3.0"/><circle cx="373.6" cy="764.7" r="3.0"/><circle cx="382.2" cy="769.0" r="3.0"/><circle cx="385.4" cy="777.9" r="3.0"/><circle cx="386.3" cy="782.8" r="3.0"/><circle cx="391.7" cy="788.2" r="3.0"/><circle cx="391.7" cy="790.8" r="3.0"/><circle cx="396.7" cy="795.8" r="3.0"/><circle cx="402.9" cy="797.9" r="3.0"/><circle cx="407.6" cy="798.9" r="3.0"/><circle cx="410.6" cy="806.1" r="3.0"/><circle cx="414.2" cy="810.0" r="3.0"/><circle cx="419.1" cy="819.4" r="3.0"/><circle cx="422.0" cy="822.2" r="3.0"/><circle cx="425.1" cy="823.3" r="3.0"/><circle cx="432.1" cy="826.8" r="3.0"/><circle cx="437.9" cy="831.8" r="3.0"/><circle cx="444.9" cy="834.3" r="3.0"/><circle cx="449.3" cy="837.7" r="3.0"/><circle cx="458.5" cy="842.3" r="3.0"/><circle cx="463.2" cy="844.9" r="3.0"/><circle cx="470.8" cy="847.7" r="3.0"/><circle cx="474.7" cy="851.9" r="3.0"/><circle cx="478.7" cy="854.6" r="3.0"/><circle cx="483.6" cy="857.3" r="3.0"/><circle cx="489.7" cy="860.8" r="3.0"/><circle cx="490.8" cy="860.9" r="3.0"/><circle cx="496.2" cy="864.9" r="3.0"/><circle cx="505.9" cy="869.9" r="3.0"/><circle cx="510.9" cy="871.3" r="3.0"/><circle cx="515.7" cy="875.7" r="3.0"/><circle cx="508.6" cy="883.1" r="3.0"/><circle cx="504.7" cy="885.7" r="3.0"/><circle cx="497.3" cy="886.1" r="3.0"/><circle cx="493.0" cy="886.0" r="3.0"/><circle cx="485.3" cy="884.1" r="3.0"/><circle cx="480.8" cy="880.6" r="3.0"/><circle cx="478.4" cy="877.1" r="3.0"/><circle cx="471.7" cy="874.2" r="3.0"/><circle cx="466.9" cy="868.9" r="3.0"/><circle cx="459.6" cy="865.0" r="3.0"/><circle cx="456.3" cy="862.6" r="3.0"/><circle cx="448.4" cy="861.1" r="3.0"/><circle cx="442.5" cy="859.1" r="3.0"/><circle cx="439.1" cy="853.9" r="3.0"/><circle cx="436.8" cy="847.8" r="3.0"/><circle cx="427.5" cy="841.7" r="3.0"/><circle cx="419.7" cy="838.5" r="3.0"/><circle cx="413.2" cy="841.0" r="3.0"/><circle cx="407.0" cy="844.2" r="3.0"/><circle cx="399.4" cy="847.5" r="3.0"/><circle cx="394.0" cy="849.9" r="3.0"/><circle cx="387.6" cy="851.0" r="3.0"/><circle cx="382.9" cy="854.0" r="3.0"/><circle cx="376.1" cy="860.3" r="3.0"/><circle cx="367.6" cy="859.3" r="3.0"/><circle cx="360.4" cy="860.8" r="3.0"/><circle cx="349.9" cy="866.4" r="3.0"/><circle cx="345.5" cy="869.4" r="3.0"/><circle cx="338.1" cy="868.1" r="3.0"/><circle cx="333.1" cy="866.9" r="3.0"/><circle cx="328.6" cy="866.9" r="3.0"/><circle cx="324.3" cy="865.4" r="3.0"/><circle cx="318.8" cy="863.2" r="3.0"/><circle cx="310.6" cy="859.8" r="3.0"/><circle cx="306.6" cy="859.9" r="3.0"/><circle cx="301.1" cy="856.1" r="3.0"/><circle cx="292.4" cy="850.7" r="3.0"/><circle cx="291.4" cy="845.1" r="3.0"/><circle cx="290.8" cy="840.1" r="3.0"/><circle cx="289.6" cy="831.9" r="3.0"/><circle cx="290.0" cy="829.6" r="3.0"/><circle cx="289.1" cy="818.9" r="3.0"/><circle cx="293.1" cy="812.9" r="3.0"/><circle cx="298.8" cy="807.5" r="3.0"/><circle cx="306.2" cy="801.9" r="3.0"/><circle cx="308.4" cy="791.5" r="3.0"/><circle cx="307.3" cy="786.5" r="3.0"/><circle cx="310.5" cy="779.7" r="3.0"/><circle cx="318.0" cy="776.5" r="3.0"/><circle cx="317.8" cy="768.6" r="3.0"/><circle cx="317.7" cy="763.8" r="3.0"/><circle cx="317.2" cy="754.7" r="3.0"/><circle cx="318.9" cy="751.3" r="3.0"/><circle cx="320.0" cy="744.6" r="3.0"/><circle cx="319.1" cy="737.0" r="3.0"/><circle cx="364.3" cy="720.6" r="3.0"/><circle cx="365.3" cy="728.2" r="3.0"/><circle cx="370.8" cy="723.8" r="3.0"/><circle cx="376.2" cy="727.1" r="3.0"/><circle cx="387.0" cy="732.5" r="3.0"/><circle cx="388.1" cy="734.7" r="3.0"/><circle cx="388.1" cy="743.3" r="3.0"/><circle cx="387.0" cy="749.8" r="3.0"/><circle cx="380.5" cy="748.8" r="3.0"/><circle cx="374.0" cy="747.7" r="3.0"/><circle cx="375.1" cy="755.3" r="3.0"/><circle cx="381.6" cy="765.0" r="3.0"/><circle cx="387.0" cy="760.7" r="3.0"/><circle cx="391.3" cy="762.8" r="3.0"/><circle cx="397.8" cy="767.2" r="3.0"/><circle cx="401.1" cy="771.5" r="3.0"/><circle cx="400.0" cy="778.0" r="3.0"/><circle cx="397.8" cy="782.3" r="3.0"/><circle cx="398.9" cy="791.0" r="3.0"/><circle cx="404.3" cy="793.2" r="3.0"/><circle cx="408.7" cy="795.3" r="3.0"/><circle cx="369.7" cy="734.7" r="3.0"/><circle cx="361.0" cy="746.6" r="3.0"/><circle cx="371.8" cy="849.5" r="3.0"/><circle cx="387.0" cy="854.9" r="3.0"/><circle cx="387.0" cy="862.5" r="3.0"/><circle cx="393.5" cy="866.8" r="3.0"/><circle cx="404.3" cy="847.3" r="3.0"/><circle cx="413.0" cy="840.8" r="3.0"/><circle cx="419.5" cy="838.7" r="3.0"/><circle cx="456.3" cy="864.7" r="3.0"/><circle cx="484.5" cy="885.3" r="3.0"/><circle cx="446.6" cy="860.3" r="3.0"/><circle cx="434.7" cy="847.3" r="3.0"/><circle cx="296.0" cy="812.7" r="3.0"/><circle cx="300.3" cy="806.2" r="3.0"/><circle cx="305.8" cy="795.3" r="3.0"/><circle cx="316.6" cy="752.0" r="3.0"/><circle cx="317.7" cy="758.5" r="3.0"/><circle cx="313.3" cy="770.4" r="3.0"/><circle cx="546.0" cy="782.6" r="3.0"/><circle cx="580.2" cy="769.8" r="3.0"/><circle cx="567.5" cy="776.4" r="3.0"/><circle cx="572.6" cy="779.1" r="3.0"/><circle cx="566.3" cy="777.6" r="3.0"/><circle cx="576.9" cy="774.7" r="3.0"/><circle cx="568.5" cy="772.4" r="3.0"/><circle cx="550.1" cy="768.8" r="3.0"/><circle cx="573.2" cy="773.2" r="3.0"/><circle cx="556.9" cy="773.1" r="3.0"/><circle cx="545.1" cy="767.9" r="3.0"/><circle cx="570.5" cy="780.4" r="3.0"/><circle cx="542.3" cy="772.7" r="3.0"/><circle cx="560.0" cy="767.6" r="3.0"/><circle cx="563.2" cy="781.9" r="3.0"/><circle cx="545.3" cy="777.2" r="3.0"/><circle cx="558.9" cy="766.9" r="3.0"/><circle cx="557.1" cy="768.7" r="3.0"/><circle cx="549.2" cy="768.0" r="3.0"/><circle cx="550.3" cy="764.8" r="3.0"/><circle cx="553.3" cy="771.5" r="3.0"/><circle cx="557.9" cy="770.5" r="3.0"/><circle cx="546.4" cy="767.6" r="3.0"/><circle cx="578.1" cy="775.2" r="3.0"/><circle cx="552.2" cy="770.9" r="3.0"/><circle cx="560.8" cy="763.9" r="3.0"/><circle cx="573.2" cy="770.4" r="3.0"/><circle cx="564.0" cy="768.2" r="3.0"/><circle cx="579.7" cy="767.6" r="3.0"/><circle cx="562.4" cy="776.3" r="3.0"/><circle cx="570.9" cy="769.6" r="3.0"/><circle cx="556.3" cy="775.9" r="3.0"/><circle cx="549.9" cy="777.4" r="3.0"/><circle cx="550.2" cy="769.3" r="3.0"/><circle cx="558.8" cy="776.4" r="3.0"/><circle cx="556.2" cy="778.3" r="3.0"/><circle cx="549.3" cy="771.5" r="3.0"/><circle cx="577.8" cy="776.7" r="3.0"/><circle cx="561.2" cy="781.0" r="3.0"/><circle cx="570.1" cy="774.6" r="3.0"/><circle cx="568.6" cy="765.3" r="3.0"/><circle cx="561.4" cy="769.4" r="3.0"/><circle cx="561.4" cy="766.1" r="3.0"/><circle cx="543.7" cy="776.5" r="3.0"/><circle cx="548.8" cy="776.0" r="3.0"/><circle cx="571.9" cy="779.3" r="3.0"/><circle cx="572.0" cy="774.9" r="3.0"/><circle cx="555.4" cy="774.2" r="3.0"/><circle cx="572.2" cy="769.8" r="3.0"/><circle cx="543.9" cy="775.0" r="3.0"/><circle cx="547.5" cy="776.8" r="3.0"/><circle cx="565.5" cy="780.2" r="3.0"/><circle cx="559.2" cy="763.8" r="3.0"/><circle cx="564.8" cy="773.0" r="3.0"/><circle cx="574.8" cy="778.3" r="3.0"/><circle cx="542.5" cy="772.9" r="3.0"/><circle cx="575.2" cy="767.1" r="3.0"/><circle cx="566.4" cy="776.5" r="3.0"/><circle cx="561.6" cy="772.0" r="3.0"/><circle cx="564.5" cy="776.4" r="3.0"/><circle cx="549.9" cy="780.9" r="3.0"/><circle cx="555.9" cy="782.9" r="3.0"/><circle cx="554.9" cy="778.2" r="3.0"/><circle cx="547.8" cy="766.5" r="3.0"/><circle cx="541.9" cy="766.1" r="3.0"/><circle cx="548.5" cy="761.6" r="3.0"/><circle cx="554.3" cy="762.7" r="3.0"/><circle cx="560.5" cy="763.5" r="3.0"/><circle cx="566.3" cy="763.4" r="3.0"/><circle cx="571.8" cy="765.5" r="3.0"/><circle cx="576.2" cy="767.9" r="3.0"/><circle cx="579.1" cy="766.7" r="3.0"/><circle cx="581.5" cy="775.4" r="3.0"/><circle cx="575.3" cy="777.0" r="3.0"/><circle cx="572.2" cy="780.2" r="3.0"/><circle cx="564.5" cy="783.0" r="3.0"/><circle cx="559.9" cy="784.6" r="3.0"/><circle cx="553.4" cy="784.6" r="3.0"/><circle cx="547.9" cy="782.9" r="3.0"/><circle cx="542.7" cy="780.5" r="3.0"/><circle cx="541.0" cy="773.9" r="3.0"/><circle cx="811.4" cy="778.4" r="3.0"/><circle cx="796.9" cy="784.0" r="3.0"/><circle cx="808.5" cy="781.8" r="3.0"/><circle cx="795.0" cy="786.6" r="3.0"/><circle cx="812.1" cy="779.5" r="3.0"/><circle cx="790.2" cy="785.1" r="3.0"/><circle cx="801.8" cy="793.4" r="3.0"/><circle cx="803.4" cy="794.3" r="3.0"/><circle cx="801.2" cy="788.2" r="3.0"/><circle cx="809.1" cy="776.3" r="3.0"/><circle cx="798.2" cy="781.1" r="3.0"/><circle cx="802.6" cy="779.4" r="3.0"/><circle cx="808.0" cy="791.2" r="3.0"/><circle cx="804.7" cy="787.6" r="3.0"/><circle cx="807.0" cy="789.7" r="3.0"/><circle cx="797.7" cy="783.1" r="3.0"/><circle cx="803.3" cy="794.5" r="3.0"/><circle cx="800.6" cy="789.7" r="3.0"/><circle cx="798.7" cy="781.9" r="3.0"/><circle cx="805.7" cy="790.4" r="3.0"/><circle cx="790.9" cy="785.1" r="3.0"/><circle cx="797.6" cy="782.1" r="3.0"/><circle cx="799.4" cy="779.9" r="3.0"/><circle cx="804.4" cy="777.3" r="3.0"/><circle cx="810.3" cy="778.1" r="3.0"/><circle cx="813.3" cy="781.0" r="3.0"/><circle cx="808.0" cy="788.7" r="3.0"/><circle cx="809.2" cy="795.5" r="3.0"/><circle cx="801.2" cy="794.0" r="3.0"/><circle cx="799.4" cy="790.2" r="3.0"/><circle cx="792.8" cy="787.5" r="3.0"/><circle cx="735.6" cy="850.0" r="3.0"/><circle cx="700.8" cy="856.4" r="3.0"/><circle cx="729.2" cy="857.3" r="3.0"/><circle cx="719.3" cy="846.2" r="3.0"/><circle cx="716.2" cy="851.7" r="3.0"/><circle cx="708.4" cy="835.5" r="3.0"/><circle cx="700.9" cy="856.1" r="3.0"/><circle cx="728.4" cy="859.0" r="3.0"/><circle cx="728.6" cy="848.6" r="3.0"/><circle cx="738.2" cy="856.8" r="3.0"/><circle cx="727.3" cy="855.5" r="3.0"/><circle cx="733.0" cy="840.8" r="3.0"/><circle cx="712.5" cy="838.6" r="3.0"/><circle cx="699.0" cy="848.6" r="3.0"/><circle cx="710.9" cy="856.7" r="3.0"/><circle cx="707.6" cy="833.5" r="3.0"/><circle cx="726.9" cy="854.9" r="3.0"/><circle cx="691.9" cy="852.3" r="3.0"/><circle cx="691.6" cy="850.5" r="3.0"/><circle cx="736.5" cy="855.4" r="3.0"/><circle cx="716.9" cy="856.3" r="3.0"/><circle cx="731.6" cy="856.8" r="3.0"/><circle cx="705.8" cy="832.7" r="3.0"/><circle cx="716.6" cy="849.2" r="3.0"/><circle cx="741.1" cy="847.4" r="3.0"/><circle cx="742.6" cy="845.9" r="3.0"/><circle cx="738.8" cy="850.1" r="3.0"/><circle cx="712.8" cy="842.4" r="3.0"/><circle cx="693.7" cy="852.4" r="3.0"/><circle cx="724.0" cy="840.3" r="3.0"/><circle cx="732.0" cy="857.2" r="3.0"/><circle cx="722.3" cy="849.4" r="3.0"/><circle cx="732.3" cy="848.2" r="3.0"/><circle cx="709.4" cy="853.7" r="3.0"/><circle cx="745.4" cy="844.4" r="3.0"/><circle cx="701.3" cy="858.4" r="3.0"/><circle cx="712.0" cy="837.7" r="3.0"/><circle cx="719.3" cy="861.6" r="3.0"/><circle cx="703.9" cy="849.4" r="3.0"/><circle cx="732.6" cy="852.8" r="3.0"/><circle cx="695.4" cy="850.3" r="3.0"/><circle cx="718.6" cy="848.6" r="3.0"/><circle cx="728.8" cy="848.3" r="3.0"/><circle cx="727.4" cy="843.5" r="3.0"/><circle cx="720.5" cy="852.2" r="3.0"/><circle cx="699.0" cy="850.8" r="3.0"/><circle cx="696.2" cy="852.6" r="3.0"/><circle cx="730.8" cy="843.6" r="3.0"/><circle cx="729.7" cy="856.5" r="3.0"/><circle cx="706.3" cy="852.1" r="3.0"/><circle cx="711.5" cy="850.9" r="3.0"/><circle cx="727.8" cy="858.3" r="3.0"/><circle cx="711.9" cy="855.2" r="3.0"/><circle cx="703.1" cy="851.6" r="3.0"/><circle cx="723.8" cy="847.2" r="3.0"/><circle cx="712.0" cy="853.3" r="3.0"/><circle cx="741.4" cy="850.5" r="3.0"/><circle cx="712.3" cy="848.9" r="3.0"/><circle cx="709.4" cy="855.9" r="3.0"/><circle cx="704.0" cy="855.2" r="3.0"/><circle cx="693.6" cy="849.0" r="3.0"/><circle cx="709.7" cy="849.4" r="3.0"/><circle cx="709.5" cy="851.5" r="3.0"/><circle cx="709.7" cy="859.0" r="3.0"/><circle cx="730.7" cy="859.9" r="3.0"/><circle cx="699.6" cy="848.6" r="3.0"/><circle cx="736.4" cy="839.8" r="3.0"/><circle cx="715.1" cy="853.0" r="3.0"/><circle cx="708.8" cy="858.8" r="3.0"/><circle cx="694.0" cy="851.6" r="3.0"/><circle cx="709.3" cy="861.6" r="3.0"/><circle cx="722.1" cy="852.7" r="3.0"/><circle cx="692.2" cy="851.4" r="3.0"/><circle cx="715.6" cy="844.9" r="3.0"/><circle cx="716.0" cy="857.4" r="3.0"/><circle cx="700.5" cy="857.5" r="3.0"/><circle cx="718.2" cy="841.9" r="3.0"/><circle cx="712.0" cy="855.5" r="3.0"/><circle cx="720.6" cy="843.1" r="3.0"/><circle cx="703.7" cy="845.0" r="3.0"/><circle cx="723.0" cy="842.8" r="3.0"/><circle cx="712.4" cy="846.8" r="3.0"/><circle cx="717.2" cy="853.0" r="3.0"/><circle cx="706.0" cy="841.7" r="3.0"/><circle cx="734.1" cy="841.9" r="3.0"/><circle cx="725.6" cy="859.7" r="3.0"/><circle cx="731.5" cy="841.4" r="3.0"/><circle cx="732.9" cy="856.1" r="3.0"/><circle cx="735.6" cy="856.2" r="3.0"/><circle cx="704.6" cy="857.8" r="3.0"/><circle cx="708.3" cy="848.0" r="3.0"/><circle cx="706.6" cy="862.4" r="3.0"/><circle cx="711.8" cy="853.6" r="3.0"/><circle cx="707.6" cy="846.2" r="3.0"/><circle cx="727.1" cy="845.8" r="3.0"/><circle cx="707.2" cy="858.4" r="3.0"/><circle cx="707.6" cy="838.4" r="3.0"/><circle cx="708.4" cy="855.6" r="3.0"/><circle cx="709.2" cy="840.7" r="3.0"/><circle cx="690.5" cy="848.8" r="3.0"/><circle cx="698.4" cy="844.4" r="3.0"/><circle cx="704.6" cy="834.2" r="3.0"/><circle cx="704.2" cy="831.2" r="3.0"/><circle cx="710.9" cy="831.8" r="3.0"/><circle cx="714.1" cy="838.1" r="3.0"/><circle cx="720.7" cy="838.5" r="3.0"/><circle cx="728.4" cy="838.5" r="3.0"/><circle cx="728.9" cy="838.5" r="3.0"/><circle cx="736.6" cy="840.6" r="3.0"/><circle cx="741.2" cy="840.5" r="3.0"/><circle cx="744.2" cy="846.0" r="3.0"/><circle cx="742.8" cy="850.2" r="3.0"/><circle cx="738.1" cy="855.1" r="3.0"/><circle cx="736.7" cy="857.9" r="3.0"/><circle cx="728.8" cy="860.8" r="3.0"/><circle cx="724.4" cy="861.9" r="3.0"/><circle cx="719.2" cy="863.4" r="3.0"/><circle cx="714.6" cy="862.3" r="3.0"/><circle cx="707.4" cy="863.3" r="3.0"/><circle cx="703.3" cy="860.3" r="3.0"/><circle cx="699.7" cy="860.9" r="3.0"/><circle cx="694.1" cy="857.4" r="3.0"/><circle cx="552.5" cy="790.0" r="3.0"/><circle cx="552.5" cy="793.8" r="3.0"/><circle cx="571.2" cy="758.0" r="3.0"/><circle cx="577.5" cy="752.5" r="3.0"/><circle cx="578.8" cy="760.0" r="3.0"/><circle cx="580.0" cy="765.5" r="3.0"/><circle cx="600.8" cy="778.0" r="3.0"/><circle cx="613.0" cy="778.0" r="3.0"/><circle cx="610.5" cy="785.5" r="3.0"/><circle cx="725.0" cy="722.5" r="3.0"/><circle cx="730.0" cy="718.0" r="3.0"/><circle cx="745.0" cy="799.5" r="3.0"/><circle cx="747.5" cy="795.0" r="3.0"/><circle cx="751.2" cy="793.0" r="3.0"/><circle cx="605.0" cy="844.5" r="3.0"/><circle cx="610.0" cy="840.0" r="3.0"/><circle cx="610.0" cy="850.0" r="3.0"/><circle cx="612.5" cy="857.5" r="3.0"/><circle cx="616.2" cy="866.2" r="3.0"/><circle cx="620.0" cy="873.8" r="3.0"/><circle cx="623.8" cy="878.8" r="3.0"/><circle cx="567.5" cy="770.0" r="3.0"/><circle cx="555.0" cy="772.5" r="3.0"/><circle cx="545.0" cy="770.0" r="3.0"/><circle cx="630.9" cy="928.9" r="3.0"/><circle cx="635.9" cy="920.4" r="3.0"/><circle cx="639.0" cy="921.0" r="3.0"/><circle cx="629.3" cy="919.2" r="3.0"/><circle cx="626.1" cy="923.5" r="3.0"/><circle cx="626.6" cy="925.1" r="3.0"/><circle cx="625.5" cy="926.3" r="3.0"/><circle cx="632.8" cy="915.6" r="3.0"/><circle cx="639.2" cy="913.1" r="3.0"/><circle cx="630.1" cy="915.2" r="3.0"/><circle cx="629.0" cy="898.3" r="3.0"/><circle cx="633.1" cy="908.5" r="3.0"/><circle cx="632.5" cy="929.8" r="3.0"/><circle cx="636.2" cy="918.3" r="3.0"/><circle cx="639.6" cy="908.7" r="3.0"/><circle cx="639.7" cy="916.5" r="3.0"/><circle cx="628.8" cy="924.0" r="3.0"/><circle cx="629.1" cy="903.9" r="3.0"/><circle cx="627.1" cy="918.8" r="3.0"/><circle cx="634.5" cy="923.6" r="3.0"/><circle cx="632.9" cy="928.9" r="3.0"/><circle cx="633.3" cy="902.9" r="3.0"/><circle cx="627.3" cy="893.1" r="3.0"/><circle cx="636.3" cy="915.7" r="3.0"/><circle cx="631.9" cy="896.6" r="3.0"/><circle cx="640.3" cy="911.0" r="3.0"/><circle cx="634.9" cy="916.2" r="3.0"/><circle cx="621.5" cy="883.2" r="3.0"/><circle cx="629.7" cy="927.4" r="3.0"/><circle cx="632.1" cy="904.8" r="3.0"/><circle cx="631.2" cy="901.8" r="3.0"/><circle cx="635.2" cy="909.0" r="3.0"/><circle cx="624.2" cy="888.0" r="3.0"/><circle cx="632.5" cy="908.3" r="3.0"/><circle cx="633.1" cy="919.9" r="3.0"/><circle cx="637.8" cy="903.7" r="3.0"/><circle cx="638.8" cy="905.0" r="3.0"/><circle cx="629.4" cy="905.5" r="3.0"/><circle cx="627.8" cy="892.5" r="3.0"/><circle cx="636.6" cy="903.7" r="3.0"/><circle cx="620.6" cy="880.9" r="3.0"/><circle cx="624.0" cy="884.4" r="3.0"/><circle cx="628.3" cy="886.9" r="3.0"/><circle cx="633.0" cy="892.5" r="3.0"/><circle cx="636.6" cy="897.5" r="3.0"/><circle cx="639.5" cy="903.8" r="3.0"/><circle cx="640.2" cy="907.1" r="3.0"/><circle cx="640.0" cy="913.6" r="3.0"/><circle cx="640.3" cy="921.4" r="3.0"/><circle cx="635.4" cy="926.2" r="3.0"/><circle cx="630.7" cy="930.1" r="3.0"/><circle cx="624.3" cy="927.6" r="3.0"/><circle cx="626.2" cy="918.2" r="3.0"/><circle cx="629.6" cy="914.5" r="3.0"/><circle cx="630.1" cy="908.4" r="3.0"/><circle cx="626.9" cy="902.8" r="3.0"/><circle cx="626.9" cy="898.8" r="3.0"/><circle cx="624.2" cy="892.3" r="3.0"/><circle cx="623.4" cy="884.6" r="3.0"/><circle cx="715.6" cy="950.5" r="3.0"/><circle cx="723.8" cy="938.0" r="3.0"/><circle cx="703.5" cy="935.4" r="3.0"/><circle cx="713.0" cy="949.1" r="3.0"/><circle cx="712.1" cy="946.2" r="3.0"/><circle cx="708.1" cy="938.8" r="3.0"/><circle cx="721.6" cy="937.2" r="3.0"/><circle cx="722.1" cy="935.8" r="3.0"/><circle cx="711.1" cy="937.8" r="3.0"/><circle cx="700.1" cy="934.1" r="3.0"/><circle cx="717.9" cy="949.2" r="3.0"/><circle cx="712.8" cy="940.8" r="3.0"/><circle cx="713.1" cy="944.3" r="3.0"/><circle cx="714.5" cy="942.7" r="3.0"/><circle cx="722.6" cy="945.9" r="3.0"/><circle cx="714.2" cy="939.0" r="3.0"/><circle cx="711.7" cy="936.2" r="3.0"/><circle cx="723.9" cy="937.2" r="3.0"/><circle cx="717.8" cy="936.5" r="3.0"/><circle cx="725.0" cy="937.9" r="3.0"/><circle cx="724.3" cy="939.8" r="3.0"/><circle cx="713.8" cy="953.7" r="3.0"/><circle cx="717.2" cy="943.8" r="3.0"/><circle cx="724.3" cy="942.2" r="3.0"/><circle cx="723.5" cy="940.2" r="3.0"/><circle cx="725.1" cy="939.6" r="3.0"/><circle cx="706.6" cy="935.6" r="3.0"/><circle cx="715.5" cy="935.7" r="3.0"/><circle cx="713.8" cy="947.9" r="3.0"/><circle cx="719.8" cy="937.6" r="3.0"/><circle cx="712.8" cy="939.7" r="3.0"/><circle cx="699.4" cy="933.1" r="3.0"/><circle cx="720.8" cy="935.8" r="3.0"/><circle cx="700.5" cy="931.6" r="3.0"/><circle cx="707.8" cy="930.8" r="3.0"/><circle cx="712.0" cy="933.4" r="3.0"/><circle cx="719.2" cy="934.5" r="3.0"/><circle cx="726.3" cy="936.0" r="3.0"/><circle cx="729.2" cy="941.1" r="3.0"/><circle cx="721.9" cy="947.4" r="3.0"/><circle cx="716.9" cy="952.6" r="3.0"/><circle cx="714.3" cy="953.7" r="3.0"/><circle cx="710.2" cy="950.7" r="3.0"/><circle cx="710.4" cy="948.5" r="3.0"/><circle cx="707.3" cy="942.6" r="3.0"/><circle cx="701.4" cy="936.6" r="3.0"/><circle cx="520.5" cy="970.8" r="3.0"/><circle cx="518.0" cy="1012.1" r="3.0"/><circle cx="525.1" cy="997.5" r="3.0"/><circle cx="528.4" cy="1006.0" r="3.0"/><circle cx="520.5" cy="1011.2" r="3.0"/><circle cx="531.4" cy="998.3" r="3.0"/><circle cx="528.9" cy="989.7" r="3.0"/><circle cx="531.5" cy="992.0" r="3.0"/><circle cx="523.5" cy="996.8" r="3.0"/><circle cx="520.4" cy="980.6" r="3.0"/><circle cx="530.0" cy="1015.6" r="3.0"/><circle cx="528.1" cy="1016.0" r="3.0"/><circle cx="519.6" cy="982.1" r="3.0"/><circle cx="535.8" cy="999.4" r="3.0"/><circle cx="530.0" cy="995.2" r="3.0"/><circle cx="525.8" cy="1004.3" r="3.0"/><circle cx="530.0" cy="1001.3" r="3.0"/><circle cx="520.1" cy="987.2" r="3.0"/><circle cx="522.2" cy="985.1" r="3.0"/><circle cx="532.3" cy="1004.1" r="3.0"/><circle cx="527.7" cy="990.0" r="3.0"/><circle cx="528.9" cy="1016.9" r="3.0"/><circle cx="523.4" cy="990.3" r="3.0"/><circle cx="537.2" cy="1002.8" r="3.0"/><circle cx="518.1" cy="1017.2" r="3.0"/><circle cx="532.9" cy="992.4" r="3.0"/><circle cx="525.5" cy="994.7" r="3.0"/><circle cx="527.9" cy="1002.3" r="3.0"/><circle cx="531.2" cy="997.1" r="3.0"/><circle cx="528.9" cy="995.7" r="3.0"/><circle cx="521.3" cy="985.8" r="3.0"/><circle cx="522.8" cy="989.1" r="3.0"/><circle cx="529.3" cy="995.9" r="3.0"/><circle cx="522.7" cy="989.9" r="3.0"/><circle cx="529.1" cy="1009.0" r="3.0"/><circle cx="520.5" cy="972.3" r="3.0"/><circle cx="518.5" cy="981.5" r="3.0"/><circle cx="524.9" cy="993.2" r="3.0"/><circle cx="524.4" cy="1012.4" r="3.0"/><circle cx="520.5" cy="985.9" r="3.0"/><circle cx="536.5" cy="1000.4" r="3.0"/><circle cx="523.5" cy="1014.3" r="3.0"/><circle cx="521.6" cy="1013.5" r="3.0"/><circle cx="525.5" cy="987.0" r="3.0"/><circle cx="523.4" cy="1009.1" r="3.0"/><circle cx="518.2" cy="969.1" r="3.0"/><circle cx="535.5" cy="996.5" r="3.0"/><circle cx="524.7" cy="999.4" r="3.0"/><circle cx="528.2" cy="1011.2" r="3.0"/><circle cx="524.9" cy="1014.6" r="3.0"/><circle cx="523.5" cy="978.0" r="3.0"/><circle cx="527.1" cy="994.6" r="3.0"/><circle cx="518.2" cy="1012.8" r="3.0"/><circle cx="523.3" cy="979.5" r="3.0"/><circle cx="523.3" cy="1015.6" r="3.0"/><circle cx="518.8" cy="984.5" r="3.0"/><circle cx="515.8" cy="966.9" r="3.0"/><circle cx="520.0" cy="966.9" r="3.0"/><circle cx="523.9" cy="976.2" r="3.0"/><circle cx="524.8" cy="981.3" r="3.0"/><circle cx="526.5" cy="985.4" r="3.0"/><circle cx="530.4" cy="987.9" r="3.0"/><circle cx="534.3" cy="991.7" r="3.0"/><circle cx="537.0" cy="998.1" r="3.0"/><circle cx="536.1" cy="1005.4" r="3.0"/><circle cx="533.7" cy="1011.9" r="3.0"/><circle cx="528.9" cy="1016.4" r="3.0"/><circle cx="521.6" cy="1017.9" r="3.0"/><circle cx="517.2" cy="1020.5" r="3.0"/><circle cx="513.9" cy="1015.0" r="3.0"/><circle cx="516.6" cy="1010.4" r="3.0"/><circle cx="521.0" cy="1006.2" r="3.0"/><circle cx="522.3" cy="999.9" r="3.0"/><circle cx="522.8" cy="996.7" r="3.0"/><circle cx="521.9" cy="991.7" r="3.0"/><circle cx="519.7" cy="986.7" r="3.0"/><circle cx="516.8" cy="981.8" r="3.0"/><circle cx="516.2" cy="976.1" r="3.0"/><circle cx="516.3" cy="969.3" r="3.0"/><circle cx="613.2" cy="910.5" r="3.0"/><circle cx="647.5" cy="915.5" r="3.0"/><circle cx="650.5" cy="913.8" r="3.0"/><circle cx="658.8" cy="916.2" r="3.0"/><circle cx="662.5" cy="918.8" r="3.0"/><circle cx="682.5" cy="926.2" r="3.0"/><circle cx="687.5" cy="928.0" r="3.0"/><circle cx="508.8" cy="917.5" r="3.0"/><circle cx="508.8" cy="922.5" r="3.0"/><circle cx="511.2" cy="935.0" r="3.0"/><circle cx="656.2" cy="980.0" r="3.0"/><circle cx="660.0" cy="985.0" r="3.0"/></g>
<g fill="#A98BEA"><circle cx="368.1" cy="825.7" r="3.0"/><circle cx="350.2" cy="722.8" r="3.0"/><circle cx="455.4" cy="586.4" r="3.0"/><circle cx="337.5" cy="843.5" r="3.0"/><circle cx="991.0" cy="685.6" r="3.0"/><circle cx="826.0" cy="300.0" r="3.0"/><circle cx="312.3" cy="836.5" r="3.0"/><circle cx="322.5" cy="814.2" r="3.0"/><circle cx="972.6" cy="736.0" r="3.0"/><circle cx="461.8" cy="871.6" r="3.0"/><circle cx="307.3" cy="854.9" r="3.0"/><circle cx="674.5" cy="727.0" r="3.0"/><circle cx="738.2" cy="843.0" r="3.0"/><circle cx="684.2" cy="115.0" r="3.0"/><circle cx="384.8" cy="803.6" r="3.0"/><circle cx="466.1" cy="590.4" r="3.0"/><circle cx="398.5" cy="786.7" r="3.0"/><circle cx="356.7" cy="832.2" r="3.0"/><circle cx="370.1" cy="803.5" r="3.0"/><circle cx="943.0" cy="675.6" r="3.0"/><circle cx="362.1" cy="848.4" r="3.0"/><circle cx="386.6" cy="812.7" r="3.0"/><circle cx="206.0" cy="545.3" r="3.0"/><circle cx="464.2" cy="470.0" r="3.0"/><circle cx="365.3" cy="795.3" r="3.0"/><circle cx="201.3" cy="504.4" r="3.0"/><circle cx="1016.4" cy="638.4" r="3.0"/><circle cx="360.7" cy="814.5" r="3.0"/><circle cx="927.0" cy="684.0" r="3.0"/><circle cx="724.7" cy="191.3" r="3.0"/><circle cx="397.8" cy="789.9" r="3.0"/><circle cx="820.0" cy="294.0" r="3.0"/><circle cx="955.6" cy="779.6" r="3.0"/><circle cx="354.2" cy="776.0" r="3.0"/><circle cx="513.0" cy="556.3" r="3.0"/><circle cx="407.5" cy="420.8" r="3.0"/><circle cx="321.6" cy="774.8" r="3.0"/><circle cx="461.4" cy="578.7" r="3.0"/><circle cx="911.6" cy="721.6" r="3.0"/><circle cx="325.6" cy="847.4" r="3.0"/><circle cx="630.8" cy="435.8" r="3.0"/><circle cx="994.4" cy="664.4" r="3.0"/><circle cx="547.2" cy="313.7" r="3.0"/><circle cx="310.4" cy="829.2" r="3.0"/><circle cx="904.3" cy="555.0" r="3.0"/><circle cx="942.6" cy="743.6" r="3.0"/><circle cx="695.8" cy="450.0" r="3.0"/><circle cx="624.0" cy="675.0" r="3.0"/><circle cx="962.4" cy="695.6" r="3.0"/><circle cx="299.3" cy="818.1" r="3.0"/><circle cx="467.0" cy="574.2" r="3.0"/><circle cx="343.2" cy="733.6" r="3.0"/><circle cx="494.3" cy="582.1" r="3.0"/><circle cx="503.6" cy="872.3" r="3.0"/><circle cx="523.2" cy="1013.0" r="3.0"/><circle cx="466.7" cy="466.7" r="3.0"/><circle cx="471.6" cy="578.9" r="3.0"/><circle cx="359.1" cy="825.4" r="3.0"/><circle cx="408.3" cy="440.0" r="3.0"/><circle cx="971.6" cy="776.0" r="3.0"/><circle cx="363.2" cy="836.5" r="3.0"/><circle cx="603.3" cy="399.7" r="3.0"/><circle cx="166.3" cy="560.3" r="3.0"/><circle cx="633.8" cy="428.3" r="3.0"/><circle cx="1011.0" cy="642.6" r="3.0"/><circle cx="313.3" cy="849.5" r="3.0"/><circle cx="339.3" cy="778.0" r="3.0"/><circle cx="979.6" cy="704.0" r="3.0"/><circle cx="495.8" cy="552.2" r="3.0"/><circle cx="200.0" cy="545.3" r="3.0"/><circle cx="212.7" cy="512.4" r="3.0"/><circle cx="821.8" cy="306.0" r="3.0"/><circle cx="322.0" cy="833.3" r="3.0"/><circle cx="472.5" cy="544.2" r="3.0"/><circle cx="311.6" cy="817.0" r="3.0"/><circle cx="335.0" cy="832.2" r="3.0"/><circle cx="409.8" cy="831.7" r="3.0"/><circle cx="388.3" cy="398.7" r="3.0"/><circle cx="380.5" cy="830.0" r="3.0"/><circle cx="368.6" cy="804.0" r="3.0"/><circle cx="391.7" cy="388.0" r="3.0"/><circle cx="512.5" cy="451.7" r="3.0"/><circle cx="739.7" cy="193.7" r="3.0"/><circle cx="359.8" cy="832.6" r="3.0"/><circle cx="952.0" cy="725.6" r="3.0"/><circle cx="368.6" cy="779.1" r="3.0"/><circle cx="348.1" cy="859.1" r="3.0"/><circle cx="510.8" cy="522.8" r="3.0"/><circle cx="995.4" cy="693.6" r="3.0"/><circle cx="333.9" cy="730.7" r="3.0"/><circle cx="713.0" cy="855.0" r="3.0"/><circle cx="372.0" cy="821.0" r="3.0"/><circle cx="710.0" cy="185.8" r="3.0"/><circle cx="292.7" cy="823.3" r="3.0"/><circle cx="316.6" cy="832.2" r="3.0"/><circle cx="379.4" cy="860.3" r="3.0"/><circle cx="335.0" cy="827.8" r="3.0"/><circle cx="462.5" cy="563.3" r="3.0"/><circle cx="395.0" cy="429.2" r="3.0"/><circle cx="647.0" cy="662.0" r="3.0"/><circle cx="636.8" cy="917.5" r="3.0"/><circle cx="163.3" cy="557.3" r="3.0"/><circle cx="436.8" cy="567.8" r="3.0"/><circle cx="373.0" cy="805.6" r="3.0"/><circle cx="332.8" cy="851.7" r="3.0"/><circle cx="468.6" cy="569.5" r="3.0"/><circle cx="310.0" cy="831.5" r="3.0"/><circle cx="635.5" cy="673.0" r="3.0"/><circle cx="327.8" cy="856.6" r="3.0"/><circle cx="303.6" cy="813.8" r="3.0"/><circle cx="362.0" cy="848.4" r="3.0"/><circle cx="308.3" cy="815.2" r="3.0"/><circle cx="198.7" cy="511.7" r="3.0"/><circle cx="755.8" cy="594.5" r="3.0"/><circle cx="468.3" cy="583.3" r="3.0"/><circle cx="720.8" cy="120.8" r="3.0"/><circle cx="356.7" cy="732.5" r="3.0"/><circle cx="678.0" cy="735.0" r="3.0"/><circle cx="471.8" cy="562.9" r="3.0"/><circle cx="465.0" cy="597.3" r="3.0"/><circle cx="398.7" cy="411.7" r="3.0"/><circle cx="926.0" cy="730.0" r="3.0"/><circle cx="634.2" cy="911.2" r="3.0"/><circle cx="323.1" cy="822.4" r="3.0"/><circle cx="355.0" cy="760.6" r="3.0"/><circle cx="718.0" cy="850.5" r="3.0"/><circle cx="472.3" cy="564.7" r="3.0"/><circle cx="489.2" cy="584.2" r="3.0"/><circle cx="603.8" cy="408.2" r="3.0"/><circle cx="644.0" cy="662.0" r="3.0"/><circle cx="402.8" cy="815.5" r="3.0"/><circle cx="633.8" cy="897.0" r="3.0"/><circle cx="337.5" cy="756.9" r="3.0"/><circle cx="515.8" cy="538.3" r="3.0"/><circle cx="697.5" cy="448.3" r="3.0"/><circle cx="393.3" cy="395.0" r="3.0"/><circle cx="475.3" cy="452.5" r="3.0"/><circle cx="328.5" cy="834.3" r="3.0"/><circle cx="742.7" cy="276.3" r="3.0"/><circle cx="402.5" cy="425.0" r="3.0"/><circle cx="350.0" cy="809.7" r="3.0"/><circle cx="419.5" cy="832.2" r="3.0"/><circle cx="703.8" cy="843.8" r="3.0"/><circle cx="460.0" cy="586.7" r="3.0"/><circle cx="470.3" cy="441.3" r="3.0"/><circle cx="208.0" cy="532.0" r="3.0"/><circle cx="473.3" cy="595.0" r="3.0"/><circle cx="221.7" cy="507.1" r="3.0"/><circle cx="905.0" cy="734.4" r="3.0"/><circle cx="956.6" cy="672.0" r="3.0"/><circle cx="402.5" cy="419.2" r="3.0"/><circle cx="379.4" cy="857.1" r="3.0"/><circle cx="936.0" cy="776.0" r="3.0"/><circle cx="369.7" cy="830.0" r="3.0"/><circle cx="363.2" cy="821.1" r="3.0"/><circle cx="1001.0" cy="641.0" r="3.0"/><circle cx="382.7" cy="840.8" r="3.0"/><circle cx="325.9" cy="861.4" r="3.0"/><circle cx="661.7" cy="125.0" r="3.0"/><circle cx="339.3" cy="762.8" r="3.0"/><circle cx="302.1" cy="837.2" r="3.0"/><circle cx="325.9" cy="839.8" r="3.0"/><circle cx="685.8" cy="139.2" r="3.0"/><circle cx="294.9" cy="853.8" r="3.0"/><circle cx="475.0" cy="581.7" r="3.0"/><circle cx="744.0" cy="541.5" r="3.0"/><circle cx="466.7" cy="598.3" r="3.0"/><circle cx="781.0" cy="297.3" r="3.0"/><circle cx="926.0" cy="756.4" r="3.0"/><circle cx="478.7" cy="574.3" r="3.0"/><circle cx="469.2" cy="463.3" r="3.0"/><circle cx="988.4" cy="742.0" r="3.0"/><circle cx="896.0" cy="578.3" r="3.0"/><circle cx="307.9" cy="830.0" r="3.0"/><circle cx="485.0" cy="590.0" r="3.0"/><circle cx="515.0" cy="566.7" r="3.0"/><circle cx="366.4" cy="825.7" r="3.0"/><circle cx="609.7" cy="397.8" r="3.0"/><circle cx="684.2" cy="158.3" r="3.0"/><circle cx="314.0" cy="771.1" r="3.0"/><circle cx="686.7" cy="120.0" r="3.0"/><circle cx="522.8" cy="238.3" r="3.0"/><circle cx="499.3" cy="867.3" r="3.0"/><circle cx="690.0" cy="168.3" r="3.0"/><circle cx="351.7" cy="752.7" r="3.0"/><circle cx="163.7" cy="520.0" r="3.0"/><circle cx="349.7" cy="740.8" r="3.0"/><circle cx="343.2" cy="770.4" r="3.0"/><circle cx="1032.4" cy="671.0" r="3.0"/><circle cx="233.3" cy="553.3" r="3.0"/><circle cx="318.5" cy="812.8" r="3.0"/><circle cx="338.3" cy="861.4" r="3.0"/><circle cx="323.7" cy="758.1" r="3.0"/><circle cx="627.5" cy="924.5" r="3.0"/><circle cx="481.9" cy="858.2" r="3.0"/><circle cx="348.7" cy="759.6" r="3.0"/><circle cx="187.6" cy="525.3" r="3.0"/><circle cx="427.1" cy="824.6" r="3.0"/><circle cx="470.0" cy="455.0" r="3.0"/><circle cx="1045.6" cy="694.4" r="3.0"/><circle cx="639.2" cy="912.5" r="3.0"/><circle cx="526.2" cy="1007.0" r="3.0"/><circle cx="1026.0" cy="675.6" r="3.0"/><circle cx="354.2" cy="846.3" r="3.0"/><circle cx="686.7" cy="455.8" r="3.0"/><circle cx="608.3" cy="235.3" r="3.0"/><circle cx="1004.4" cy="710.0" r="3.0"/><circle cx="743.5" cy="538.0" r="3.0"/><circle cx="421.2" cy="819.2" r="3.0"/><circle cx="453.3" cy="573.3" r="3.0"/><circle cx="483.3" cy="461.7" r="3.0"/><circle cx="463.3" cy="570.0" r="3.0"/><circle cx="202.7" cy="519.6" r="3.0"/><circle cx="946.0" cy="774.0" r="3.0"/><circle cx="1020.0" cy="666.0" r="3.0"/><circle cx="341.5" cy="801.8" r="3.0"/><circle cx="475.0" cy="562.5" r="3.0"/><circle cx="384.8" cy="737.3" r="3.0"/><circle cx="329.7" cy="797.1" r="3.0"/><circle cx="342.6" cy="745.5" r="3.0"/><circle cx="345.5" cy="819.1" r="3.0"/><circle cx="366.4" cy="768.9" r="3.0"/><circle cx="359.6" cy="785.0" r="3.0"/><circle cx="361.0" cy="745.5" r="3.0"/><circle cx="608.8" cy="782.5" r="3.0"/><circle cx="513.3" cy="546.7" r="3.0"/><circle cx="1022.0" cy="729.0" r="3.0"/><circle cx="812.2" cy="233.3" r="3.0"/><circle cx="337.9" cy="821.3" r="3.0"/><circle cx="790.0" cy="299.2" r="3.0"/><circle cx="370.6" cy="778.0" r="3.0"/><circle cx="380.5" cy="802.3" r="3.0"/><circle cx="343.4" cy="754.3" r="3.0"/><circle cx="449.6" cy="580.6" r="3.0"/><circle cx="382.0" cy="782.3" r="3.0"/><circle cx="192.0" cy="516.9" r="3.0"/><circle cx="546.7" cy="317.0" r="3.0"/><circle cx="458.3" cy="578.3" r="3.0"/><circle cx="477.6" cy="870.1" r="3.0"/><circle cx="355.2" cy="783.0" r="3.0"/><circle cx="476.7" cy="458.3" r="3.0"/><circle cx="309.0" cy="807.3" r="3.0"/><circle cx="496.5" cy="564.3" r="3.0"/><circle cx="742.0" cy="205.0" r="3.0"/><circle cx="387.5" cy="425.0" r="3.0"/><circle cx="501.3" cy="546.3" r="3.0"/><circle cx="386.3" cy="409.7" r="3.0"/><circle cx="309.0" cy="846.3" r="3.0"/><circle cx="707.0" cy="861.2" r="3.0"/><circle cx="641.3" cy="435.0" r="3.0"/><circle cx="685.8" cy="151.7" r="3.0"/><circle cx="483.3" cy="578.3" r="3.0"/><circle cx="522.0" cy="458.0" r="3.0"/><circle cx="1004.0" cy="751.0" r="3.0"/><circle cx="383.3" cy="415.7" r="3.0"/><circle cx="495.0" cy="570.0" r="3.0"/><circle cx="684.2" cy="142.5" r="3.0"/><circle cx="326.3" cy="732.5" r="3.0"/><circle cx="833.5" cy="292.5" r="3.0"/><circle cx="337.2" cy="812.7" r="3.0"/><circle cx="750.5" cy="793.0" r="3.0"/><circle cx="353.4" cy="806.2" r="3.0"/><circle cx="710.0" cy="935.5" r="3.0"/><circle cx="357.8" cy="788.8" r="3.0"/><circle cx="304.8" cy="842.2" r="3.0"/><circle cx="203.1" cy="550.7" r="3.0"/><circle cx="333.9" cy="791.5" r="3.0"/><circle cx="385.9" cy="818.1" r="3.0"/><circle cx="328.9" cy="751.4" r="3.0"/><circle cx="896.4" cy="699.0" r="3.0"/><circle cx="318.3" cy="840.8" r="3.0"/><circle cx="391.3" cy="765.0" r="3.0"/><circle cx="332.8" cy="724.9" r="3.0"/><circle cx="473.6" cy="594.4" r="3.0"/><circle cx="312.1" cy="791.1" r="3.0"/><circle cx="680.0" cy="119.2" r="3.0"/><circle cx="367.5" cy="824.3" r="3.0"/><circle cx="230.9" cy="575.7" r="3.0"/><circle cx="1041.6" cy="698.4" r="3.0"/><circle cx="706.2" cy="850.0" r="3.0"/><circle cx="368.6" cy="762.8" r="3.0"/><circle cx="329.6" cy="795.3" r="3.0"/><circle cx="519.5" cy="448.3" r="3.0"/><circle cx="660.5" cy="697.5" r="3.0"/><circle cx="749.8" cy="547.2" r="3.0"/><circle cx="635.8" cy="903.0" r="3.0"/><circle cx="696.7" cy="123.3" r="3.0"/><circle cx="695.0" cy="441.2" r="3.0"/><circle cx="374.0" cy="799.7" r="3.0"/><circle cx="378.3" cy="829.0" r="3.0"/><circle cx="1015.0" cy="726.4" r="3.0"/><circle cx="818.8" cy="232.2" r="3.0"/><circle cx="337.2" cy="858.2" r="3.0"/><circle cx="490.0" cy="564.2" r="3.0"/><circle cx="392.4" cy="767.2" r="3.0"/><circle cx="346.3" cy="847.5" r="3.0"/><circle cx="685.0" cy="457.5" r="3.0"/><circle cx="315.5" cy="859.3" r="3.0"/><circle cx="322.1" cy="783.9" r="3.0"/><circle cx="941.6" cy="703.0" r="3.0"/><circle cx="198.7" cy="520.7" r="3.0"/><circle cx="952.0" cy="725.0" r="3.0"/><circle cx="359.9" cy="824.6" r="3.0"/><circle cx="205.6" cy="538.7" r="3.0"/><circle cx="343.7" cy="795.3" r="3.0"/><circle cx="344.1" cy="757.3" r="3.0"/><circle cx="330.2" cy="754.1" r="3.0"/><circle cx="692.5" cy="158.3" r="3.0"/><circle cx="308.3" cy="839.3" r="3.0"/><circle cx="361.8" cy="816.6" r="3.0"/><circle cx="819.2" cy="276.0" r="3.0"/><circle cx="600.0" cy="433.3" r="3.0"/><circle cx="435.0" cy="590.0" r="3.0"/><circle cx="896.4" cy="711.0" r="3.0"/><circle cx="631.2" cy="926.2" r="3.0"/><circle cx="458.4" cy="583.3" r="3.0"/><circle cx="361.2" cy="808.0" r="3.0"/><circle cx="739.7" cy="276.7" r="3.0"/><circle cx="394.2" cy="402.3" r="3.0"/><circle cx="411.9" cy="826.8" r="3.0"/><circle cx="492.5" cy="587.0" r="3.0"/><circle cx="324.3" cy="748.1" r="3.0"/><circle cx="348.0" cy="851.7" r="3.0"/><circle cx="1004.0" cy="709.6" r="3.0"/><circle cx="711.7" cy="131.7" r="3.0"/><circle cx="755.8" cy="203.7" r="3.0"/><circle cx="795.3" cy="220.3" r="3.0"/><circle cx="517.5" cy="550.8" r="3.0"/><circle cx="349.8" cy="805.3" r="3.0"/><circle cx="962.4" cy="720.0" r="3.0"/><circle cx="486.2" cy="570.2" r="3.0"/><circle cx="723.3" cy="180.0" r="3.0"/><circle cx="1004.4" cy="630.4" r="3.0"/><circle cx="320.1" cy="821.3" r="3.0"/><circle cx="465.0" cy="455.8" r="3.0"/><circle cx="440.0" cy="575.8" r="3.0"/><circle cx="532.5" cy="997.0" r="3.0"/><circle cx="378.0" cy="832.6" r="3.0"/><circle cx="340.0" cy="794.9" r="3.0"/><circle cx="235.3" cy="546.3" r="3.0"/><circle cx="367.0" cy="809.7" r="3.0"/><circle cx="406.7" cy="401.3" r="3.0"/><circle cx="326.8" cy="789.9" r="3.0"/><circle cx="296.4" cy="843.3" r="3.0"/><circle cx="732.5" cy="172.0" r="3.0"/><circle cx="486.7" cy="355.0" r="3.0"/><circle cx="446.7" cy="565.0" r="3.0"/><circle cx="1045.6" cy="720.0" r="3.0"/><circle cx="717.5" cy="181.7" r="3.0"/><circle cx="190.7" cy="545.1" r="3.0"/><circle cx="298.6" cy="827.8" r="3.0"/><circle cx="921.6" cy="742.0" r="3.0"/><circle cx="385.0" cy="420.8" r="3.0"/><circle cx="832.3" cy="298.5" r="3.0"/><circle cx="672.5" cy="440.5" r="3.0"/><circle cx="346.9" cy="787.8" r="3.0"/><circle cx="300.5" cy="848.3" r="3.0"/><circle cx="326.3" cy="773.7" r="3.0"/><circle cx="371.8" cy="770.4" r="3.0"/><circle cx="627.2" cy="421.3" r="3.0"/><circle cx="676.7" cy="130.0" r="3.0"/><circle cx="392.9" cy="812.7" r="3.0"/><circle cx="395.7" cy="821.8" r="3.0"/><circle cx="392.0" cy="409.0" r="3.0"/><circle cx="189.7" cy="567.6" r="3.0"/><circle cx="748.3" cy="203.3" r="3.0"/><circle cx="344.8" cy="736.8" r="3.0"/><circle cx="325.1" cy="756.0" r="3.0"/><circle cx="359.1" cy="740.2" r="3.0"/><circle cx="486.3" cy="592.0" r="3.0"/><circle cx="240.4" cy="572.7" r="3.0"/><circle cx="624.5" cy="402.5" r="3.0"/><circle cx="349.7" cy="744.4" r="3.0"/><circle cx="629.7" cy="242.8" r="3.0"/><circle cx="507.3" cy="877.7" r="3.0"/><circle cx="353.4" cy="856.0" r="3.0"/><circle cx="326.3" cy="808.3" r="3.0"/><circle cx="295.6" cy="849.5" r="3.0"/><circle cx="398.8" cy="398.7" r="3.0"/><circle cx="318.8" cy="808.3" r="3.0"/><circle cx="343.7" cy="812.7" r="3.0"/><circle cx="634.5" cy="918.8" r="3.0"/><circle cx="804.2" cy="241.7" r="3.0"/><circle cx="366.4" cy="772.3" r="3.0"/><circle cx="516.7" cy="563.3" r="3.0"/><circle cx="978.4" cy="726.6" r="3.0"/><circle cx="319.8" cy="844.1" r="3.0"/><circle cx="475.8" cy="467.5" r="3.0"/><circle cx="705.0" cy="857.5" r="3.0"/><circle cx="470.6" cy="563.4" r="3.0"/><circle cx="344.6" cy="782.0" r="3.0"/><circle cx="446.7" cy="593.3" r="3.0"/><circle cx="332.0" cy="725.1" r="3.0"/><circle cx="353.0" cy="772.7" r="3.0"/><circle cx="296.5" cy="824.9" r="3.0"/><circle cx="423.3" cy="550.0" r="3.0"/><circle cx="361.8" cy="843.3" r="3.0"/><circle cx="353.4" cy="847.3" r="3.0"/><circle cx="496.3" cy="564.0" r="3.0"/><circle cx="775.3" cy="247.5" r="3.0"/><circle cx="177.1" cy="522.9" r="3.0"/><circle cx="730.8" cy="178.3" r="3.0"/><circle cx="324.0" cy="743.8" r="3.0"/><circle cx="510.0" cy="457.0" r="3.0"/><circle cx="431.7" cy="550.3" r="3.0"/><circle cx="628.3" cy="437.5" r="3.0"/><circle cx="414.7" cy="830.0" r="3.0"/><circle cx="332.5" cy="773.5" r="3.0"/><circle cx="342.3" cy="777.6" r="3.0"/><circle cx="703.3" cy="179.2" r="3.0"/><circle cx="341.5" cy="831.1" r="3.0"/><circle cx="197.3" cy="519.6" r="3.0"/><circle cx="358.7" cy="759.9" r="3.0"/><circle cx="367.6" cy="809.3" r="3.0"/><circle cx="346.5" cy="726.9" r="3.0"/><circle cx="391.3" cy="830.0" r="3.0"/><circle cx="904.4" cy="720.0" r="3.0"/><circle cx="180.7" cy="514.7" r="3.0"/><circle cx="498.0" cy="563.8" r="3.0"/><circle cx="343.2" cy="811.9" r="3.0"/><circle cx="915.6" cy="734.0" r="3.0"/><circle cx="348.0" cy="792.7" r="3.0"/><circle cx="628.2" cy="899.5" r="3.0"/><circle cx="347.6" cy="748.8" r="3.0"/><circle cx="492.4" cy="583.8" r="3.0"/><circle cx="330.8" cy="744.8" r="3.0"/><circle cx="728.0" cy="149.5" r="3.0"/><circle cx="166.7" cy="530.0" r="3.0"/><circle cx="711.2" cy="948.8" r="3.0"/><circle cx="977.0" cy="758.6" r="3.0"/><circle cx="392.5" cy="421.7" r="3.0"/><circle cx="691.7" cy="147.5" r="3.0"/><circle cx="360.6" cy="750.9" r="3.0"/><circle cx="459.2" cy="451.7" r="3.0"/><circle cx="360.7" cy="794.9" r="3.0"/><circle cx="192.7" cy="556.9" r="3.0"/><circle cx="318.8" cy="798.6" r="3.0"/><circle cx="669.2" cy="165.0" r="3.0"/><circle cx="326.8" cy="783.4" r="3.0"/><circle cx="480.0" cy="591.9" r="3.0"/><circle cx="946.0" cy="667.0" r="3.0"/><circle cx="327.9" cy="818.7" r="3.0"/><circle cx="621.8" cy="648.5" r="3.0"/><circle cx="349.1" cy="837.6" r="3.0"/><circle cx="787.4" cy="279.3" r="3.0"/><circle cx="456.7" cy="455.0" r="3.0"/><circle cx="485.2" cy="865.8" r="3.0"/><circle cx="305.8" cy="824.6" r="3.0"/><circle cx="331.8" cy="766.1" r="3.0"/><circle cx="969.6" cy="761.6" r="3.0"/><circle cx="972.0" cy="743.0" r="3.0"/><circle cx="307.6" cy="832.7" r="3.0"/><circle cx="432.5" cy="827.4" r="3.0"/><circle cx="475.4" cy="854.3" r="3.0"/><circle cx="437.4" cy="585.8" r="3.0"/><circle cx="736.2" cy="718.0" r="3.0"/><circle cx="675.8" cy="171.7" r="3.0"/><circle cx="673.3" cy="150.0" r="3.0"/><circle cx="343.7" cy="843.0" r="3.0"/><circle cx="1010.0" cy="716.4" r="3.0"/><circle cx="756.7" cy="199.7" r="3.0"/><circle cx="924.4" cy="733.0" r="3.0"/><circle cx="331.3" cy="832.2" r="3.0"/><circle cx="710.8" cy="453.0" r="3.0"/><circle cx="340.0" cy="730.7" r="3.0"/><circle cx="338.0" cy="787.6" r="3.0"/><circle cx="182.0" cy="516.9" r="3.0"/><circle cx="356.6" cy="744.2" r="3.0"/><circle cx="327.4" cy="847.3" r="3.0"/><circle cx="460.0" cy="596.7" r="3.0"/><circle cx="480.0" cy="585.0" r="3.0"/><circle cx="346.9" cy="830.0" r="3.0"/><circle cx="316.5" cy="795.6" r="3.0"/><circle cx="357.2" cy="767.4" r="3.0"/><circle cx="481.7" cy="561.3" r="3.0"/><circle cx="680.5" cy="446.3" r="3.0"/><circle cx="333.9" cy="776.9" r="3.0"/><circle cx="700.8" cy="853.0" r="3.0"/><circle cx="704.2" cy="125.8" r="3.0"/><circle cx="751.7" cy="197.5" r="3.0"/><circle cx="345.2" cy="789.4" r="3.0"/><circle cx="322.0" cy="740.1" r="3.0"/><circle cx="963.6" cy="694.4" r="3.0"/><circle cx="328.9" cy="762.8" r="3.0"/><circle cx="362.1" cy="760.7" r="3.0"/><circle cx="354.8" cy="848.7" r="3.0"/><circle cx="465.0" cy="593.3" r="3.0"/><circle cx="349.3" cy="770.7" r="3.0"/><circle cx="462.6" cy="576.6" r="3.0"/><circle cx="478.3" cy="575.0" r="3.0"/><circle cx="627.5" cy="673.0" r="3.0"/><circle cx="315.5" cy="812.7" r="3.0"/><circle cx="329.8" cy="774.3" r="3.0"/><circle cx="362.1" cy="768.9" r="3.0"/><circle cx="358.5" cy="788.4" r="3.0"/><circle cx="812.2" cy="274.2" r="3.0"/><circle cx="491.1" cy="582.9" r="3.0"/><circle cx="487.3" cy="866.8" r="3.0"/><circle cx="305.8" cy="841.9" r="3.0"/><circle cx="342.6" cy="721.0" r="3.0"/><circle cx="160.7" cy="551.3" r="3.0"/><circle cx="485.8" cy="460.0" r="3.0"/><circle cx="335.0" cy="801.8" r="3.0"/><circle cx="355.2" cy="765.0" r="3.0"/><circle cx="371.4" cy="786.2" r="3.0"/><circle cx="317.8" cy="819.5" r="3.0"/><circle cx="835.0" cy="288.3" r="3.0"/><circle cx="304.2" cy="824.4" r="3.0"/><circle cx="567.0" cy="778.0" r="3.0"/><circle cx="479.2" cy="570.0" r="3.0"/><circle cx="640.0" cy="671.0" r="3.0"/><circle cx="669.2" cy="430.8" r="3.0"/><circle cx="301.4" cy="852.8" r="3.0"/><circle cx="490.9" cy="555.3" r="3.0"/><circle cx="705.0" cy="158.3" r="3.0"/><circle cx="992.0" cy="717.0" r="3.0"/><circle cx="464.2" cy="557.5" r="3.0"/><circle cx="184.0" cy="539.1" r="3.0"/><circle cx="170.3" cy="531.3" r="3.0"/><circle cx="947.0" cy="706.0" r="3.0"/><circle cx="745.8" cy="189.2" r="3.0"/><circle cx="212.9" cy="516.4" r="3.0"/><circle cx="450.0" cy="413.3" r="3.0"/><circle cx="401.7" cy="434.2" r="3.0"/><circle cx="511.2" cy="877.7" r="3.0"/><circle cx="595.8" cy="387.8" r="3.0"/><circle cx="380.3" cy="408.3" r="3.0"/><circle cx="190.7" cy="508.3" r="3.0"/><circle cx="497.0" cy="501.3" r="3.0"/><circle cx="355.6" cy="851.7" r="3.0"/><circle cx="317.8" cy="844.9" r="3.0"/><circle cx="323.5" cy="845.3" r="3.0"/><circle cx="302.6" cy="858.0" r="3.0"/><circle cx="1009.0" cy="727.0" r="3.0"/><circle cx="369.7" cy="817.0" r="3.0"/><circle cx="810.2" cy="282.3" r="3.0"/><circle cx="368.6" cy="812.7" r="3.0"/><circle cx="700.0" cy="121.7" r="3.0"/><circle cx="316.8" cy="770.2" r="3.0"/><circle cx="319.6" cy="795.6" r="3.0"/><circle cx="334.6" cy="800.8" r="3.0"/><circle cx="729.7" cy="142.5" r="3.0"/><circle cx="522.5" cy="989.5" r="3.0"/><circle cx="329.1" cy="830.4" r="3.0"/><circle cx="457.4" cy="842.6" r="3.0"/><circle cx="337.7" cy="809.5" r="3.0"/><circle cx="340.3" cy="781.0" r="3.0"/><circle cx="334.8" cy="772.5" r="3.0"/><circle cx="496.9" cy="570.5" r="3.0"/><circle cx="449.8" cy="838.7" r="3.0"/><circle cx="320.9" cy="859.3" r="3.0"/><circle cx="170.4" cy="537.6" r="3.0"/><circle cx="376.9" cy="804.8" r="3.0"/><circle cx="346.6" cy="748.7" r="3.0"/><circle cx="450.0" cy="591.7" r="3.0"/><circle cx="249.3" cy="505.3" r="3.0"/><circle cx="369.7" cy="840.8" r="3.0"/><circle cx="308.2" cy="855.8" r="3.0"/><circle cx="634.0" cy="703.5" r="3.0"/></g>
<g fill="#8A60EF"><circle cx="965.6" cy="776.0" r="3.0"/><circle cx="986.4" cy="752.4" r="3.0"/><circle cx="940.0" cy="763.6" r="3.0"/><circle cx="615.3" cy="409.2" r="3.0"/><circle cx="995.0" cy="758.6" r="3.0"/><circle cx="997.6" cy="729.6" r="3.0"/><circle cx="957.6" cy="736.0" r="3.0"/><circle cx="605.3" cy="648.5" r="3.0"/><circle cx="676.5" cy="719.0" r="3.0"/><circle cx="946.4" cy="785.0" r="3.0"/><circle cx="1023.6" cy="721.6" r="3.0"/><circle cx="1043.6" cy="670.0" r="3.0"/><circle cx="1006.0" cy="770.4" r="3.0"/><circle cx="694.2" cy="175.8" r="3.0"/><circle cx="979.6" cy="681.0" r="3.0"/><circle cx="913.0" cy="777.6" r="3.0"/><circle cx="355.6" cy="817.0" r="3.0"/><circle cx="936.0" cy="738.0" r="3.0"/><circle cx="431.7" cy="583.3" r="3.0"/><circle cx="442.5" cy="588.3" r="3.0"/><circle cx="1041.0" cy="735.6" r="3.0"/><circle cx="919.0" cy="737.6" r="3.0"/><circle cx="951.6" cy="776.4" r="3.0"/><circle cx="912.4" cy="773.0" r="3.0"/><circle cx="502.5" cy="575.3" r="3.0"/><circle cx="813.3" cy="241.3" r="3.0"/><circle cx="990.0" cy="697.6" r="3.0"/><circle cx="1028.0" cy="737.0" r="3.0"/><circle cx="699.2" cy="154.2" r="3.0"/><circle cx="1023.0" cy="685.6" r="3.0"/><circle cx="950.0" cy="763.6" r="3.0"/><circle cx="904.0" cy="715.0" r="3.0"/><circle cx="308.4" cy="836.5" r="3.0"/><circle cx="976.0" cy="708.0" r="3.0"/><circle cx="1003.0" cy="694.0" r="3.0"/><circle cx="338.9" cy="840.4" r="3.0"/><circle cx="423.3" cy="545.0" r="3.0"/><circle cx="1029.6" cy="693.0" r="3.0"/><circle cx="963.6" cy="682.4" r="3.0"/><circle cx="988.0" cy="750.0" r="3.0"/><circle cx="979.6" cy="716.6" r="3.0"/><circle cx="979.6" cy="688.0" r="3.0"/><circle cx="1044.0" cy="661.6" r="3.0"/><circle cx="997.0" cy="736.0" r="3.0"/><circle cx="1040.4" cy="726.0" r="3.0"/><circle cx="1058.6" cy="660.0" r="3.0"/><circle cx="981.6" cy="769.6" r="3.0"/><circle cx="629.2" cy="410.8" r="3.0"/><circle cx="983.6" cy="704.4" r="3.0"/><circle cx="492.5" cy="576.7" r="3.0"/><circle cx="979.6" cy="685.0" r="3.0"/><circle cx="1051.6" cy="721.6" r="3.0"/><circle cx="1011.4" cy="685.6" r="3.0"/><circle cx="1000.0" cy="770.4" r="3.0"/><circle cx="1053.6" cy="650.6" r="3.0"/><circle cx="937.0" cy="763.6" r="3.0"/><circle cx="781.3" cy="210.3" r="3.0"/><circle cx="351.3" cy="779.7" r="3.0"/><circle cx="457.1" cy="592.8" r="3.0"/><circle cx="757.2" cy="219.2" r="3.0"/><circle cx="615.0" cy="862.0" r="3.0"/><circle cx="931.0" cy="737.6" r="3.0"/><circle cx="586.7" cy="544.2" r="3.0"/><circle cx="374.7" cy="731.9" r="3.0"/><circle cx="1038.6" cy="660.4" r="3.0"/><circle cx="929.0" cy="772.4" r="3.0"/><circle cx="741.7" cy="185.8" r="3.0"/><circle cx="1017.4" cy="726.0" r="3.0"/><circle cx="681.7" cy="136.7" r="3.0"/><circle cx="981.0" cy="710.0" r="3.0"/><circle cx="1033.0" cy="692.4" r="3.0"/><circle cx="488.3" cy="554.2" r="3.0"/><circle cx="1013.6" cy="694.0" r="3.0"/><circle cx="956.0" cy="706.0" r="3.0"/><circle cx="567.8" cy="502.5" r="3.0"/><circle cx="999.6" cy="749.0" r="3.0"/><circle cx="705.8" cy="442.0" r="3.0"/><circle cx="485.0" cy="361.3" r="3.0"/><circle cx="969.0" cy="704.0" r="3.0"/><circle cx="784.7" cy="216.2" r="3.0"/><circle cx="422.5" cy="555.8" r="3.0"/><circle cx="357.3" cy="755.3" r="3.0"/><circle cx="467.5" cy="559.7" r="3.0"/><circle cx="919.0" cy="777.6" r="3.0"/><circle cx="1021.6" cy="699.0" r="3.0"/><circle cx="676.7" cy="123.3" r="3.0"/><circle cx="1057.6" cy="668.0" r="3.0"/><circle cx="958.0" cy="769.0" r="3.0"/><circle cx="1027.0" cy="743.0" r="3.0"/><circle cx="1031.0" cy="704.0" r="3.0"/><circle cx="969.6" cy="722.0" r="3.0"/><circle cx="983.0" cy="722.0" r="3.0"/><circle cx="1060.4" cy="709.0" r="3.0"/><circle cx="929.0" cy="770.0" r="3.0"/><circle cx="971.6" cy="729.6" r="3.0"/><circle cx="982.0" cy="695.0" r="3.0"/><circle cx="1000.0" cy="721.6" r="3.0"/><circle cx="938.0" cy="743.6" r="3.0"/><circle cx="1036.0" cy="733.0" r="3.0"/><circle cx="481.2" cy="353.0" r="3.0"/><circle cx="908.4" cy="709.0" r="3.0"/><circle cx="423.0" cy="565.8" r="3.0"/><circle cx="1060.0" cy="696.4" r="3.0"/><circle cx="1034.0" cy="688.0" r="3.0"/><circle cx="1003.6" cy="689.0" r="3.0"/><circle cx="990.0" cy="695.6" r="3.0"/><circle cx="435.8" cy="567.5" r="3.0"/><circle cx="341.9" cy="784.1" r="3.0"/><circle cx="1022.6" cy="634.4" r="3.0"/><circle cx="1000.0" cy="754.0" r="3.0"/><circle cx="609.5" cy="843.0" r="3.0"/><circle cx="453.3" cy="563.3" r="3.0"/><circle cx="999.4" cy="639.0" r="3.0"/><circle cx="987.0" cy="715.0" r="3.0"/><circle cx="1003.0" cy="743.6" r="3.0"/><circle cx="989.0" cy="677.6" r="3.0"/><circle cx="969.6" cy="757.6" r="3.0"/><circle cx="1002.4" cy="728.0" r="3.0"/><circle cx="1031.0" cy="663.6" r="3.0"/><circle cx="1039.6" cy="709.0" r="3.0"/><circle cx="643.5" cy="665.5" r="3.0"/><circle cx="507.6" cy="574.8" r="3.0"/><circle cx="922.0" cy="775.6" r="3.0"/><circle cx="507.6" cy="564.6" r="3.0"/><circle cx="1012.0" cy="702.0" r="3.0"/><circle cx="461.5" cy="587.5" r="3.0"/><circle cx="920.6" cy="759.4" r="3.0"/><circle cx="962.0" cy="702.0" r="3.0"/><circle cx="966.6" cy="740.0" r="3.0"/><circle cx="946.0" cy="733.6" r="3.0"/><circle cx="913.6" cy="709.0" r="3.0"/><circle cx="934.0" cy="760.0" r="3.0"/><circle cx="992.0" cy="763.0" r="3.0"/><circle cx="619.2" cy="871.8" r="3.0"/><circle cx="430.8" cy="578.3" r="3.0"/><circle cx="965.6" cy="687.4" r="3.0"/><circle cx="724.7" cy="195.8" r="3.0"/><circle cx="991.0" cy="732.4" r="3.0"/><circle cx="1034.4" cy="712.0" r="3.0"/><circle cx="430.0" cy="570.8" r="3.0"/><circle cx="962.4" cy="675.6" r="3.0"/><circle cx="1054.4" cy="663.0" r="3.0"/><circle cx="980.0" cy="782.0" r="3.0"/><circle cx="956.0" cy="761.0" r="3.0"/><circle cx="1029.0" cy="707.0" r="3.0"/><circle cx="982.4" cy="663.6" r="3.0"/><circle cx="316.6" cy="823.9" r="3.0"/></g>
<g fill="#673DF8"><circle cx="726.7" cy="173.0" r="3.0"/><circle cx="676.5" cy="734.0" r="3.0"/><circle cx="670.0" cy="146.7" r="3.0"/><circle cx="1026.6" cy="698.0" r="3.0"/><circle cx="966.0" cy="725.6" r="3.0"/><circle cx="1038.6" cy="741.6" r="3.0"/><circle cx="744.7" cy="210.8" r="3.0"/></g>
<g fill="#4926FB"><circle cx="1020.4" cy="749.6" r="3.0"/><circle cx="1026.0" cy="698.0" r="3.0"/><circle cx="1038.6" cy="741.6" r="3.0"/></g>
<g fill="#0000FF"><circle cx="963.6" cy="765.6" r="3.0"/></g>
<line x1="95.45" y1="50.75" x2="95.45" y2="1120.9" stroke="#000" stroke-width="2.85"/><line x1="94.0" y1="1119.45" x2="1118" y2="1119.45" stroke="#000" stroke-width="2.85"/><line x1="90" y1="277.25" x2="95" y2="277.25" stroke="#000" stroke-width="2.85"/><g transform="translate(88.30,287.95) scale(1,1.087)"><text id="t1" text-anchor="end" class="t"> 0</text><path transform="translate(-32.81,0) scale(0.014404,-0.014404)" d="M687 0H507V1030H194V1175Q344 1195 429 1240Q544 1320 604 1470H687Z"/></g><line x1="90" y1="571.25" x2="95" y2="571.25" stroke="#000" stroke-width="2.85"/><g transform="translate(88.30,581.95) scale(1,1.087)"><text id="t2" text-anchor="end" class="t">0</text></g><line x1="90" y1="865.25" x2="95" y2="865.25" stroke="#000" stroke-width="2.85"/><g transform="translate(88.30,875.95) scale(1,1.087)"><text id="t3" text-anchor="end" class="t">- 0</text><path transform="translate(-32.81,0) scale(0.014404,-0.014404)" d="M687 0H507V1030H194V1175Q344 1195 429 1240Q544 1320 604 1470H687Z"/></g><line x1="141.78" y1="1120" x2="141.78" y2="1124.6" stroke="#000" stroke-width="2.85"/><g transform="translate(141.78,1147.80) scale(1,1.087)"><text id="t4" text-anchor="middle" class="t">- 5</text><path transform="translate(-11.50,0) scale(0.014404,-0.014404)" d="M687 0H507V1030H194V1175Q344 1195 429 1240Q544 1320 604 1470H687Z"/></g><line x1="307.52" y1="1120" x2="307.52" y2="1124.6" stroke="#000" stroke-width="2.85"/><g transform="translate(307.52,1147.80) scale(1,1.087)"><text id="t5" text-anchor="middle" class="t">- 0</text><path transform="translate(-11.50,0) scale(0.014404,-0.014404)" d="M687 0H507V1030H194V1175Q344 1195 429 1240Q544 1320 604 1470H687Z"/></g><line x1="473.26" y1="1120" x2="473.26" y2="1124.6" stroke="#000" stroke-width="2.85"/><g transform="translate(473.26,1147.80) scale(1,1.087)"><text id="t6" text-anchor="middle" class="t">-5</text></g><line x1="639.00" y1="1120" x2="639.00" y2="1124.6" stroke="#000" stroke-width="2.85"/><g transform="translate(639.00,1147.80) scale(1,1.087)"><text id="t7" text-anchor="middle" class="t">0</text></g><line x1="804.74" y1="1120" x2="804.74" y2="1124.6" stroke="#000" stroke-width="2.85"/><g transform="translate(804.74,1147.80) scale(1,1.087)"><text id="t8" text-anchor="middle" class="t">5</text></g><line x1="970.48" y1="1120" x2="970.48" y2="1124.6" stroke="#000" stroke-width="2.85"/><g transform="translate(970.48,1147.80) scale(1,1.087)"><text id="t9" text-anchor="middle" class="t"> 0</text><path transform="translate(-16.40,0) scale(0.014404,-0.014404)" d="M687 0H507V1030H194V1175Q344 1195 429 1240Q544 1320 604 1470H687Z"/></g>
<g transform="translate(605.80,1181.00) scale(1,1.087)"><text id="t11" text-anchor="middle" class="t" letter-spacing="0.45">umapNC_ </text><path transform="translate(59.51,0) scale(0.014404,-0.014404)" d="M687 0H507V1030H194V1175Q344 1195 429 1240Q544 1320 604 1470H687Z"/></g>
<g transform="translate(34,586) rotate(-90)"><g transform="translate(0.00,0.00) scale(1,1.087)"><text id="t12" text-anchor="middle" class="t" letter-spacing="0.6">umapNC_2</text></g></g>
<defs><linearGradient id="g" x1="0" y1="1" x2="0" y2="0"><stop offset="0.0" stop-color="#D3D3D3"/><stop offset="0.1" stop-color="#CAC0D9"/><stop offset="0.2" stop-color="#C1AEDE"/><stop offset="0.3" stop-color="#B69CE3"/><stop offset="0.4" stop-color="#AA89E7"/><stop offset="0.5" stop-color="#9D77EC"/><stop offset="0.6" stop-color="#8E65F0"/><stop offset="0.7" stop-color="#7C51F4"/><stop offset="0.8" stop-color="#673DF8"/><stop offset="0.9" stop-color="#4926FB"/><stop offset="1.0" stop-color="#0000FF"/></linearGradient></defs>
<rect x="1130.2" y="547.6" width="15.4" height="76.4" fill="url(#g)"/><line x1="1130.2" y1="623.50" x2="1133.3" y2="623.50" stroke="#fff" stroke-width="0.8"/><line x1="1142.5" y1="623.50" x2="1145.6" y2="623.50" stroke="#fff" stroke-width="0.8"/><g transform="translate(1153.80,633.40) scale(1,1.03)"><text id="t13" text-anchor="start" class="lg">0.0</text></g><line x1="1130.2" y1="602.40" x2="1133.3" y2="602.40" stroke="#fff" stroke-width="0.8"/><line x1="1142.5" y1="602.40" x2="1145.6" y2="602.40" stroke="#fff" stroke-width="0.8"/><g transform="translate(1153.80,612.30) scale(1,1.03)"><text id="t14" text-anchor="start" class="lg">0.5</text></g><line x1="1130.2" y1="581.30" x2="1133.3" y2="581.30" stroke="#fff" stroke-width="0.8"/><line x1="1142.5" y1="581.30" x2="1145.6" y2="581.30" stroke="#fff" stroke-width="0.8"/><g transform="translate(1153.80,591.20) scale(1,1.03)"><text id="t15" text-anchor="start" class="lg"> .0</text><path transform="translate(0.00,0) scale(0.011963,-0.011963)" d="M687 0H507V1030H194V1175Q344 1195 429 1240Q544 1320 604 1470H687Z"/></g><line x1="1130.2" y1="560.20" x2="1133.3" y2="560.20" stroke="#fff" stroke-width="0.8"/><line x1="1142.5" y1="560.20" x2="1145.6" y2="560.20" stroke="#fff" stroke-width="0.8"/><g transform="translate(1153.80,570.10) scale(1,1.03)"><text id="t16" text-anchor="start" class="lg"> .5</text><path transform="translate(0.00,0) scale(0.011963,-0.011963)" d="M687 0H507V1030H194V1175Q344 1195 429 1240Q544 1320 604 1470H687Z"/></g>
</svg></body></html>
